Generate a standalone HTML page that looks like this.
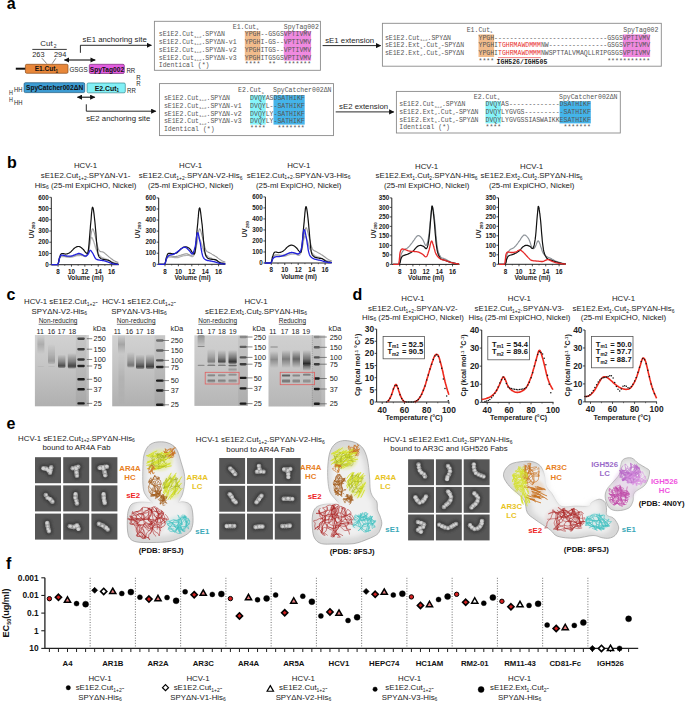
<!DOCTYPE html><html><head><meta charset="utf-8"><title>Figure</title><style>html,body{margin:0;padding:0;background:#fff;}svg{display:block;font-family:"Liberation Sans",sans-serif;}.m{font-family:"Liberation Mono",monospace;white-space:pre;}</style></head><body>
<svg width="685" height="704" viewBox="0 0 685 704">
<defs><marker id="ah" viewBox="0 0 10 10" refX="9" refY="5" markerWidth="5.6" markerHeight="5.2" markerUnits="userSpaceOnUse" orient="auto-start-reverse"><path d="M0,0 L10,5 L0,10 z" fill="#111"/></marker><filter id="bl1" x="-50%" y="-50%" width="200%" height="200%"><feGaussianBlur stdDeviation="0.7"/></filter><filter id="bl2" x="-50%" y="-50%" width="200%" height="200%"><feGaussianBlur stdDeviation="1.2"/></filter><filter id="bl4" x="-20%" y="-20%" width="140%" height="140%"><feGaussianBlur stdDeviation="2.6"/></filter><filter id="bl3" x="-20%" y="-20%" width="140%" height="140%"><feGaussianBlur stdDeviation="0.45"/></filter><linearGradient id="dens" x1="0" y1="0" x2="1" y2="1"><stop offset="0" stop-color="#f4f4f4"/><stop offset="1" stop-color="#dcdcdc"/></linearGradient></defs>
<rect width="685" height="704" fill="#fff"/>
<g fill="#222">
<text x="6.8" y="9.4" font-size="16" font-weight="bold" fill="#000">a</text>
<text x="6.9" y="168" font-size="16" font-weight="bold" fill="#000">b</text>
<text x="6.6" y="300.4" font-size="16" font-weight="bold" fill="#000">c</text>
<text x="352.6" y="299.7" font-size="16" font-weight="bold" fill="#000">d</text>
<text x="6.4" y="429" font-size="16" font-weight="bold" fill="#000">e</text>
<text x="6" y="568.9" font-size="16" font-weight="bold" fill="#000">f</text>
<text x="40.3" y="46.3" font-size="7.9" fill="#262626">Cut<tspan font-size="5" dx="1.2" dy="1.6">2</tspan></text>
<line x1="32.3" y1="49.4" x2="66.8" y2="49.4" stroke="#222" stroke-width="0.9"/>
<text x="32.2" y="57.2" font-size="7.4" fill="#262626">263</text>
<text x="54" y="57.2" font-size="7.4" fill="#262626">294</text>
<line x1="41.9" y1="58.2" x2="46.7" y2="63.6" stroke="#333" stroke-width="0.6"/>
<line x1="55.9" y1="58.2" x2="52.2" y2="63.6" stroke="#333" stroke-width="0.6"/>
<line x1="15.8" y1="68.7" x2="25.5" y2="68.7" stroke="#111" stroke-width="2"/>
<rect x="25.4" y="64.3" width="42.6" height="9" fill="#E8873A" stroke="#8a4a1a" stroke-width="0.7" rx="1.3"/>
<text x="46.4" y="71.3" font-size="6.6" font-weight="bold" text-anchor="middle" fill="#111">E1.Cut<tspan font-size="4.5" dy="1.3">1</tspan></text>
<text x="69.4" y="71.5" font-size="7.3" fill="#262626" textLength="18.2" lengthAdjust="spacingAndGlyphs">GSGS</text>
<rect x="89.3" y="64.3" width="35" height="9.2" fill="#E25CE0" stroke="#7a2a7a" stroke-width="0.7" rx="1.3"/>
<text x="106.9" y="71.5" font-size="6.6" text-anchor="middle" font-weight="bold" fill="#111">SpyTag002</text>
<text x="126.4" y="72.8" font-size="7" fill="#262626" textLength="8.8" lengthAdjust="spacingAndGlyphs">RR</text>
<text x="136.3" y="79.6" font-size="7" fill="#262626" textLength="4.4" lengthAdjust="spacingAndGlyphs">R</text>
<text x="136.3" y="86" font-size="7" fill="#262626" textLength="4.4" lengthAdjust="spacingAndGlyphs">R</text>
<rect x="24.1" y="82.7" width="60.6" height="9.9" fill="#3C9BD2" stroke="#1d5a80" stroke-width="0.7" rx="1.3"/>
<text x="54.6" y="90.1" font-size="6.6" text-anchor="middle" font-weight="bold" fill="#111">SpyCatcher002ΔN</text>
<rect x="87.1" y="83" width="38.2" height="9.8" fill="#82F0F6" stroke="#3a8a90" stroke-width="0.7" rx="1.3"/>
<text x="106.8" y="90.5" font-size="6.9" font-weight="bold" text-anchor="middle" fill="#111">E2.Cut<tspan font-size="4.5" dy="1.3">1</tspan></text>
<text x="127" y="92.6" font-size="7" fill="#262626" textLength="8.8" lengthAdjust="spacingAndGlyphs">RR</text>
<text x="13.9" y="91.8" font-size="7.6" fill="#262626" textLength="8.5" lengthAdjust="spacingAndGlyphs">HH</text>
<text x="8.9" y="95" font-size="6.6" fill="#262626" textLength="3.9" lengthAdjust="spacingAndGlyphs">H</text>
<text x="8.9" y="101.7" font-size="6.6" fill="#262626" textLength="3.9" lengthAdjust="spacingAndGlyphs">H</text>
<text x="13.9" y="104.7" font-size="7.6" fill="#262626" textLength="8.5" lengthAdjust="spacingAndGlyphs">HH</text>
<line x1="64.4" y1="60" x2="95.2" y2="60" stroke="#111" stroke-width="1.1" marker-start="url(#ah)" marker-end="url(#ah)"/>
<line x1="77.4" y1="97.2" x2="94.8" y2="97.2" stroke="#111" stroke-width="1.1" marker-start="url(#ah)" marker-end="url(#ah)"/>
<polyline points="80.4,52.8 80.4,45.3 151.4,45.3" fill="none" stroke="#111" stroke-width="0.9" marker-end="url(#ah)"/>
<text x="82.6" y="42" font-size="7.8" fill="#262626">sE1 anchoring site</text>
<polyline points="86.3,104.3 86.3,111.2 155.8,111.2" fill="none" stroke="#111" stroke-width="0.9" marker-end="url(#ah)"/>
<text x="86.2" y="120.6" font-size="7.8" fill="#262626">sE2 anchoring site</text>
<polyline points="322.6,45.6 380.6,45.6" fill="none" stroke="#111" stroke-width="0.9" marker-end="url(#ah)"/>
<text x="325.2" y="42.5" font-size="7.8" fill="#262626">sE1 extension</text>
<polyline points="335.7,111.9 393.8,111.9" fill="none" stroke="#111" stroke-width="0.9" marker-end="url(#ah)"/>
<text x="339.1" y="108.6" font-size="7.8" fill="#262626">sE2 extension</text>
<rect x="154.4" y="21.3" width="166" height="49" fill="none" stroke="#8a8a8a" stroke-width="0.9"/>
<rect x="244.8" y="31" width="15.6" height="29.6" fill="#F2BC8C"/>
<rect x="283.8" y="31" width="27.3" height="29.6" fill="#F08AE0"/>
<text x="232.8" y="28.5" font-size="6.5" fill="#555" class="m">E1.Cut<tspan font-size="4.2" dy="1.3">1</tspan></text>
<text x="283.8" y="28.5" font-size="6.5" fill="#555" class="m">SpyTag002</text>
<text x="158.8" y="36.3" font-size="6.5" fill="#555" class="m">sE1E2.Cut<tspan font-size="4.2" dy="1.3">1+2</tspan><tspan dy="-1.3">.SPYΔN</tspan></text>
<text x="244.8" y="36.3" font-size="6.5" fill="#555" class="m">YPGH--GSGSVPTIVMV</text>
<text x="158.8" y="44" font-size="6.5" fill="#555" class="m">sE1E2.Cut<tspan font-size="4.2" dy="1.3">1+2</tspan><tspan dy="-1.3">.SPYΔN-v1</tspan></text>
<text x="244.8" y="44" font-size="6.5" fill="#555" class="m">YPGHI-GS--VPTIVMV</text>
<text x="158.8" y="51.8" font-size="6.5" fill="#555" class="m">sE1E2.Cut<tspan font-size="4.2" dy="1.3">1+2</tspan><tspan dy="-1.3">.SPYΔN-v2</tspan></text>
<text x="244.8" y="51.8" font-size="6.5" fill="#555" class="m">YPGHITGS--VPTIVMV</text>
<text x="158.8" y="59.5" font-size="6.5" fill="#555" class="m">sE1E2.Cut<tspan font-size="4.2" dy="1.3">1+2</tspan><tspan dy="-1.3">.SPYΔN-v3</tspan></text>
<text x="244.8" y="59.5" font-size="6.5" fill="#555" class="m">YPGHITGSGSVPTIVMV</text>
<text x="158.8" y="67.3" font-size="6.5" fill="#555" class="m">Identical (*)</text>
<text x="244.8" y="66.3" font-size="6.5" fill="#555" class="m">****  **  *******</text>
<rect x="382.4" y="23.3" width="278.9" height="42.9" fill="none" stroke="#8a8a8a" stroke-width="0.9"/>
<rect x="478.5" y="34.4" width="15.6" height="22.6" fill="#F2BC8C"/>
<rect x="622.8" y="34.4" width="27.3" height="22.6" fill="#F08AE0"/>
<text x="466.7" y="31.7" font-size="6.5" fill="#555" class="m">E1.Cut<tspan font-size="4.2" dy="1.3">1</tspan></text>
<text x="623.3" y="31.7" font-size="6.5" fill="#555" class="m">SpyTag002</text>
<text x="384.9" y="39.5" font-size="6.5" fill="#555" class="m">sE1E2.Cut<tspan font-size="4.2" dy="1.3">1+2</tspan><tspan dy="-1.3">.SPYΔN</tspan></text>
<text x="478.5" y="39.5" font-size="6.5" fill="#555" class="m">YPGH-----------------------------GSGSVPTIVMV</text>
<text x="384.9" y="47.2" font-size="6.5" fill="#555" class="m">sE1E2.Ext<tspan font-size="4.2" dy="1.3">1</tspan><tspan dy="-1.3">.Cut</tspan><tspan font-size="4.2" dy="1.3">2</tspan><tspan dy="-1.3">-SPYΔN</tspan></text>
<text x="478.5" y="47.2" font-size="6.5" fill="#555" class="m">YPGHI</text>
<text x="498" y="47.2" font-size="6.5" fill="#E83030" class="m">TGHRMAWDMMM</text>
<text x="540.9" y="47.2" font-size="6.5" fill="#555" class="m">NW---------------GSGSVPTIVMV</text>
<text x="384.9" y="54.9" font-size="6.5" fill="#555" class="m">sE1E2.Ext<tspan font-size="4.2" dy="1.3">2</tspan><tspan dy="-1.3">.Cut</tspan><tspan font-size="4.2" dy="1.3">2</tspan><tspan dy="-1.3">-SPYΔN</tspan></text>
<text x="478.5" y="54.9" font-size="6.5" fill="#555" class="m">YPGHI</text>
<text x="498" y="54.9" font-size="6.5" fill="#E83030" class="m">TGHRMAWDMMM</text>
<text x="540.9" y="54.9" font-size="6.5" fill="#555" class="m">NWSPTTALVMAQLLRIPGSGSVPTIVMV</text>
<line x1="498" y1="57.6" x2="540.9" y2="57.6" stroke="#E83030" stroke-width="0.6"/>
<text x="478.5" y="62.8" font-size="6.5" fill="#555" class="m">****                             ***********</text>
<text x="496.6" y="63.6" font-size="6.5" font-weight="bold" fill="#222" class="m">IGH526/IGH505</text>
<rect x="159.5" y="83.6" width="174" height="52" fill="none" stroke="#8a8a8a" stroke-width="0.9"/>
<rect x="250.1" y="95.1" width="15.6" height="29.5" fill="#86F4FA"/>
<rect x="273.5" y="95.1" width="31.2" height="29.5" fill="#44B4EA"/>
<text x="238.0" y="92.4" font-size="6.5" fill="#555" class="m">E2.Cut<tspan font-size="4.2" dy="1.3">1</tspan></text>
<text x="273.0" y="92.4" font-size="6.5" fill="#555" class="m">SpyCatcher002ΔN</text>
<text x="163.9" y="100" font-size="6.5" fill="#555" class="m">sE1E2.Cut<tspan font-size="4.2" dy="1.3">1+2</tspan><tspan dy="-1.3">.SPYΔN</tspan></text>
<text x="250.1" y="100" font-size="6.5" fill="#555" class="m">DVQYASDSATHIKF</text>
<text x="163.9" y="107.7" font-size="6.5" fill="#555" class="m">sE1E2.Cut<tspan font-size="4.2" dy="1.3">1+2</tspan><tspan dy="-1.3">.SPYΔN-v1</tspan></text>
<text x="250.1" y="107.7" font-size="6.5" fill="#555" class="m">DVQYL--SATHIKF</text>
<text x="163.9" y="115.5" font-size="6.5" fill="#555" class="m">sE1E2.Cut<tspan font-size="4.2" dy="1.3">1+2</tspan><tspan dy="-1.3">.SPYΔN-v2</tspan></text>
<text x="250.1" y="115.5" font-size="6.5" fill="#555" class="m">DVQYLY-SATHIKF</text>
<text x="163.9" y="123.2" font-size="6.5" fill="#555" class="m">sE1E2.Cut<tspan font-size="4.2" dy="1.3">1+2</tspan><tspan dy="-1.3">.SPYΔN-v3</tspan></text>
<text x="250.1" y="123.2" font-size="6.5" fill="#555" class="m">DVQYLY-SATHIKF</text>
<text x="163.9" y="131" font-size="6.5" fill="#555" class="m">Identical (*)</text>
<text x="250.1" y="130" font-size="6.5" fill="#555" class="m">****   *******</text>
<rect x="396.4" y="91.4" width="223.9" height="41.6" fill="none" stroke="#8a8a8a" stroke-width="0.9"/>
<rect x="485.5" y="101.3" width="15.6" height="22.1" fill="#86F4FA"/>
<rect x="559.6" y="101.3" width="31.2" height="22.1" fill="#44B4EA"/>
<text x="473.8" y="98.7" font-size="6.5" fill="#555" class="m">E2.Cut<tspan font-size="4.2" dy="1.3">1</tspan></text>
<text x="559.0" y="98.5" font-size="6.5" fill="#555" class="m">SpyCatcher002ΔN</text>
<text x="399.3" y="106.3" font-size="6.5" fill="#555" class="m">sE1E2.Cut<tspan font-size="4.2" dy="1.3">1+2</tspan><tspan dy="-1.3">.SPYΔN</tspan></text>
<text x="485.5" y="106.3" font-size="6.5" fill="#555" class="m">DVQYAS-------------DSATHIKF</text>
<text x="399.3" y="114.1" font-size="6.5" fill="#555" class="m">sE1E2.Ext<tspan font-size="4.2" dy="1.3">2</tspan><tspan dy="-1.3">.Cut</tspan><tspan font-size="4.2" dy="1.3">2</tspan><tspan dy="-1.3">-SPYΔN</tspan></text>
<text x="485.5" y="114.1" font-size="6.5" fill="#555" class="m">DVQYLYGVGS----------SATHIKF</text>
<text x="399.3" y="121.8" font-size="6.5" fill="#555" class="m">sE1E2.Ext<tspan font-size="4.2" dy="1.3">1</tspan><tspan dy="-1.3">.Cut</tspan><tspan font-size="4.2" dy="1.3">2</tspan><tspan dy="-1.3">-SPYΔN</tspan></text>
<text x="485.5" y="121.8" font-size="6.5" fill="#555" class="m">DVQYLYGVGSSIASWAIKKESATHIKF</text>
<text x="399.3" y="129.3" font-size="6.5" fill="#555" class="m">Identical (*)</text>
<text x="485.5" y="128.5" font-size="6.5" fill="#555" class="m">****                *******</text>
<path d="M51.3,197.3 L51.3,264.7 L118.8,264.7" fill="none" stroke="#222" stroke-width="1"/>
<line x1="49.3" y1="264.7" x2="51.3" y2="264.7" stroke="#222" stroke-width="0.8"/>
<text x="48.7" y="266.9" font-size="6.3" text-anchor="end" font-weight="bold">0</text>
<line x1="49.3" y1="253.47" x2="51.3" y2="253.47" stroke="#222" stroke-width="0.8"/>
<text x="48.7" y="255.67" font-size="6.3" text-anchor="end" font-weight="bold">100</text>
<line x1="49.3" y1="242.23" x2="51.3" y2="242.23" stroke="#222" stroke-width="0.8"/>
<text x="48.7" y="244.43" font-size="6.3" text-anchor="end" font-weight="bold">200</text>
<line x1="49.3" y1="231" x2="51.3" y2="231" stroke="#222" stroke-width="0.8"/>
<text x="48.7" y="233.2" font-size="6.3" text-anchor="end" font-weight="bold">300</text>
<line x1="49.3" y1="219.77" x2="51.3" y2="219.77" stroke="#222" stroke-width="0.8"/>
<text x="48.7" y="221.97" font-size="6.3" text-anchor="end" font-weight="bold">400</text>
<line x1="49.3" y1="208.53" x2="51.3" y2="208.53" stroke="#222" stroke-width="0.8"/>
<text x="48.7" y="210.73" font-size="6.3" text-anchor="end" font-weight="bold">500</text>
<line x1="49.3" y1="197.3" x2="51.3" y2="197.3" stroke="#222" stroke-width="0.8"/>
<text x="48.7" y="199.5" font-size="6.3" text-anchor="end" font-weight="bold">600</text>
<line x1="58.1" y1="264.7" x2="58.1" y2="266.7" stroke="#222" stroke-width="0.8"/>
<text x="58.1" y="273.9" font-size="6.3" text-anchor="middle" font-weight="bold">8</text>
<line x1="71.47" y1="264.7" x2="71.47" y2="266.7" stroke="#222" stroke-width="0.8"/>
<text x="71.47" y="273.9" font-size="6.3" text-anchor="middle" font-weight="bold">10</text>
<line x1="84.85" y1="264.7" x2="84.85" y2="266.7" stroke="#222" stroke-width="0.8"/>
<text x="84.85" y="273.9" font-size="6.3" text-anchor="middle" font-weight="bold">12</text>
<line x1="98.22" y1="264.7" x2="98.22" y2="266.7" stroke="#222" stroke-width="0.8"/>
<text x="98.22" y="273.9" font-size="6.3" text-anchor="middle" font-weight="bold">14</text>
<line x1="111.6" y1="264.7" x2="111.6" y2="266.7" stroke="#222" stroke-width="0.8"/>
<text x="111.6" y="273.9" font-size="6.3" text-anchor="middle" font-weight="bold">16</text>
<line x1="64.79" y1="264.7" x2="64.79" y2="265.9" stroke="#222" stroke-width="0.6"/>
<line x1="78.16" y1="264.7" x2="78.16" y2="265.9" stroke="#222" stroke-width="0.6"/>
<line x1="91.54" y1="264.7" x2="91.54" y2="265.9" stroke="#222" stroke-width="0.6"/>
<line x1="104.91" y1="264.7" x2="104.91" y2="265.9" stroke="#222" stroke-width="0.6"/>
<text x="85.55" y="280.3" font-size="6.4" text-anchor="middle" font-weight="bold">Volume (ml)</text>
<text transform="translate(33.5,230.3) rotate(-90)" font-size="6.6" font-weight="bold" text-anchor="middle" fill="#222">UV<tspan font-size="4.3" dy="1.5">280</tspan></text>
<path d="M51.4,264.7 L51.9,264.7 L52.6,264.7 L53.4,264.7 L54.3,264.7 L55.2,264.7 L56.0,264.7 L56.8,264.7 L57.4,264.7 L57.9,264.1 L58.3,263.2 L58.6,262.2 L58.9,261.1 L59.2,260.0 L59.5,258.9 L59.8,258.0 L60.1,257.4 L60.5,257.0 L60.8,256.7 L61.2,256.6 L61.5,256.5 L61.9,256.5 L62.4,256.6 L62.9,256.6 L63.5,256.6 L64.1,256.6 L64.9,256.7 L65.7,256.9 L66.6,257.0 L67.5,257.1 L68.4,257.2 L69.3,257.3 L70.1,257.3 L71.0,257.2 L71.8,257.0 L72.7,256.8 L73.6,256.6 L74.4,256.3 L75.2,256.1 L76.1,255.9 L76.8,255.7 L77.6,255.6 L78.3,255.5 L79.0,255.5 L79.7,255.5 L80.3,255.4 L81.0,255.4 L81.6,255.5 L82.2,255.5 L82.7,255.6 L83.3,255.8 L83.8,256.1 L84.3,256.3 L84.8,256.5 L85.3,256.6 L85.8,256.6 L86.2,256.3 L86.6,255.8 L87.0,255.1 L87.3,254.3 L87.6,253.4 L87.9,252.4 L88.2,251.3 L88.6,250.1 L88.9,249.0 L89.2,247.7 L89.5,246.1 L89.8,244.4 L90.1,242.7 L90.3,241.1 L90.6,239.6 L90.9,238.5 L91.2,237.7 L91.5,237.4 L91.8,237.4 L92.0,237.6 L92.3,238.1 L92.6,238.7 L92.9,239.5 L93.2,240.3 L93.5,241.1 L93.9,242.1 L94.3,243.3 L94.7,244.6 L95.1,246.0 L95.5,247.5 L96.0,248.9 L96.4,250.1 L96.9,251.2 L97.3,252.2 L97.8,253.0 L98.3,253.8 L98.8,254.5 L99.3,255.2 L99.8,255.8 L100.3,256.3 L100.9,256.8 L101.5,257.3 L102.1,257.6 L102.8,257.9 L103.5,258.1 L104.2,258.3 L104.9,258.6 L105.6,258.8 L106.2,259.1 L106.9,259.4 L107.6,259.8 L108.2,260.1 L108.8,260.5 L109.5,260.9 L110.2,261.3 L110.9,261.6 L111.6,261.9 L112.4,262.2 L113.3,262.4 L114.3,262.7 L115.3,262.9 L116.2,263.1 L117.1,263.3 L117.8,263.5 L118.3,263.6" fill="none" stroke="#b4b4b4" stroke-width="1.3" stroke-linejoin="round"/>
<path d="M51.4,264.7 L51.9,264.7 L52.6,264.7 L53.4,264.7 L54.3,264.7 L55.2,264.7 L56.0,264.7 L56.8,264.7 L57.4,264.7 L57.9,264.0 L58.3,263.1 L58.7,262.0 L59.0,260.8 L59.3,259.6 L59.5,258.5 L59.8,257.6 L60.1,256.8 L60.4,256.4 L60.7,256.0 L61.0,255.8 L61.2,255.7 L61.5,255.7 L61.9,255.7 L62.3,255.7 L62.8,255.7 L63.4,255.7 L64.1,255.8 L64.8,256.0 L65.6,256.2 L66.4,256.3 L67.2,256.5 L68.0,256.6 L68.8,256.6 L69.6,256.6 L70.3,256.5 L71.1,256.3 L71.9,256.2 L72.7,256.0 L73.4,255.8 L74.1,255.6 L74.8,255.5 L75.5,255.3 L76.1,255.1 L76.6,255.0 L77.2,254.8 L77.8,254.6 L78.3,254.5 L78.9,254.4 L79.5,254.4 L80.2,254.4 L80.8,254.6 L81.5,254.9 L82.3,255.2 L83.0,255.4 L83.6,255.7 L84.3,255.8 L84.8,255.7 L85.4,255.6 L85.8,255.5 L86.3,255.4 L86.7,255.2 L87.1,254.8 L87.5,254.2 L87.8,253.4 L88.2,252.3 L88.6,250.8 L88.9,248.8 L89.3,246.6 L89.6,244.1 L89.9,241.7 L90.3,239.3 L90.6,237.2 L90.9,235.5 L91.1,234.1 L91.4,232.7 L91.6,231.5 L91.9,230.5 L92.1,229.7 L92.3,229.1 L92.6,228.8 L92.9,228.8 L93.2,229.1 L93.5,229.8 L93.8,230.8 L94.1,232.1 L94.5,233.4 L94.8,234.9 L95.2,236.3 L95.5,237.7 L95.9,239.2 L96.3,240.8 L96.7,242.6 L97.1,244.3 L97.5,246.1 L97.9,247.6 L98.4,249.0 L98.9,250.1 L99.4,250.8 L100.0,251.3 L100.5,251.6 L101.1,251.7 L101.7,251.8 L102.3,251.9 L102.9,252.0 L103.6,252.3 L104.2,252.8 L104.9,253.3 L105.5,253.9 L106.2,254.5 L106.9,255.1 L107.6,255.7 L108.3,256.3 L108.9,256.8 L109.6,257.4 L110.3,257.9 L111.0,258.5 L111.7,259.0 L112.4,259.5 L113.0,260.0 L113.7,260.4 L114.3,260.8 L114.9,261.1 L115.5,261.4 L116.1,261.6 L116.6,261.9 L117.1,262.0 L117.6,262.2 L118.0,262.3 L118.3,262.5" fill="none" stroke="#9c9c9c" stroke-width="1.1" stroke-linejoin="round"/>
<path d="M51.4,264.7 L51.9,264.7 L52.6,264.7 L53.4,264.7 L54.3,264.7 L55.2,264.7 L56.1,264.7 L56.8,264.7 L57.4,264.7 L57.9,264.2 L58.2,263.4 L58.5,262.6 L58.7,261.6 L58.9,260.6 L59.0,259.6 L59.2,258.7 L59.4,258.0 L59.7,257.3 L59.9,256.6 L60.1,256.0 L60.3,255.4 L60.5,254.8 L60.8,254.4 L61.1,254.0 L61.4,253.7 L61.9,253.5 L62.4,253.5 L63.0,253.6 L63.7,253.7 L64.3,253.8 L64.9,254.0 L65.6,254.1 L66.1,254.0 L66.7,253.9 L67.2,253.8 L67.6,253.7 L68.1,253.5 L68.6,253.3 L69.1,253.0 L69.6,252.7 L70.1,252.3 L70.7,251.9 L71.3,251.3 L71.9,250.7 L72.5,250.1 L73.1,249.4 L73.7,248.8 L74.3,248.3 L74.8,247.8 L75.4,247.5 L75.9,247.2 L76.4,246.9 L76.9,246.7 L77.4,246.6 L77.8,246.5 L78.3,246.5 L78.8,246.5 L79.3,246.6 L79.9,246.8 L80.4,247.1 L80.9,247.4 L81.4,247.8 L81.9,248.2 L82.4,248.6 L82.8,249.0 L83.3,249.4 L83.8,250.0 L84.2,250.6 L84.6,251.2 L85.1,251.8 L85.5,252.3 L85.8,252.7 L86.2,252.9 L86.5,253.1 L86.8,253.4 L87.0,253.7 L87.3,253.9 L87.5,253.9 L87.7,253.5 L87.9,252.6 L88.2,251.2 L88.5,249.1 L88.8,246.3 L89.1,243.0 L89.4,239.3 L89.7,235.6 L90.0,231.9 L90.3,228.4 L90.5,225.4 L90.8,222.5 L91.1,219.5 L91.3,216.5 L91.5,213.7 L91.8,211.3 L92.0,209.2 L92.3,207.8 L92.5,207.2 L92.8,207.4 L93.1,208.2 L93.4,209.7 L93.7,211.6 L94.0,213.9 L94.3,216.5 L94.6,219.2 L94.9,222.0 L95.2,225.1 L95.5,228.8 L95.9,232.9 L96.2,237.1 L96.5,241.3 L96.9,245.2 L97.2,248.5 L97.6,251.2 L97.9,253.2 L98.2,254.6 L98.5,255.6 L98.8,256.3 L99.1,256.8 L99.4,257.2 L99.8,257.5 L100.2,258.0 L100.7,258.4 L101.3,258.8 L101.9,259.0 L102.5,259.2 L103.1,259.3 L103.7,259.4 L104.3,259.5 L104.9,259.6 L105.4,259.8 L106.0,259.9 L106.5,259.9 L107.0,260.0 L107.4,260.0 L107.9,260.1 L108.4,260.3 L108.9,260.4 L109.4,260.7 L109.9,261.0 L110.4,261.3 L110.8,261.7 L111.3,262.1 L111.8,262.4 L112.4,262.7 L112.9,263.0 L113.6,263.2 L114.3,263.4 L115.1,263.6 L115.9,263.8 L116.6,263.9 L117.3,264.1 L117.9,264.2 L118.3,264.3" fill="none" stroke="#111" stroke-width="1.2" stroke-linejoin="round"/>
<path d="M51.4,264.7 L51.9,264.7 L52.6,264.7 L53.4,264.7 L54.3,264.7 L55.2,264.7 L56.0,264.7 L56.8,264.7 L57.4,264.7 L57.9,264.1 L58.3,263.3 L58.6,262.3 L58.9,261.2 L59.1,260.1 L59.3,259.0 L59.5,258.1 L59.8,257.4 L60.0,256.9 L60.2,256.4 L60.3,256.1 L60.5,255.8 L60.6,255.5 L60.8,255.4 L61.1,255.3 L61.4,255.2 L61.9,255.1 L62.4,255.1 L63.0,255.2 L63.6,255.4 L64.2,255.6 L64.9,255.7 L65.5,255.8 L66.1,255.9 L66.7,256.0 L67.3,256.1 L67.9,256.1 L68.5,256.2 L69.1,256.2 L69.7,256.2 L70.3,256.2 L70.8,256.2 L71.3,256.1 L71.9,255.9 L72.4,255.8 L72.9,255.6 L73.3,255.4 L73.8,255.2 L74.3,255.0 L74.8,254.8 L75.3,254.6 L75.8,254.4 L76.4,254.2 L76.9,254.0 L77.4,253.8 L77.9,253.6 L78.4,253.5 L78.8,253.5 L79.3,253.5 L79.7,253.6 L80.1,253.7 L80.5,253.8 L81.0,254.0 L81.4,254.2 L81.8,254.4 L82.2,254.6 L82.6,254.8 L83.0,255.0 L83.5,255.3 L83.9,255.6 L84.3,255.8 L84.7,256.0 L85.1,256.1 L85.5,256.2 L85.9,256.1 L86.3,255.9 L86.6,255.7 L86.9,255.4 L87.3,255.1 L87.6,254.8 L87.9,254.4 L88.2,254.0 L88.5,253.6 L88.7,253.1 L89.0,252.5 L89.2,251.8 L89.4,251.3 L89.7,250.8 L89.9,250.5 L90.2,250.3 L90.5,250.4 L90.8,250.6 L91.2,250.9 L91.5,251.3 L91.8,251.8 L92.2,252.4 L92.5,252.9 L92.9,253.5 L93.2,254.0 L93.5,254.7 L93.8,255.4 L94.2,256.1 L94.5,256.8 L94.8,257.5 L95.2,258.0 L95.5,258.5 L95.9,258.9 L96.3,259.2 L96.7,259.4 L97.1,259.5 L97.5,259.6 L97.9,259.8 L98.4,259.9 L98.9,260.0 L99.4,260.1 L100.0,260.2 L100.6,260.3 L101.2,260.3 L101.8,260.4 L102.4,260.5 L103.0,260.6 L103.6,260.7 L104.1,260.8 L104.6,260.9 L105.1,261.0 L105.5,261.2 L106.0,261.4 L106.5,261.5 L107.0,261.7 L107.6,261.9 L108.2,262.1 L108.8,262.4 L109.5,262.6 L110.2,262.9 L110.9,263.1 L111.6,263.4 L112.3,263.6 L112.9,263.8 L113.6,263.9 L114.4,264.1 L115.2,264.2 L115.9,264.3 L116.7,264.3 L117.3,264.4 L117.9,264.4 L118.3,264.5" fill="none" stroke="#2222dd" stroke-width="1.3" stroke-linejoin="round"/>
<text x="85.5" y="168.2" font-size="7.85" text-anchor="middle" fill="#222">HCV-1</text>
<text x="85.5" y="178" font-size="7.85" text-anchor="middle" fill="#222">sE1E2.Cut<tspan font-size="5" dy="1.6">1+2</tspan><tspan dy="-1.6">.SPYΔN-V1-</tspan></text>
<text x="85.5" y="187.8" font-size="7.85" text-anchor="middle" fill="#222">His<tspan font-size="5" dy="1.6">6</tspan><tspan dy="-1.6"> </tspan>(25-ml ExpiCHO, Nickel)</text>
<path d="M158.7,197.9 L158.7,264.3 L225.3,264.3" fill="none" stroke="#222" stroke-width="1"/>
<line x1="156.7" y1="264.3" x2="158.7" y2="264.3" stroke="#222" stroke-width="0.8"/>
<text x="156.1" y="266.5" font-size="6.3" text-anchor="end" font-weight="bold">0</text>
<line x1="156.7" y1="253.23" x2="158.7" y2="253.23" stroke="#222" stroke-width="0.8"/>
<text x="156.1" y="255.43" font-size="6.3" text-anchor="end" font-weight="bold">100</text>
<line x1="156.7" y1="242.17" x2="158.7" y2="242.17" stroke="#222" stroke-width="0.8"/>
<text x="156.1" y="244.37" font-size="6.3" text-anchor="end" font-weight="bold">200</text>
<line x1="156.7" y1="231.1" x2="158.7" y2="231.1" stroke="#222" stroke-width="0.8"/>
<text x="156.1" y="233.3" font-size="6.3" text-anchor="end" font-weight="bold">300</text>
<line x1="156.7" y1="220.03" x2="158.7" y2="220.03" stroke="#222" stroke-width="0.8"/>
<text x="156.1" y="222.23" font-size="6.3" text-anchor="end" font-weight="bold">400</text>
<line x1="156.7" y1="208.97" x2="158.7" y2="208.97" stroke="#222" stroke-width="0.8"/>
<text x="156.1" y="211.17" font-size="6.3" text-anchor="end" font-weight="bold">500</text>
<line x1="156.7" y1="197.9" x2="158.7" y2="197.9" stroke="#222" stroke-width="0.8"/>
<text x="156.1" y="200.1" font-size="6.3" text-anchor="end" font-weight="bold">600</text>
<line x1="165" y1="264.3" x2="165" y2="266.3" stroke="#222" stroke-width="0.8"/>
<text x="165" y="273.5" font-size="6.3" text-anchor="middle" font-weight="bold">8</text>
<line x1="178.4" y1="264.3" x2="178.4" y2="266.3" stroke="#222" stroke-width="0.8"/>
<text x="178.4" y="273.5" font-size="6.3" text-anchor="middle" font-weight="bold">10</text>
<line x1="191.8" y1="264.3" x2="191.8" y2="266.3" stroke="#222" stroke-width="0.8"/>
<text x="191.8" y="273.5" font-size="6.3" text-anchor="middle" font-weight="bold">12</text>
<line x1="205.2" y1="264.3" x2="205.2" y2="266.3" stroke="#222" stroke-width="0.8"/>
<text x="205.2" y="273.5" font-size="6.3" text-anchor="middle" font-weight="bold">14</text>
<line x1="218.6" y1="264.3" x2="218.6" y2="266.3" stroke="#222" stroke-width="0.8"/>
<text x="218.6" y="273.5" font-size="6.3" text-anchor="middle" font-weight="bold">16</text>
<line x1="171.7" y1="264.3" x2="171.7" y2="265.5" stroke="#222" stroke-width="0.6"/>
<line x1="185.1" y1="264.3" x2="185.1" y2="265.5" stroke="#222" stroke-width="0.6"/>
<line x1="198.5" y1="264.3" x2="198.5" y2="265.5" stroke="#222" stroke-width="0.6"/>
<line x1="211.9" y1="264.3" x2="211.9" y2="265.5" stroke="#222" stroke-width="0.6"/>
<text x="192.5" y="279.9" font-size="6.4" text-anchor="middle" font-weight="bold">Volume (ml)</text>
<text transform="translate(139.9,230.4) rotate(-90)" font-size="6.6" font-weight="bold" text-anchor="middle" fill="#222">UV<tspan font-size="4.3" dy="1.5">280</tspan></text>
<path d="M158.3,264.3 L158.8,264.3 L159.5,264.3 L160.3,264.3 L161.1,264.3 L162.0,264.3 L162.9,264.3 L163.7,264.3 L164.3,264.3 L164.8,263.8 L165.2,263.1 L165.6,262.2 L165.8,261.3 L166.1,260.4 L166.4,259.5 L166.7,258.8 L167.0,258.2 L167.4,257.8 L167.7,257.5 L168.1,257.4 L168.4,257.2 L168.8,257.2 L169.3,257.1 L169.8,257.1 L170.4,257.1 L171.0,257.1 L171.8,257.2 L172.6,257.3 L173.5,257.4 L174.4,257.6 L175.3,257.7 L176.2,257.7 L177.1,257.7 L177.9,257.5 L178.8,257.3 L179.6,257.0 L180.5,256.7 L181.3,256.4 L182.2,256.1 L183.0,255.8 L183.8,255.7 L184.5,255.5 L185.2,255.5 L185.9,255.4 L186.6,255.4 L187.3,255.4 L187.9,255.4 L188.5,255.4 L189.1,255.4 L189.7,255.6 L190.3,255.8 L190.8,256.1 L191.3,256.3 L191.8,256.6 L192.3,256.7 L192.7,256.6 L193.1,256.3 L193.5,255.8 L193.9,255.1 L194.3,254.3 L194.6,253.3 L194.9,252.3 L195.2,251.1 L195.5,250.0 L195.8,248.8 L196.1,247.5 L196.4,246.0 L196.7,244.3 L197.0,242.6 L197.3,241.0 L197.6,239.6 L197.9,238.5 L198.2,237.7 L198.5,237.4 L198.7,237.4 L199.0,237.6 L199.3,238.1 L199.6,238.7 L199.9,239.4 L200.2,240.2 L200.5,241.1 L200.9,242.0 L201.3,243.2 L201.7,244.5 L202.1,245.9 L202.5,247.3 L203.0,248.7 L203.4,249.9 L203.9,251.0 L204.3,251.9 L204.8,252.8 L205.3,253.6 L205.7,254.3 L206.2,254.9 L206.8,255.5 L207.3,256.1 L207.9,256.6 L208.5,257.0 L209.1,257.3 L209.8,257.6 L210.5,257.8 L211.2,258.0 L211.9,258.3 L212.6,258.5 L213.2,258.8 L213.9,259.1 L214.5,259.4 L215.2,259.8 L215.8,260.2 L216.5,260.6 L217.2,260.9 L217.9,261.2 L218.6,261.5 L219.4,261.8 L220.3,262.1 L221.3,262.3 L222.3,262.5 L223.2,262.7 L224.1,262.9 L224.8,263.1 L225.3,263.2" fill="none" stroke="#b4b4b4" stroke-width="1.3" stroke-linejoin="round"/>
<path d="M158.3,264.3 L158.8,264.3 L159.5,264.3 L160.3,264.3 L161.1,264.3 L162.0,264.3 L162.9,264.3 L163.7,264.3 L164.3,264.3 L164.8,263.8 L165.2,263.0 L165.6,262.1 L165.9,261.1 L166.2,260.1 L166.4,259.1 L166.7,258.3 L167.0,257.7 L167.3,257.2 L167.6,256.8 L167.9,256.6 L168.1,256.4 L168.4,256.2 L168.8,256.1 L169.2,256.1 L169.7,256.0 L170.3,256.0 L171.0,256.0 L171.7,256.1 L172.5,256.3 L173.3,256.4 L174.1,256.5 L174.9,256.6 L175.7,256.6 L176.5,256.4 L177.3,256.3 L178.0,256.1 L178.8,255.8 L179.6,255.6 L180.3,255.3 L181.1,255.1 L181.8,254.9 L182.4,254.7 L183.0,254.5 L183.6,254.3 L184.1,254.1 L184.7,254.0 L185.3,253.9 L185.8,253.8 L186.4,253.8 L187.1,253.9 L187.8,254.1 L188.5,254.4 L189.2,254.7 L189.9,255.0 L190.6,255.2 L191.2,255.3 L191.8,255.2 L192.3,255.0 L192.8,254.8 L193.2,254.6 L193.6,254.2 L194.0,253.7 L194.4,253.0 L194.8,252.1 L195.2,251.0 L195.5,249.6 L195.9,247.7 L196.2,245.6 L196.6,243.4 L196.9,241.2 L197.2,239.0 L197.5,237.1 L197.8,235.5 L198.1,234.2 L198.4,232.9 L198.6,231.7 L198.8,230.7 L199.1,229.9 L199.3,229.2 L199.6,228.9 L199.8,228.9 L200.1,229.2 L200.4,229.9 L200.8,230.9 L201.1,232.1 L201.4,233.5 L201.8,234.9 L202.1,236.4 L202.5,237.7 L202.9,239.2 L203.3,240.8 L203.7,242.5 L204.1,244.2 L204.5,245.9 L204.9,247.4 L205.4,248.8 L205.9,249.9 L206.4,250.8 L206.9,251.4 L207.5,251.8 L208.1,252.1 L208.7,252.4 L209.3,252.6 L209.9,252.9 L210.6,253.2 L211.2,253.6 L211.9,254.1 L212.5,254.5 L213.2,254.9 L213.9,255.3 L214.6,255.7 L215.2,256.1 L215.9,256.6 L216.6,257.0 L217.3,257.5 L218.0,258.1 L218.7,258.6 L219.4,259.1 L220.0,259.6 L220.7,260.0 L221.3,260.4 L221.9,260.8 L222.5,261.0 L223.1,261.3 L223.6,261.5 L224.1,261.7 L224.6,261.8 L225.0,262.0 L225.3,262.1" fill="none" stroke="#9c9c9c" stroke-width="1.1" stroke-linejoin="round"/>
<path d="M158.3,264.3 L158.8,264.3 L159.5,264.3 L160.3,264.3 L161.2,264.3 L162.1,264.3 L163.0,264.3 L163.7,264.3 L164.3,264.3 L164.8,263.8 L165.1,263.0 L165.4,262.2 L165.6,261.2 L165.8,260.3 L165.9,259.3 L166.1,258.4 L166.3,257.7 L166.6,257.0 L166.8,256.3 L167.0,255.7 L167.2,255.1 L167.4,254.6 L167.7,254.1 L168.0,253.7 L168.3,253.5 L168.8,253.3 L169.3,253.3 L169.9,253.3 L170.6,253.4 L171.2,253.6 L171.9,253.7 L172.5,253.8 L173.0,253.8 L173.6,253.7 L174.1,253.7 L174.6,253.6 L175.0,253.5 L175.5,253.4 L176.0,253.2 L176.5,253.0 L177.1,252.7 L177.6,252.3 L178.2,251.7 L178.8,251.1 L179.4,250.5 L180.0,249.8 L180.6,249.2 L181.2,248.7 L181.8,248.3 L182.3,247.9 L182.8,247.6 L183.3,247.3 L183.8,247.1 L184.3,247.0 L184.8,246.9 L185.3,246.8 L185.8,246.8 L186.3,246.9 L186.8,247.0 L187.3,247.2 L187.8,247.4 L188.3,247.7 L188.8,248.0 L189.3,248.4 L189.8,248.8 L190.2,249.3 L190.7,249.9 L191.2,250.7 L191.6,251.4 L192.0,252.1 L192.4,252.7 L192.8,253.2 L193.1,253.5 L193.5,253.6 L193.7,253.9 L194.0,254.1 L194.2,254.1 L194.4,253.9 L194.7,253.4 L194.9,252.5 L195.2,251.0 L195.4,248.9 L195.7,246.1 L196.0,242.8 L196.3,239.2 L196.6,235.6 L196.9,231.9 L197.2,228.5 L197.5,225.6 L197.8,222.8 L198.0,219.8 L198.3,216.9 L198.5,214.2 L198.7,211.8 L199.0,209.8 L199.2,208.5 L199.5,207.9 L199.8,208.0 L200.1,208.9 L200.3,210.3 L200.6,212.2 L200.9,214.5 L201.2,217.0 L201.5,219.6 L201.8,222.2 L202.2,225.2 L202.5,228.7 L202.8,232.5 L203.2,236.5 L203.5,240.4 L203.9,244.1 L204.2,247.3 L204.5,249.9 L204.9,251.9 L205.2,253.4 L205.4,254.5 L205.7,255.4 L206.1,256.1 L206.4,256.6 L206.8,257.1 L207.2,257.7 L207.7,258.2 L208.3,258.5 L208.9,258.8 L209.5,258.9 L210.1,259.0 L210.7,259.1 L211.3,259.2 L211.9,259.3 L212.4,259.4 L213.0,259.5 L213.5,259.5 L214.0,259.5 L214.4,259.6 L214.9,259.6 L215.4,259.7 L215.9,259.9 L216.4,260.1 L216.9,260.4 L217.4,260.8 L217.8,261.2 L218.3,261.6 L218.8,262.0 L219.4,262.4 L219.9,262.6 L220.6,262.9 L221.3,263.1 L222.1,263.3 L222.9,263.4 L223.6,263.6 L224.3,263.7 L224.9,263.8 L225.3,263.9" fill="none" stroke="#111" stroke-width="1.2" stroke-linejoin="round"/>
<path d="M158.3,264.3 L158.8,264.3 L159.5,264.3 L160.3,264.3 L161.2,264.3 L162.1,264.3 L162.9,264.3 L163.7,264.3 L164.3,264.3 L164.8,263.8 L165.2,263.1 L165.5,262.3 L165.7,261.4 L166.0,260.5 L166.2,259.6 L166.4,258.9 L166.7,258.2 L167.0,257.7 L167.2,257.3 L167.5,256.9 L167.7,256.5 L168.0,256.2 L168.3,256.0 L168.6,255.7 L169.0,255.4 L169.5,255.2 L170.0,255.1 L170.6,254.9 L171.2,254.8 L171.8,254.7 L172.5,254.5 L173.1,254.4 L173.7,254.1 L174.3,253.8 L174.9,253.5 L175.5,253.1 L176.1,252.7 L176.7,252.3 L177.3,251.8 L177.8,251.4 L178.4,251.0 L178.9,250.6 L179.5,250.2 L180.0,249.7 L180.5,249.3 L181.0,248.9 L181.5,248.5 L182.0,248.2 L182.4,247.9 L182.9,247.7 L183.3,247.5 L183.7,247.4 L184.1,247.3 L184.5,247.3 L184.9,247.3 L185.4,247.4 L185.8,247.5 L186.2,247.7 L186.6,248.0 L187.0,248.3 L187.4,248.7 L187.9,249.2 L188.3,249.6 L188.7,250.1 L189.1,250.5 L189.5,250.9 L190.0,251.5 L190.4,252.1 L190.8,252.8 L191.3,253.3 L191.7,253.7 L192.1,253.9 L192.5,253.8 L192.8,253.4 L193.2,252.9 L193.5,252.2 L193.9,251.3 L194.2,250.2 L194.5,249.1 L194.8,247.9 L195.2,246.6 L195.5,245.0 L195.8,243.1 L196.1,240.9 L196.3,238.7 L196.6,236.6 L196.9,234.8 L197.2,233.5 L197.5,232.8 L197.8,232.7 L198.1,233.1 L198.4,234.0 L198.6,235.1 L198.9,236.5 L199.2,238.0 L199.5,239.6 L199.8,241.1 L200.2,242.6 L200.5,244.5 L200.8,246.4 L201.1,248.5 L201.5,250.5 L201.8,252.4 L202.2,254.1 L202.5,255.4 L202.9,256.5 L203.3,257.3 L203.7,258.0 L204.1,258.5 L204.5,258.9 L204.9,259.2 L205.4,259.5 L205.9,259.9 L206.4,260.2 L207.0,260.4 L207.6,260.5 L208.2,260.6 L208.8,260.7 L209.4,260.8 L210.0,260.9 L210.6,261.0 L211.1,261.1 L211.6,261.2 L212.1,261.3 L212.5,261.4 L213.0,261.5 L213.5,261.6 L214.0,261.7 L214.6,261.9 L215.2,262.0 L215.8,262.2 L216.5,262.4 L217.2,262.7 L217.9,262.9 L218.6,263.1 L219.3,263.3 L219.9,263.4 L220.6,263.5 L221.4,263.7 L222.2,263.8 L223.0,263.8 L223.7,263.9 L224.3,264.0 L224.9,264.0 L225.3,264.1" fill="none" stroke="#2222dd" stroke-width="1.3" stroke-linejoin="round"/>
<text x="190.6" y="168.2" font-size="7.85" text-anchor="middle" fill="#222">HCV-1</text>
<text x="190.6" y="178" font-size="7.85" text-anchor="middle" fill="#222">sE1E2.Cut<tspan font-size="5" dy="1.6">1+2</tspan><tspan dy="-1.6">.SPYΔN-V2-</tspan>His<tspan font-size="5" dy="1.6">6</tspan><tspan dy="-1.6"></tspan></text>
<text x="190.6" y="187.8" font-size="7.85" text-anchor="middle" fill="#222">(25-ml ExpiCHO, Nickel)</text>
<path d="M265.4,196.9 L265.4,263 L331.5,263" fill="none" stroke="#222" stroke-width="1"/>
<line x1="263.4" y1="263" x2="265.4" y2="263" stroke="#222" stroke-width="0.8"/>
<text x="262.8" y="265.2" font-size="6.3" text-anchor="end" font-weight="bold">0</text>
<line x1="263.4" y1="251.98" x2="265.4" y2="251.98" stroke="#222" stroke-width="0.8"/>
<text x="262.8" y="254.18" font-size="6.3" text-anchor="end" font-weight="bold">100</text>
<line x1="263.4" y1="240.97" x2="265.4" y2="240.97" stroke="#222" stroke-width="0.8"/>
<text x="262.8" y="243.17" font-size="6.3" text-anchor="end" font-weight="bold">200</text>
<line x1="263.4" y1="229.95" x2="265.4" y2="229.95" stroke="#222" stroke-width="0.8"/>
<text x="262.8" y="232.15" font-size="6.3" text-anchor="end" font-weight="bold">300</text>
<line x1="263.4" y1="218.93" x2="265.4" y2="218.93" stroke="#222" stroke-width="0.8"/>
<text x="262.8" y="221.13" font-size="6.3" text-anchor="end" font-weight="bold">400</text>
<line x1="263.4" y1="207.92" x2="265.4" y2="207.92" stroke="#222" stroke-width="0.8"/>
<text x="262.8" y="210.12" font-size="6.3" text-anchor="end" font-weight="bold">500</text>
<line x1="263.4" y1="196.9" x2="265.4" y2="196.9" stroke="#222" stroke-width="0.8"/>
<text x="262.8" y="199.1" font-size="6.3" text-anchor="end" font-weight="bold">600</text>
<line x1="271.3" y1="263" x2="271.3" y2="265" stroke="#222" stroke-width="0.8"/>
<text x="271.3" y="272.2" font-size="6.3" text-anchor="middle" font-weight="bold">8</text>
<line x1="284.75" y1="263" x2="284.75" y2="265" stroke="#222" stroke-width="0.8"/>
<text x="284.75" y="272.2" font-size="6.3" text-anchor="middle" font-weight="bold">10</text>
<line x1="298.2" y1="263" x2="298.2" y2="265" stroke="#222" stroke-width="0.8"/>
<text x="298.2" y="272.2" font-size="6.3" text-anchor="middle" font-weight="bold">12</text>
<line x1="311.65" y1="263" x2="311.65" y2="265" stroke="#222" stroke-width="0.8"/>
<text x="311.65" y="272.2" font-size="6.3" text-anchor="middle" font-weight="bold">14</text>
<line x1="325.1" y1="263" x2="325.1" y2="265" stroke="#222" stroke-width="0.8"/>
<text x="325.1" y="272.2" font-size="6.3" text-anchor="middle" font-weight="bold">16</text>
<line x1="278.03" y1="263" x2="278.03" y2="264.2" stroke="#222" stroke-width="0.6"/>
<line x1="291.48" y1="263" x2="291.48" y2="264.2" stroke="#222" stroke-width="0.6"/>
<line x1="304.93" y1="263" x2="304.93" y2="264.2" stroke="#222" stroke-width="0.6"/>
<line x1="318.38" y1="263" x2="318.38" y2="264.2" stroke="#222" stroke-width="0.6"/>
<text x="298.95" y="278.6" font-size="6.4" text-anchor="middle" font-weight="bold">Volume (ml)</text>
<text transform="translate(247,229.25) rotate(-90)" font-size="6.6" font-weight="bold" text-anchor="middle" fill="#222">UV<tspan font-size="4.3" dy="1.5">280</tspan></text>
<path d="M264.6,263.0 L265.1,263.0 L265.7,263.0 L266.5,263.0 L267.4,263.0 L268.3,263.0 L269.2,263.0 L270.0,263.0 L270.6,263.0 L271.1,262.5 L271.5,261.8 L271.9,261.0 L272.1,260.0 L272.4,259.1 L272.7,258.2 L273.0,257.5 L273.3,256.9 L273.7,256.6 L274.0,256.3 L274.4,256.1 L274.7,256.0 L275.1,255.9 L275.6,255.9 L276.1,255.9 L276.7,255.8 L277.4,255.8 L278.1,255.9 L279.0,256.0 L279.8,256.2 L280.7,256.3 L281.6,256.4 L282.5,256.4 L283.4,256.4 L284.3,256.3 L285.1,256.0 L286.0,255.8 L286.9,255.4 L287.7,255.1 L288.5,254.8 L289.4,254.6 L290.1,254.4 L290.9,254.3 L291.6,254.2 L292.3,254.1 L293.0,254.1 L293.7,254.1 L294.3,254.1 L294.9,254.1 L295.5,254.2 L296.1,254.3 L296.6,254.5 L297.2,254.8 L297.7,255.1 L298.2,255.3 L298.7,255.4 L299.1,255.4 L299.5,255.1 L299.9,254.6 L300.3,253.9 L300.7,253.0 L301.0,252.1 L301.3,251.0 L301.6,249.9 L301.9,248.7 L302.2,247.6 L302.5,246.3 L302.8,244.7 L303.1,243.1 L303.4,241.4 L303.7,239.8 L304.0,238.4 L304.3,237.3 L304.6,236.6 L304.9,236.2 L305.2,236.2 L305.4,236.5 L305.7,236.9 L306.0,237.5 L306.3,238.2 L306.6,239.0 L306.9,239.9 L307.3,240.8 L307.7,242.0 L308.1,243.3 L308.5,244.7 L309.0,246.1 L309.4,247.5 L309.8,248.7 L310.3,249.8 L310.8,250.7 L311.2,251.5 L311.7,252.3 L312.2,253.0 L312.7,253.7 L313.2,254.2 L313.8,254.8 L314.3,255.3 L314.9,255.7 L315.6,256.1 L316.3,256.3 L316.9,256.6 L317.6,256.8 L318.3,257.0 L319.0,257.2 L319.7,257.5 L320.4,257.8 L321.0,258.2 L321.7,258.5 L322.3,258.9 L323.0,259.3 L323.7,259.6 L324.4,260.0 L325.1,260.2 L325.9,260.5 L326.8,260.8 L327.8,261.0 L328.8,261.2 L329.7,261.4 L330.6,261.6 L331.3,261.8 L331.8,261.9" fill="none" stroke="#b4b4b4" stroke-width="1.3" stroke-linejoin="round"/>
<path d="M264.6,263.0 L265.1,263.0 L265.7,263.0 L266.5,263.0 L267.4,263.0 L268.3,263.0 L269.2,263.0 L270.0,263.0 L270.6,263.0 L271.1,262.5 L271.5,261.7 L271.9,260.8 L272.2,259.8 L272.5,258.8 L272.7,257.8 L273.0,257.0 L273.3,256.4 L273.6,255.9 L273.9,255.6 L274.2,255.3 L274.5,255.1 L274.8,255.0 L275.1,254.9 L275.5,254.8 L276.0,254.7 L276.6,254.7 L277.3,254.8 L278.0,254.9 L278.8,255.0 L279.6,255.1 L280.5,255.3 L281.3,255.3 L282.1,255.3 L282.8,255.2 L283.6,255.0 L284.4,254.8 L285.2,254.6 L285.9,254.3 L286.7,254.1 L287.4,253.8 L288.1,253.6 L288.8,253.5 L289.4,253.3 L289.9,253.1 L290.5,252.9 L291.1,252.7 L291.6,252.6 L292.2,252.5 L292.8,252.5 L293.5,252.6 L294.2,252.8 L294.9,253.1 L295.6,253.4 L296.3,253.7 L297.0,253.9 L297.6,254.0 L298.2,254.0 L298.7,253.8 L299.2,253.6 L299.6,253.3 L300.0,252.9 L300.4,252.4 L300.8,251.7 L301.2,250.9 L301.6,249.8 L301.9,248.3 L302.3,246.5 L302.7,244.4 L303.0,242.2 L303.3,240.0 L303.6,237.9 L304.0,235.9 L304.3,234.4 L304.5,233.0 L304.8,231.7 L305.0,230.6 L305.3,229.5 L305.5,228.7 L305.7,228.1 L306.0,227.8 L306.3,227.7 L306.6,228.1 L306.9,228.8 L307.2,229.8 L307.5,231.0 L307.9,232.3 L308.2,233.8 L308.6,235.2 L309.0,236.6 L309.3,238.0 L309.7,239.6 L310.1,241.2 L310.5,243.0 L310.9,244.6 L311.4,246.2 L311.8,247.6 L312.3,248.7 L312.8,249.5 L313.4,250.1 L314.0,250.6 L314.6,250.9 L315.2,251.1 L315.8,251.4 L316.4,251.6 L317.0,252.0 L317.7,252.4 L318.3,252.8 L319.0,253.2 L319.7,253.6 L320.4,254.0 L321.0,254.4 L321.7,254.8 L322.4,255.3 L323.1,255.8 L323.8,256.3 L324.5,256.8 L325.2,257.3 L325.9,257.8 L326.5,258.3 L327.2,258.8 L327.8,259.1 L328.4,259.5 L329.0,259.8 L329.6,260.0 L330.1,260.2 L330.7,260.4 L331.1,260.6 L331.5,260.7 L331.8,260.8" fill="none" stroke="#9c9c9c" stroke-width="1.1" stroke-linejoin="round"/>
<path d="M264.6,263.0 L265.1,263.0 L265.8,263.0 L266.6,263.0 L267.5,263.0 L268.4,263.0 L269.3,263.0 L270.0,263.0 L270.6,263.0 L271.1,262.5 L271.4,261.8 L271.7,260.9 L271.9,260.0 L272.1,259.0 L272.2,258.0 L272.4,257.1 L272.6,256.4 L272.9,255.7 L273.1,255.1 L273.3,254.4 L273.5,253.9 L273.7,253.3 L274.0,252.9 L274.3,252.5 L274.7,252.2 L275.1,252.0 L275.7,252.0 L276.3,252.1 L276.9,252.2 L277.5,252.4 L278.2,252.5 L278.8,252.6 L279.4,252.5 L279.9,252.4 L280.4,252.3 L280.9,252.2 L281.4,252.0 L281.9,251.8 L282.4,251.5 L282.9,251.2 L283.4,250.9 L284.0,250.4 L284.6,249.9 L285.2,249.3 L285.8,248.7 L286.4,248.0 L287.0,247.4 L287.6,246.9 L288.1,246.5 L288.6,246.1 L289.2,245.8 L289.7,245.6 L290.2,245.4 L290.7,245.2 L291.2,245.1 L291.6,245.1 L292.1,245.2 L292.7,245.3 L293.2,245.5 L293.7,245.7 L294.2,246.0 L294.7,246.4 L295.2,246.8 L295.7,247.2 L296.2,247.6 L296.6,248.0 L297.1,248.6 L297.6,249.2 L298.0,249.8 L298.4,250.3 L298.8,250.8 L299.2,251.2 L299.5,251.4 L299.9,251.7 L300.1,252.0 L300.4,252.3 L300.6,252.4 L300.8,252.4 L301.1,252.0 L301.3,251.2 L301.6,249.8 L301.8,247.7 L302.1,244.9 L302.4,241.7 L302.7,238.1 L303.0,234.4 L303.3,230.8 L303.6,227.4 L303.9,224.4 L304.2,221.6 L304.4,218.7 L304.7,215.8 L304.9,213.0 L305.2,210.6 L305.4,208.6 L305.7,207.2 L305.9,206.6 L306.2,206.8 L306.5,207.6 L306.8,209.1 L307.1,211.0 L307.4,213.2 L307.7,215.8 L308.0,218.4 L308.3,221.1 L308.6,224.2 L308.9,227.8 L309.3,231.8 L309.6,236.0 L310.0,240.0 L310.3,243.8 L310.6,247.2 L311.0,249.8 L311.3,251.7 L311.6,253.1 L311.9,254.1 L312.2,254.8 L312.5,255.2 L312.9,255.6 L313.2,256.0 L313.7,256.4 L314.2,256.8 L314.7,257.2 L315.3,257.4 L315.9,257.6 L316.6,257.7 L317.2,257.8 L317.8,257.9 L318.4,258.0 L318.9,258.2 L319.4,258.3 L319.9,258.3 L320.4,258.4 L320.9,258.4 L321.4,258.5 L321.9,258.6 L322.4,258.8 L322.9,259.1 L323.4,259.4 L323.9,259.7 L324.3,260.1 L324.8,260.4 L325.3,260.8 L325.9,261.1 L326.4,261.3 L327.1,261.6 L327.8,261.8 L328.6,262.0 L329.4,262.1 L330.1,262.3 L330.8,262.4 L331.4,262.5 L331.8,262.6" fill="none" stroke="#111" stroke-width="1.2" stroke-linejoin="round"/>
<path d="M264.6,263.0 L265.1,263.0 L265.7,263.0 L266.6,263.0 L267.5,263.0 L268.4,263.0 L269.2,263.0 L270.0,263.0 L270.6,263.0 L271.1,262.6 L271.5,262.1 L271.8,261.5 L272.0,260.9 L272.3,260.2 L272.5,259.6 L272.7,259.0 L273.0,258.6 L273.3,258.2 L273.5,258.0 L273.8,257.7 L274.0,257.5 L274.3,257.4 L274.6,257.2 L274.9,257.1 L275.3,256.9 L275.8,256.8 L276.3,256.7 L276.9,256.7 L277.5,256.6 L278.2,256.6 L278.8,256.6 L279.4,256.5 L280.0,256.4 L280.6,256.3 L281.2,256.1 L281.8,256.0 L282.4,255.8 L283.0,255.6 L283.6,255.5 L284.2,255.3 L284.8,255.1 L285.3,254.8 L285.8,254.6 L286.3,254.3 L286.9,254.0 L287.4,253.8 L287.8,253.5 L288.3,253.3 L288.8,253.1 L289.2,252.9 L289.7,252.8 L290.1,252.7 L290.5,252.6 L290.9,252.6 L291.3,252.5 L291.7,252.5 L292.1,252.5 L292.6,252.6 L293.0,252.6 L293.4,252.7 L293.8,252.9 L294.2,253.0 L294.7,253.1 L295.1,253.2 L295.5,253.3 L295.9,253.4 L296.4,253.6 L296.8,253.7 L297.2,253.9 L297.7,254.0 L298.1,254.0 L298.5,253.9 L298.9,253.6 L299.2,253.3 L299.6,252.8 L299.9,252.3 L300.3,251.7 L300.6,251.0 L300.9,250.1 L301.2,248.9 L301.6,247.6 L301.9,245.8 L302.2,243.4 L302.5,240.7 L302.8,237.9 L303.0,235.2 L303.3,232.8 L303.6,231.0 L303.9,229.9 L304.2,229.6 L304.5,229.9 L304.8,230.6 L305.1,231.7 L305.4,233.1 L305.7,234.6 L306.0,236.2 L306.3,237.7 L306.6,239.3 L306.9,241.2 L307.2,243.3 L307.6,245.5 L307.9,247.7 L308.2,249.8 L308.6,251.6 L309.0,253.1 L309.3,254.2 L309.7,255.1 L310.1,255.9 L310.5,256.4 L310.9,256.9 L311.4,257.3 L311.8,257.7 L312.3,258.0 L312.9,258.4 L313.4,258.7 L314.0,258.9 L314.6,259.1 L315.3,259.3 L315.9,259.4 L316.5,259.5 L317.0,259.7 L317.6,259.8 L318.1,260.0 L318.5,260.1 L319.0,260.1 L319.5,260.2 L320.0,260.3 L320.5,260.4 L321.1,260.6 L321.7,260.7 L322.3,260.9 L323.0,261.1 L323.7,261.4 L324.4,261.6 L325.1,261.8 L325.8,262.0 L326.4,262.1 L327.2,262.2 L327.9,262.4 L328.7,262.5 L329.5,262.5 L330.2,262.6 L330.9,262.7 L331.4,262.7 L331.8,262.8" fill="none" stroke="#2222dd" stroke-width="1.3" stroke-linejoin="round"/>
<text x="298.7" y="168" font-size="7.85" text-anchor="middle" fill="#222">HCV-1</text>
<text x="298.7" y="177.8" font-size="7.85" text-anchor="middle" fill="#222">sE1E2.Cut<tspan font-size="5" dy="1.6">1+2</tspan><tspan dy="-1.6">.SPYΔN-V3-</tspan>His<tspan font-size="5" dy="1.6">6</tspan><tspan dy="-1.6"></tspan></text>
<text x="298.7" y="187.6" font-size="7.85" text-anchor="middle" fill="#222">(25-ml ExpiCHO, Nickel)</text>
<path d="M391.8,197.9 L391.8,264.4 L459.5,264.4" fill="none" stroke="#222" stroke-width="1"/>
<line x1="389.8" y1="264.4" x2="391.8" y2="264.4" stroke="#222" stroke-width="0.8"/>
<text x="389.2" y="266.6" font-size="6.3" text-anchor="end" font-weight="bold">0</text>
<line x1="389.8" y1="254.9" x2="391.8" y2="254.9" stroke="#222" stroke-width="0.8"/>
<text x="389.2" y="257.1" font-size="6.3" text-anchor="end" font-weight="bold">50</text>
<line x1="389.8" y1="245.4" x2="391.8" y2="245.4" stroke="#222" stroke-width="0.8"/>
<text x="389.2" y="247.6" font-size="6.3" text-anchor="end" font-weight="bold">100</text>
<line x1="389.8" y1="235.9" x2="391.8" y2="235.9" stroke="#222" stroke-width="0.8"/>
<text x="389.2" y="238.1" font-size="6.3" text-anchor="end" font-weight="bold">150</text>
<line x1="389.8" y1="226.4" x2="391.8" y2="226.4" stroke="#222" stroke-width="0.8"/>
<text x="389.2" y="228.6" font-size="6.3" text-anchor="end" font-weight="bold">200</text>
<line x1="389.8" y1="216.9" x2="391.8" y2="216.9" stroke="#222" stroke-width="0.8"/>
<text x="389.2" y="219.1" font-size="6.3" text-anchor="end" font-weight="bold">250</text>
<line x1="389.8" y1="207.4" x2="391.8" y2="207.4" stroke="#222" stroke-width="0.8"/>
<text x="389.2" y="209.6" font-size="6.3" text-anchor="end" font-weight="bold">300</text>
<line x1="389.8" y1="197.9" x2="391.8" y2="197.9" stroke="#222" stroke-width="0.8"/>
<text x="389.2" y="200.1" font-size="6.3" text-anchor="end" font-weight="bold">350</text>
<line x1="399.7" y1="264.4" x2="399.7" y2="266.4" stroke="#222" stroke-width="0.8"/>
<text x="399.7" y="273.6" font-size="6.3" text-anchor="middle" font-weight="bold">8</text>
<line x1="412.9" y1="264.4" x2="412.9" y2="266.4" stroke="#222" stroke-width="0.8"/>
<text x="412.9" y="273.6" font-size="6.3" text-anchor="middle" font-weight="bold">10</text>
<line x1="426.1" y1="264.4" x2="426.1" y2="266.4" stroke="#222" stroke-width="0.8"/>
<text x="426.1" y="273.6" font-size="6.3" text-anchor="middle" font-weight="bold">12</text>
<line x1="439.3" y1="264.4" x2="439.3" y2="266.4" stroke="#222" stroke-width="0.8"/>
<text x="439.3" y="273.6" font-size="6.3" text-anchor="middle" font-weight="bold">14</text>
<line x1="452.5" y1="264.4" x2="452.5" y2="266.4" stroke="#222" stroke-width="0.8"/>
<text x="452.5" y="273.6" font-size="6.3" text-anchor="middle" font-weight="bold">16</text>
<line x1="406.3" y1="264.4" x2="406.3" y2="265.6" stroke="#222" stroke-width="0.6"/>
<line x1="419.5" y1="264.4" x2="419.5" y2="265.6" stroke="#222" stroke-width="0.6"/>
<line x1="432.7" y1="264.4" x2="432.7" y2="265.6" stroke="#222" stroke-width="0.6"/>
<line x1="445.9" y1="264.4" x2="445.9" y2="265.6" stroke="#222" stroke-width="0.6"/>
<text x="426.15" y="280" font-size="6.4" text-anchor="middle" font-weight="bold">Volume (ml)</text>
<text transform="translate(375.5,230.45) rotate(-90)" font-size="6.6" font-weight="bold" text-anchor="middle" fill="#222">UV<tspan font-size="4.3" dy="1.5">280</tspan></text>
<path d="M393.1,264.4 L393.6,264.4 L394.3,264.4 L395.1,264.4 L395.9,264.4 L396.8,264.4 L397.7,264.4 L398.4,264.4 L399.0,264.4 L399.5,263.6 L399.8,262.6 L400.0,261.3 L400.2,259.9 L400.4,258.5 L400.6,257.2 L400.8,255.9 L401.0,254.9 L401.3,254.1 L401.6,253.3 L401.9,252.7 L402.2,252.1 L402.5,251.6 L402.8,251.1 L403.2,250.6 L403.7,250.1 L404.1,249.7 L404.7,249.4 L405.2,249.1 L405.8,248.8 L406.5,248.5 L407.1,248.2 L407.7,247.8 L408.3,247.3 L408.9,246.7 L409.5,246.1 L410.0,245.4 L410.6,244.6 L411.2,243.8 L411.8,243.1 L412.4,242.3 L412.9,241.6 L413.4,240.9 L414.0,240.1 L414.5,239.4 L415.0,238.6 L415.5,237.9 L416.0,237.3 L416.4,236.7 L416.9,236.3 L417.2,236.0 L417.6,235.7 L417.9,235.6 L418.2,235.5 L418.5,235.5 L418.8,235.6 L419.1,235.7 L419.5,235.9 L419.9,236.2 L420.3,236.5 L420.7,236.9 L421.1,237.4 L421.5,238.0 L422.0,238.5 L422.4,239.1 L422.8,239.7 L423.2,240.4 L423.6,241.3 L424.1,242.4 L424.5,243.4 L424.9,244.3 L425.3,245.0 L425.7,245.4 L426.1,245.4 L426.5,245.1 L426.8,244.5 L427.1,243.7 L427.5,242.6 L427.8,241.3 L428.1,239.8 L428.4,238.0 L428.7,235.9 L429.1,233.3 L429.4,230.1 L429.8,226.5 L430.1,222.7 L430.5,218.9 L430.8,215.4 L431.1,212.5 L431.4,210.2 L431.6,208.7 L431.8,207.6 L431.9,206.8 L432.1,206.4 L432.2,206.3 L432.4,206.4 L432.5,206.8 L432.7,207.4 L432.9,208.2 L433.1,209.3 L433.4,210.6 L433.6,212.2 L433.9,214.0 L434.1,216.1 L434.4,218.3 L434.7,220.7 L435.0,223.5 L435.3,226.8 L435.6,230.5 L435.9,234.2 L436.3,238.0 L436.6,241.5 L437.0,244.7 L437.3,247.3 L437.7,249.4 L438.1,251.1 L438.5,252.4 L438.9,253.6 L439.3,254.5 L439.7,255.4 L440.2,256.1 L440.6,256.8 L441.1,257.4 L441.5,257.8 L442.0,258.0 L442.5,258.2 L443.0,258.3 L443.5,258.3 L444.0,258.5 L444.6,258.7 L445.2,259.0 L445.8,259.4 L446.5,259.7 L447.1,260.1 L447.8,260.5 L448.5,260.9 L449.2,261.2 L449.9,261.5 L450.5,261.8 L451.2,262.1 L451.9,262.3 L452.6,262.5 L453.3,262.7 L453.9,262.9 L454.5,263.1 L455.1,263.3 L455.7,263.4 L456.3,263.5 L456.9,263.6 L457.4,263.7 L458.0,263.8 L458.4,263.9 L458.8,264.0 L459.1,264.0" fill="none" stroke="#8e949a" stroke-width="1.2" stroke-linejoin="round"/>
<path d="M393.1,264.4 L393.6,264.4 L394.3,264.4 L395.1,264.4 L395.9,264.4 L396.8,264.4 L397.7,264.4 L398.4,264.4 L399.0,264.4 L399.5,263.9 L399.8,263.3 L400.1,262.6 L400.3,261.7 L400.5,260.9 L400.6,260.1 L400.8,259.3 L401.0,258.7 L401.2,258.2 L401.4,257.8 L401.6,257.4 L401.8,257.0 L402.0,256.7 L402.3,256.4 L402.6,256.1 L403.0,255.8 L403.5,255.6 L404.1,255.3 L404.8,255.1 L405.5,254.9 L406.2,254.7 L406.9,254.5 L407.6,254.2 L408.3,253.9 L408.9,253.6 L409.5,253.3 L410.1,253.0 L410.7,252.7 L411.2,252.3 L411.8,251.9 L412.4,251.5 L412.9,251.1 L413.4,250.6 L414.0,250.1 L414.5,249.5 L415.0,248.9 L415.5,248.4 L415.9,247.8 L416.4,247.3 L416.9,246.9 L417.3,246.6 L417.7,246.3 L418.1,246.0 L418.6,245.8 L419.0,245.7 L419.4,245.5 L419.8,245.5 L420.2,245.4 L420.6,245.4 L421.0,245.4 L421.4,245.5 L421.8,245.7 L422.2,245.8 L422.6,246.0 L423.0,246.2 L423.5,246.3 L423.9,246.6 L424.3,247.0 L424.7,247.5 L425.2,248.0 L425.6,248.4 L426.0,248.6 L426.4,248.6 L426.8,248.2 L427.1,247.6 L427.4,246.9 L427.7,245.9 L428.0,244.8 L428.2,243.4 L428.5,241.8 L428.8,240.0 L429.1,237.8 L429.4,235.1 L429.7,231.8 L430.0,228.0 L430.3,224.1 L430.6,220.3 L430.9,216.7 L431.2,213.6 L431.4,211.2 L431.6,209.4 L431.7,208.1 L431.8,207.1 L431.9,206.4 L432.0,206.0 L432.1,205.9 L432.2,206.1 L432.4,206.4 L432.5,207.1 L432.7,208.0 L432.9,209.1 L433.1,210.5 L433.3,212.2 L433.5,214.2 L433.8,216.4 L434.0,218.8 L434.3,221.7 L434.6,225.2 L434.9,229.1 L435.2,233.2 L435.6,237.2 L435.9,241.1 L436.3,244.5 L436.7,247.3 L437.0,249.5 L437.4,251.4 L437.8,252.9 L438.2,254.2 L438.6,255.2 L439.0,256.1 L439.5,256.9 L440.0,257.8 L440.5,258.4 L441.0,258.9 L441.6,259.3 L442.1,259.5 L442.7,259.7 L443.3,259.8 L444.0,260.0 L444.6,260.2 L445.2,260.5 L445.9,260.7 L446.5,261.0 L447.2,261.2 L447.9,261.5 L448.5,261.7 L449.2,261.9 L449.9,262.1 L450.5,262.3 L451.2,262.5 L451.9,262.7 L452.6,262.9 L453.3,263.0 L453.9,263.2 L454.5,263.3 L455.1,263.4 L455.7,263.6 L456.3,263.7 L456.9,263.7 L457.4,263.8 L458.0,263.9 L458.4,263.9 L458.8,264.0 L459.1,264.0" fill="none" stroke="#111" stroke-width="1.2" stroke-linejoin="round"/>
<path d="M393.1,264.4 L393.5,264.4 L394.1,264.4 L394.9,264.4 L395.6,264.4 L396.4,264.4 L397.2,264.4 L397.9,264.4 L398.4,264.4 L398.8,263.5 L399.0,262.2 L399.3,260.6 L399.4,258.9 L399.6,257.2 L399.7,255.6 L399.8,254.1 L400.0,253.0 L400.2,252.1 L400.4,251.4 L400.6,250.8 L400.8,250.4 L400.9,250.0 L401.2,249.7 L401.4,249.4 L401.7,249.2 L402.0,249.0 L402.4,249.0 L402.7,249.0 L403.1,249.1 L403.6,249.2 L404.0,249.3 L404.5,249.4 L405.0,249.6 L405.5,249.7 L406.0,249.9 L406.6,250.1 L407.2,250.3 L407.8,250.6 L408.4,250.8 L409.0,251.0 L409.6,251.1 L410.2,251.2 L410.8,251.3 L411.4,251.3 L412.0,251.3 L412.5,251.4 L413.1,251.4 L413.7,251.4 L414.2,251.5 L414.7,251.5 L415.3,251.6 L415.8,251.6 L416.2,251.7 L416.7,251.7 L417.2,251.8 L417.7,251.9 L418.2,252.0 L418.7,252.2 L419.2,252.4 L419.7,252.6 L420.2,252.9 L420.7,253.1 L421.1,253.4 L421.6,253.7 L422.1,253.9 L422.6,254.3 L423.2,254.8 L423.7,255.3 L424.2,255.8 L424.7,256.3 L425.2,256.7 L425.7,256.8 L426.1,256.8 L426.5,256.5 L426.9,256.1 L427.2,255.5 L427.5,254.7 L427.8,253.9 L428.1,253.0 L428.4,252.1 L428.7,251.1 L429.1,250.0 L429.4,248.6 L429.8,247.1 L430.1,245.5 L430.4,244.1 L430.8,242.8 L431.1,241.8 L431.4,241.2 L431.7,241.0 L431.9,241.2 L432.1,241.6 L432.4,242.2 L432.6,242.9 L432.8,243.7 L433.1,244.6 L433.4,245.4 L433.6,246.3 L433.9,247.3 L434.2,248.5 L434.6,249.6 L434.9,250.8 L435.2,252.0 L435.6,253.0 L436.0,253.9 L436.4,254.7 L436.9,255.5 L437.4,256.2 L437.9,256.8 L438.4,257.3 L438.9,257.8 L439.4,258.3 L440.0,258.7 L440.5,259.0 L441.1,259.3 L441.6,259.5 L442.2,259.6 L442.8,259.8 L443.4,259.9 L444.0,260.0 L444.6,260.2 L445.2,260.4 L445.9,260.7 L446.5,260.9 L447.2,261.2 L447.9,261.4 L448.5,261.7 L449.2,261.9 L449.9,262.1 L450.5,262.3 L451.2,262.5 L451.9,262.7 L452.6,262.9 L453.3,263.0 L453.9,263.2 L454.5,263.3 L455.1,263.4 L455.7,263.6 L456.3,263.7 L456.9,263.7 L457.4,263.8 L458.0,263.9 L458.4,263.9 L458.8,264.0 L459.1,264.0" fill="none" stroke="#e62a2a" stroke-width="1.3" stroke-linejoin="round"/>
<text x="426.6" y="168.6" font-size="7.85" text-anchor="middle" fill="#222">HCV-1</text>
<text x="426.6" y="178.4" font-size="7.85" text-anchor="middle" fill="#222">sE1E2.Ext<tspan font-size="5" dy="1.6">1</tspan><tspan dy="-1.6">.Cut</tspan><tspan font-size="5" dy="1.6">2</tspan><tspan dy="-1.6">.SPYΔN-His</tspan><tspan font-size="5" dy="1.6">6</tspan></text>
<text x="426.6" y="188.2" font-size="7.85" text-anchor="middle" fill="#222">(25-ml ExpiCHO, Nickel)</text>
<path d="M498.5,197.8 L498.5,264.3 L565.4,264.3" fill="none" stroke="#222" stroke-width="1"/>
<line x1="496.5" y1="264.3" x2="498.5" y2="264.3" stroke="#222" stroke-width="0.8"/>
<text x="495.9" y="266.5" font-size="6.3" text-anchor="end" font-weight="bold">0</text>
<line x1="496.5" y1="254.8" x2="498.5" y2="254.8" stroke="#222" stroke-width="0.8"/>
<text x="495.9" y="257" font-size="6.3" text-anchor="end" font-weight="bold">50</text>
<line x1="496.5" y1="245.3" x2="498.5" y2="245.3" stroke="#222" stroke-width="0.8"/>
<text x="495.9" y="247.5" font-size="6.3" text-anchor="end" font-weight="bold">100</text>
<line x1="496.5" y1="235.8" x2="498.5" y2="235.8" stroke="#222" stroke-width="0.8"/>
<text x="495.9" y="238" font-size="6.3" text-anchor="end" font-weight="bold">150</text>
<line x1="496.5" y1="226.3" x2="498.5" y2="226.3" stroke="#222" stroke-width="0.8"/>
<text x="495.9" y="228.5" font-size="6.3" text-anchor="end" font-weight="bold">200</text>
<line x1="496.5" y1="216.8" x2="498.5" y2="216.8" stroke="#222" stroke-width="0.8"/>
<text x="495.9" y="219" font-size="6.3" text-anchor="end" font-weight="bold">250</text>
<line x1="496.5" y1="207.3" x2="498.5" y2="207.3" stroke="#222" stroke-width="0.8"/>
<text x="495.9" y="209.5" font-size="6.3" text-anchor="end" font-weight="bold">300</text>
<line x1="496.5" y1="197.8" x2="498.5" y2="197.8" stroke="#222" stroke-width="0.8"/>
<text x="495.9" y="200" font-size="6.3" text-anchor="end" font-weight="bold">350</text>
<line x1="505.6" y1="264.3" x2="505.6" y2="266.3" stroke="#222" stroke-width="0.8"/>
<text x="505.6" y="273.5" font-size="6.3" text-anchor="middle" font-weight="bold">8</text>
<line x1="518.98" y1="264.3" x2="518.98" y2="266.3" stroke="#222" stroke-width="0.8"/>
<text x="518.98" y="273.5" font-size="6.3" text-anchor="middle" font-weight="bold">10</text>
<line x1="532.35" y1="264.3" x2="532.35" y2="266.3" stroke="#222" stroke-width="0.8"/>
<text x="532.35" y="273.5" font-size="6.3" text-anchor="middle" font-weight="bold">12</text>
<line x1="545.73" y1="264.3" x2="545.73" y2="266.3" stroke="#222" stroke-width="0.8"/>
<text x="545.73" y="273.5" font-size="6.3" text-anchor="middle" font-weight="bold">14</text>
<line x1="559.1" y1="264.3" x2="559.1" y2="266.3" stroke="#222" stroke-width="0.8"/>
<text x="559.1" y="273.5" font-size="6.3" text-anchor="middle" font-weight="bold">16</text>
<line x1="512.29" y1="264.3" x2="512.29" y2="265.5" stroke="#222" stroke-width="0.6"/>
<line x1="525.66" y1="264.3" x2="525.66" y2="265.5" stroke="#222" stroke-width="0.6"/>
<line x1="539.04" y1="264.3" x2="539.04" y2="265.5" stroke="#222" stroke-width="0.6"/>
<line x1="552.41" y1="264.3" x2="552.41" y2="265.5" stroke="#222" stroke-width="0.6"/>
<text x="532.45" y="279.9" font-size="6.4" text-anchor="middle" font-weight="bold">Volume (ml)</text>
<text transform="translate(481,230.35) rotate(-90)" font-size="6.6" font-weight="bold" text-anchor="middle" fill="#222">UV<tspan font-size="4.3" dy="1.5">280</tspan></text>
<path d="M498.9,264.3 L499.4,264.3 L500.1,264.3 L500.9,264.3 L501.8,264.3 L502.7,264.3 L503.6,264.3 L504.3,264.3 L504.9,264.3 L505.4,263.5 L505.7,262.5 L505.9,261.2 L506.1,259.8 L506.3,258.4 L506.5,257.1 L506.7,255.8 L506.9,254.8 L507.2,254.0 L507.5,253.2 L507.8,252.6 L508.1,252.0 L508.4,251.5 L508.8,251.0 L509.2,250.5 L509.6,250.1 L510.1,249.6 L510.6,249.3 L511.2,249.0 L511.8,248.7 L512.5,248.4 L513.1,248.1 L513.7,247.7 L514.3,247.2 L514.9,246.6 L515.5,246.0 L516.1,245.3 L516.7,244.5 L517.3,243.8 L517.9,243.0 L518.4,242.2 L519.0,241.5 L519.5,240.8 L520.1,240.0 L520.6,239.1 L521.1,238.3 L521.6,237.5 L522.1,236.9 L522.6,236.3 L523.0,235.8 L523.4,235.5 L523.7,235.2 L524.1,235.1 L524.4,235.0 L524.7,235.0 L525.0,235.1 L525.3,235.2 L525.7,235.4 L526.0,235.7 L526.5,236.0 L526.9,236.5 L527.3,237.0 L527.7,237.5 L528.2,238.1 L528.6,238.8 L529.0,239.6 L529.4,240.5 L529.9,241.7 L530.3,242.9 L530.7,244.2 L531.1,245.4 L531.6,246.6 L532.0,247.5 L532.4,248.2 L532.7,248.5 L533.1,248.7 L533.4,248.7 L533.7,248.6 L534.1,248.3 L534.4,248.0 L534.7,247.6 L535.0,247.2 L535.4,246.6 L535.7,245.8 L536.1,244.9 L536.4,244.0 L536.7,243.0 L537.1,242.2 L537.4,241.5 L537.7,241.1 L538.0,241.0 L538.2,240.9 L538.4,241.0 L538.7,241.3 L538.9,241.6 L539.1,242.1 L539.4,242.7 L539.7,243.4 L540.1,244.3 L540.4,245.4 L540.8,246.7 L541.3,248.1 L541.7,249.4 L542.1,250.8 L542.6,251.9 L543.1,252.9 L543.5,253.7 L544.0,254.3 L544.5,254.8 L545.0,255.3 L545.5,255.7 L546.0,256.0 L546.6,256.4 L547.1,256.7 L547.6,257.0 L548.0,257.3 L548.5,257.5 L549.0,257.7 L549.5,257.9 L550.0,258.1 L550.5,258.3 L551.1,258.6 L551.7,258.9 L552.3,259.3 L553.0,259.6 L553.7,260.0 L554.4,260.4 L555.1,260.8 L555.7,261.1 L556.4,261.4 L557.1,261.7 L557.8,262.0 L558.5,262.2 L559.2,262.4 L559.9,262.6 L560.5,262.8 L561.2,263.0 L561.8,263.2 L562.4,263.3 L563.0,263.4 L563.6,263.5 L564.1,263.6 L564.6,263.7 L565.1,263.8 L565.5,263.9 L565.8,263.9" fill="none" stroke="#8e949a" stroke-width="1.2" stroke-linejoin="round"/>
<path d="M498.9,264.3 L499.4,264.3 L500.1,264.3 L500.9,264.3 L501.8,264.3 L502.7,264.3 L503.6,264.3 L504.3,264.3 L504.9,264.3 L505.4,263.8 L505.7,263.2 L506.0,262.5 L506.2,261.6 L506.4,260.8 L506.5,260.0 L506.7,259.2 L506.9,258.6 L507.2,258.1 L507.4,257.7 L507.5,257.3 L507.7,256.9 L507.9,256.6 L508.2,256.3 L508.5,256.0 L508.9,255.8 L509.5,255.5 L510.1,255.2 L510.7,255.0 L511.5,254.8 L512.2,254.6 L512.9,254.4 L513.6,254.1 L514.3,253.9 L514.9,253.5 L515.5,253.2 L516.1,252.9 L516.7,252.6 L517.3,252.2 L517.9,251.8 L518.4,251.4 L519.0,251.0 L519.5,250.5 L520.0,250.0 L520.6,249.4 L521.1,248.8 L521.6,248.3 L522.0,247.7 L522.5,247.2 L523.0,246.8 L523.4,246.5 L523.9,246.2 L524.3,245.9 L524.7,245.7 L525.1,245.6 L525.5,245.4 L525.9,245.4 L526.3,245.3 L526.7,245.3 L527.2,245.3 L527.6,245.4 L528.0,245.6 L528.4,245.7 L528.8,245.9 L529.3,246.1 L529.7,246.2 L530.1,246.5 L530.5,246.9 L531.0,247.4 L531.4,247.9 L531.8,248.3 L532.3,248.5 L532.6,248.5 L533.0,248.2 L533.4,247.5 L533.7,246.8 L534.0,245.8 L534.3,244.7 L534.5,243.3 L534.8,241.7 L535.1,239.9 L535.4,237.7 L535.7,235.0 L536.0,231.7 L536.3,227.9 L536.6,224.0 L536.9,220.1 L537.2,216.6 L537.5,213.5 L537.7,211.1 L537.9,209.4 L538.0,208.1 L538.1,207.2 L538.2,206.6 L538.3,206.3 L538.4,206.3 L538.6,206.5 L538.7,206.9 L538.9,207.5 L539.1,208.4 L539.2,209.4 L539.4,210.8 L539.6,212.4 L539.9,214.2 L540.1,216.3 L540.4,218.7 L540.7,221.6 L541.0,225.1 L541.3,229.0 L541.6,233.0 L542.0,237.1 L542.3,241.0 L542.7,244.4 L543.1,247.2 L543.4,249.4 L543.8,251.3 L544.2,252.8 L544.6,254.1 L545.0,255.1 L545.4,256.0 L545.9,256.8 L546.4,257.7 L546.9,258.3 L547.5,258.8 L548.0,259.2 L548.6,259.4 L549.2,259.6 L549.8,259.7 L550.4,259.9 L551.1,260.1 L551.7,260.4 L552.4,260.6 L553.0,260.9 L553.7,261.1 L554.4,261.4 L555.1,261.6 L555.8,261.8 L556.4,262.0 L557.1,262.2 L557.8,262.4 L558.5,262.6 L559.2,262.8 L559.9,262.9 L560.5,263.1 L561.2,263.2 L561.8,263.4 L562.4,263.5 L563.0,263.6 L563.6,263.6 L564.1,263.7 L564.6,263.8 L565.1,263.8 L565.5,263.9 L565.8,263.9" fill="none" stroke="#111" stroke-width="1.2" stroke-linejoin="round"/>
<path d="M498.9,264.3 L499.4,264.3 L500.0,264.3 L500.7,264.3 L501.5,264.3 L502.3,264.3 L503.1,264.3 L503.7,264.3 L504.3,264.3 L504.6,263.5 L504.9,262.4 L505.2,261.1 L505.3,259.7 L505.5,258.3 L505.6,256.9 L505.8,255.7 L505.9,254.8 L506.1,254.1 L506.3,253.6 L506.5,253.2 L506.6,252.9 L506.8,252.6 L507.0,252.4 L507.3,252.3 L507.6,252.1 L508.0,252.0 L508.4,252.0 L508.9,252.1 L509.5,252.2 L510.0,252.3 L510.6,252.4 L511.1,252.5 L511.6,252.5 L512.1,252.5 L512.6,252.5 L513.1,252.4 L513.6,252.4 L514.1,252.3 L514.6,252.2 L515.1,252.1 L515.6,252.0 L516.1,251.8 L516.7,251.5 L517.2,251.2 L517.7,250.8 L518.2,250.5 L518.7,250.3 L519.2,250.1 L519.6,250.1 L520.1,250.1 L520.5,250.2 L520.9,250.4 L521.3,250.6 L521.7,250.9 L522.1,251.2 L522.5,251.6 L523.0,252.0 L523.5,252.4 L523.9,252.9 L524.4,253.4 L525.0,254.0 L525.5,254.6 L526.0,255.2 L526.5,255.8 L527.0,256.3 L527.5,256.8 L528.0,257.4 L528.5,257.9 L529.0,258.4 L529.5,258.9 L530.0,259.4 L530.5,259.8 L531.0,260.1 L531.5,260.4 L532.0,260.5 L532.5,260.6 L533.0,260.7 L533.5,260.8 L534.0,260.8 L534.5,260.8 L535.0,260.9 L535.5,260.9 L536.0,261.0 L536.5,261.1 L537.0,261.1 L537.5,261.1 L538.0,261.2 L538.5,261.2 L539.0,261.3 L539.5,261.3 L540.0,261.4 L540.5,261.4 L541.0,261.5 L541.5,261.5 L542.0,261.6 L542.5,261.5 L543.1,261.4 L543.6,261.3 L544.2,261.0 L544.8,260.7 L545.4,260.4 L546.0,260.1 L546.6,259.8 L547.2,259.6 L547.7,259.6 L548.2,259.6 L548.6,259.6 L549.0,259.8 L549.4,260.0 L549.7,260.2 L550.1,260.4 L550.6,260.7 L551.1,260.9 L551.6,261.1 L552.3,261.3 L552.9,261.6 L553.6,261.9 L554.3,262.1 L555.0,262.4 L555.7,262.6 L556.4,262.8 L557.1,262.9 L557.8,263.1 L558.5,263.2 L559.2,263.4 L559.9,263.5 L560.5,263.6 L561.2,263.6 L561.8,263.7 L562.4,263.8 L563.0,263.9 L563.6,263.9 L564.1,264.0 L564.6,264.0 L565.1,264.1 L565.5,264.1 L565.8,264.1" fill="none" stroke="#e62a2a" stroke-width="1.3" stroke-linejoin="round"/>
<text x="531.6" y="168.6" font-size="7.85" text-anchor="middle" fill="#222">HCV-1</text>
<text x="531.6" y="178.4" font-size="7.85" text-anchor="middle" fill="#222">sE1E2.Ext<tspan font-size="5" dy="1.6">2</tspan><tspan dy="-1.6">.Cut</tspan><tspan font-size="5" dy="1.6">2</tspan><tspan dy="-1.6">.SPYΔN-His</tspan><tspan font-size="5" dy="1.6">6</tspan></text>
<text x="531.6" y="188.2" font-size="7.85" text-anchor="middle" fill="#222">(25-ml ExpiCHO, Nickel)</text>
<linearGradient id="bup" x1="0" y1="0" x2="0" y2="1"><stop offset="0" stop-color="#000" stop-opacity="0"/><stop offset="0.55" stop-color="#000" stop-opacity="0.55"/><stop offset="0.85" stop-color="#000" stop-opacity="1"/><stop offset="1" stop-color="#000" stop-opacity="0.35"/></linearGradient>
<linearGradient id="bsym" x1="0" y1="0" x2="0" y2="1"><stop offset="0" stop-color="#000" stop-opacity="0"/><stop offset="0.5" stop-color="#000" stop-opacity="1"/><stop offset="1" stop-color="#000" stop-opacity="0"/></linearGradient>
<linearGradient id="bdown" x1="0" y1="0" x2="0" y2="1"><stop offset="0" stop-color="#000" stop-opacity="1"/><stop offset="1" stop-color="#000" stop-opacity="0"/></linearGradient>
<linearGradient id="gelbg" x1="0" y1="0" x2="0" y2="1"><stop offset="0" stop-color="#d2d2d2"/><stop offset="0.4" stop-color="#c6c6c6"/><stop offset="1" stop-color="#b0b0b0"/></linearGradient><linearGradient id="gelbg2" x1="0" y1="0" x2="0" y2="1"><stop offset="0" stop-color="#d0d0d0"/><stop offset="0.4" stop-color="#c8c8c8"/><stop offset="1" stop-color="#b6b6b6"/></linearGradient>
<linearGradient id="lanebg" x1="0" y1="0" x2="1" y2="0"><stop offset="0" stop-color="#000" stop-opacity="0"/><stop offset="0.5" stop-color="#000" stop-opacity="1"/><stop offset="1" stop-color="#000" stop-opacity="0"/></linearGradient>
<text x="24.0" y="304.4" font-size="7.85" fill="#222">HCV-1 sE1E2.Cut<tspan font-size="5" dy="1.6">1+2</tspan><tspan dy="-1.6">-</tspan></text>
<text x="59.3" y="313.6" font-size="7.85" text-anchor="middle" fill="#222">SPYΔN-V2-His<tspan font-size="5" dy="1.6">6</tspan></text>
<text x="102.2" y="304.4" font-size="7.85" fill="#222">HCV-1 sE1E2.Cut<tspan font-size="5" dy="1.6">1+2</tspan><tspan dy="-1.6">-</tspan></text>
<text x="139.0" y="313.6" font-size="7.85" text-anchor="middle" fill="#222">SPYΔN-V3-His<tspan font-size="5" dy="1.6">6</tspan></text>
<text x="256" y="303.7" font-size="7.85" text-anchor="middle">HCV-1</text>
<text x="256.0" y="313.6" font-size="7.85" text-anchor="middle" fill="#222">sE1E2.Ext<tspan font-size="5" dy="1.6">1</tspan><tspan dy="-1.6">.Cut</tspan><tspan font-size="5" dy="1.6">2</tspan><tspan dy="-1.6">.SPYΔN-His</tspan><tspan font-size="5" dy="1.6">6</tspan></text>
<text x="58" y="322.8" font-size="6.45" text-anchor="middle">Non-reducing</text>
<line x1="38.6" y1="324.3" x2="77.4" y2="324.3" stroke="#222" stroke-width="0.6"/>
<text x="136.2" y="322.8" font-size="6.45" text-anchor="middle">Non-reducing</text>
<line x1="116.8" y1="324.3" x2="155.6" y2="324.3" stroke="#222" stroke-width="0.6"/>
<text x="217.7" y="322.8" font-size="6.45" text-anchor="middle">Non-reducing</text>
<line x1="198.3" y1="324.3" x2="237.1" y2="324.3" stroke="#222" stroke-width="0.6"/>
<text x="292.4" y="322.8" font-size="6.45" text-anchor="middle">Reducing</text>
<line x1="278.75" y1="324.3" x2="306.05" y2="324.3" stroke="#222" stroke-width="0.6"/>
<text x="93" y="331.4" font-size="7.1">kDa</text>
<text x="170.6" y="331.4" font-size="7.1">kDa</text>
<text x="252.6" y="331.4" font-size="7.1">kDa</text>
<text x="328.6" y="331.4" font-size="7.1">kDa</text>
<rect x="34.9" y="335" width="54" height="71.3" fill="url(#gelbg)"/>
<rect x="75.8" y="335" width="10.5" height="71.3" fill="#000" opacity="0.05"/>
<rect x="77.3" y="337.5" width="7.5" height="2.4" rx="1.1" fill="#1a1a1a" opacity="0.75" filter="url(#bl3)"/>
<rect x="77.3" y="348" width="7.5" height="2.4" rx="1.1" fill="#1a1a1a" opacity="0.8" filter="url(#bl3)"/>
<rect x="77.3" y="358.3" width="7.5" height="2.4" rx="1.1" fill="#1a1a1a" opacity="0.85" filter="url(#bl3)"/>
<rect x="77.3" y="364.8" width="7.5" height="2.4" rx="1.1" fill="#1a1a1a" opacity="0.95" filter="url(#bl3)"/>
<rect x="77.3" y="378.1" width="7.5" height="2.4" rx="1.1" fill="#1a1a1a" opacity="1" filter="url(#bl3)"/>
<rect x="77.3" y="388.1" width="7.5" height="2.4" rx="1.1" fill="#1a1a1a" opacity="1" filter="url(#bl3)"/>
<rect x="77.3" y="402.2" width="7.5" height="2.4" rx="1.1" fill="#1a1a1a" opacity="1" filter="url(#bl3)"/>
<rect x="37.4" y="334.5" width="7" height="19.5" rx="1.5" fill="url(#bsym)" opacity="0.16" filter="url(#bl1)"/>
<rect x="37.4" y="366.3" width="7" height="1.2" rx="1.5" fill="url(#bsym)" opacity="0.2" filter="url(#bl1)"/>
<rect x="48" y="344" width="7" height="20" rx="1.5" fill="url(#bup)" opacity="0.22" filter="url(#bl1)"/>
<rect x="48" y="366.3" width="7" height="1.2" rx="1.5" fill="url(#bsym)" opacity="0.2" filter="url(#bl1)"/>
<rect x="58" y="354.5" width="7.4" height="13.5" rx="1.5" fill="url(#bup)" opacity="0.62" filter="url(#bl1)"/>
<rect x="67.8" y="353" width="8.2" height="15.5" rx="1.5" fill="url(#bup)" opacity="0.66" filter="url(#bl1)"/>
<line x1="86.8" y1="338.7" x2="92.2" y2="338.7" stroke="#555" stroke-width="0.7"/>
<text x="93.6" y="341.3" font-size="7.3">250</text>
<line x1="86.8" y1="349.2" x2="92.2" y2="349.2" stroke="#555" stroke-width="0.7"/>
<text x="93.6" y="351.8" font-size="7.3">150</text>
<line x1="86.8" y1="359.5" x2="92.2" y2="359.5" stroke="#555" stroke-width="0.7"/>
<text x="93.6" y="362.1" font-size="7.3">100</text>
<line x1="86.8" y1="366" x2="92.2" y2="366" stroke="#555" stroke-width="0.7"/>
<text x="93.6" y="368.6" font-size="7.3">75</text>
<line x1="86.8" y1="379.3" x2="92.2" y2="379.3" stroke="#555" stroke-width="0.7"/>
<text x="93.6" y="381.9" font-size="7.3">50</text>
<line x1="86.8" y1="389.3" x2="92.2" y2="389.3" stroke="#555" stroke-width="0.7"/>
<text x="93.6" y="391.9" font-size="7.3">37</text>
<line x1="86.8" y1="403.4" x2="92.2" y2="403.4" stroke="#555" stroke-width="0.7"/>
<text x="93.6" y="406" font-size="7.3">25</text>
<text x="40.2" y="333.7" font-size="7" text-anchor="middle">11</text>
<text x="51.3" y="333.7" font-size="7" text-anchor="middle">16</text>
<text x="61.5" y="333.7" font-size="7" text-anchor="middle">17</text>
<text x="72.3" y="333.7" font-size="7" text-anchor="middle">18</text>
<rect x="112.2" y="335.2" width="53" height="71.1" fill="url(#gelbg)"/>
<rect x="154.5" y="335.2" width="10.6" height="71.1" fill="#000" opacity="0.05"/>
<rect x="156" y="339.3" width="7.6" height="2.4" rx="1.1" fill="#1a1a1a" opacity="0.5" filter="url(#bl3)"/>
<rect x="156" y="349.3" width="7.6" height="2.4" rx="1.1" fill="#1a1a1a" opacity="0.6" filter="url(#bl3)"/>
<rect x="156" y="359.2" width="7.6" height="2.4" rx="1.1" fill="#1a1a1a" opacity="0.7" filter="url(#bl3)"/>
<rect x="156" y="365.8" width="7.6" height="2.4" rx="1.1" fill="#1a1a1a" opacity="0.95" filter="url(#bl3)"/>
<rect x="156" y="379.4" width="7.6" height="2.4" rx="1.1" fill="#1a1a1a" opacity="1" filter="url(#bl3)"/>
<rect x="156" y="389.3" width="7.6" height="2.4" rx="1.1" fill="#1a1a1a" opacity="1" filter="url(#bl3)"/>
<rect x="156" y="403.6" width="7.6" height="2.4" rx="1.1" fill="#1a1a1a" opacity="1" filter="url(#bl3)"/>
<rect x="118" y="334.5" width="7" height="19.5" rx="1.5" fill="url(#bsym)" opacity="0.2" filter="url(#bl1)"/>
<rect x="118.5" y="350" width="6" height="56" rx="1.5" fill="url(#bsym)" opacity="0.06" filter="url(#bl1)"/>
<rect x="127.3" y="352" width="7" height="15.5" rx="1.5" fill="url(#bup)" opacity="0.4" filter="url(#bl1)"/>
<rect x="136" y="354.5" width="8.2" height="14.5" rx="1.5" fill="url(#bup)" opacity="0.62" filter="url(#bl1)"/>
<rect x="146" y="354" width="8" height="15" rx="1.5" fill="url(#bup)" opacity="0.68" filter="url(#bl1)"/>
<line x1="162.5" y1="340.5" x2="169" y2="340.5" stroke="#555" stroke-width="0.7"/>
<text x="170.8" y="343.1" font-size="7.3">250</text>
<line x1="162.5" y1="350.5" x2="169" y2="350.5" stroke="#555" stroke-width="0.7"/>
<text x="170.8" y="353.1" font-size="7.3">150</text>
<line x1="162.5" y1="360.4" x2="169" y2="360.4" stroke="#555" stroke-width="0.7"/>
<text x="170.8" y="363" font-size="7.3">100</text>
<line x1="162.5" y1="367" x2="169" y2="367" stroke="#555" stroke-width="0.7"/>
<text x="170.8" y="369.6" font-size="7.3">75</text>
<line x1="162.5" y1="380.6" x2="169" y2="380.6" stroke="#555" stroke-width="0.7"/>
<text x="170.8" y="383.2" font-size="7.3">50</text>
<line x1="162.5" y1="390.5" x2="169" y2="390.5" stroke="#555" stroke-width="0.7"/>
<text x="170.8" y="393.1" font-size="7.3">37</text>
<line x1="162.5" y1="404.8" x2="169" y2="404.8" stroke="#555" stroke-width="0.7"/>
<text x="170.8" y="407.4" font-size="7.3">25</text>
<text x="117.4" y="333.7" font-size="7" text-anchor="middle">11</text>
<text x="129.3" y="333.7" font-size="7" text-anchor="middle">16</text>
<text x="139.6" y="333.7" font-size="7" text-anchor="middle">17</text>
<text x="150.4" y="333.7" font-size="7" text-anchor="middle">18</text>
<rect x="194.4" y="335.3" width="53.4" height="70.6" fill="url(#gelbg2)"/>
<rect x="238.1" y="335.3" width="10" height="70.6" fill="#000" opacity="0.05"/>
<rect x="239.6" y="335.8" width="7" height="2.4" rx="1.1" fill="#1a1a1a" opacity="0.35" filter="url(#bl3)"/>
<rect x="239.6" y="345.7" width="7" height="2.4" rx="1.1" fill="#1a1a1a" opacity="0.6" filter="url(#bl3)"/>
<rect x="239.6" y="356.2" width="7" height="2.4" rx="1.1" fill="#1a1a1a" opacity="0.65" filter="url(#bl3)"/>
<rect x="239.6" y="363" width="7" height="2.4" rx="1.1" fill="#1a1a1a" opacity="0.8" filter="url(#bl3)"/>
<rect x="239.6" y="376.7" width="7" height="2.4" rx="1.1" fill="#1a1a1a" opacity="1" filter="url(#bl3)"/>
<rect x="239.6" y="387.2" width="7" height="2.4" rx="1.1" fill="#1a1a1a" opacity="1" filter="url(#bl3)"/>
<rect x="239.6" y="402.4" width="7" height="2.4" rx="1.1" fill="#1a1a1a" opacity="1" filter="url(#bl3)"/>
<rect x="197.6" y="335" width="7" height="13" rx="1.5" fill="url(#bdown)" opacity="0.3" filter="url(#bl1)"/>
<rect x="197.6" y="345.5" width="7" height="2" rx="1.5" fill="url(#bsym)" opacity="0.3" filter="url(#bl1)"/>
<rect x="197.6" y="364.2" width="7" height="2.2" rx="1.5" fill="url(#bsym)" opacity="0.35" filter="url(#bl1)"/>
<rect x="207.5" y="349" width="7.6" height="14.5" rx="1.5" fill="url(#bup)" opacity="0.36" filter="url(#bl1)"/>
<rect x="207.5" y="364" width="7.6" height="2.5" rx="1.5" fill="url(#bsym)" opacity="0.45" filter="url(#bl1)"/>
<rect x="207.5" y="373.5" width="7.6" height="3.5" rx="1.5" fill="url(#bsym)" opacity="0.35" filter="url(#bl1)"/>
<rect x="207.5" y="378.5" width="7.6" height="4.5" rx="1.5" fill="url(#bsym)" opacity="0.4" filter="url(#bl1)"/>
<rect x="218" y="350" width="7.6" height="13.5" rx="1.5" fill="url(#bup)" opacity="0.6" filter="url(#bl1)"/>
<rect x="218" y="364" width="7.6" height="2.5" rx="1.5" fill="url(#bsym)" opacity="0.45" filter="url(#bl1)"/>
<rect x="218" y="373.5" width="7.6" height="3.5" rx="1.5" fill="url(#bsym)" opacity="0.3" filter="url(#bl1)"/>
<rect x="218" y="378.5" width="7.6" height="4.5" rx="1.5" fill="url(#bsym)" opacity="0.35" filter="url(#bl1)"/>
<rect x="228.5" y="350" width="8.2" height="14" rx="1.5" fill="url(#bup)" opacity="0.75" filter="url(#bl1)"/>
<rect x="228.5" y="364" width="8.2" height="3" rx="1.5" fill="url(#bsym)" opacity="0.45" filter="url(#bl1)"/>
<rect x="228.5" y="367" width="8.2" height="5" rx="1.5" fill="url(#bsym)" opacity="0.2" filter="url(#bl1)"/>
<rect x="228.5" y="373" width="8.2" height="3.5" rx="1.5" fill="url(#bsym)" opacity="0.3" filter="url(#bl1)"/>
<rect x="228.5" y="378.5" width="8.2" height="4.5" rx="1.5" fill="url(#bsym)" opacity="0.3" filter="url(#bl1)"/>
<rect x="205.2" y="372.3" width="33.9" height="11.7" fill="none" stroke="#e06060" stroke-width="0.8"/>
<line x1="245.9" y1="337" x2="252.5" y2="337" stroke="#555" stroke-width="0.7"/>
<text x="253.8" y="339.6" font-size="7.3">250</text>
<line x1="245.9" y1="346.9" x2="252.5" y2="346.9" stroke="#555" stroke-width="0.7"/>
<text x="253.8" y="349.5" font-size="7.3">150</text>
<line x1="245.9" y1="357.4" x2="252.5" y2="357.4" stroke="#555" stroke-width="0.7"/>
<text x="253.8" y="360" font-size="7.3">100</text>
<line x1="245.9" y1="364.2" x2="252.5" y2="364.2" stroke="#555" stroke-width="0.7"/>
<text x="253.8" y="366.8" font-size="7.3">75</text>
<line x1="245.9" y1="377.9" x2="252.5" y2="377.9" stroke="#555" stroke-width="0.7"/>
<text x="253.8" y="380.5" font-size="7.3">50</text>
<line x1="245.9" y1="388.4" x2="252.5" y2="388.4" stroke="#555" stroke-width="0.7"/>
<text x="253.8" y="391" font-size="7.3">37</text>
<line x1="245.9" y1="403.6" x2="252.5" y2="403.6" stroke="#555" stroke-width="0.7"/>
<text x="253.8" y="406.2" font-size="7.3">25</text>
<text x="199.8" y="333.7" font-size="7" text-anchor="middle">11</text>
<text x="211.4" y="333.7" font-size="7" text-anchor="middle">17</text>
<text x="222" y="333.7" font-size="7" text-anchor="middle">18</text>
<text x="232.8" y="333.7" font-size="7" text-anchor="middle">19</text>
<rect x="268.5" y="335.3" width="56.7" height="71.2" fill="url(#gelbg2)"/>
<rect x="312.3" y="335.3" width="9.1" height="71.2" fill="#000" opacity="0.05"/>
<rect x="313.8" y="335.8" width="6.1" height="2.4" rx="1.1" fill="#1a1a1a" opacity="0.35" filter="url(#bl3)"/>
<rect x="313.8" y="346.1" width="6.1" height="2.4" rx="1.1" fill="#1a1a1a" opacity="0.6" filter="url(#bl3)"/>
<rect x="313.8" y="356.2" width="6.1" height="2.4" rx="1.1" fill="#1a1a1a" opacity="0.65" filter="url(#bl3)"/>
<rect x="313.8" y="363" width="6.1" height="2.4" rx="1.1" fill="#1a1a1a" opacity="0.8" filter="url(#bl3)"/>
<rect x="313.8" y="377.3" width="6.1" height="2.4" rx="1.1" fill="#1a1a1a" opacity="1" filter="url(#bl3)"/>
<rect x="313.8" y="387.8" width="6.1" height="2.4" rx="1.1" fill="#1a1a1a" opacity="1" filter="url(#bl3)"/>
<rect x="313.8" y="402.6" width="6.1" height="2.4" rx="1.1" fill="#1a1a1a" opacity="1" filter="url(#bl3)"/>
<rect x="270.3" y="345.5" width="7.6" height="3" rx="1.5" fill="url(#bsym)" opacity="0.25" filter="url(#bl1)"/>
<rect x="270.3" y="351" width="7.6" height="17" rx="1.5" fill="url(#bsym)" opacity="0.3" filter="url(#bl1)"/>
<rect x="282" y="350" width="8.1" height="18" rx="1.5" fill="url(#bsym)" opacity="0.38" filter="url(#bl1)"/>
<rect x="282" y="373.5" width="8.1" height="4" rx="1.5" fill="url(#bsym)" opacity="0.5" filter="url(#bl1)"/>
<rect x="282" y="378.5" width="8.1" height="5" rx="1.5" fill="url(#bsym)" opacity="0.45" filter="url(#bl1)"/>
<rect x="292.5" y="350" width="7.5" height="18" rx="1.5" fill="url(#bsym)" opacity="0.5" filter="url(#bl1)"/>
<rect x="292.5" y="373.5" width="7.5" height="4" rx="1.5" fill="url(#bsym)" opacity="0.3" filter="url(#bl1)"/>
<rect x="292.5" y="378.5" width="7.5" height="5" rx="1.5" fill="url(#bsym)" opacity="0.35" filter="url(#bl1)"/>
<rect x="303" y="350" width="7.6" height="16" rx="1.5" fill="url(#bup)" opacity="0.75" filter="url(#bl1)"/>
<rect x="303" y="362" width="7.6" height="9" rx="1.5" fill="url(#bsym)" opacity="0.4" filter="url(#bl1)"/>
<rect x="303" y="373" width="7.6" height="3.5" rx="1.5" fill="url(#bsym)" opacity="0.4" filter="url(#bl1)"/>
<rect x="303" y="378.5" width="7.6" height="5" rx="1.5" fill="url(#bsym)" opacity="0.3" filter="url(#bl1)"/>
<rect x="280.2" y="372.3" width="34.4" height="12.4" fill="none" stroke="#e06060" stroke-width="0.8"/>
<line x1="312.3" y1="335.3" x2="312.3" y2="406.5" stroke="#777" stroke-width="0.5" stroke-dasharray="1,1.2"/>
<line x1="319.8" y1="337" x2="326.8" y2="337" stroke="#555" stroke-width="0.7"/>
<text x="329.8" y="339.6" font-size="7.3">250</text>
<line x1="319.8" y1="347.3" x2="326.8" y2="347.3" stroke="#555" stroke-width="0.7"/>
<text x="329.8" y="349.9" font-size="7.3">150</text>
<line x1="319.8" y1="357.4" x2="326.8" y2="357.4" stroke="#555" stroke-width="0.7"/>
<text x="329.8" y="360" font-size="7.3">100</text>
<line x1="319.8" y1="364.2" x2="326.8" y2="364.2" stroke="#555" stroke-width="0.7"/>
<text x="329.8" y="366.8" font-size="7.3">75</text>
<line x1="319.8" y1="378.5" x2="326.8" y2="378.5" stroke="#555" stroke-width="0.7"/>
<text x="329.8" y="381.1" font-size="7.3">50</text>
<line x1="319.8" y1="389" x2="326.8" y2="389" stroke="#555" stroke-width="0.7"/>
<text x="329.8" y="391.6" font-size="7.3">37</text>
<line x1="319.8" y1="403.8" x2="326.8" y2="403.8" stroke="#555" stroke-width="0.7"/>
<text x="329.8" y="406.4" font-size="7.3">25</text>
<text x="272.8" y="333.7" font-size="7" text-anchor="middle">11</text>
<text x="284.6" y="333.7" font-size="7" text-anchor="middle">17</text>
<text x="295.4" y="333.7" font-size="7" text-anchor="middle">18</text>
<text x="306.2" y="333.7" font-size="7" text-anchor="middle">19</text>
<path d="M376.64,329.1 L376.64,402 L449.4,402" fill="none" stroke="#222" stroke-width="1"/>
<line x1="374.64" y1="402" x2="376.64" y2="402" stroke="#222" stroke-width="0.8"/>
<text x="374.14" y="405" font-size="8.4" text-anchor="end" font-weight="bold">0</text>
<line x1="374.64" y1="389.85" x2="376.64" y2="389.85" stroke="#222" stroke-width="0.8"/>
<text x="374.14" y="392.85" font-size="8.4" text-anchor="end" font-weight="bold">5</text>
<line x1="374.64" y1="377.7" x2="376.64" y2="377.7" stroke="#222" stroke-width="0.8"/>
<text x="374.14" y="380.7" font-size="8.4" text-anchor="end" font-weight="bold">10</text>
<line x1="374.64" y1="365.55" x2="376.64" y2="365.55" stroke="#222" stroke-width="0.8"/>
<text x="374.14" y="368.55" font-size="8.4" text-anchor="end" font-weight="bold">15</text>
<line x1="374.64" y1="353.4" x2="376.64" y2="353.4" stroke="#222" stroke-width="0.8"/>
<text x="374.14" y="356.4" font-size="8.4" text-anchor="end" font-weight="bold">20</text>
<line x1="374.64" y1="341.25" x2="376.64" y2="341.25" stroke="#222" stroke-width="0.8"/>
<text x="374.14" y="344.25" font-size="8.4" text-anchor="end" font-weight="bold">25</text>
<line x1="374.64" y1="329.1" x2="376.64" y2="329.1" stroke="#222" stroke-width="0.8"/>
<text x="374.14" y="332.1" font-size="8.4" text-anchor="end" font-weight="bold">30</text>
<line x1="382.2" y1="402" x2="382.2" y2="404" stroke="#222" stroke-width="0.8"/>
<text x="382.2" y="412.5" font-size="8.4" text-anchor="middle" font-weight="bold">40</text>
<line x1="404.43" y1="402" x2="404.43" y2="404" stroke="#222" stroke-width="0.8"/>
<text x="404.43" y="412.5" font-size="8.4" text-anchor="middle" font-weight="bold">60</text>
<line x1="426.67" y1="402" x2="426.67" y2="404" stroke="#222" stroke-width="0.8"/>
<text x="426.67" y="412.5" font-size="8.4" text-anchor="middle" font-weight="bold">80</text>
<line x1="448.9" y1="402" x2="448.9" y2="404" stroke="#222" stroke-width="0.8"/>
<text x="448.9" y="412.5" font-size="8.4" text-anchor="middle" font-weight="bold">100</text>
<line x1="393.32" y1="402" x2="393.32" y2="403.3" stroke="#222" stroke-width="0.6"/>
<line x1="415.55" y1="402" x2="415.55" y2="403.3" stroke="#222" stroke-width="0.6"/>
<line x1="437.78" y1="402" x2="437.78" y2="403.3" stroke="#222" stroke-width="0.6"/>
<text x="414.02" y="419.8" font-size="7.1" text-anchor="middle" font-weight="bold">Temperature (°C)</text>
<text transform="translate(360.4,364.85) rotate(-90)" font-size="7.1" font-weight="bold" text-anchor="middle" fill="#222">Cp (kcal mol<tspan font-size="4.4" dy="-2.2">-1</tspan><tspan dy="2.2"> °C</tspan><tspan font-size="4.4" dy="-2.2">-1</tspan><tspan dy="2.2">)</tspan></text>
<path d="M387.8,402.0 L388.1,401.4 L388.6,400.5 L389.3,399.5 L389.9,398.3 L390.5,397.1 L391.1,395.9 L391.6,394.6 L392.1,393.2 L392.6,391.7 L393.0,390.3 L393.5,389.0 L393.9,387.9 L394.3,387.0 L394.6,386.2 L394.9,385.5 L395.2,385.0 L395.6,384.6 L395.9,384.5 L396.2,384.6 L396.5,385.0 L396.8,385.5 L397.1,386.2 L397.4,387.0 L397.8,387.9 L398.2,389.0 L398.6,390.4 L399.1,391.8 L399.6,393.3 L400.1,394.7 L400.5,395.9 L401.0,397.0 L401.5,397.9 L402.0,398.8 L402.4,399.6 L402.9,400.2 L403.3,400.8 L403.8,401.2 L404.2,401.5 L404.6,401.7 L405.0,401.8 L405.3,401.9 L405.5,402.0" fill="none" stroke="#ee2a1e" stroke-width="1.6" stroke-linejoin="round"/>
<path d="M414.4,402.0 L414.8,401.8 L415.3,401.6 L415.9,401.3 L416.5,401.0 L417.2,400.6 L417.8,400.1 L418.3,399.4 L418.9,398.8 L419.4,398.0 L420.0,397.1 L420.6,396.2 L421.1,395.2 L421.7,394.1 L422.2,392.9 L422.8,391.7 L423.3,390.4 L423.9,388.9 L424.4,387.4 L425.0,385.8 L425.6,384.0 L426.1,382.1 L426.7,380.2 L427.2,378.3 L427.8,376.5 L428.3,374.6 L428.9,372.8 L429.4,370.9 L430.0,369.1 L430.6,367.3 L431.1,365.6 L431.7,363.8 L432.3,362.1 L432.9,360.4 L433.4,358.8 L434.0,357.4 L434.4,356.3 L434.9,355.5 L435.3,355.0 L435.6,354.6 L436.0,354.4 L436.3,354.3 L436.7,354.4 L437.0,354.4 L437.4,354.6 L437.7,354.8 L438.1,355.3 L438.5,356.0 L438.9,357.0 L439.4,358.5 L439.9,360.3 L440.5,362.4 L441.1,364.6 L441.7,366.9 L442.2,369.2 L442.8,371.5 L443.3,374.0 L443.9,376.6 L444.5,379.1 L445.0,381.5 L445.6,383.8 L446.2,385.9 L446.8,388.1 L447.4,390.2 L448.0,392.0 L448.5,393.6 L448.9,394.7" fill="none" stroke="#ee2a1e" stroke-width="1.6" stroke-linejoin="round"/>
<g fill="#111"><circle cx="386.6" cy="402.0" r="0.75"/><circle cx="388.3" cy="400.6" r="0.75"/><circle cx="390.0" cy="398.2" r="0.75"/><circle cx="391.6" cy="394.5" r="0.75"/><circle cx="393.3" cy="389.1" r="0.75"/><circle cx="395.0" cy="385.7" r="0.75"/><circle cx="396.7" cy="385.5" r="0.75"/><circle cx="398.3" cy="388.6" r="0.75"/><circle cx="400.0" cy="394.7" r="0.75"/><circle cx="401.7" cy="398.4" r="0.75"/><circle cx="403.3" cy="400.8" r="0.75"/><circle cx="405.0" cy="401.7" r="0.75"/><circle cx="406.7" cy="402.0" r="0.75"/><circle cx="408.3" cy="402.0" r="0.75"/><circle cx="410.0" cy="402.0" r="0.75"/><circle cx="411.7" cy="402.0" r="0.75"/><circle cx="413.3" cy="402.0" r="0.75"/><circle cx="415.0" cy="401.6" r="0.75"/><circle cx="416.7" cy="400.7" r="0.75"/><circle cx="418.3" cy="399.4" r="0.75"/><circle cx="420.0" cy="397.1" r="0.75"/><circle cx="421.7" cy="394.2" r="0.75"/><circle cx="423.3" cy="390.3" r="0.75"/><circle cx="425.0" cy="386.1" r="0.75"/><circle cx="426.7" cy="380.1" r="0.75"/><circle cx="428.3" cy="375.0" r="0.75"/><circle cx="430.0" cy="369.1" r="0.75"/><circle cx="431.7" cy="364.2" r="0.75"/><circle cx="433.3" cy="359.5" r="0.75"/><circle cx="435.0" cy="356.0" r="0.75"/><circle cx="436.7" cy="354.8" r="0.75"/><circle cx="438.3" cy="356.6" r="0.75"/><circle cx="440.0" cy="361.9" r="0.75"/><circle cx="441.7" cy="368.2" r="0.75"/><circle cx="443.3" cy="378.9" r="0.75"/><circle cx="445.0" cy="388.5" r="0.75"/><circle cx="446.7" cy="395.9" r="0.75"/><circle cx="448.3" cy="400.7" r="0.75"/></g>
<rect x="383.1" y="336.4" width="41.3" height="22.4" fill="#fff" stroke="#555" stroke-width="0.8"/>
<text x="387.4" y="346.6" font-size="7.6" font-weight="bold" fill="#111">T<tspan font-size="4.8" dy="1.6">m1</tspan><tspan dy="-1.6" x="401.9">= 52.5</tspan></text>
<text x="387.4" y="354.4" font-size="7.6" font-weight="bold" fill="#111">T<tspan font-size="4.8" dy="1.6">m2</tspan><tspan dy="-1.6" x="401.9">= 90.5</tspan></text>
<text x="412.9" y="301.3" font-size="7.85" text-anchor="middle" fill="#222">HCV-1</text>
<text x="412.9" y="310.9" font-size="7.85" text-anchor="middle" fill="#222">sE1E2.Cut<tspan font-size="5" dy="1.6">1+2</tspan><tspan dy="-1.6">.SPYΔN-V2-</tspan></text>
<text x="412.9" y="319.7" font-size="7.85" text-anchor="middle" fill="#222">His<tspan font-size="5" dy="1.6">6</tspan><tspan dy="-1.6"> </tspan>(25-ml ExpiCHO, Nickel)</text>
<path d="M481.72,330 L481.72,402.3 L553.5,402.3" fill="none" stroke="#222" stroke-width="1"/>
<line x1="479.72" y1="402.3" x2="481.72" y2="402.3" stroke="#222" stroke-width="0.8"/>
<text x="479.22" y="405.3" font-size="8.4" text-anchor="end" font-weight="bold">0</text>
<line x1="479.72" y1="384.23" x2="481.72" y2="384.23" stroke="#222" stroke-width="0.8"/>
<text x="479.22" y="387.23" font-size="8.4" text-anchor="end" font-weight="bold">10</text>
<line x1="479.72" y1="366.15" x2="481.72" y2="366.15" stroke="#222" stroke-width="0.8"/>
<text x="479.22" y="369.15" font-size="8.4" text-anchor="end" font-weight="bold">20</text>
<line x1="479.72" y1="348.07" x2="481.72" y2="348.07" stroke="#222" stroke-width="0.8"/>
<text x="479.22" y="351.07" font-size="8.4" text-anchor="end" font-weight="bold">30</text>
<line x1="479.72" y1="330" x2="481.72" y2="330" stroke="#222" stroke-width="0.8"/>
<text x="479.22" y="333" font-size="8.4" text-anchor="end" font-weight="bold">40</text>
<line x1="487.2" y1="402.3" x2="487.2" y2="404.3" stroke="#222" stroke-width="0.8"/>
<text x="487.2" y="412.8" font-size="8.4" text-anchor="middle" font-weight="bold">40</text>
<line x1="509.13" y1="402.3" x2="509.13" y2="404.3" stroke="#222" stroke-width="0.8"/>
<text x="509.13" y="412.8" font-size="8.4" text-anchor="middle" font-weight="bold">60</text>
<line x1="531.07" y1="402.3" x2="531.07" y2="404.3" stroke="#222" stroke-width="0.8"/>
<text x="531.07" y="412.8" font-size="8.4" text-anchor="middle" font-weight="bold">80</text>
<line x1="553" y1="402.3" x2="553" y2="404.3" stroke="#222" stroke-width="0.8"/>
<text x="553" y="412.8" font-size="8.4" text-anchor="middle" font-weight="bold">100</text>
<line x1="498.17" y1="402.3" x2="498.17" y2="403.6" stroke="#222" stroke-width="0.6"/>
<line x1="520.1" y1="402.3" x2="520.1" y2="403.6" stroke="#222" stroke-width="0.6"/>
<line x1="542.03" y1="402.3" x2="542.03" y2="403.6" stroke="#222" stroke-width="0.6"/>
<text x="518.61" y="420.1" font-size="7.1" text-anchor="middle" font-weight="bold">Temperature (°C)</text>
<text transform="translate(466.4,365.45) rotate(-90)" font-size="7.1" font-weight="bold" text-anchor="middle" fill="#222">Cp (kcal mol<tspan font-size="4.4" dy="-2.2">-1</tspan><tspan dy="2.2"> °C</tspan><tspan font-size="4.4" dy="-2.2">-1</tspan><tspan dy="2.2">)</tspan></text>
<path d="M481.7,399.6 L482.3,399.4 L483.2,399.2 L484.2,399.0 L485.3,398.7 L486.3,398.4 L487.2,398.1 L488.0,397.9 L488.7,397.6 L489.5,397.3 L490.2,396.9 L490.9,396.5 L491.6,396.0 L492.3,395.4 L493.1,394.7 L493.8,394.0 L494.6,393.2 L495.3,392.3 L496.0,391.5 L496.6,390.5 L497.2,389.5 L497.7,388.4 L498.2,387.3 L498.8,386.2 L499.3,385.1 L499.8,384.0 L500.3,382.9 L500.7,381.7 L501.2,380.6 L501.6,379.6 L502.0,378.8 L502.3,378.2 L502.6,377.7 L502.9,377.3 L503.1,377.1 L503.4,377.0 L503.6,377.0 L503.9,377.1 L504.2,377.4 L504.4,377.8 L504.7,378.4 L505.0,379.0 L505.3,379.7 L505.7,380.6 L506.1,381.6 L506.6,382.8 L507.0,384.0 L507.5,385.1 L508.0,386.0 L508.5,386.9 L509.1,387.6 L509.6,388.3 L510.1,388.9 L510.7,389.5 L511.3,390.0 L512.0,390.5 L512.7,390.9 L513.5,391.3 L514.3,391.7 L515.0,392.0 L515.7,392.2 L516.3,392.3 L516.9,392.4 L517.4,392.4 L517.9,392.4 L518.5,392.3 L519.0,392.2 L519.5,392.1 L520.1,392.0 L520.6,391.8 L521.1,391.6 L521.7,391.3 L522.3,390.9 L523.0,390.5 L523.7,390.0 L524.4,389.5 L525.2,388.8 L525.9,388.0 L526.7,386.9 L527.4,385.6 L528.2,384.1 L528.9,382.4 L529.7,380.6 L530.4,378.8 L531.1,377.0 L531.7,375.2 L532.3,373.4 L532.8,371.6 L533.3,369.7 L533.9,367.9 L534.4,366.1 L534.9,364.4 L535.3,362.6 L535.8,360.9 L536.3,359.2 L536.7,357.6 L537.1,356.2 L537.5,354.9 L537.8,353.7 L538.1,352.7 L538.4,351.8 L538.7,351.0 L539.0,350.6 L539.3,350.4 L539.6,350.3 L539.9,350.5 L540.2,350.9 L540.5,351.6 L540.9,352.6 L541.4,354.0 L541.9,355.7 L542.5,357.7 L543.1,359.9 L543.7,362.2 L544.2,364.3 L544.8,366.6 L545.3,368.9 L545.9,371.3 L546.4,373.7 L547.0,375.9 L547.5,377.9 L548.1,379.6 L548.7,381.2 L549.2,382.6 L549.8,383.9 L550.3,385.0 L550.8,386.0 L551.3,386.9 L551.7,387.7 L552.1,388.3 L552.5,388.9 L552.8,389.3 L553.0,389.6" fill="none" stroke="#ee2a1e" stroke-width="1.6" stroke-linejoin="round"/>
<g fill="#111"><circle cx="485.0" cy="401.4" r="0.75"/><circle cx="486.7" cy="401.0" r="0.75"/><circle cx="488.3" cy="400.5" r="0.75"/><circle cx="489.9" cy="399.4" r="0.75"/><circle cx="491.6" cy="397.8" r="0.75"/><circle cx="493.2" cy="395.7" r="0.75"/><circle cx="494.9" cy="393.3" r="0.75"/><circle cx="496.5" cy="390.3" r="0.75"/><circle cx="498.2" cy="386.9" r="0.75"/><circle cx="499.8" cy="383.1" r="0.75"/><circle cx="501.5" cy="379.7" r="0.75"/><circle cx="503.1" cy="377.1" r="0.75"/><circle cx="504.7" cy="379.3" r="0.75"/><circle cx="506.4" cy="383.4" r="0.75"/><circle cx="508.0" cy="386.9" r="0.75"/><circle cx="509.7" cy="388.0" r="0.75"/><circle cx="511.3" cy="388.5" r="0.75"/><circle cx="513.0" cy="388.9" r="0.75"/><circle cx="514.6" cy="389.3" r="0.75"/><circle cx="516.3" cy="389.6" r="0.75"/><circle cx="517.9" cy="389.7" r="0.75"/><circle cx="519.6" cy="389.6" r="0.75"/><circle cx="521.2" cy="389.3" r="0.75"/><circle cx="522.8" cy="388.9" r="0.75"/><circle cx="524.5" cy="388.4" r="0.75"/><circle cx="526.1" cy="387.4" r="0.75"/><circle cx="527.8" cy="385.1" r="0.75"/><circle cx="529.4" cy="382.2" r="0.75"/><circle cx="531.1" cy="377.7" r="0.75"/><circle cx="532.7" cy="372.8" r="0.75"/><circle cx="534.4" cy="366.1" r="0.75"/><circle cx="536.0" cy="360.3" r="0.75"/><circle cx="537.6" cy="354.5" r="0.75"/><circle cx="539.3" cy="351.7" r="0.75"/><circle cx="540.9" cy="352.6" r="0.75"/><circle cx="542.6" cy="354.1" r="0.75"/><circle cx="544.2" cy="358.3" r="0.75"/><circle cx="545.9" cy="364.7" r="0.75"/><circle cx="547.5" cy="375.2" r="0.75"/><circle cx="549.2" cy="384.2" r="0.75"/><circle cx="550.8" cy="392.8" r="0.75"/></g>
<rect x="487.8" y="336.4" width="41.6" height="23.4" fill="#fff" stroke="#555" stroke-width="0.8"/>
<text x="492.1" y="346.6" font-size="7.6" font-weight="bold" fill="#111">T<tspan font-size="4.8" dy="1.6">m1</tspan><tspan dy="-1.6" x="506.6">= 54.4</tspan></text>
<text x="492.1" y="354.4" font-size="7.6" font-weight="bold" fill="#111">T<tspan font-size="4.8" dy="1.6">m2</tspan><tspan dy="-1.6" x="506.6">= 89.6</tspan></text>
<text x="519.4" y="301.3" font-size="7.85" text-anchor="middle" fill="#222">HCV-1</text>
<text x="519.4" y="310.9" font-size="7.85" text-anchor="middle" fill="#222">sE1E2.Cut<tspan font-size="5" dy="1.6">1+2</tspan><tspan dy="-1.6">.SPYΔN-V3-</tspan></text>
<text x="519.4" y="319.7" font-size="7.85" text-anchor="middle" fill="#222">His<tspan font-size="5" dy="1.6">6</tspan><tspan dy="-1.6"> </tspan>(25-ml ExpiCHO, Nickel)</text>
<path d="M584.99,330 L584.99,401.9 L657,401.9" fill="none" stroke="#222" stroke-width="1"/>
<line x1="582.99" y1="401.9" x2="584.99" y2="401.9" stroke="#222" stroke-width="0.8"/>
<text x="582.49" y="404.9" font-size="8.4" text-anchor="end" font-weight="bold">0</text>
<line x1="582.99" y1="383.92" x2="584.99" y2="383.92" stroke="#222" stroke-width="0.8"/>
<text x="582.49" y="386.92" font-size="8.4" text-anchor="end" font-weight="bold">10</text>
<line x1="582.99" y1="365.95" x2="584.99" y2="365.95" stroke="#222" stroke-width="0.8"/>
<text x="582.49" y="368.95" font-size="8.4" text-anchor="end" font-weight="bold">20</text>
<line x1="582.99" y1="347.98" x2="584.99" y2="347.98" stroke="#222" stroke-width="0.8"/>
<text x="582.49" y="350.98" font-size="8.4" text-anchor="end" font-weight="bold">30</text>
<line x1="582.99" y1="330" x2="584.99" y2="330" stroke="#222" stroke-width="0.8"/>
<text x="582.49" y="333" font-size="8.4" text-anchor="end" font-weight="bold">40</text>
<line x1="590.5" y1="401.9" x2="590.5" y2="403.9" stroke="#222" stroke-width="0.8"/>
<text x="590.5" y="412.4" font-size="8.4" text-anchor="middle" font-weight="bold">40</text>
<line x1="612.53" y1="401.9" x2="612.53" y2="403.9" stroke="#222" stroke-width="0.8"/>
<text x="612.53" y="412.4" font-size="8.4" text-anchor="middle" font-weight="bold">60</text>
<line x1="634.57" y1="401.9" x2="634.57" y2="403.9" stroke="#222" stroke-width="0.8"/>
<text x="634.57" y="412.4" font-size="8.4" text-anchor="middle" font-weight="bold">80</text>
<line x1="656.6" y1="401.9" x2="656.6" y2="403.9" stroke="#222" stroke-width="0.8"/>
<text x="656.6" y="412.4" font-size="8.4" text-anchor="middle" font-weight="bold">100</text>
<line x1="601.52" y1="401.9" x2="601.52" y2="403.2" stroke="#222" stroke-width="0.6"/>
<line x1="623.55" y1="401.9" x2="623.55" y2="403.2" stroke="#222" stroke-width="0.6"/>
<line x1="645.58" y1="401.9" x2="645.58" y2="403.2" stroke="#222" stroke-width="0.6"/>
<text x="622" y="419.7" font-size="7.1" text-anchor="middle" font-weight="bold">Temperature (°C)</text>
<text transform="translate(570.4,365.25) rotate(-90)" font-size="7.1" font-weight="bold" text-anchor="middle" fill="#222">Cp (kcal mol<tspan font-size="4.4" dy="-2.2">-1</tspan><tspan dy="2.2"> °C</tspan><tspan font-size="4.4" dy="-2.2">-1</tspan><tspan dy="2.2">)</tspan></text>
<path d="M585.0,396.5 L585.4,396.5 L585.8,396.5 L586.4,396.5 L587.1,396.4 L587.7,396.3 L588.3,396.1 L588.8,395.9 L589.4,395.6 L589.9,395.2 L590.5,394.8 L591.1,394.3 L591.6,393.8 L592.2,393.2 L592.7,392.6 L593.3,392.0 L593.8,391.2 L594.4,390.5 L594.9,389.7 L595.5,388.8 L596.0,387.9 L596.6,386.9 L597.1,385.9 L597.7,384.9 L598.2,383.9 L598.8,383.0 L599.3,382.0 L599.9,381.0 L600.5,380.1 L601.0,379.2 L601.5,378.5 L602.0,378.0 L602.5,377.6 L602.9,377.3 L603.4,377.0 L603.8,376.8 L604.3,376.7 L604.7,376.7 L605.2,376.7 L605.6,376.8 L606.1,377.0 L606.5,377.2 L607.0,377.5 L607.5,377.8 L608.0,378.1 L608.6,378.5 L609.1,379.0 L609.7,379.4 L610.3,380.0 L611.0,380.6 L611.7,381.2 L612.5,381.9 L613.2,382.6 L614.0,383.3 L614.7,383.9 L615.5,384.5 L616.2,385.1 L616.9,385.7 L617.7,386.2 L618.4,386.7 L619.1,387.2 L619.9,387.6 L620.7,387.9 L621.4,388.2 L622.2,388.5 L622.9,388.8 L623.5,389.0 L624.2,389.1 L624.7,389.2 L625.3,389.3 L625.8,389.4 L626.3,389.4 L626.9,389.3 L627.4,389.3 L628.0,389.2 L628.5,389.1 L629.1,388.9 L629.6,388.6 L630.2,388.2 L630.7,387.7 L631.3,387.1 L631.8,386.5 L632.4,385.7 L632.9,384.8 L633.5,383.9 L634.0,382.9 L634.6,381.9 L635.1,380.7 L635.7,379.5 L636.2,378.2 L636.8,376.7 L637.3,375.1 L637.9,373.3 L638.5,371.4 L639.0,369.5 L639.6,367.6 L640.1,365.9 L640.6,364.4 L641.0,362.7 L641.5,361.2 L641.9,359.9 L642.4,358.8 L642.8,358.2 L643.3,358.0 L643.7,358.1 L644.2,358.5 L644.6,359.2 L645.1,360.2 L645.6,361.5 L646.1,363.1 L646.6,365.2 L647.2,367.6 L647.8,370.1 L648.3,372.6 L648.9,374.9 L649.4,377.1 L649.9,379.3 L650.5,381.4 L651.0,383.5 L651.6,385.5 L652.2,387.5 L652.9,389.5 L653.7,391.6 L654.6,393.7 L655.4,395.6 L656.1,397.2 L656.6,398.3" fill="none" stroke="#ee2a1e" stroke-width="1.6" stroke-linejoin="round"/>
<g fill="#111"><circle cx="585.0" cy="396.5" r="0.75"/><circle cx="586.6" cy="396.5" r="0.75"/><circle cx="588.3" cy="396.1" r="0.75"/><circle cx="589.9" cy="394.8" r="0.75"/><circle cx="591.6" cy="392.9" r="0.75"/><circle cx="593.3" cy="390.4" r="0.75"/><circle cx="594.9" cy="387.5" r="0.75"/><circle cx="596.6" cy="384.7" r="0.75"/><circle cx="598.2" cy="382.1" r="0.75"/><circle cx="599.9" cy="380.1" r="0.75"/><circle cx="601.5" cy="378.5" r="0.75"/><circle cx="603.2" cy="377.8" r="0.75"/><circle cx="604.8" cy="377.5" r="0.75"/><circle cx="606.5" cy="376.9" r="0.75"/><circle cx="608.1" cy="376.4" r="0.75"/><circle cx="609.8" cy="375.8" r="0.75"/><circle cx="611.4" cy="375.8" r="0.75"/><circle cx="613.1" cy="378.0" r="0.75"/><circle cx="614.7" cy="382.6" r="0.75"/><circle cx="616.4" cy="386.6" r="0.75"/><circle cx="618.0" cy="389.3" r="0.75"/><circle cx="619.7" cy="391.1" r="0.75"/><circle cx="621.3" cy="389.0" r="0.75"/><circle cx="623.0" cy="386.2" r="0.75"/><circle cx="624.7" cy="385.7" r="0.75"/><circle cx="626.3" cy="386.2" r="0.75"/><circle cx="628.0" cy="387.7" r="0.75"/><circle cx="629.6" cy="388.3" r="0.75"/><circle cx="631.3" cy="386.6" r="0.75"/><circle cx="632.9" cy="384.2" r="0.75"/><circle cx="634.6" cy="380.9" r="0.75"/><circle cx="636.2" cy="377.4" r="0.75"/><circle cx="637.9" cy="372.2" r="0.75"/><circle cx="639.5" cy="367.2" r="0.75"/><circle cx="641.2" cy="361.4" r="0.75"/><circle cx="642.8" cy="358.4" r="0.75"/><circle cx="644.5" cy="359.7" r="0.75"/><circle cx="646.1" cy="363.7" r="0.75"/><circle cx="647.8" cy="370.3" r="0.75"/><circle cx="649.4" cy="376.8" r="0.75"/><circle cx="651.1" cy="383.9" r="0.75"/><circle cx="652.7" cy="389.1" r="0.75"/><circle cx="654.4" cy="393.7" r="0.75"/></g>
<rect x="591.5" y="336.4" width="41.5" height="31.4" fill="#fff" stroke="#555" stroke-width="0.8"/>
<text x="595.8" y="346.6" font-size="7.6" font-weight="bold" fill="#111">T<tspan font-size="4.8" dy="1.6">m1</tspan><tspan dy="-1.6" x="610.3">= 50.0</tspan></text>
<text x="595.8" y="354.4" font-size="7.6" font-weight="bold" fill="#111">T<tspan font-size="4.8" dy="1.6">m2</tspan><tspan dy="-1.6" x="610.3">= 57.7</tspan></text>
<text x="595.8" y="362.2" font-size="7.6" font-weight="bold" fill="#111">T<tspan font-size="4.8" dy="1.6">m2</tspan><tspan dy="-1.6" x="610.3">= 88.7</tspan></text>
<text x="623.5" y="301.3" font-size="7.85" text-anchor="middle" fill="#222">HCV-1</text>
<text x="623.5" y="310.9" font-size="7.85" text-anchor="middle" fill="#222">sE1E2.Ext<tspan font-size="5" dy="1.6">1</tspan><tspan dy="-1.6">.Cut</tspan><tspan font-size="5" dy="1.6">2</tspan><tspan dy="-1.6">.SPYΔN-His</tspan><tspan font-size="5" dy="1.6">6</tspan></text>
<text x="623.5" y="319.7" font-size="7.85" text-anchor="middle" fill="#222">(25-ml ExpiCHO, Nickel)</text>
<text x="76.5" y="440.8" font-size="7.85" text-anchor="middle" fill="#222">HCV-1 sE1E2.Cut<tspan font-size="5" dy="1.6">1+2</tspan><tspan dy="-1.6">.SPYΔN-His</tspan><tspan font-size="5" dy="1.6">6</tspan></text>
<text x="76.5" y="449.7" font-size="7.85" text-anchor="middle">bound to AR4A Fab</text>
<text x="260.3" y="442.1" font-size="7.85" text-anchor="middle" fill="#222">HCV-1 sE1E2.Cut<tspan font-size="5" dy="1.6">1+2</tspan><tspan dy="-1.6">.SPYΔN-V2-His</tspan><tspan font-size="5" dy="1.6">6</tspan></text>
<text x="260.3" y="451.5" font-size="7.85" text-anchor="middle">bound to AR4A Fab</text>
<text x="448.0" y="442.4" font-size="7.85" text-anchor="middle" fill="#222">HCV-1 sE1E2.Ext1.Cut<tspan font-size="5" dy="1.6">2</tspan><tspan dy="-1.6">.SPYΔN-His</tspan><tspan font-size="5" dy="1.6">6</tspan></text>
<text x="449" y="451" font-size="7.85" text-anchor="middle">bound to AR3C and IGH526 Fabs</text>
<clipPath id="emc1"><rect x="35" y="457.2" width="26" height="26"/></clipPath>
<rect x="35" y="457.2" width="26" height="26" fill="#565656"/>
<g clip-path="url(#emc1)">
<g fill="#3a3a3a" opacity="0.8" filter="url(#bl2)"><circle cx="43.4" cy="468.3" r="4.2"/><circle cx="45.0" cy="468.6" r="4.2"/><circle cx="46.6" cy="468.9" r="4.2"/><circle cx="48.6" cy="470.6" r="4.2"/><circle cx="50.0" cy="472.8" r="4.2"/><circle cx="51.2" cy="467.4" r="4.2"/><circle cx="50.6" cy="470.2" r="4.2"/></g>
<g fill="#9a9a9a" filter="url(#bl1)"><circle cx="43.4" cy="468.3" r="2.3"/><circle cx="45.0" cy="468.6" r="2.3"/><circle cx="46.6" cy="468.9" r="2.3"/><circle cx="48.6" cy="470.6" r="2.3"/><circle cx="50.0" cy="472.8" r="2.3"/><circle cx="51.2" cy="467.4" r="2.3"/><circle cx="50.6" cy="470.2" r="2.3"/></g>
<g fill="#d2d2d2" filter="url(#bl3)"><circle cx="43.4" cy="468.4" r="1.7"/><circle cx="46.6" cy="468.9" r="1.5"/><circle cx="48.3" cy="470.6" r="1.5"/><circle cx="50.3" cy="472.4" r="1.3"/><circle cx="50.8" cy="467.7" r="1.5"/><circle cx="50.1" cy="470.7" r="1.7"/></g>
</g>
<clipPath id="emc2"><rect x="63.2" y="457.2" width="26" height="26"/></clipPath>
<rect x="63.2" y="457.2" width="26" height="26" fill="#565656"/>
<g clip-path="url(#emc2)">
<g fill="#3a3a3a" opacity="0.8" filter="url(#bl2)"><circle cx="72.7" cy="468.3" r="4.2"/><circle cx="75.8" cy="467.6" r="4.2"/><circle cx="78.2" cy="466.8" r="4.2"/><circle cx="76.2" cy="468.7" r="4.2"/><circle cx="76.3" cy="470.5" r="4.2"/><circle cx="76.5" cy="472.4" r="4.2"/><circle cx="76.7" cy="474.1" r="4.2"/><circle cx="76.9" cy="475.8" r="4.2"/></g>
<g fill="#9a9a9a" filter="url(#bl1)"><circle cx="72.7" cy="468.3" r="2.3"/><circle cx="75.8" cy="467.6" r="2.3"/><circle cx="78.2" cy="466.8" r="2.3"/><circle cx="76.2" cy="468.7" r="2.3"/><circle cx="76.3" cy="470.5" r="2.3"/><circle cx="76.5" cy="472.4" r="2.3"/><circle cx="76.7" cy="474.1" r="2.3"/><circle cx="76.9" cy="475.8" r="2.3"/></g>
<g fill="#d2d2d2" filter="url(#bl3)"><circle cx="72.9" cy="468.4" r="1.2"/><circle cx="75.3" cy="467.6" r="1.1"/><circle cx="77.9" cy="466.5" r="1.1"/><circle cx="76.2" cy="468.6" r="1.6"/><circle cx="76.5" cy="472.5" r="1.4"/><circle cx="77.1" cy="475.8" r="1.3"/></g>
</g>
<clipPath id="emc3"><rect x="91.4" y="457.2" width="26" height="26"/></clipPath>
<rect x="91.4" y="457.2" width="26" height="26" fill="#565656"/>
<g clip-path="url(#emc3)">
<g fill="#3a3a3a" opacity="0.8" filter="url(#bl2)"><circle cx="99.6" cy="467.7" r="4.2"/><circle cx="101.2" cy="467.4" r="4.2"/><circle cx="102.9" cy="467.2" r="4.2"/><circle cx="104.9" cy="466.9" r="4.2"/><circle cx="106.9" cy="466.7" r="4.2"/><circle cx="103.4" cy="468.7" r="4.2"/><circle cx="104.5" cy="471.7" r="4.2"/><circle cx="104.9" cy="473.4" r="4.2"/><circle cx="105.3" cy="475.2" r="4.2"/></g>
<g fill="#9a9a9a" filter="url(#bl1)"><circle cx="99.6" cy="467.7" r="2.3"/><circle cx="101.2" cy="467.4" r="2.3"/><circle cx="102.9" cy="467.2" r="2.3"/><circle cx="104.9" cy="466.9" r="2.3"/><circle cx="106.9" cy="466.7" r="2.3"/><circle cx="103.4" cy="468.7" r="2.3"/><circle cx="104.5" cy="471.7" r="2.3"/><circle cx="104.9" cy="473.4" r="2.3"/><circle cx="105.3" cy="475.2" r="2.3"/></g>
<g fill="#d2d2d2" filter="url(#bl3)"><circle cx="100.1" cy="468.2" r="1.6"/><circle cx="103.1" cy="467.0" r="1.2"/><circle cx="106.7" cy="466.3" r="1.6"/><circle cx="103.3" cy="469.0" r="1.3"/><circle cx="105.0" cy="472.0" r="1.1"/><circle cx="105.0" cy="475.6" r="1.4"/></g>
</g>
<clipPath id="emc4"><rect x="35" y="485.4" width="26" height="26"/></clipPath>
<rect x="35" y="485.4" width="26" height="26" fill="#565656"/>
<g clip-path="url(#emc4)">
<g fill="#3a3a3a" opacity="0.8" filter="url(#bl2)"><circle cx="45.8" cy="495.0" r="4.2"/><circle cx="47.5" cy="497.7" r="4.2"/><circle cx="50.2" cy="499.2" r="4.2"/><circle cx="51.3" cy="500.5" r="4.2"/><circle cx="52.4" cy="501.8" r="4.2"/></g>
<g fill="#9a9a9a" filter="url(#bl1)"><circle cx="45.8" cy="495.0" r="2.3"/><circle cx="47.5" cy="497.7" r="2.3"/><circle cx="50.2" cy="499.2" r="2.3"/><circle cx="51.3" cy="500.5" r="2.3"/><circle cx="52.4" cy="501.8" r="2.3"/></g>
<g fill="#d2d2d2" filter="url(#bl3)"><circle cx="46.3" cy="494.9" r="1.1"/><circle cx="47.6" cy="498.0" r="1.3"/><circle cx="49.8" cy="499.0" r="1.7"/><circle cx="52.7" cy="501.4" r="1.2"/></g>
</g>
<clipPath id="emc5"><rect x="63.2" y="485.4" width="26" height="26"/></clipPath>
<rect x="63.2" y="485.4" width="26" height="26" fill="#565656"/>
<g clip-path="url(#emc5)">
<g fill="#3a3a3a" opacity="0.8" filter="url(#bl2)"><circle cx="75.7" cy="494.2" r="4.2"/><circle cx="75.6" cy="495.9" r="4.2"/><circle cx="75.4" cy="497.7" r="4.2"/><circle cx="76.3" cy="500.6" r="4.2"/><circle cx="76.9" cy="503.4" r="4.2"/></g>
<g fill="#9a9a9a" filter="url(#bl1)"><circle cx="75.7" cy="494.2" r="2.3"/><circle cx="75.6" cy="495.9" r="2.3"/><circle cx="75.4" cy="497.7" r="2.3"/><circle cx="76.3" cy="500.6" r="2.3"/><circle cx="76.9" cy="503.4" r="2.3"/></g>
<g fill="#d2d2d2" filter="url(#bl3)"><circle cx="75.3" cy="493.8" r="1.6"/><circle cx="75.1" cy="497.8" r="1.4"/><circle cx="76.0" cy="500.8" r="1.2"/><circle cx="77.0" cy="503.0" r="1.4"/></g>
</g>
<clipPath id="emc6"><rect x="91.4" y="485.4" width="26" height="26"/></clipPath>
<rect x="91.4" y="485.4" width="26" height="26" fill="#565656"/>
<g clip-path="url(#emc6)">
<g fill="#3a3a3a" opacity="0.8" filter="url(#bl2)"><circle cx="103.7" cy="494.2" r="4.2"/><circle cx="103.7" cy="496.1" r="4.2"/><circle cx="103.7" cy="498.0" r="4.2"/><circle cx="104.3" cy="500.8" r="4.2"/><circle cx="104.7" cy="503.0" r="4.2"/></g>
<g fill="#9a9a9a" filter="url(#bl1)"><circle cx="103.7" cy="494.2" r="2.3"/><circle cx="103.7" cy="496.1" r="2.3"/><circle cx="103.7" cy="498.0" r="2.3"/><circle cx="104.3" cy="500.8" r="2.3"/><circle cx="104.7" cy="503.0" r="2.3"/></g>
<g fill="#d2d2d2" filter="url(#bl3)"><circle cx="103.4" cy="494.0" r="1.7"/><circle cx="104.0" cy="497.8" r="1.6"/><circle cx="104.0" cy="500.7" r="1.6"/><circle cx="104.8" cy="502.6" r="1.7"/></g>
</g>
<clipPath id="emc7"><rect x="35" y="513.6" width="26" height="26"/></clipPath>
<rect x="35" y="513.6" width="26" height="26" fill="#565656"/>
<g clip-path="url(#emc7)">
<g fill="#3a3a3a" opacity="0.8" filter="url(#bl2)"><circle cx="47.3" cy="523.1" r="4.2"/><circle cx="47.5" cy="524.9" r="4.2"/><circle cx="47.8" cy="526.6" r="4.2"/><circle cx="48.3" cy="528.8" r="4.2"/><circle cx="48.9" cy="531.1" r="4.2"/></g>
<g fill="#9a9a9a" filter="url(#bl1)"><circle cx="47.3" cy="523.1" r="2.3"/><circle cx="47.5" cy="524.9" r="2.3"/><circle cx="47.8" cy="526.6" r="2.3"/><circle cx="48.3" cy="528.8" r="2.3"/><circle cx="48.9" cy="531.1" r="2.3"/></g>
<g fill="#d2d2d2" filter="url(#bl3)"><circle cx="47.0" cy="522.9" r="1.6"/><circle cx="47.6" cy="526.4" r="1.1"/><circle cx="47.9" cy="528.9" r="1.2"/><circle cx="49.0" cy="531.0" r="1.4"/></g>
</g>
<clipPath id="emc8"><rect x="63.2" y="513.6" width="26" height="26"/></clipPath>
<rect x="63.2" y="513.6" width="26" height="26" fill="#565656"/>
<g clip-path="url(#emc8)">
<g fill="#3a3a3a" opacity="0.8" filter="url(#bl2)"><circle cx="69.8" cy="526.3" r="4.2"/><circle cx="71.8" cy="526.7" r="4.2"/><circle cx="73.8" cy="527.1" r="4.2"/><circle cx="75.4" cy="526.3" r="4.2"/><circle cx="77.0" cy="525.5" r="4.2"/><circle cx="77.0" cy="525.5" r="4.2"/><circle cx="77.8" cy="527.1" r="4.2"/><circle cx="78.6" cy="528.7" r="4.2"/></g>
<g fill="#9a9a9a" filter="url(#bl1)"><circle cx="69.8" cy="526.3" r="2.3"/><circle cx="71.8" cy="526.7" r="2.3"/><circle cx="73.8" cy="527.1" r="2.3"/><circle cx="75.4" cy="526.3" r="2.3"/><circle cx="77.0" cy="525.5" r="2.3"/><circle cx="77.0" cy="525.5" r="2.3"/><circle cx="77.8" cy="527.1" r="2.3"/><circle cx="78.6" cy="528.7" r="2.3"/></g>
<g fill="#d2d2d2" filter="url(#bl3)"><circle cx="70.3" cy="526.3" r="1.4"/><circle cx="74.2" cy="526.8" r="1.2"/><circle cx="77.4" cy="525.8" r="1.2"/><circle cx="76.7" cy="525.7" r="1.7"/><circle cx="78.3" cy="529.2" r="1.6"/></g>
</g>
<clipPath id="emc9"><rect x="91.4" y="513.6" width="26" height="26"/></clipPath>
<rect x="91.4" y="513.6" width="26" height="26" fill="#565656"/>
<g clip-path="url(#emc9)">
<g fill="#3a3a3a" opacity="0.8" filter="url(#bl2)"><circle cx="98.9" cy="523.9" r="4.2"/><circle cx="100.9" cy="524.7" r="4.2"/><circle cx="102.9" cy="525.5" r="4.2"/><circle cx="104.5" cy="526.7" r="4.2"/><circle cx="106.1" cy="527.9" r="4.2"/><circle cx="107.7" cy="529.5" r="4.2"/></g>
<g fill="#9a9a9a" filter="url(#bl1)"><circle cx="98.9" cy="523.9" r="2.3"/><circle cx="100.9" cy="524.7" r="2.3"/><circle cx="102.9" cy="525.5" r="2.3"/><circle cx="104.5" cy="526.7" r="2.3"/><circle cx="106.1" cy="527.9" r="2.3"/><circle cx="107.7" cy="529.5" r="2.3"/></g>
<g fill="#d2d2d2" filter="url(#bl3)"><circle cx="99.0" cy="523.8" r="1.2"/><circle cx="102.4" cy="526.0" r="1.2"/><circle cx="106.3" cy="527.7" r="1.6"/><circle cx="107.8" cy="529.3" r="1.2"/></g>
</g>
<clipPath id="emc10"><rect x="219.2" y="458" width="25.9" height="25.9"/></clipPath>
<rect x="219.2" y="458" width="25.9" height="25.9" fill="#565656"/>
<g clip-path="url(#emc10)">
<g fill="#3a3a3a" opacity="0.8" filter="url(#bl2)"><circle cx="230.2" cy="468.5" r="4.2"/><circle cx="231.4" cy="469.8" r="4.2"/><circle cx="232.7" cy="471.0" r="4.2"/><circle cx="233.9" cy="472.5" r="4.2"/><circle cx="235.2" cy="474.0" r="4.2"/></g>
<g fill="#9a9a9a" filter="url(#bl1)"><circle cx="230.2" cy="468.5" r="2.3"/><circle cx="231.4" cy="469.8" r="2.3"/><circle cx="232.7" cy="471.0" r="2.3"/><circle cx="233.9" cy="472.5" r="2.3"/><circle cx="235.2" cy="474.0" r="2.3"/></g>
<g fill="#d2d2d2" filter="url(#bl3)"><circle cx="230.4" cy="468.1" r="1.2"/><circle cx="232.8" cy="471.4" r="1.5"/><circle cx="235.0" cy="474.4" r="1.2"/></g>
</g>
<clipPath id="emc11"><rect x="247" y="458" width="25.9" height="25.9"/></clipPath>
<rect x="247" y="458" width="25.9" height="25.9" fill="#565656"/>
<g clip-path="url(#emc11)">
<g fill="#3a3a3a" opacity="0.8" filter="url(#bl2)"><circle cx="259.0" cy="466.0" r="4.2"/><circle cx="259.5" cy="469.0" r="4.2"/><circle cx="257.0" cy="471.8" r="4.2"/><circle cx="258.8" cy="471.5" r="4.2"/><circle cx="260.5" cy="471.2" r="4.2"/><circle cx="263.5" cy="471.8" r="4.2"/></g>
<g fill="#9a9a9a" filter="url(#bl1)"><circle cx="259.0" cy="466.0" r="2.3"/><circle cx="259.5" cy="469.0" r="2.3"/><circle cx="257.0" cy="471.8" r="2.3"/><circle cx="258.8" cy="471.5" r="2.3"/><circle cx="260.5" cy="471.2" r="2.3"/><circle cx="263.5" cy="471.8" r="2.3"/></g>
<g fill="#d2d2d2" filter="url(#bl3)"><circle cx="258.5" cy="465.8" r="1.4"/><circle cx="259.1" cy="468.7" r="1.3"/><circle cx="257.1" cy="471.4" r="1.3"/><circle cx="260.9" cy="471.7" r="1.5"/><circle cx="263.7" cy="471.9" r="1.2"/></g>
</g>
<clipPath id="emc12"><rect x="274.8" y="458" width="25.9" height="25.9"/></clipPath>
<rect x="274.8" y="458" width="25.9" height="25.9" fill="#565656"/>
<g clip-path="url(#emc12)">
<g fill="#3a3a3a" opacity="0.8" filter="url(#bl2)"><circle cx="284.3" cy="469.5" r="4.2"/><circle cx="286.0" cy="469.5" r="4.2"/><circle cx="287.8" cy="469.5" r="4.2"/><circle cx="290.3" cy="469.0" r="4.2"/><circle cx="287.8" cy="470.5" r="4.2"/><circle cx="288.0" cy="472.2" r="4.2"/><circle cx="288.3" cy="474.0" r="4.2"/><circle cx="288.3" cy="477.0" r="4.2"/></g>
<g fill="#9a9a9a" filter="url(#bl1)"><circle cx="284.3" cy="469.5" r="2.3"/><circle cx="286.0" cy="469.5" r="2.3"/><circle cx="287.8" cy="469.5" r="2.3"/><circle cx="290.3" cy="469.0" r="2.3"/><circle cx="287.8" cy="470.5" r="2.3"/><circle cx="288.0" cy="472.2" r="2.3"/><circle cx="288.3" cy="474.0" r="2.3"/><circle cx="288.3" cy="477.0" r="2.3"/></g>
<g fill="#d2d2d2" filter="url(#bl3)"><circle cx="283.8" cy="469.0" r="1.6"/><circle cx="288.0" cy="470.0" r="1.1"/><circle cx="290.4" cy="469.0" r="1.5"/><circle cx="287.6" cy="471.0" r="1.1"/><circle cx="288.3" cy="474.2" r="1.6"/><circle cx="288.5" cy="477.2" r="1.6"/></g>
</g>
<clipPath id="emc13"><rect x="219.2" y="485.8" width="25.9" height="25.9"/></clipPath>
<rect x="219.2" y="485.8" width="25.9" height="25.9" fill="#565656"/>
<g clip-path="url(#emc13)">
<g fill="#3a3a3a" opacity="0.8" filter="url(#bl2)"><circle cx="229.7" cy="494.3" r="4.2"/><circle cx="230.7" cy="495.6" r="4.2"/><circle cx="231.7" cy="496.8" r="4.2"/><circle cx="233.2" cy="499.8" r="4.2"/><circle cx="234.4" cy="501.1" r="4.2"/><circle cx="235.7" cy="502.3" r="4.2"/></g>
<g fill="#9a9a9a" filter="url(#bl1)"><circle cx="229.7" cy="494.3" r="2.3"/><circle cx="230.7" cy="495.6" r="2.3"/><circle cx="231.7" cy="496.8" r="2.3"/><circle cx="233.2" cy="499.8" r="2.3"/><circle cx="234.4" cy="501.1" r="2.3"/><circle cx="235.7" cy="502.3" r="2.3"/></g>
<g fill="#d2d2d2" filter="url(#bl3)"><circle cx="230.1" cy="494.2" r="1.5"/><circle cx="232.1" cy="497.2" r="1.4"/><circle cx="233.5" cy="500.2" r="1.4"/><circle cx="235.8" cy="502.2" r="1.4"/></g>
</g>
<clipPath id="emc14"><rect x="247" y="485.8" width="25.9" height="25.9"/></clipPath>
<rect x="247" y="485.8" width="25.9" height="25.9" fill="#565656"/>
<g clip-path="url(#emc14)">
<g fill="#3a3a3a" opacity="0.8" filter="url(#bl2)"><circle cx="256.5" cy="502.3" r="4.2"/><circle cx="257.8" cy="500.6" r="4.2"/><circle cx="259.0" cy="498.8" r="4.2"/><circle cx="260.2" cy="497.3" r="4.2"/><circle cx="261.5" cy="495.8" r="4.2"/></g>
<g fill="#9a9a9a" filter="url(#bl1)"><circle cx="256.5" cy="502.3" r="2.3"/><circle cx="257.8" cy="500.6" r="2.3"/><circle cx="259.0" cy="498.8" r="2.3"/><circle cx="260.2" cy="497.3" r="2.3"/><circle cx="261.5" cy="495.8" r="2.3"/></g>
<g fill="#d2d2d2" filter="url(#bl3)"><circle cx="256.6" cy="501.9" r="1.5"/><circle cx="259.5" cy="499.2" r="1.5"/><circle cx="261.4" cy="496.0" r="1.4"/></g>
</g>
<clipPath id="emc15"><rect x="274.8" y="485.8" width="25.9" height="25.9"/></clipPath>
<rect x="274.8" y="485.8" width="25.9" height="25.9" fill="#565656"/>
<g clip-path="url(#emc15)">
<g fill="#3a3a3a" opacity="0.8" filter="url(#bl2)"><circle cx="283.8" cy="498.8" r="4.2"/><circle cx="285.8" cy="498.8" r="4.2"/><circle cx="287.8" cy="498.8" r="4.2"/><circle cx="290.0" cy="498.9" r="4.2"/><circle cx="292.3" cy="499.0" r="4.2"/></g>
<g fill="#9a9a9a" filter="url(#bl1)"><circle cx="283.8" cy="498.8" r="2.3"/><circle cx="285.8" cy="498.8" r="2.3"/><circle cx="287.8" cy="498.8" r="2.3"/><circle cx="290.0" cy="498.9" r="2.3"/><circle cx="292.3" cy="499.0" r="2.3"/></g>
<g fill="#d2d2d2" filter="url(#bl3)"><circle cx="283.7" cy="499.1" r="1.2"/><circle cx="288.1" cy="498.3" r="1.5"/><circle cx="292.3" cy="498.7" r="1.5"/></g>
</g>
<clipPath id="emc16"><rect x="219.2" y="513.6" width="25.9" height="25.9"/></clipPath>
<rect x="219.2" y="513.6" width="25.9" height="25.9" fill="#565656"/>
<g clip-path="url(#emc16)">
<g fill="#3a3a3a" opacity="0.8" filter="url(#bl2)"><circle cx="226.7" cy="526.1" r="4.2"/><circle cx="228.4" cy="526.1" r="4.2"/><circle cx="230.2" cy="526.1" r="4.2"/><circle cx="232.2" cy="526.1" r="4.2"/><circle cx="234.2" cy="526.1" r="4.2"/></g>
<g fill="#9a9a9a" filter="url(#bl1)"><circle cx="226.7" cy="526.1" r="2.3"/><circle cx="228.4" cy="526.1" r="2.3"/><circle cx="230.2" cy="526.1" r="2.3"/><circle cx="232.2" cy="526.1" r="2.3"/><circle cx="234.2" cy="526.1" r="2.3"/></g>
<g fill="#d2d2d2" filter="url(#bl3)"><circle cx="226.7" cy="526.2" r="1.7"/><circle cx="230.0" cy="525.6" r="1.3"/><circle cx="234.4" cy="525.8" r="1.2"/></g>
</g>
<clipPath id="emc17"><rect x="247" y="513.6" width="25.9" height="25.9"/></clipPath>
<rect x="247" y="513.6" width="25.9" height="25.9" fill="#565656"/>
<g clip-path="url(#emc17)">
<g fill="#3a3a3a" opacity="0.8" filter="url(#bl2)"><circle cx="255.5" cy="527.1" r="4.2"/><circle cx="257.2" cy="526.9" r="4.2"/><circle cx="259.0" cy="526.6" r="4.2"/><circle cx="260.8" cy="526.6" r="4.2"/><circle cx="262.5" cy="526.6" r="4.2"/></g>
<g fill="#9a9a9a" filter="url(#bl1)"><circle cx="255.5" cy="527.1" r="2.3"/><circle cx="257.2" cy="526.9" r="2.3"/><circle cx="259.0" cy="526.6" r="2.3"/><circle cx="260.8" cy="526.6" r="2.3"/><circle cx="262.5" cy="526.6" r="2.3"/></g>
<g fill="#d2d2d2" filter="url(#bl3)"><circle cx="255.9" cy="527.3" r="1.4"/><circle cx="259.4" cy="526.4" r="1.5"/><circle cx="262.2" cy="526.5" r="1.6"/></g>
</g>
<clipPath id="emc18"><rect x="274.8" y="513.6" width="25.9" height="25.9"/></clipPath>
<rect x="274.8" y="513.6" width="25.9" height="25.9" fill="#565656"/>
<g clip-path="url(#emc18)">
<g fill="#3a3a3a" opacity="0.8" filter="url(#bl2)"><circle cx="282.3" cy="526.1" r="4.2"/><circle cx="284.3" cy="526.1" r="4.2"/><circle cx="286.3" cy="526.1" r="4.2"/><circle cx="288.0" cy="525.9" r="4.2"/><circle cx="289.8" cy="525.6" r="4.2"/></g>
<g fill="#9a9a9a" filter="url(#bl1)"><circle cx="282.3" cy="526.1" r="2.3"/><circle cx="284.3" cy="526.1" r="2.3"/><circle cx="286.3" cy="526.1" r="2.3"/><circle cx="288.0" cy="525.9" r="2.3"/><circle cx="289.8" cy="525.6" r="2.3"/></g>
<g fill="#d2d2d2" filter="url(#bl3)"><circle cx="282.7" cy="526.5" r="1.3"/><circle cx="286.4" cy="525.9" r="1.2"/><circle cx="289.8" cy="525.9" r="1.6"/></g>
</g>
<clipPath id="emc19"><rect x="408.1" y="459.3" width="25.9" height="25.9"/></clipPath>
<rect x="408.1" y="459.3" width="25.9" height="25.9" fill="#565656"/>
<g clip-path="url(#emc19)">
<g fill="#3a3a3a" opacity="0.8" filter="url(#bl2)"><circle cx="418.5" cy="464.5" r="4.2"/><circle cx="419.0" cy="467.5" r="4.2"/><circle cx="419.8" cy="470.5" r="4.2"/><circle cx="421.5" cy="472.8" r="4.2"/><circle cx="423.8" cy="474.2" r="4.2"/><circle cx="425.0" cy="476.5" r="4.2"/></g>
<g fill="#9a9a9a" filter="url(#bl1)"><circle cx="418.5" cy="464.5" r="2.3"/><circle cx="419.0" cy="467.5" r="2.3"/><circle cx="419.8" cy="470.5" r="2.3"/><circle cx="421.5" cy="472.8" r="2.3"/><circle cx="423.8" cy="474.2" r="2.3"/><circle cx="425.0" cy="476.5" r="2.3"/></g>
<g fill="#d2d2d2" filter="url(#bl3)"><circle cx="418.7" cy="465.0" r="1.3"/><circle cx="418.7" cy="467.5" r="1.3"/><circle cx="419.5" cy="470.4" r="1.5"/><circle cx="421.5" cy="472.6" r="1.6"/><circle cx="424.3" cy="474.2" r="1.1"/><circle cx="424.5" cy="476.9" r="1.1"/></g>
</g>
<clipPath id="emc20"><rect x="435.9" y="459.3" width="25.9" height="25.9"/></clipPath>
<rect x="435.9" y="459.3" width="25.9" height="25.9" fill="#565656"/>
<g clip-path="url(#emc20)">
<g fill="#3a3a3a" opacity="0.8" filter="url(#bl2)"><circle cx="448.0" cy="466.0" r="4.2"/><circle cx="449.5" cy="468.5" r="4.2"/><circle cx="450.0" cy="471.5" r="4.2"/><circle cx="449.0" cy="474.5" r="4.2"/><circle cx="447.5" cy="477.0" r="4.2"/><circle cx="447.0" cy="479.0" r="4.2"/></g>
<g fill="#9a9a9a" filter="url(#bl1)"><circle cx="448.0" cy="466.0" r="2.3"/><circle cx="449.5" cy="468.5" r="2.3"/><circle cx="450.0" cy="471.5" r="2.3"/><circle cx="449.0" cy="474.5" r="2.3"/><circle cx="447.5" cy="477.0" r="2.3"/><circle cx="447.0" cy="479.0" r="2.3"/></g>
<g fill="#d2d2d2" filter="url(#bl3)"><circle cx="448.2" cy="466.1" r="1.3"/><circle cx="449.8" cy="468.0" r="1.2"/><circle cx="450.0" cy="471.0" r="1.6"/><circle cx="448.7" cy="474.1" r="1.1"/><circle cx="447.6" cy="476.9" r="1.5"/><circle cx="447.2" cy="479.3" r="1.7"/></g>
</g>
<clipPath id="emc21"><rect x="463.7" y="459.3" width="25.9" height="25.9"/></clipPath>
<rect x="463.7" y="459.3" width="25.9" height="25.9" fill="#565656"/>
<g clip-path="url(#emc21)">
<g fill="#3a3a3a" opacity="0.8" filter="url(#bl2)"><circle cx="473.8" cy="464.5" r="4.2"/><circle cx="474.0" cy="467.5" r="4.2"/><circle cx="474.5" cy="470.5" r="4.2"/><circle cx="476.0" cy="473.0" r="4.2"/><circle cx="478.5" cy="474.5" r="4.2"/><circle cx="481.0" cy="475.5" r="4.2"/><circle cx="483.5" cy="476.5" r="4.2"/></g>
<g fill="#9a9a9a" filter="url(#bl1)"><circle cx="473.8" cy="464.5" r="2.3"/><circle cx="474.0" cy="467.5" r="2.3"/><circle cx="474.5" cy="470.5" r="2.3"/><circle cx="476.0" cy="473.0" r="2.3"/><circle cx="478.5" cy="474.5" r="2.3"/><circle cx="481.0" cy="475.5" r="2.3"/><circle cx="483.5" cy="476.5" r="2.3"/></g>
<g fill="#d2d2d2" filter="url(#bl3)"><circle cx="474.0" cy="464.2" r="1.4"/><circle cx="473.7" cy="467.0" r="1.4"/><circle cx="474.7" cy="470.2" r="1.3"/><circle cx="475.8" cy="473.2" r="1.4"/><circle cx="478.6" cy="474.8" r="1.3"/><circle cx="481.3" cy="475.9" r="1.2"/><circle cx="483.9" cy="476.7" r="1.2"/></g>
</g>
<clipPath id="emc22"><rect x="408.1" y="486.9" width="25.9" height="25.9"/></clipPath>
<rect x="408.1" y="486.9" width="25.9" height="25.9" fill="#565656"/>
<g clip-path="url(#emc22)">
<g fill="#3a3a3a" opacity="0.8" filter="url(#bl2)"><circle cx="415.4" cy="497.2" r="4.2"/><circle cx="416.2" cy="498.6" r="4.2"/><circle cx="417.0" cy="500.0" r="4.2"/><circle cx="418.2" cy="501.2" r="4.2"/><circle cx="419.5" cy="502.5" r="4.2"/><circle cx="422.5" cy="501.5" r="4.2"/><circle cx="423.5" cy="500.2" r="4.2"/><circle cx="424.5" cy="499.0" r="4.2"/><circle cx="426.0" cy="496.5" r="4.2"/></g>
<g fill="#9a9a9a" filter="url(#bl1)"><circle cx="415.4" cy="497.2" r="2.3"/><circle cx="416.2" cy="498.6" r="2.3"/><circle cx="417.0" cy="500.0" r="2.3"/><circle cx="418.2" cy="501.2" r="2.3"/><circle cx="419.5" cy="502.5" r="2.3"/><circle cx="422.5" cy="501.5" r="2.3"/><circle cx="423.5" cy="500.2" r="2.3"/><circle cx="424.5" cy="499.0" r="2.3"/><circle cx="426.0" cy="496.5" r="2.3"/></g>
<g fill="#d2d2d2" filter="url(#bl3)"><circle cx="415.4" cy="497.3" r="1.6"/><circle cx="416.9" cy="500.1" r="1.6"/><circle cx="419.8" cy="502.9" r="1.4"/><circle cx="422.7" cy="501.2" r="1.5"/><circle cx="424.8" cy="499.1" r="1.5"/><circle cx="425.7" cy="496.9" r="1.7"/></g>
</g>
<clipPath id="emc23"><rect x="435.9" y="486.9" width="25.9" height="25.9"/></clipPath>
<rect x="435.9" y="486.9" width="25.9" height="25.9" fill="#565656"/>
<g clip-path="url(#emc23)">
<g fill="#3a3a3a" opacity="0.8" filter="url(#bl2)"><circle cx="448.0" cy="491.5" r="4.2"/><circle cx="449.0" cy="492.8" r="4.2"/><circle cx="450.0" cy="494.0" r="4.2"/><circle cx="451.0" cy="497.0" r="4.2"/><circle cx="450.5" cy="500.0" r="4.2"/><circle cx="449.5" cy="501.5" r="4.2"/><circle cx="448.5" cy="503.0" r="4.2"/><circle cx="447.2" cy="504.0" r="4.2"/><circle cx="446.0" cy="505.0" r="4.2"/><circle cx="444.0" cy="507.0" r="4.2"/></g>
<g fill="#9a9a9a" filter="url(#bl1)"><circle cx="448.0" cy="491.5" r="2.3"/><circle cx="449.0" cy="492.8" r="2.3"/><circle cx="450.0" cy="494.0" r="2.3"/><circle cx="451.0" cy="497.0" r="2.3"/><circle cx="450.5" cy="500.0" r="2.3"/><circle cx="449.5" cy="501.5" r="2.3"/><circle cx="448.5" cy="503.0" r="2.3"/><circle cx="447.2" cy="504.0" r="2.3"/><circle cx="446.0" cy="505.0" r="2.3"/><circle cx="444.0" cy="507.0" r="2.3"/></g>
<g fill="#d2d2d2" filter="url(#bl3)"><circle cx="448.5" cy="491.5" r="1.6"/><circle cx="449.8" cy="494.4" r="1.6"/><circle cx="450.8" cy="496.6" r="1.4"/><circle cx="450.6" cy="500.3" r="1.4"/><circle cx="448.0" cy="503.3" r="1.1"/><circle cx="446.3" cy="504.7" r="1.3"/><circle cx="444.3" cy="506.6" r="1.2"/></g>
</g>
<clipPath id="emc24"><rect x="463.7" y="486.9" width="25.9" height="25.9"/></clipPath>
<rect x="463.7" y="486.9" width="25.9" height="25.9" fill="#565656"/>
<g clip-path="url(#emc24)">
<g fill="#3a3a3a" opacity="0.8" filter="url(#bl2)"><circle cx="474.4" cy="493.4" r="4.2"/><circle cx="476.5" cy="495.5" r="4.2"/><circle cx="478.0" cy="498.0" r="4.2"/><circle cx="477.5" cy="501.0" r="4.2"/><circle cx="476.5" cy="502.5" r="4.2"/><circle cx="475.5" cy="504.0" r="4.2"/><circle cx="474.2" cy="505.0" r="4.2"/><circle cx="473.0" cy="506.0" r="4.2"/><circle cx="471.5" cy="507.5" r="4.2"/></g>
<g fill="#9a9a9a" filter="url(#bl1)"><circle cx="474.4" cy="493.4" r="2.3"/><circle cx="476.5" cy="495.5" r="2.3"/><circle cx="478.0" cy="498.0" r="2.3"/><circle cx="477.5" cy="501.0" r="2.3"/><circle cx="476.5" cy="502.5" r="2.3"/><circle cx="475.5" cy="504.0" r="2.3"/><circle cx="474.2" cy="505.0" r="2.3"/><circle cx="473.0" cy="506.0" r="2.3"/><circle cx="471.5" cy="507.5" r="2.3"/></g>
<g fill="#d2d2d2" filter="url(#bl3)"><circle cx="474.4" cy="493.6" r="1.6"/><circle cx="476.7" cy="495.9" r="1.4"/><circle cx="478.4" cy="497.6" r="1.2"/><circle cx="477.5" cy="500.8" r="1.5"/><circle cx="475.6" cy="504.0" r="1.6"/><circle cx="473.1" cy="505.8" r="1.3"/><circle cx="471.8" cy="507.9" r="1.2"/></g>
</g>
<clipPath id="emc25"><rect x="408.1" y="514.5" width="25.9" height="25.9"/></clipPath>
<rect x="408.1" y="514.5" width="25.9" height="25.9" fill="#565656"/>
<g clip-path="url(#emc25)">
<g fill="#3a3a3a" opacity="0.8" filter="url(#bl2)"><circle cx="418.0" cy="522.0" r="4.2"/><circle cx="421.0" cy="523.0" r="4.2"/><circle cx="422.5" cy="523.8" r="4.2"/><circle cx="424.0" cy="524.5" r="4.2"/><circle cx="423.0" cy="527.0" r="4.2"/><circle cx="420.0" cy="528.0" r="4.2"/><circle cx="418.0" cy="530.0" r="4.2"/><circle cx="419.5" cy="530.8" r="4.2"/><circle cx="421.0" cy="531.5" r="4.2"/></g>
<g fill="#9a9a9a" filter="url(#bl1)"><circle cx="418.0" cy="522.0" r="2.3"/><circle cx="421.0" cy="523.0" r="2.3"/><circle cx="422.5" cy="523.8" r="2.3"/><circle cx="424.0" cy="524.5" r="2.3"/><circle cx="423.0" cy="527.0" r="2.3"/><circle cx="420.0" cy="528.0" r="2.3"/><circle cx="418.0" cy="530.0" r="2.3"/><circle cx="419.5" cy="530.8" r="2.3"/><circle cx="421.0" cy="531.5" r="2.3"/></g>
<g fill="#d2d2d2" filter="url(#bl3)"><circle cx="418.4" cy="522.5" r="1.4"/><circle cx="421.1" cy="522.7" r="1.4"/><circle cx="424.0" cy="524.6" r="1.1"/><circle cx="423.5" cy="527.0" r="1.3"/><circle cx="420.3" cy="528.1" r="1.4"/><circle cx="418.2" cy="529.6" r="1.4"/><circle cx="420.9" cy="532.0" r="1.7"/></g>
</g>
<clipPath id="emc26"><rect x="435.9" y="514.5" width="25.9" height="25.9"/></clipPath>
<rect x="435.9" y="514.5" width="25.9" height="25.9" fill="#565656"/>
<g clip-path="url(#emc26)">
<g fill="#3a3a3a" opacity="0.8" filter="url(#bl2)"><circle cx="439.3" cy="524.8" r="4.2"/><circle cx="442.0" cy="526.0" r="4.2"/><circle cx="443.5" cy="526.8" r="4.2"/><circle cx="445.0" cy="527.5" r="4.2"/><circle cx="448.0" cy="528.0" r="4.2"/><circle cx="451.0" cy="527.0" r="4.2"/><circle cx="452.5" cy="526.0" r="4.2"/><circle cx="454.0" cy="525.0" r="4.2"/><circle cx="456.0" cy="524.0" r="4.2"/></g>
<g fill="#9a9a9a" filter="url(#bl1)"><circle cx="439.3" cy="524.8" r="2.3"/><circle cx="442.0" cy="526.0" r="2.3"/><circle cx="443.5" cy="526.8" r="2.3"/><circle cx="445.0" cy="527.5" r="2.3"/><circle cx="448.0" cy="528.0" r="2.3"/><circle cx="451.0" cy="527.0" r="2.3"/><circle cx="452.5" cy="526.0" r="2.3"/><circle cx="454.0" cy="525.0" r="2.3"/><circle cx="456.0" cy="524.0" r="2.3"/></g>
<g fill="#d2d2d2" filter="url(#bl3)"><circle cx="439.1" cy="524.8" r="1.2"/><circle cx="441.9" cy="526.3" r="1.6"/><circle cx="445.0" cy="527.3" r="1.2"/><circle cx="448.1" cy="528.4" r="1.2"/><circle cx="451.3" cy="526.5" r="1.2"/><circle cx="453.7" cy="525.2" r="1.3"/><circle cx="455.9" cy="524.1" r="1.2"/></g>
</g>
<clipPath id="emc27"><rect x="463.7" y="514.5" width="25.9" height="25.9"/></clipPath>
<rect x="463.7" y="514.5" width="25.9" height="25.9" fill="#565656"/>
<g clip-path="url(#emc27)">
<g fill="#3a3a3a" opacity="0.8" filter="url(#bl2)"><circle cx="470.0" cy="525.4" r="4.2"/><circle cx="472.0" cy="527.5" r="4.2"/><circle cx="474.5" cy="529.0" r="4.2"/><circle cx="477.5" cy="528.5" r="4.2"/><circle cx="478.8" cy="527.5" r="4.2"/><circle cx="480.0" cy="526.5" r="4.2"/><circle cx="480.8" cy="525.0" r="4.2"/><circle cx="481.5" cy="523.5" r="4.2"/><circle cx="482.0" cy="521.0" r="4.2"/></g>
<g fill="#9a9a9a" filter="url(#bl1)"><circle cx="470.0" cy="525.4" r="2.3"/><circle cx="472.0" cy="527.5" r="2.3"/><circle cx="474.5" cy="529.0" r="2.3"/><circle cx="477.5" cy="528.5" r="2.3"/><circle cx="478.8" cy="527.5" r="2.3"/><circle cx="480.0" cy="526.5" r="2.3"/><circle cx="480.8" cy="525.0" r="2.3"/><circle cx="481.5" cy="523.5" r="2.3"/><circle cx="482.0" cy="521.0" r="2.3"/></g>
<g fill="#d2d2d2" filter="url(#bl3)"><circle cx="470.2" cy="525.0" r="1.4"/><circle cx="471.8" cy="527.2" r="1.4"/><circle cx="474.4" cy="528.9" r="1.3"/><circle cx="477.5" cy="528.2" r="1.2"/><circle cx="480.1" cy="526.6" r="1.4"/><circle cx="481.9" cy="523.6" r="1.6"/><circle cx="481.7" cy="521.2" r="1.6"/></g>
</g>
<path d="M157,442 C159.5,441.72 163.33,441.72 166,442.3 C168.67,442.88 171.08,444.05 173,445.5 C174.92,446.95 176.17,448.25 177.5,451 C178.83,453.75 179.87,458.17 181,462 C182.13,465.83 183.72,470.33 184.3,474 C184.88,477.67 184.8,480.67 184.5,484 C184.2,487.33 183.33,491.33 182.5,494 C181.67,496.67 180.17,498.58 179.5,500 C178.83,501.42 178.08,502.2 178.5,502.5 C178.92,502.8 180.5,501.75 182,501.8 C183.5,501.85 186,502.1 187.5,502.8 C189,503.5 190.13,504.3 191,506 C191.87,507.7 192.37,510.33 192.7,513 C193.03,515.67 193.2,519.33 193,522 C192.8,524.67 192.23,527.17 191.5,529 C190.77,530.83 190.35,531.58 188.6,533 C186.85,534.42 184.27,536.08 181,537.5 C177.73,538.92 173.83,540.67 169,541.5 C164.17,542.33 157.33,542.42 152,542.5 C146.67,542.58 140.67,542.67 137,542 C133.33,541.33 131.57,540.33 130,538.5 C128.43,536.67 128.03,534.42 127.6,531 C127.17,527.58 127.25,521.5 127.4,518 C127.55,514.5 127.73,512.33 128.5,510 C129.27,507.67 130.08,505.3 132,504 C133.92,502.7 137.17,502.45 140,502.2 C142.83,501.95 146.83,502.37 149,502.5 C151.17,502.63 153,503.5 153,503 C153,502.5 150.42,501.17 149,499.5 C147.58,497.83 145.52,495.58 144.5,493 C143.48,490.42 143.17,488.17 142.9,484 C142.63,479.83 142.75,472.67 142.9,468 C143.05,463.33 143.12,459.33 143.8,456 C144.48,452.67 145.8,450 147,448 C148.2,446 149.33,445 151,444 C152.67,443 154.5,442.28 157,442Z" fill="#d8d8d8" stroke="#9a9a9a" stroke-width="0.7"/>
<path d="M157.72,449.61 C159.87,449.37 163.17,449.37 165.46,449.87 C167.76,450.37 169.83,451.38 171.48,452.62 C173.13,453.87 174.21,454.99 175.35,457.35 C176.5,459.72 177.39,463.52 178.36,466.81 C179.34,470.11 180.7,473.98 181.2,477.13 C181.7,480.29 181.63,482.87 181.37,485.73 C181.11,488.6 180.37,492.04 179.65,494.33 C178.94,496.63 177.65,498.28 177.07,499.49 C176.5,500.71 175.85,501.39 176.21,501.64 C176.57,501.9 177.93,501 179.22,501.04 C180.51,501.09 182.66,501.3 183.95,501.9 C185.24,502.5 186.22,503.19 186.96,504.65 C187.71,506.12 188.14,508.38 188.42,510.67 C188.71,512.97 188.85,516.12 188.68,518.41 C188.51,520.71 188.02,522.86 187.39,524.43 C186.76,526.01 186.4,526.66 184.9,527.87 C183.39,529.09 181.17,530.53 178.36,531.74 C175.55,532.96 172.2,534.47 168.04,535.18 C163.89,535.9 158.01,535.97 153.42,536.04 C148.84,536.12 143.68,536.19 140.52,535.61 C137.37,535.04 135.85,534.18 134.5,532.6 C133.15,531.03 132.81,529.09 132.44,526.15 C132.07,523.22 132.14,517.98 132.27,514.97 C132.4,511.96 132.55,510.1 133.21,508.09 C133.87,506.09 134.57,504.05 136.22,502.93 C137.87,501.82 140.67,501.6 143.1,501.39 C145.54,501.17 148.98,501.53 150.84,501.64 C152.71,501.76 154.28,502.5 154.28,502.07 C154.28,501.64 152.06,500.5 150.84,499.06 C149.62,497.63 147.85,495.7 146.97,493.47 C146.1,491.25 145.83,489.32 145.6,485.73 C145.37,482.15 145.47,475.99 145.6,471.97 C145.73,467.96 145.78,464.52 146.37,461.65 C146.96,458.79 148.09,456.49 149.12,454.77 C150.15,453.05 151.13,452.19 152.56,451.33 C154,450.47 155.57,449.86 157.72,449.61Z" fill="#f0f0f0" filter="url(#bl4)"/>
<ellipse cx="160" cy="460" rx="13" ry="11" fill="#d4e030" opacity="0.3" filter="url(#bl2)"/>
<ellipse cx="172" cy="487" rx="9" ry="12" fill="#d4e030" opacity="0.3" filter="url(#bl2)"/>
<ellipse cx="148" cy="523" rx="18" ry="14" fill="#a82020" opacity="0.06" filter="url(#bl2)"/>
<ellipse cx="178" cy="524" rx="12" ry="8" fill="#3cc0c0" opacity="0.12" filter="url(#bl2)"/>
<path d="M173.1,450.1C172.8,450.3 172,450.6 171.6,451C171.1,451.4 171,452.2 170.5,452.5C170,452.8 169.3,452.9 168.7,452.9C168.2,452.8 167.6,452.3 167.1,452.2C166.5,452.1 165.8,452.3 165.3,452.5C164.7,452.7 163.8,453.5 163.8,453.5C163.7,453.4 164.7,452.6 165,452.1C165.3,451.6 165.6,451 165.6,450.4C165.6,449.9 165.1,448.7 165.2,448.7C165.2,448.7 165.7,450.1 165.8,450.4 M168.2,455C168.4,455.1 169.2,455.6 169.6,456C170.1,456.5 170.8,457.1 170.7,457.5C170.6,457.8 169.3,458.4 169.1,458.2C168.8,458 169.1,457 169.2,456.4C169.3,455.8 169.5,455.2 169.8,454.7C170.1,454.3 170.7,453.8 171.3,453.7C171.8,453.5 172.5,454 173.1,453.9C173.6,453.7 174.5,452.9 174.7,453C174.8,453.1 174.2,454.2 173.9,454.6C173.5,455.1 172.7,455.6 172.5,455.8 M169,453.9C169.3,454 170,454.7 170.6,454.8C171.1,455 171.8,455 172.4,454.7C172.9,454.5 173.6,453.4 173.7,453.5C173.8,453.6 173.4,455.3 173.2,455.3C173,455.3 172.8,454.1 172.6,453.6C172.5,453 172.5,452.3 172.2,451.8C171.9,451.3 171.5,450.8 171,450.5C170.5,450.2 169.9,449.9 169.3,449.9C168.7,449.8 168.1,450.1 167.5,450.1C166.9,450 166.1,449.5 165.9,449.3 M174,456.4C173.8,456.5 173.1,457.3 172.6,457.5C172.1,457.7 171.4,457.5 170.8,457.5C170.2,457.5 169.6,457.7 169,457.6C168.4,457.6 167.3,457.3 167.3,457C167.3,456.8 168.3,456.4 168.8,456.1C169.3,455.8 169.8,455.4 170.3,455.1C170.8,454.7 171.3,454.4 171.8,454.1C172.3,453.7 172.7,453.3 173.2,452.9C173.7,452.6 174.4,451.9 174.8,452C175.1,452.1 175.2,453.4 175.3,453.7 M171.1,455.5C171.2,455.8 172,457 171.9,457.1C171.9,457.1 171.1,456.2 170.7,455.8C170.2,455.4 169.8,454.9 169.2,454.7C168.7,454.5 168.1,454.3 167.5,454.3C166.9,454.4 165.9,455 165.8,454.9C165.7,454.7 166.7,454 166.9,453.4C167,452.9 166.6,452.2 166.7,451.7C166.9,451.1 167.2,450.5 167.6,450.1C168,449.7 168.6,449.3 169.1,449.1C169.7,448.8 170.6,448.7 170.9,448.6 M172.7,453.3C172.4,453.5 171.6,453.8 171.1,454.1C170.5,454.4 170,454.8 169.4,454.9C168.9,454.9 168.2,454.7 167.7,454.4C167.2,454.1 166.9,453.5 166.4,453.2C165.9,452.9 165.1,452.9 164.7,452.5C164.3,452.2 163.7,451.1 163.7,451C163.8,451 164.7,451.7 165.1,452.2C165.4,452.7 165.7,453.3 165.8,453.8C165.9,454.4 165.9,455.6 165.7,455.6C165.5,455.7 164.7,454.5 164.5,454.3 M173,455.9C173.1,455.6 173,454.6 173.1,454.1C173.3,453.5 173.7,453 173.9,452.5C174.2,451.9 174.4,450.7 174.5,450.7C174.6,450.8 174.7,452.3 174.4,452.5C174.2,452.8 173.3,452.1 172.7,452C172.2,451.9 171.5,451.9 170.9,451.8C170.3,451.8 169.7,451.6 169.1,451.8C168.6,452 168.2,452.5 167.8,453C167.4,453.4 167.1,454 166.7,454.4C166.3,454.8 165.5,455.4 165.3,455.6 M170.3,449.3C170.6,449.2 171.5,449.2 172.1,449.1C172.6,449 173.7,448.4 173.8,448.5C173.8,448.6 172.9,449.3 172.4,449.7C171.9,450.1 171.4,450.4 171,450.7C170.5,451.1 169.9,451.4 169.4,451.7C169,452.1 168.6,452.7 168.1,452.9C167.6,453.1 166.9,453 166.3,452.9C165.7,452.9 164.6,452.6 164.6,452.5C164.6,452.4 165.8,452.3 166.4,452.3C166.9,452.4 167.8,452.8 168.1,452.9 M173.9,447.1C174.2,447.3 175.5,447.6 175.5,447.9C175.5,448.2 174.5,448.5 174,448.8C173.5,449.2 172.9,449.5 172.6,450C172.3,450.5 172.2,451.2 172.2,451.7C172.2,452.3 172.4,452.9 172.6,453.5C172.8,454.1 173.6,454.8 173.4,455.1C173.2,455.4 172.2,455.1 171.6,455.3C171,455.5 170.6,456 170,456.1C169.4,456.2 168.8,456 168.2,455.8C167.6,455.7 166.7,455.5 166.5,455.5" fill="none" stroke="#c8701e" stroke-width="0.7" stroke-linecap="round"/>
<path d="M154.13,469.69 Q159.43,468.09 164.17,465.26" fill="none" stroke="#d4e030" stroke-width="0.95" stroke-linecap="round"/>
<path d="M147.91,462.54 Q151.72,460.88 153.82,460.58" fill="none" stroke="#d4e030" stroke-width="0.95" stroke-linecap="round"/>
<path d="M154.39,456.68 Q157.57,455.6 162.53,452.73" fill="none" stroke="#d4e030" stroke-width="0.95" stroke-linecap="round"/>
<path d="M153.87,461.96 Q157.05,460.74 161.08,458.9" fill="none" stroke="#d4e030" stroke-width="0.95" stroke-linecap="round"/>
<path d="M156.64,457.79 Q159.19,456.03 163.69,455.28" fill="none" stroke="#d4e030" stroke-width="0.95" stroke-linecap="round"/>
<path d="M146.45,455.77 Q151.02,455 153.99,453.24" fill="none" stroke="#d4e030" stroke-width="0.95" stroke-linecap="round"/>
<path d="M147.26,468.54 Q151.17,467.68 153.46,467.1" fill="none" stroke="#d4e030" stroke-width="0.95" stroke-linecap="round"/>
<path d="M154.96,469.93 Q159.44,468.02 162.18,465.22" fill="none" stroke="#d4e030" stroke-width="0.95" stroke-linecap="round"/>
<path d="M154.07,468.96 Q157.62,467.91 162.71,466.36" fill="none" stroke="#d4e030" stroke-width="0.95" stroke-linecap="round"/>
<path d="M154.77,457.95 Q157.4,455.14 161.52,452.56" fill="none" stroke="#d4e030" stroke-width="0.95" stroke-linecap="round"/>
<path d="M158.47,461.69 Q162.06,459.84 165.98,456.89" fill="none" stroke="#d4e030" stroke-width="0.95" stroke-linecap="round"/>
<path d="M154.88,469.03 Q159.07,467.19 164.31,466.89" fill="none" stroke="#d4e030" stroke-width="0.95" stroke-linecap="round"/>
<path d="M162.93,466.02 Q166.08,464.92 170.15,463.08" fill="none" stroke="#d4e030" stroke-width="0.95" stroke-linecap="round"/>
<path d="M155.72,463.29 Q159.63,460.96 164.77,459.64" fill="none" stroke="#d4e030" stroke-width="0.95" stroke-linecap="round"/>
<path d="M165.22,467.45 Q167.33,466.19 171.2,465.85" fill="none" stroke="#d4e030" stroke-width="0.95" stroke-linecap="round"/>
<path d="M154.09,464.6 Q156.71,461.15 161.03,459.34" fill="none" stroke="#d4e030" stroke-width="0.95" stroke-linecap="round"/>
<path d="M158.74,462.29 Q162.34,460.23 166.03,459.34" fill="none" stroke="#d4e030" stroke-width="0.95" stroke-linecap="round"/>
<path d="M152.94,464.8 Q155.24,464.54 159.06,463.03" fill="none" stroke="#d4e030" stroke-width="0.95" stroke-linecap="round"/>
<path d="M158.01,466.57 Q160.89,464.92 164.74,462.03" fill="none" stroke="#d4e030" stroke-width="0.95" stroke-linecap="round"/>
<path d="M152.75,463.24 Q156.58,462.95 160.22,461.68" fill="none" stroke="#d4e030" stroke-width="0.95" stroke-linecap="round"/>
<path d="M164.26,460.44 Q167.83,458 169.9,457.24" fill="none" stroke="#d4e030" stroke-width="0.95" stroke-linecap="round"/>
<path d="M146.77,463.11 Q150.59,461.58 155.22,458.95" fill="none" stroke="#d4e030" stroke-width="0.95" stroke-linecap="round"/>
<path d="M147.87,456.57 Q150.47,455.86 153.85,454.26" fill="none" stroke="#d4e030" stroke-width="0.95" stroke-linecap="round"/>
<path d="M159.57,458.82 Q163.18,456.26 165.87,454.24" fill="none" stroke="#d4e030" stroke-width="0.95" stroke-linecap="round"/>
<path d="M146.81,465.49 Q152.53,464.18 156.5,461.21" fill="none" stroke="#d4e030" stroke-width="0.95" stroke-linecap="round"/>
<path d="M154.57,466.82 Q157.61,465.72 161.05,462.87" fill="none" stroke="#d4e030" stroke-width="0.95" stroke-linecap="round"/>
<path d="M163.18,457.91 Q166.31,455.76 169.98,454.03" fill="none" stroke="#d4e030" stroke-width="0.95" stroke-linecap="round"/>
<path d="M152.28,457.15 Q156.92,455.79 161.4,453.09" fill="none" stroke="#d4e030" stroke-width="0.95" stroke-linecap="round"/>
<path d="M155.27,456.46 Q159.77,453.87 165.14,453.19" fill="none" stroke="#d4e030" stroke-width="0.95" stroke-linecap="round"/>
<path d="M154.35,462.9 Q159.6,461.32 164.25,458.52" fill="none" stroke="#d4e030" stroke-width="0.95" stroke-linecap="round"/>
<path d="M147.57,461.72 Q149.79,461.22 153.69,459.78" fill="none" stroke="#d4e030" stroke-width="0.95" stroke-linecap="round"/>
<path d="M163.55,454.61 Q167.15,453.65 169.78,452.1" fill="none" stroke="#d4e030" stroke-width="0.95" stroke-linecap="round"/>
<path d="M150.02,456.87 Q154.64,455.32 158.2,454.18" fill="none" stroke="#d4e030" stroke-width="0.95" stroke-linecap="round"/>
<path d="M151.93,469 Q155.96,467.93 159.84,465.99" fill="none" stroke="#d4e030" stroke-width="0.95" stroke-linecap="round"/>
<path d="M158.54,469.04 Q163.33,467.35 167.45,464.23" fill="none" stroke="#d4e030" stroke-width="0.95" stroke-linecap="round"/>
<path d="M159.65,466.71 Q165.15,465.39 170.09,463.98" fill="none" stroke="#d4e030" stroke-width="0.95" stroke-linecap="round"/>
<path d="M159.46,466.74 Q162.33,465.32 166.61,462.93" fill="none" stroke="#d4e030" stroke-width="0.95" stroke-linecap="round"/>
<path d="M165.56,460.04 Q168.28,457.59 171.29,455.98" fill="none" stroke="#d4e030" stroke-width="0.95" stroke-linecap="round"/>
<path d="M165.21,454.65 Q168.32,453.5 170.83,451.24" fill="none" stroke="#d4e030" stroke-width="0.95" stroke-linecap="round"/>
<path d="M148.87,455.02 Q153.66,452.07 156.82,450.98" fill="none" stroke="#d4e030" stroke-width="0.95" stroke-linecap="round"/>
<path d="M150.7,457.2C150.9,457.5 151.6,458.3 151.9,459C152.2,459.6 152.4,460.4 152.5,461.1C152.7,461.8 152.6,462.6 152.8,463.3C153.1,464 153.5,464.7 154,465.2C154.5,465.7 155.2,466 155.8,466.3C156.5,466.6 157.3,466.8 158,466.8C158.7,466.8 159.4,466.3 160.1,466.2C160.8,466.2 161.6,466.5 162.3,466.5C163,466.5 163.7,466.2 164.5,466.1C165.2,466 166.6,465.8 166.7,465.9C166.7,466 165.2,466.2 164.5,466.4C163.8,466.6 163.1,466.7 162.4,467C161.8,467.4 161.3,468.1 160.6,468.3C160,468.6 158.8,468.4 158.4,468.5 M165.7,459.6C165.5,459.3 164.9,458.4 164.5,457.8C164.1,457.1 163.8,456.4 163.3,456C162.7,455.5 162,455 161.4,454.8C160.7,454.7 159.9,455.3 159.2,455.1C158.5,455 157.3,454.1 157.3,454C157.3,453.9 158.7,454.6 159.4,454.8C160.1,455 160.8,455 161.5,455.2C162.2,455.3 163,455.5 163.7,455.7C164.4,455.9 165.7,455.9 165.8,456.2C165.9,456.6 164.8,457.4 164.1,457.7C163.5,457.9 162.7,457.7 161.9,457.6C161.2,457.5 160.5,457.1 159.8,457.1C159.1,457 158.2,457 157.6,457.4C157,457.7 156.4,458.8 156.2,459.1 M157.5,460C157.7,459.7 158.3,458.8 158.8,458.2C159.2,457.7 159.9,457.3 160.3,456.7C160.6,456 160.5,454.7 160.9,454.5C161.2,454.4 161.9,455.5 162.6,455.9C163.2,456.3 163.9,456.7 164.6,456.8C165.3,457 166.8,456.9 166.8,457C166.8,457 165.3,457 164.6,457C163.8,457 163.1,457.1 162.4,457C161.6,456.9 160.8,456.9 160.2,456.5C159.6,456.1 159.5,455.2 158.9,454.7C158.4,454.2 157.1,453.7 157.1,453.5C157.2,453.3 159.1,453.2 159.3,453.5C159.5,453.9 158.8,454.9 158.4,455.5C157.9,456.1 157,456.7 156.7,457 M148.7,466.9C149,466.7 150.1,466.4 150.6,465.9C151.1,465.4 151.4,464.6 151.6,463.9C151.8,463.2 151.7,462.4 151.9,461.7C152.1,461 152.7,460.4 152.8,459.8C152.9,459.1 152.6,458.3 152.4,457.6C152.3,456.9 151.8,455.5 152,455.4C152.2,455.3 153.3,456.2 153.7,456.8C154,457.4 154,458.3 154.1,459C154.2,459.7 154.4,460.5 154.2,461.2C154.1,461.9 153.4,462.5 153.2,463.2C153,463.8 153.1,464.7 152.8,465.3C152.5,466 151.8,467.2 151.5,467.1C151.3,467 151.1,465.6 151.2,464.9C151.4,464.2 152.1,463.3 152.3,463 M150.4,467C150.1,466.7 148.6,465.7 148.7,465.5C148.8,465.3 150.2,465.9 150.9,465.8C151.6,465.8 152.3,465.1 153,465.1C153.7,465 154.4,465.4 155.1,465.4C155.9,465.4 156.6,465.3 157.3,465.1C158,464.9 158.8,464.6 159.3,464.2C159.8,463.7 160.1,462.9 160.4,462.2C160.7,461.6 160.7,460.8 160.9,460.1C161,459.4 161,458.6 161.2,457.9C161.5,457.2 162,456 162.3,456C162.6,456 162.9,457.3 163,458C163.2,458.8 162.9,459.6 163.2,460.2C163.4,460.9 164,461.4 164.5,462C165,462.5 165.9,463.2 166.1,463.5 M157.3,469.1C157.5,468.9 158.5,468.1 158.8,467.5C159,466.9 158.8,466 158.8,465.3C158.7,464.6 158.4,463.9 158.4,463.1C158.3,462.4 158.7,461.7 158.6,461C158.6,460.2 158.2,459.6 158.1,458.8C157.9,458.1 157.9,457.4 157.7,456.7C157.6,456 157.6,455.1 157.2,454.5C156.8,454 155.4,453.2 155.4,453.3C155.4,453.3 156.6,454.1 157.1,454.7C157.5,455.3 157.5,456.2 157.9,456.7C158.3,457.3 159.1,457.7 159.6,458.2C160.1,458.7 160.4,459.4 160.9,459.9C161.5,460.4 162.1,460.8 162.8,461.1C163.4,461.5 164.5,461.8 164.8,462" fill="none" stroke="#9aa81a" stroke-width="0.45" stroke-linecap="round"/>
<path d="M152.3,468.3C152.2,468.5 152,469.3 151.7,469.8C151.5,470.2 151,470.6 150.8,471.1C150.6,471.5 150.4,472.1 150.4,472.6C150.3,473.1 150.7,474.1 150.6,474.2C150.6,474.2 150.2,473.2 149.9,472.7C149.6,472.3 149.1,472 148.9,471.5C148.7,471.1 148.8,470.5 148.8,469.9C148.8,469.4 148.9,468.6 148.9,468.3 M153.9,468.6C153.9,468.3 153.9,467.5 153.7,467C153.5,466.5 153.1,466 152.7,465.7C152.3,465.4 151.2,465.4 151.2,465.3C151.2,465.2 152.8,465.1 152.8,465.2C152.8,465.2 151.7,465.4 151.3,465.8C150.9,466.1 150.6,466.5 150.2,467C149.9,467.4 149.8,468 149.4,468.3C149,468.7 148.2,469 148,469.1 M152.8,466.5C153,466.7 153.4,467.5 153.8,467.8C154.2,468.1 155.3,468.1 155.3,468.3C155.3,468.5 154.2,468.6 153.8,469C153.4,469.3 153.4,470 153,470.4C152.7,470.7 152.1,470.8 151.6,471C151.1,471.3 150.7,471.6 150.2,471.9C149.8,472.1 148.9,472.8 148.8,472.7C148.8,472.6 149.6,471.6 149.8,471.4 M154.3,472.7C154.1,472.9 153.6,474.1 153.4,474C153.2,474 153.4,472.9 153.1,472.5C152.9,472 152.3,471.8 151.9,471.5C151.4,471.2 150.9,471 150.5,470.6C150.1,470.3 149.6,469.9 149.4,469.5C149.2,469 149.3,468.4 149.4,467.9C149.5,467.3 149.8,466.8 150.1,466.4C150.3,465.9 150.9,465.3 151,465.1 M152.9,465.9C152.9,466.2 152.7,467 152.5,467.4C152.3,467.9 151.8,468.4 151.7,468.9C151.6,469.4 151.8,469.9 151.9,470.4C152,471 152.2,471.5 152.3,472C152.5,472.5 152.8,473.5 152.7,473.5C152.7,473.6 152.1,472.6 152,472.1C151.9,471.6 152,471 152.1,470.5C152.1,470 152.3,469.2 152.4,468.9 M149.1,472.3C149.3,472.1 150,471.8 150.5,471.4C150.9,471.1 151.2,470.7 151.6,470.3C152,470 152.5,469.7 152.8,469.2C153.1,468.8 153,468.2 153.2,467.7C153.5,467.2 154.1,466.4 154.1,466.4C154.1,466.4 153.4,467.2 153.1,467.6C152.8,468 152.4,468.5 152,468.8C151.6,469.1 150.9,469.5 150.7,469.6" fill="none" stroke="#c8701e" stroke-width="0.6" stroke-linecap="round"/>
<path d="M159,480.8C158.8,481.1 157.9,481.7 157.6,482.2C157.2,482.8 156.9,483.5 156.9,484.1C156.9,484.8 157.2,485.5 157.5,486C157.8,486.6 158.4,487.1 158.7,487.6C159.1,488.1 159.5,488.7 159.8,489.3C160.1,489.9 160.5,491 160.3,491.2C160.1,491.4 159,490.8 158.5,490.4C158,490 157.9,489.2 157.5,488.7C157.2,488.1 156.7,487.6 156.2,487.1C155.8,486.7 155.4,486 154.8,485.7C154.3,485.4 153.4,485.6 152.9,485.2C152.4,484.9 151.9,483.9 151.7,483.6 M150.7,495.2C151,495.2 151.9,494.9 152.6,494.7C153.2,494.6 153.9,494.6 154.6,494.4C155.2,494.1 155.7,493.5 156.3,493.4C156.9,493.2 157.7,493.3 158.3,493.5C158.8,493.8 159.7,495 159.6,495C159.6,495 158.6,494.2 158.1,493.8C157.6,493.3 157.3,492.6 156.7,492.3C156.2,492 155.4,492.1 154.8,491.8C154.2,491.5 153.9,490.8 153.3,490.4C152.8,490.1 152,490 151.5,489.6C151,489.2 150.9,488.4 150.5,487.9C150,487.4 149.1,486.9 148.9,486.7 M155.9,493.7C156,494.1 156.1,495.1 156.5,495.6C156.9,496.1 158.2,496.4 158.2,496.8C158.2,497.2 157,498.2 156.7,498.1C156.3,498 156.1,496.8 156.2,496.2C156.2,495.6 156.6,494.8 157.1,494.4C157.5,493.9 158.2,493.7 158.9,493.5C159.5,493.3 160.6,492.9 160.8,493.1C161,493.3 160.3,494.4 160,494.9C159.6,495.5 159.2,496 158.7,496.4C158.2,496.9 157.5,497 156.9,497.4C156.4,497.8 155.5,498.8 155.4,498.7C155.2,498.6 156,497.2 156.1,496.8 M158.6,477.1C158.7,477.4 159.5,478.7 159.3,479C159.1,479.3 158,478.9 157.3,478.9C156.7,478.9 156,479.1 155.3,479.2C154.7,479.2 154,479.1 153.3,479.2C152.7,479.4 152.2,479.9 151.6,480.2C151,480.5 150.4,480.7 149.8,481.1C149.3,481.5 148.7,482.7 148.5,482.6C148.3,482.5 148.6,480.7 148.9,480.7C149.2,480.6 149.8,481.7 150.2,482.2C150.5,482.8 150.6,483.6 151,484C151.5,484.5 152.3,484.5 152.9,484.8C153.4,485.2 154.2,485.9 154.4,486.1 M150.8,496.4C151.1,496.4 152.1,496.4 152.8,496.3C153.4,496.2 154.1,496 154.7,495.9C155.4,495.9 156.1,495.8 156.7,495.9C157.4,496 158.7,496.4 158.7,496.5C158.6,496.6 157.3,496.6 156.7,496.4C156,496.3 155.4,495.9 154.8,495.6C154.2,495.3 153.4,495.2 153,494.8C152.6,494.4 152.3,493.6 152.2,493C152.1,492.3 152.1,491.6 152.4,491C152.6,490.4 153.2,489.9 153.5,489.3C153.9,488.8 154.2,488.2 154.4,487.6C154.7,487 155.1,486 155.2,485.7 M155.8,495.3C155.5,495.2 154.5,495 153.8,494.9C153.2,494.8 152.4,494.9 151.8,494.7C151.2,494.4 150.2,493.7 150.3,493.4C150.4,493.1 151.7,493.3 152.3,493C152.8,492.7 153.1,491.9 153.6,491.5C154.1,491.1 154.7,490.6 155.3,490.5C155.9,490.3 156.7,490.5 157.3,490.6C157.9,490.8 158.5,491.1 159.1,491.5C159.7,491.8 160.8,492.5 160.8,492.6C160.8,492.6 159.6,492 158.9,491.9C158.3,491.8 157.6,491.9 156.9,491.9C156.3,491.8 155.3,491.6 154.9,491.5 M149.9,479.3C150.1,479.1 150.8,477.6 151,477.7C151.3,477.8 151.1,479.1 151.4,479.7C151.7,480.2 152.4,480.5 152.9,481C153.3,481.5 153.6,482.1 153.9,482.7C154.2,483.3 154.5,484 154.9,484.5C155.3,485 155.9,485.4 156.5,485.7C157,486 157.7,486.2 158.3,486.4C158.9,486.6 160.2,486.6 160.3,486.9C160.4,487.2 159.1,487.7 158.9,488.3C158.6,488.9 158.9,489.7 158.6,490.3C158.4,490.9 157.8,491.5 157.3,491.8C156.7,492.1 155.6,492 155.3,492 M157,494.5C156.6,494.5 155.6,494.4 155,494.5C154.3,494.7 153.8,495.3 153.2,495.4C152.5,495.6 151.2,495.8 151.2,495.6C151.1,495.4 152.2,494.6 152.8,494.4C153.4,494.2 154.2,494.6 154.8,494.4C155.4,494.2 155.9,493.5 156.5,493.3C157.1,493 157.9,493.2 158.4,492.9C159,492.7 159.4,492 159.9,491.6C160.4,491.2 161.5,490.4 161.5,490.4C161.5,490.3 160.2,491 159.9,491.5C159.5,492.1 159.5,492.8 159.5,493.5C159.5,494.1 159.8,495.1 159.9,495.5 M152.6,483.4C152.8,483.7 153.5,484.5 153.7,485.1C153.9,485.7 153.8,486.4 153.9,487.1C154.1,487.7 154.2,488.4 154.5,489C154.7,489.6 155.1,490.2 155.4,490.8C155.7,491.4 155.7,492.2 156.1,492.7C156.5,493.1 157.2,493.6 157.8,493.7C158.4,493.8 159.8,493.3 159.8,493.4C159.8,493.4 158.4,493.5 157.8,493.7C157.2,494 156.6,494.4 156,494.7C155.4,495 154.9,495.5 154.3,495.6C153.6,495.7 152.8,495.6 152.3,495.3C151.8,495 151.2,494 151,493.7 M154.7,481C154.4,481.2 153.7,482 153.1,482.2C152.5,482.4 151.7,482.2 151.1,482.3C150.5,482.5 149.4,483.4 149.3,483.3C149.3,483.3 150.5,482.6 151,482.1C151.4,481.7 151.8,481.1 152.3,480.6C152.7,480.1 153.3,479.7 153.5,479.1C153.8,478.5 153.6,477.7 153.9,477.1C154.2,476.5 155.3,475.7 155.3,475.6C155.2,475.6 154.1,476.4 153.7,476.9C153.3,477.5 153.2,478.2 152.9,478.8C152.6,479.3 152,479.8 151.7,480.4C151.5,481 151.5,482 151.4,482.4 M159.5,477.8C159.2,477.7 158.3,477.2 157.7,477.1C157,476.9 156.3,477.1 155.7,476.9C155.1,476.6 154.1,475.6 154.1,475.6C154.2,475.6 155.3,476.3 155.8,476.8C156.2,477.2 156.4,478 156.9,478.4C157.4,478.8 158.2,478.8 158.8,479.2C159.4,479.5 160,479.9 160.3,480.4C160.7,481 160.6,481.7 160.8,482.4C161,483 161.6,484 161.4,484.3C161.1,484.6 160,484.2 159.4,484.3C158.7,484.4 158.1,484.7 157.5,485.1C157,485.4 156.3,486.2 156,486.4 M157.5,480.8C157.8,481 158.6,481.7 159,482.2C159.4,482.7 159.9,483.2 160.1,483.8C160.3,484.4 160.2,485.2 160.4,485.8C160.5,486.4 160.9,487 161,487.7C161.2,488.3 161.4,489.1 161.2,489.7C161.1,490.3 160.7,490.9 160.3,491.5C160,492 159.4,492.5 159.2,493.1C158.9,493.7 159,495 158.7,495C158.5,495.1 157.7,494.1 157.4,493.5C157.2,493 157.2,492.2 157.3,491.5C157.3,490.9 157.6,490.2 157.6,489.6C157.6,488.9 157.3,487.9 157.3,487.6 M156.7,478.6C157,478.6 158.5,478.1 158.6,478.2C158.7,478.4 157.7,479.2 157.2,479.7C156.7,480.1 156,480.4 155.7,481C155.4,481.6 155.6,482.3 155.4,483C155.3,483.6 154.9,484.2 154.8,484.9C154.7,485.5 154.7,486.2 154.9,486.9C155,487.5 155.5,488.1 155.6,488.7C155.7,489.4 155.4,490.1 155.5,490.7C155.7,491.3 156.1,491.9 156.6,492.4C157,492.9 157.7,493.2 158.1,493.7C158.5,494.2 159.2,495.2 159.1,495.5C158.9,495.7 157.4,495.3 157.1,495.3 M152.4,488C152.3,488.3 152.3,489.4 152,489.9C151.7,490.5 150.7,490.6 150.4,491.1C150,491.7 150.2,493.1 149.9,493.1C149.7,493.1 149.2,491.9 149,491.3C148.9,490.7 149,490 148.9,489.3C148.8,488.6 148.3,488 148.4,487.4C148.4,486.7 148.9,486.1 149.1,485.5C149.4,484.9 149.8,484.3 149.9,483.7C150,483 149.7,482.3 149.7,481.7C149.7,481 149.6,479.7 149.7,479.7C149.8,479.6 150.2,480.9 150.5,481.5C150.8,482.1 151.5,482.9 151.7,483.1" fill="none" stroke="#a05a18" stroke-width="0.65" stroke-linecap="round"/>
<path d="M172.2,495 Q175.22,491.8 176.87,487.86" fill="none" stroke="#d4e030" stroke-width="0.95" stroke-linecap="round"/>
<path d="M170.37,499.21 Q171.66,494.89 174.29,490.13" fill="none" stroke="#d4e030" stroke-width="0.95" stroke-linecap="round"/>
<path d="M164.54,488.63 Q168.35,484.33 170.99,481.08" fill="none" stroke="#d4e030" stroke-width="0.95" stroke-linecap="round"/>
<path d="M169.39,484.13 Q170.9,480.84 174.26,477.17" fill="none" stroke="#d4e030" stroke-width="0.95" stroke-linecap="round"/>
<path d="M173.07,489.9 Q174.74,486.43 177.81,484.89" fill="none" stroke="#d4e030" stroke-width="0.95" stroke-linecap="round"/>
<path d="M170.05,487.88 Q172.53,483.89 173.82,481.61" fill="none" stroke="#d4e030" stroke-width="0.95" stroke-linecap="round"/>
<path d="M175.74,491.45 Q177.99,486.62 181.3,483.19" fill="none" stroke="#d4e030" stroke-width="0.95" stroke-linecap="round"/>
<path d="M166.88,481.26 Q169.03,476.74 171.07,473.17" fill="none" stroke="#d4e030" stroke-width="0.95" stroke-linecap="round"/>
<path d="M171.13,480.65 Q172.93,477.42 175.71,475.55" fill="none" stroke="#d4e030" stroke-width="0.95" stroke-linecap="round"/>
<path d="M172.99,494.74 Q174.87,492.08 177.12,489.97" fill="none" stroke="#d4e030" stroke-width="0.95" stroke-linecap="round"/>
<path d="M166.05,499.01 Q167.98,496.01 168.88,491.05" fill="none" stroke="#d4e030" stroke-width="0.95" stroke-linecap="round"/>
<path d="M164.33,487.53 Q165.79,485.92 168.29,482.76" fill="none" stroke="#d4e030" stroke-width="0.95" stroke-linecap="round"/>
<path d="M164.43,487.57 Q165.42,483.01 168.1,480.32" fill="none" stroke="#d4e030" stroke-width="0.95" stroke-linecap="round"/>
<path d="M177.67,493.82 Q179.44,491.16 182.21,488.29" fill="none" stroke="#d4e030" stroke-width="0.95" stroke-linecap="round"/>
<path d="M165.1,488.02 Q167.54,486.22 170.64,482.5" fill="none" stroke="#d4e030" stroke-width="0.95" stroke-linecap="round"/>
<path d="M171.47,481.17 Q172.89,476.85 176.08,473.15" fill="none" stroke="#d4e030" stroke-width="0.95" stroke-linecap="round"/>
<path d="M172.1,497.25 Q175.04,492.78 178.13,488.74" fill="none" stroke="#d4e030" stroke-width="0.95" stroke-linecap="round"/>
<path d="M175.18,486.4 Q177.18,483.08 179.8,481.04" fill="none" stroke="#d4e030" stroke-width="0.95" stroke-linecap="round"/>
<path d="M171.34,482.77 Q172.73,479.16 174.24,476.32" fill="none" stroke="#d4e030" stroke-width="0.95" stroke-linecap="round"/>
<path d="M167.99,499.54 Q170.56,495.24 174.32,491.4" fill="none" stroke="#d4e030" stroke-width="0.95" stroke-linecap="round"/>
<path d="M163.39,492.91 Q164.2,489.04 166.94,486.44" fill="none" stroke="#d4e030" stroke-width="0.95" stroke-linecap="round"/>
<path d="M164.82,487.34 Q167.73,483.67 171.57,480.55" fill="none" stroke="#d4e030" stroke-width="0.95" stroke-linecap="round"/>
<path d="M164.1,498.69 Q166.9,495.2 168.82,490.07" fill="none" stroke="#d4e030" stroke-width="0.95" stroke-linecap="round"/>
<path d="M162.75,485.38 Q165.09,482.23 165.9,479.79" fill="none" stroke="#d4e030" stroke-width="0.95" stroke-linecap="round"/>
<path d="M174.97,490.12 Q175.81,485.45 177.69,482.62" fill="none" stroke="#d4e030" stroke-width="0.95" stroke-linecap="round"/>
<path d="M165.16,491.4 Q166.26,487.92 167.66,484.26" fill="none" stroke="#d4e030" stroke-width="0.95" stroke-linecap="round"/>
<path d="M164.08,494.3 Q166.51,489.26 168.27,485.63" fill="none" stroke="#d4e030" stroke-width="0.95" stroke-linecap="round"/>
<path d="M164.76,484.91 Q167.05,482.51 169.79,478.65" fill="none" stroke="#d4e030" stroke-width="0.95" stroke-linecap="round"/>
<path d="M165.94,485.13 Q166.7,481.06 169.29,478.89" fill="none" stroke="#d4e030" stroke-width="0.95" stroke-linecap="round"/>
<path d="M170.48,491.34 Q173.68,487.61 177.69,483.2" fill="none" stroke="#d4e030" stroke-width="0.95" stroke-linecap="round"/>
<path d="M175.82,484.22 Q179.62,481.29 181.59,476.88" fill="none" stroke="#d4e030" stroke-width="0.95" stroke-linecap="round"/>
<path d="M166.3,492.34 Q167.54,487.66 169.21,484.74" fill="none" stroke="#d4e030" stroke-width="0.95" stroke-linecap="round"/>
<path d="M168.14,485.82 Q169.45,482.51 172.13,479.59" fill="none" stroke="#d4e030" stroke-width="0.95" stroke-linecap="round"/>
<path d="M169.42,482.46 Q170.79,479.28 173.79,476.74" fill="none" stroke="#d4e030" stroke-width="0.95" stroke-linecap="round"/>
<path d="M170.8,479.5C170.6,479.2 169.2,478 169.3,477.9C169.4,477.7 170.8,478.2 171.4,478.5C172.1,478.7 172.6,479.5 173.3,479.6C174,479.8 174.7,479.5 175.5,479.3C176.2,479.2 177.4,478.4 177.6,478.7C177.8,478.9 176.7,480 176.6,480.7C176.6,481.4 176.9,482.1 177.1,482.8C177.3,483.5 177.5,484.3 177.9,484.9C178.3,485.4 179.8,485.8 179.8,486C179.7,486.2 178.3,486.2 177.6,486.2C176.9,486.2 176.1,486.1 175.4,486.1C174.7,486.1 173.9,486.1 173.2,486.2C172.5,486.3 171.7,486.5 171.1,486.8C170.4,487.1 169.6,487.9 169.3,488.1 M164.7,483.1C165,482.9 166,482.4 166.5,481.9C167.1,481.4 167.3,480.7 167.8,480.2C168.3,479.6 169.1,479.3 169.5,478.8C170,478.2 170.2,476.7 170.4,476.7C170.7,476.8 170.9,478.2 171,478.9C171.1,479.6 171.4,480.4 171.2,481.1C171,481.7 170.3,482.2 170,482.9C169.6,483.5 169.4,484.3 169.1,484.9C168.8,485.6 168.6,486.4 168.1,486.9C167.6,487.3 166.8,487.6 166.1,487.7C165.3,487.9 163.9,487.9 163.9,487.7C163.8,487.6 165.2,487 165.8,486.8C166.5,486.5 167.3,486.5 168,486.2C168.7,486 169.7,485.5 170,485.4 M170.7,481.8C171,481.6 172,481.2 172.6,480.8C173.2,480.4 173.7,479.6 174.4,479.4C175,479.1 176.2,478.9 176.5,479.2C176.8,479.6 176.1,480.7 176.1,481.4C176.2,482.1 176.7,482.8 176.9,483.5C177.2,484.1 177.3,484.9 177.7,485.5C178,486.2 178.5,486.8 179,487.3C179.5,487.8 180.6,488.8 180.6,488.8C180.6,488.7 179.7,487.5 179.1,487.2C178.5,486.8 177.7,486.6 177,486.5C176.3,486.5 175.5,486.7 174.8,486.9C174.2,487.2 173.7,487.8 173,488.1C172.3,488.4 171.5,488.4 170.9,488.8C170.3,489.2 169.5,490 169.2,490.2 M164.4,486.8C164.2,487.1 163.5,488.8 163.3,488.7C163.1,488.7 163,487.3 163,486.6C163,485.8 163.1,485.1 163.2,484.4C163.3,483.6 163.4,482.2 163.6,482.2C163.8,482.2 164,483.6 164.2,484.3C164.4,485 164.6,485.8 164.6,486.5C164.5,487.2 163.9,488.6 163.9,488.6C163.9,488.6 164.5,487.2 164.7,486.5C164.9,485.8 165,485.1 165.1,484.4C165.1,483.6 164.7,482.9 164.9,482.2C165,481.5 165.7,480.9 165.9,480.2C166.2,479.6 166.3,478.1 166.4,478.1C166.5,478.1 166.6,479.6 166.6,480.3C166.5,481 166.2,482.1 166.1,482.4 M174.9,494.7C174.8,494.3 174.7,493.2 174.8,492.5C174.8,491.7 175,491 175.1,490.3C175.2,489.6 175.2,488.8 175.3,488.1C175.5,487.4 175.7,486.7 175.8,486C175.9,485.2 176,484.5 175.9,483.8C175.8,483.1 175.3,482.4 175.2,481.7C175.2,480.9 175.3,480.2 175.4,479.5C175.5,478.7 175.3,477.4 175.7,477.3C176,477.2 177.5,478.3 177.4,478.7C177.3,479 176,479.1 175.3,479.4C174.7,479.7 174,480.1 173.5,480.6C173,481.1 172.8,481.9 172.4,482.5C172.1,483.2 171.5,483.8 171.4,484.4C171.2,485.1 171.4,486.3 171.4,486.6" fill="none" stroke="#9aa81a" stroke-width="0.45" stroke-linecap="round"/>
<path d="M159.3,495.6C159.5,495.9 160,497 160.6,497.4C161.1,497.8 161.9,497.9 162.6,498.2C163.3,498.4 164.1,498.5 164.7,498.8C165.4,499.2 166.5,500 166.4,500.2C166.3,500.5 164.9,500 164.2,500.1C163.5,500.3 162.9,501 162.2,501.1C161.5,501.2 160.7,501.2 160,500.9C159.4,500.7 158.3,500 158.3,499.6C158.3,499.2 159.5,498.8 160,498.3C160.5,497.7 160.8,497 161.2,496.4C161.6,495.8 162.3,494.5 162.3,494.5C162.4,494.6 161.7,495.9 161.5,496.6C161.3,497.3 161.3,498 161.1,498.7C160.8,499.4 160.1,500.3 159.9,500.6 M160.9,502.2C160.8,502.6 160.5,504.4 160.4,504.3C160.3,504.3 160.2,502.8 160.4,502.1C160.5,501.5 161,500.7 161.4,500.2C161.9,499.7 162.7,499.4 163.3,499C163.9,498.7 164.6,498.4 165.3,498C165.9,497.7 167,496.7 167.1,496.8C167.2,496.9 166.2,498 165.7,498.6C165.2,499.1 164.7,499.7 164.1,500C163.4,500.3 162.6,500.5 161.9,500.5C161.2,500.5 159.9,500.4 159.8,500C159.6,499.6 160.7,498.8 161,498.2C161.4,497.6 161.6,496.8 161.9,496.2C162.3,495.6 163,494.4 163.3,494.5C163.7,494.5 164,496.2 164.1,496.5 M160.3,495C160.6,495.2 161.8,495.7 162.2,496.2C162.6,496.8 162.4,497.7 162.8,498.3C163.2,498.9 164,499.2 164.5,499.8C164.9,500.3 165.2,501.1 165.6,501.7C166.1,502.3 167.1,503.2 167,503.4C166.9,503.5 165.7,502.7 165,502.4C164.4,502.1 163.5,502.1 162.9,501.7C162.4,501.3 161.8,500.6 161.7,499.9C161.5,499.3 162.1,498.4 161.9,497.8C161.8,497.1 160.7,496 160.7,495.9C160.8,495.8 161.8,497 162.4,497.3C163.1,497.6 163.9,497.7 164.6,497.6C165.3,497.4 166.2,496.3 166.5,496.4C166.8,496.6 166.4,498.3 166.3,498.6 M165,505C164.6,505.1 163.1,505.6 162.8,505.3C162.5,505 162.9,503.9 163,503.1C163.1,502.4 163.3,501.7 163.4,501C163.5,500.2 163.7,499.5 163.7,498.8C163.7,498.1 163.7,497.3 163.6,496.6C163.4,495.9 162.8,494.5 162.9,494.5C162.9,494.5 163.8,495.7 163.9,496.4C164.1,497.1 163.8,497.9 163.9,498.6C164.1,499.3 164.4,500 164.7,500.7C164.9,501.4 165.8,502.5 165.7,502.6C165.6,502.8 164.4,501.9 163.9,501.4C163.4,500.8 162.9,500.1 162.8,499.5C162.7,498.8 163.1,498 163.2,497.3C163.2,496.6 163.2,495.5 163.2,495.1 M164.6,500.5C164.6,500.1 164.5,499 164.2,498.3C163.9,497.7 163.4,497 162.8,496.6C162.2,496.3 160.6,496 160.6,496C160.6,496 162,496.6 162.7,496.7C163.5,496.8 164.9,496.3 164.9,496.5C165,496.7 163.7,497.4 163.3,498C162.9,498.6 162.8,499.4 162.7,500.1C162.6,500.8 162.4,501.6 162.6,502.3C162.9,502.9 164.2,503.8 164,504C163.9,504.1 162.7,503.3 162,503.2C161.3,503.2 159.9,503.8 159.8,503.7C159.7,503.5 161.1,502.9 161.6,502.4C162.1,501.8 162.5,501.2 162.8,500.5C163.1,499.9 163.2,498.7 163.2,498.4" fill="none" stroke="#a05a18" stroke-width="0.55" stroke-linecap="round"/>
<path d="M147.4,519.1C147.7,519.5 148.6,520.9 149.4,521.3C150.2,521.7 151.5,521.1 152.4,521.4C153.3,521.8 153.8,522.9 154.6,523.5C155.4,524 156.4,524.6 157.4,524.7C158.3,524.7 159.4,524.2 160.2,523.6C160.9,523 161.4,522 162,521.2C162.6,520.4 162.9,519.2 163.7,518.8C164.5,518.3 166.4,518.1 166.7,518.6C167,519 166.3,520.6 165.7,521.4C165.1,522.1 164,522.4 163.2,523C162.3,523.5 161.4,524.1 160.7,524.7C159.9,525.3 159.3,526.3 158.5,526.7C157.6,527.2 156.5,527 155.5,527.3C154.6,527.6 153.4,527.8 152.7,528.4C152.1,529.1 152,530.3 151.6,531.2C151.2,532.1 150.4,533.4 150.2,533.8 M153.6,526.6C153.2,526.8 152.1,528 151.1,528.3C150.2,528.5 148.9,528.6 148.1,528.1C147.3,527.7 147,526.5 146.4,525.7C145.7,525 144.8,524.4 144.3,523.5C143.9,522.6 143.9,521.5 143.9,520.5C144,519.6 144.8,518.6 144.7,517.6C144.7,516.7 144.4,515.5 143.8,514.8C143.2,514.1 142,513.7 141,513.6C140.1,513.5 138.9,513.7 138.1,514.2C137.3,514.7 136.5,515.6 136.2,516.5C135.9,517.4 136.2,518.5 136.4,519.5C136.6,520.5 137.3,521.4 137.4,522.3C137.5,523.3 136.9,524.3 137,525.3C137,526.3 137.4,527.3 137.6,528.2C137.8,529.2 137.6,530.4 138.2,531.2C138.7,531.9 140.4,532.4 140.8,532.6 M137.7,536.3C138.1,536.3 139.7,536.3 140.6,536.6C141.5,537 143,538.5 143,538.5C142.9,538.5 141.1,537.6 140.5,536.9C139.8,536.2 139.4,535.1 138.8,534.4C138.2,533.6 137.2,533 136.8,532.2C136.3,531.3 136.1,530.2 136.2,529.2C136.2,528.3 136.7,527.2 137.3,526.4C137.8,525.7 138.7,524.7 139.5,524.5C140.4,524.3 141.6,525.2 142.5,525C143.4,524.8 144.2,523.6 145.1,523.4C146,523.3 147,524 148,524.2C148.9,524.4 150,524.2 151,524.4C151.9,524.7 152.7,525.5 153.6,525.8C154.6,526 155.8,525.4 156.6,525.8C157.5,526.1 158,527.5 158.9,527.8C159.7,528.1 161.3,527.5 161.8,527.4 M150.7,515.1C150.4,515.5 149.7,516.8 149,517.5C148.3,518.2 147.5,519 146.6,519.4C145.7,519.7 144.6,519.4 143.6,519.6C142.6,519.9 141.7,520.4 140.8,520.6C139.8,520.8 138.7,520.7 137.8,520.9C136.8,521.1 135.8,521.4 135,521.9C134.1,522.5 133.6,523.6 132.8,524C131.9,524.3 130,524.4 129.8,524C129.6,523.6 131.2,522.5 131.5,521.6C131.7,520.7 131.3,519.5 131.1,518.6C130.8,517.6 129.8,515.9 129.8,515.9C129.9,515.8 130.8,517.7 131.6,518.3C132.3,518.9 133.5,519 134.3,519.6C135.1,520.2 135.6,521.1 136.2,521.9C136.9,522.6 137.5,523.4 138,524.3C138.4,525.2 138.7,526.7 138.9,527.2 M136.5,511.6C136.9,511.9 138.1,512.8 138.9,513.4C139.7,513.9 140.6,514.8 141.5,514.8C142.4,514.9 143.4,514.1 144.3,513.7C145.2,513.3 146.2,513.1 147.1,512.6C148,512.2 148.9,511.7 149.7,511.1C150.4,510.4 151.4,508.6 151.6,508.8C151.9,508.9 151.7,510.9 151.2,511.7C150.7,512.5 149.4,512.7 148.7,513.5C148.1,514.2 148.2,515.5 147.5,516.2C146.9,516.9 145.6,517 144.8,517.5C144,518.1 143.5,519.2 142.7,519.7C141.9,520.2 140.6,520 139.9,520.6C139.1,521.2 139.1,522.7 138.3,523.2C137.6,523.7 136.3,523.5 135.4,523.7C134.4,523.9 133.4,524.6 132.5,524.5C131.6,524.4 130.4,523.2 129.9,522.9 M138,520.3C137.6,520 136.6,518.9 135.7,518.4C134.9,517.9 133.7,517.9 132.9,517.5C132,517 130.5,515.7 130.4,515.7C130.4,515.8 131.7,517.3 132.5,517.9C133.3,518.5 134.2,519.1 135.2,519.3C136.1,519.5 137.2,519.2 138.2,519C139.1,518.8 140.1,517.9 141,518C141.9,518.1 142.6,519.3 143.6,519.5C144.5,519.7 145.6,519.2 146.5,519.2C147.5,519.3 148.5,519.7 149.5,519.7C150.5,519.7 151.5,519.4 152.5,519.5C153.5,519.5 154.5,520.1 155.5,520C156.4,520 157.3,519.3 158.3,519C159.3,518.8 160.4,518.5 161.3,518.7C162.2,518.9 163.2,519.6 163.8,520.3C164.4,521.1 164.7,522.7 164.8,523.1 M152.6,523.1C152.1,523.3 150.7,524 149.7,523.9C148.7,523.9 147.7,523.4 146.9,522.9C146,522.5 145.3,521.6 144.5,521.1C143.7,520.5 142.8,520 142.1,519.4C141.3,518.7 140.9,517.8 140.2,517C139.5,516.3 138.8,515.6 138,515C137.2,514.4 136.3,513.7 135.4,513.4C134.5,513.2 132.4,513.5 132.4,513.3C132.4,513.1 134.2,512.5 135.2,512.1C136.1,511.8 137.1,511.6 138.1,511.4C139.1,511.1 140.3,511.2 141,510.7C141.7,510.1 142.2,508 142.4,508C142.6,508.1 142.2,510 142.1,511C142.1,512 142.2,513 142.1,514C142.1,515 141.9,516 141.6,517C141.4,517.9 140.8,519.3 140.6,519.8 M163.4,512.9C163,512.6 161,511.1 161.1,511C161.2,510.9 163.7,512 163.7,512.4C163.7,512.9 162,513.6 161.1,513.8C160.1,514.1 158.9,514.3 158.1,514C157.2,513.6 156.8,512.4 156.1,511.7C155.3,511.1 154.2,510.7 153.7,509.9C153.2,509.1 152.6,507.5 152.9,507C153.3,506.5 155.1,506.7 155.9,507.1C156.7,507.5 157.2,508.6 157.8,509.4C158.4,510.2 158.9,511.1 159.7,511.7C160.5,512.3 161.7,512.3 162.5,512.9C163.2,513.5 163.6,514.6 164,515.5C164.4,516.4 165,517.4 164.9,518.3C164.8,519.3 164.1,520.3 163.4,521C162.7,521.6 161.7,522.1 160.8,522.3C159.8,522.5 158.3,522.2 157.8,522.2 M148.4,537.3C148.7,537.7 149.9,539.8 149.8,539.9C149.7,540 148.6,538.3 147.8,537.7C147,537.1 145.8,537.2 145,536.6C144.3,536 143.9,535 143.2,534.2C142.6,533.4 141.9,532.7 141.2,531.9C140.6,531.2 139.7,530.5 139.4,529.6C139.1,528.7 139.7,527.5 139.4,526.6C139.2,525.6 138.5,524.7 137.9,524C137.2,523.3 136.1,522.9 135.4,522.2C134.7,521.6 134.3,520.4 133.5,519.9C132.7,519.5 131.5,519.7 130.5,519.6C129.6,519.4 127.6,519 127.6,518.9C127.6,518.9 129.6,519.1 130.6,519.2C131.6,519.3 132.6,519.6 133.6,519.5C134.5,519.4 135.4,518.5 136.4,518.4C137.3,518.3 138.8,518.8 139.3,518.9 M160.7,530.8C160.4,530.4 159.4,529.2 159.2,528.2C158.9,527.3 159.5,526.1 159.2,525.2C158.9,524.3 158.1,523.5 157.4,522.8C156.7,522.1 156,521.2 155.1,520.9C154.3,520.5 153,520.5 152.1,520.9C151.3,521.3 150.7,522.3 150.1,523.1C149.6,524 149.5,525.2 148.9,525.9C148.2,526.5 147.1,527 146.2,527.2C145.2,527.4 144.1,526.6 143.2,526.8C142.3,527 141.3,527.7 140.7,528.4C140,529.1 139.7,530.2 139.4,531.1C139,532 139.2,533.2 138.7,534C138.2,534.8 136.5,536.1 136.4,536C136.2,535.8 137,533.9 137.7,533.3C138.4,532.6 139.8,532.8 140.4,532.1C141.1,531.4 141.4,529.8 141.6,529.3 M165.4,514.5C165.7,514.9 166.9,515.9 167.4,516.8C167.8,517.7 168.6,519.2 168.3,519.7C167.9,520.1 166.2,519.6 165.3,519.4C164.3,519.1 163.4,518.5 162.5,518.2C161.6,517.9 160.5,517.2 159.6,517.4C158.7,517.5 157.9,518.4 157.1,519.1C156.4,519.7 155.7,520.5 155.2,521.4C154.8,522.3 154.7,523.3 154.2,524.2C153.8,525.1 152.9,525.8 152.5,526.7C152.2,527.6 152.3,528.7 152,529.7C151.7,530.6 151.4,531.6 150.9,532.4C150.4,533.3 149.3,533.8 148.9,534.7C148.5,535.6 149,537.4 148.4,537.7C147.9,537.9 146.5,537 145.7,536.4C144.9,535.9 144.3,535 143.6,534.3C142.8,533.7 141.7,532.7 141.3,532.4 M134.8,511.9C135.3,511.8 136.8,511.7 137.7,511.4C138.7,511.1 139.7,510.8 140.4,510.1C141.2,509.5 141.3,508.1 142.1,507.7C142.9,507.2 144.1,507.3 145.1,507.4C146.1,507.5 147.1,507.7 148,508.2C148.9,508.6 149.5,509.5 150.3,510.1C151.2,510.6 152.1,511.1 153.1,511.3C154,511.6 155,511.6 156,511.6C157,511.6 158.7,510.9 159,511.4C159.4,511.8 158.7,513.4 158.3,514.3C158,515.2 157.4,516.1 157,517C156.6,517.9 156.6,519 156,519.8C155.4,520.6 154.4,521 153.6,521.7C152.9,522.3 152.3,523.1 151.6,523.9C151,524.6 150.4,525.4 149.7,526.2C149.1,527 148.2,528.2 147.9,528.6 M163.8,518.6C163.4,518.2 162.3,517.2 161.7,516.4C161,515.6 160.6,514.6 159.9,514C159.2,513.3 158,513.1 157.4,512.4C156.8,511.6 156.9,510.4 156.4,509.6C155.9,508.7 154.4,507.3 154.4,507.3C154.4,507.3 155.8,508.7 156.4,509.6C156.9,510.4 157.1,511.4 157.5,512.3C157.9,513.2 158.8,514.1 158.9,515C159,515.9 158.2,516.9 158,517.9C157.8,518.8 158,519.9 157.7,520.9C157.4,521.8 156.8,522.6 156.2,523.4C155.6,524.2 154.8,524.9 154.2,525.7C153.6,526.5 152.7,527.2 152.5,528.1C152.2,529 152.7,530.1 152.9,531.1C153.2,532.1 153.4,533.1 153.8,533.9C154.3,534.8 155.4,535.9 155.8,536.2 M145.9,536.1C145.6,536.5 144.3,538.6 144.1,538.6C144,538.5 145,536.7 145,535.7C145.1,534.7 144.8,533.7 144.6,532.7C144.3,531.8 144.2,530.7 143.6,529.9C143.1,529.1 141.7,529 141.1,528.2C140.6,527.5 140.8,526.2 140.4,525.3C139.9,524.5 139.1,523.8 138.4,523.1C137.7,522.4 137,521.6 136.1,521.1C135.3,520.6 134.1,520.5 133.4,519.9C132.7,519.2 132,518.2 131.8,517.3C131.6,516.4 131.8,515.3 132,514.3C132.1,513.3 132.4,511.4 132.7,511.4C132.9,511.4 133,513.5 133.6,514.3C134.2,515 135.6,515 136.2,515.8C136.8,516.5 136.5,517.9 137.1,518.6C137.7,519.3 139.3,519.8 139.8,520.1 M143.1,519.4C143.2,518.9 143.5,517.4 143.5,516.4C143.5,515.4 142.9,514.3 143.1,513.4C143.3,512.5 144,511.4 144.7,510.9C145.5,510.4 146.9,510.9 147.7,510.3C148.4,509.8 149,507.7 149.2,507.7C149.3,507.8 148.9,509.7 148.8,510.7C148.7,511.7 148.5,512.7 148.5,513.7C148.6,514.7 148.8,515.7 149,516.7C149.2,517.6 149.4,518.7 149.7,519.6C150.1,520.5 151,521.2 151.3,522.1C151.7,523 152,524 152.1,525C152.3,526 152.6,527.1 152.3,528C152,528.9 151.1,529.8 150.2,530.1C149.4,530.5 148,530.4 147.2,529.9C146.4,529.5 146.1,528.3 145.5,527.5C144.8,526.7 143.7,525.8 143.3,525.4 M159.7,527.3C160,526.9 161.2,525.7 161.4,524.8C161.6,523.9 161,522.9 160.8,521.9C160.6,520.9 160.4,519.9 160.1,519C159.7,518.1 159.1,517.2 158.8,516.3C158.5,515.3 158.7,514.2 158.3,513.3C157.9,512.4 156.7,511.8 156.5,511C156.3,510.1 156.6,508.2 157.1,508C157.6,507.8 158.7,509.3 159.5,509.8C160.4,510.3 162.1,510.4 162.3,511C162.4,511.6 160.9,512.5 160.3,513.3C159.8,514.1 159.5,515.2 158.9,515.9C158.2,516.6 156.9,516.9 156.4,517.6C155.9,518.4 155.7,519.6 155.8,520.6C155.9,521.5 156.8,522.4 157,523.3C157.3,524.3 157.4,525.3 157.4,526.3C157.4,527.3 157.2,528.8 157.2,529.3 M156.6,515.9C157,515.5 158,514.3 158.8,513.8C159.6,513.3 161.2,512.6 161.7,513C162.2,513.3 161.7,515 161.7,516C161.8,517 161.5,518.2 161.9,519C162.4,519.8 163.8,520 164.4,520.7C164.9,521.5 165.3,522.7 165.3,523.6C165.2,524.5 164.5,525.6 163.8,526.2C163.1,526.8 161.6,526.6 161,527.3C160.3,527.9 160.2,529.1 159.9,530.1C159.7,531 159.8,532.1 159.7,533.1C159.5,534 159.5,536 159.2,536C158.9,536.1 158.6,534 158,533.3C157.3,532.6 156,532.6 155.3,531.9C154.6,531.3 154.3,530.2 153.6,529.4C152.9,528.7 152,528.3 151.2,527.7C150.4,527.1 149.2,526.2 148.8,525.9 M134.6,525C135.1,525 136.6,525.1 137.6,525.2C138.6,525.3 139.6,525.6 140.6,525.5C141.6,525.4 142.5,524.7 143.5,524.7C144.4,524.6 145.4,525.3 146.4,525.3C147.4,525.3 148.4,524.9 149.3,524.6C150.3,524.3 151.4,524.2 152.1,523.5C152.7,522.9 153.1,521.7 153.2,520.7C153.3,519.8 153,518.7 152.8,517.7C152.7,516.8 152.4,515.8 152.2,514.8C152,513.8 152,512.8 151.9,511.8C151.7,510.8 151.3,508.9 151.3,508.9C151.3,508.9 151.4,511 151.9,511.8C152.3,512.6 153.7,512.9 154.2,513.7C154.7,514.5 154.5,515.8 155,516.6C155.5,517.4 156.9,517.7 157.3,518.5C157.7,519.3 157.4,521 157.4,521.5 M148.9,520.3C148.8,519.8 148.1,518.3 148.3,517.4C148.5,516.5 149.5,515.8 150,514.9C150.5,514.1 151.3,513.2 151.4,512.3C151.4,511.3 150.8,510.2 150.2,509.5C149.5,508.8 147.6,508 147.6,508C147.6,507.9 149.5,508.7 150.2,509.4C151,510 151.7,510.8 152.1,511.7C152.6,512.6 152.4,513.8 153,514.6C153.5,515.4 154.5,515.8 155.3,516.4C156.1,517.1 156.7,518.2 157.6,518.4C158.4,518.7 159.7,518.5 160.5,518C161.4,517.6 162,516.7 162.6,515.8C163.1,515 163.8,513.1 163.7,513.1C163.6,513 162.7,514.8 162,515.5C161.4,516.3 160.6,517.1 159.8,517.5C158.9,517.9 157.3,517.7 156.8,517.8 M131.8,520.6C132.3,520.6 133.9,521 134.8,520.8C135.7,520.5 136.3,519.2 137.2,519C138.1,518.7 139.2,519.4 140.2,519.3C141.2,519.3 142.1,519 143.1,518.8C144.1,518.6 145.1,518.2 146.1,518.1C147,518.1 148.2,517.9 149.1,518.3C149.9,518.7 150.9,519.6 151.2,520.4C151.6,521.2 151.3,522.4 151.2,523.4C151.2,524.4 151,525.4 150.9,526.4C150.8,527.4 151,528.5 150.5,529.4C150.1,530.2 149,530.6 148.3,531.3C147.6,532.1 146.9,532.8 146.5,533.7C146,534.6 146.1,535.7 145.6,536.6C145.1,537.4 144.1,538.9 143.6,538.8C143.1,538.7 143,536.9 142.6,536C142.2,535.1 141.2,533.9 141,533.5 M145.5,522.3C145.2,522.8 144.4,524 143.9,524.9C143.4,525.7 142.6,526.6 142.5,527.6C142.5,528.5 143.5,529.4 143.5,530.4C143.6,531.3 142.6,532.4 142.8,533.3C142.9,534.2 143.8,535 144.3,535.9C144.8,536.7 145.9,538.4 145.7,538.5C145.5,538.7 144,537.4 143.1,537C142.2,536.5 141.3,536 140.3,535.9C139.3,535.8 137.8,536.7 137.3,536.3C136.9,535.8 137.6,534.3 137.6,533.3C137.6,532.3 137.5,531.2 137.2,530.3C136.9,529.4 136.3,528.5 135.8,527.6C135.4,526.8 135,525.7 134.4,525C133.7,524.3 132.6,524.1 131.9,523.4C131.2,522.6 130.9,521.6 130.3,520.8C129.8,519.9 129,518.7 128.8,518.2 M130.5,520.3C130.7,519.9 131.3,518.5 131.8,517.6C132.4,516.8 132.8,515.7 133.6,515.2C134.4,514.8 135.6,515.1 136.6,514.9C137.6,514.7 138.5,514.2 139.4,513.9C140.4,513.7 141.4,513.7 142.4,513.4C143.3,513.1 144.3,512.8 145.2,512.2C146,511.7 146.5,510.8 147.3,510.2C148.1,509.6 149,509 149.9,508.6C150.7,508.1 152.3,507.1 152.6,507.4C153,507.7 152.2,509.3 152,510.3C151.8,511.3 151.6,512.3 151.4,513.3C151.2,514.2 151.1,515.3 150.7,516.2C150.3,517.1 149.1,517.6 148.8,518.5C148.5,519.4 148.7,520.6 149.2,521.5C149.6,522.3 150.6,523 151.4,523.5C152.3,523.9 153.8,524.1 154.3,524.3" fill="none" stroke="#a82020" stroke-width="0.55" stroke-linecap="round"/>
<path d="M173.9,529C173.5,529 172.2,528.8 171.3,528.8C170.5,528.8 168.9,529.4 168.7,529C168.5,528.7 169.5,527.5 170.1,526.8C170.6,526.1 171.6,525.8 172,525C172.4,524.3 172.1,523.2 172.5,522.5C172.9,521.8 173.8,521.2 174.6,520.9C175.3,520.6 176.3,520.7 177.1,520.5C177.9,520.3 178.8,519.9 179.5,519.5C180.2,519 180.8,518.2 181.5,517.8C182.3,517.5 183.2,517.3 184.1,517.3C184.9,517.3 185.8,517.6 186.6,517.9C187.4,518.2 188.8,518.5 189,519C189.1,519.5 187.9,520.4 187.2,521C186.6,521.5 185.3,521.9 184.9,522.1 M169,526.1C168.8,525.8 167.9,524.7 167.5,524C167.1,523.2 166.3,522.1 166.5,521.6C166.8,521.1 168.3,521 169.1,521.1C169.9,521.3 170.7,521.8 171.4,522.3C172.1,522.9 172.6,523.6 173.1,524.3C173.6,525 173.9,526 174.5,526.5C175.2,526.9 176.3,526.8 177.1,527.1C177.8,527.4 178.5,528.1 179.2,528.6C180,529 180.8,529.3 181.5,529.7C182.2,530.2 183.4,531.5 183.4,531.5C183.5,531.5 182,530.3 181.7,529.6C181.4,528.8 181.8,527.7 181.4,527C181.1,526.2 180.1,525.8 179.7,525.1C179.2,524.3 179,523 178.9,522.6 M177.7,528.3C177.4,528.6 176.5,529.5 176,530.2C175.4,530.9 174.9,532.3 174.4,532.3C173.9,532.3 173.6,530.8 173,530.1C172.5,529.5 171.6,529.1 171.1,528.4C170.6,527.7 170.5,526.7 169.9,526.1C169.3,525.5 167.6,525.5 167.5,525C167.4,524.5 168.7,523.6 169.4,523.2C170.1,522.8 171,522.6 171.9,522.5C172.7,522.4 173.6,522.5 174.5,522.5C175.4,522.5 176.3,522.8 177.1,522.6C177.9,522.4 178.8,521.9 179.3,521.3C179.9,520.7 180.2,519.8 180.5,519C180.8,518.2 180.6,517.2 181,516.5C181.4,515.8 182.7,515.1 183,514.8 M180.3,531.2C180.5,531.6 181.5,533.5 181.3,533.6C181.1,533.8 179.7,532.7 179.2,532.1C178.6,531.4 178.6,530.3 178.1,529.7C177.5,529.1 176.4,528.9 175.9,528.3C175.3,527.7 175.2,526.7 174.8,526C174.4,525.2 174.2,524.2 173.6,523.7C173,523.1 172,523 171.2,522.7C170.3,522.4 168.7,522.3 168.7,522C168.6,521.6 170.1,521 170.9,520.7C171.7,520.3 172.6,519.9 173.4,520C174.2,520 175,520.6 175.8,520.9C176.6,521.2 177.5,521.4 178.3,521.8C179,522.3 179.6,523 180.3,523.4C181.1,523.9 182.2,524.4 182.6,524.6 M185.2,517.3C184.9,516.9 183.7,515.2 183.8,515.1C184,514.9 186,515.9 186.1,516.4C186.1,516.8 184.5,517.2 183.8,517.7C183.2,518.3 182.4,518.8 182,519.6C181.6,520.3 181.4,521.2 181.3,522.1C181.1,522.9 181.2,523.8 181.1,524.7C181,525.5 180.8,526.4 180.6,527.2C180.4,528.1 180.2,528.9 180,529.7C179.9,530.6 180.1,532.3 179.9,532.3C179.7,532.4 178.9,530.8 178.7,530C178.6,529.2 178.9,528.3 178.9,527.4C178.8,526.6 178.5,525.7 178.5,524.8C178.4,524 178.4,523.1 178.4,522.2C178.3,521.4 178.2,520.1 178.2,519.6 M189.6,521.1C189.3,520.8 188.6,519.7 187.9,519.1C187.2,518.6 186.3,518.5 185.6,517.9C184.9,517.4 183.7,516.2 183.8,516C183.9,515.8 186.2,516.4 186.3,516.8C186.4,517.2 184.7,517.8 184.3,518.5C183.8,519.1 184.1,520.2 183.7,521C183.3,521.7 182.5,522.2 181.9,522.9C181.4,523.6 181.2,524.5 180.6,525.2C180.1,525.8 179.3,526.2 178.6,526.8C178,527.4 177.5,528.2 176.8,528.7C176.2,529.3 175.5,529.8 174.7,530.3C174,530.7 173.3,531.4 172.5,531.6C171.7,531.7 170.7,531.5 169.9,531.1C169.2,530.8 168.4,529.6 168.1,529.3 M178,523.8C177.9,524.2 177.3,525.5 177.3,526.3C177.4,527.1 177.8,528 178.2,528.7C178.6,529.5 179.4,530.1 179.7,530.9C180,531.6 180.4,533.1 180,533.4C179.6,533.8 178.2,533.3 177.4,533.1C176.6,532.8 175.8,532.4 175.1,532C174.3,531.6 173.6,531.1 172.8,530.6C172.1,530.1 171.5,529.5 170.7,529.1C170,528.7 168.4,528.6 168.3,528.2C168.2,527.7 169.4,526.7 170.1,526.3C170.9,526 171.9,526 172.7,526.1C173.6,526.1 174.5,526.4 175.2,526.8C175.9,527.2 176.4,528.2 177.1,528.6C177.9,528.9 179.3,528.9 179.7,529 M185.3,519.2C185.4,519.6 185.8,520.9 186,521.7C186.1,522.6 185.9,523.5 186.2,524.3C186.5,525.1 187.5,525.6 187.8,526.3C188.2,527.1 188.7,528.7 188.5,528.9C188.4,529 187.1,527.7 186.7,527C186.3,526.3 186.1,525.3 186.3,524.4C186.4,523.6 186.9,522.8 187.4,522.1C187.9,521.4 188.8,520.1 189.2,520.2C189.5,520.3 189.6,522 189.4,522.8C189.2,523.6 188.5,524.3 188,524.9C187.4,525.6 186.5,525.9 185.9,526.5C185.3,527.2 185.1,528.1 184.4,528.7C183.8,529.2 182.9,529.6 182.1,529.8C181.3,530 179.9,530 179.5,530 M173.8,519.7C174.2,519.8 175.5,520.2 176.4,520.2C177.2,520.2 178.1,520 178.9,519.7C179.7,519.4 180.5,519 181.2,518.5C181.9,518 182.4,516.5 182.9,516.5C183.4,516.6 183.7,518.1 184.1,518.8C184.5,519.6 184.8,520.4 185.3,521.1C185.9,521.8 186.5,522.4 187.3,522.8C188,523.3 189.6,523.5 189.6,523.9C189.7,524.3 188.2,524.8 187.4,525.2C186.7,525.7 186,526.4 185.2,526.6C184.4,526.8 183.4,526.3 182.6,526.5C181.8,526.7 181.1,527.6 180.3,527.7C179.5,527.9 178.5,527.9 177.7,527.6C176.9,527.4 175.9,526.4 175.5,526.2 M181.4,524.7C181.4,524.3 181.2,523 181.3,522.1C181.4,521.3 181.4,520.3 181.8,519.6C182.2,518.9 183,518.3 183.7,517.8C184.4,517.4 185.8,516.7 186.1,517C186.4,517.2 185.4,518.7 185.5,519.5C185.6,520.3 186.5,521 186.6,521.8C186.7,522.7 186.1,523.5 186,524.4C185.9,525.2 186.1,526.2 185.9,527C185.7,527.8 185,528.5 184.8,529.3C184.6,530.1 184.9,531.8 184.6,531.9C184.4,532 183.7,530.5 183.1,529.8C182.5,529.2 181.7,528.8 181.1,528.1C180.6,527.4 180,526.6 179.9,525.8C179.8,525 180.3,523.7 180.4,523.2 M179.1,525.1C179,525.5 179,527 178.6,527.7C178.1,528.4 177,528.6 176.5,529.3C176.1,530 175.7,531.8 175.7,531.8C175.8,531.8 176.2,530.1 176.6,529.3C177,528.5 177.8,527.9 178,527.1C178.2,526.3 177.7,525.3 177.9,524.5C178.1,523.7 179,523.1 179.2,522.3C179.4,521.5 179,520.6 179,519.7C179,518.8 179.3,517.9 179.1,517.1C178.9,516.3 177.9,514.9 177.8,514.9C177.8,514.9 178.4,516.5 178.9,517.2C179.4,518 180.2,518.5 180.6,519.2C180.9,520 180.6,521.1 181,521.8C181.4,522.5 182.6,523.3 182.9,523.6 M182.7,516.7C183.1,516.8 184.5,516.9 185.2,517.4C185.8,517.9 186.2,518.8 186.5,519.6C186.9,520.4 187.2,521.3 187.2,522.1C187.2,523 187,523.9 186.6,524.6C186.2,525.4 185.5,526 184.9,526.6C184.4,527.3 183.6,527.8 183.2,528.6C182.9,529.4 183.3,531.1 183,531.2C182.8,531.3 182.3,529.5 181.8,528.9C181.2,528.3 180.3,528 179.6,527.5C178.9,527 178.2,526.4 177.5,525.9C176.8,525.5 175.9,525.2 175.1,524.9C174.3,524.6 173.6,524 172.7,523.9C171.9,523.7 171,524.1 170.1,524C169.3,523.9 168,523.4 167.6,523.3" fill="none" stroke="#3cc0c0" stroke-width="0.6" stroke-linecap="round"/>
<path d="M342.6,440.7 C345.43,440.28 349.28,440.87 352,441.5 C354.72,442.13 356.9,443.08 358.9,444.5 C360.9,445.92 362.57,447.42 364,450 C365.43,452.58 366.58,455.67 367.5,460 C368.42,464.33 369.03,471 369.5,476 C369.97,481 369.72,486.5 370.3,490 C370.88,493.5 371.9,495 373,497 C374.1,499 376.15,499.83 376.9,502 C377.65,504.17 376.98,507.67 377.5,510 C378.02,512.33 379.28,513.8 380,516 C380.72,518.2 381.8,520.87 381.8,523.2 C381.8,525.53 380.82,528.1 380,530 C379.18,531.9 378.9,533.1 376.9,534.6 C374.9,536.1 371.82,537.5 368,539 C364.18,540.5 359.5,542.77 354,543.6 C348.5,544.43 340.45,544 335,544 C329.55,544 324.72,544.6 321.3,543.6 C317.88,542.6 315.98,540.6 314.5,538 C313.02,535.4 312.72,531.83 312.4,528 C312.08,524.17 312,518.42 312.6,515 C313.2,511.58 314.1,509.27 316,507.5 C317.9,505.73 321.17,504.98 324,504.4 C326.83,503.82 330.45,504 333,504 C335.55,504 338.8,505.07 339.3,504.4 C339.8,503.73 337.55,502.07 336,500 C334.45,497.93 331.35,495.33 330,492 C328.65,488.67 328.25,484.5 327.9,480 C327.55,475.5 327.55,469.67 327.9,465 C328.25,460.33 328.82,455.5 330,452 C331.18,448.5 332.9,445.88 335,444 C337.1,442.12 339.77,441.12 342.6,440.7Z" fill="#d8d8d8" stroke="#9a9a9a" stroke-width="0.7"/>
<path d="M343.36,448.64 C345.79,448.28 349.1,448.78 351.44,449.33 C353.78,449.87 355.65,450.69 357.37,451.91 C359.09,453.13 360.53,454.42 361.76,456.64 C362.99,458.86 363.98,461.51 364.77,465.24 C365.56,468.97 366.09,474.7 366.49,479 C366.89,483.3 366.68,488.03 367.18,491.04 C367.68,494.05 368.55,495.34 369.5,497.06 C370.45,498.78 372.21,499.5 372.85,501.36 C373.5,503.22 372.92,506.23 373.37,508.24 C373.81,510.25 374.9,511.51 375.52,513.4 C376.14,515.29 377.07,517.58 377.07,519.59 C377.07,521.6 376.22,523.8 375.52,525.44 C374.82,527.07 374.57,528.1 372.85,529.39 C371.13,530.68 368.48,531.89 365.2,533.18 C361.92,534.47 357.89,536.42 353.16,537.13 C348.43,537.85 341.51,537.48 336.82,537.48 C332.13,537.48 327.98,537.99 325.04,537.13 C322.1,536.27 320.46,534.55 319.19,532.32 C317.91,530.08 317.66,527.02 317.38,523.72 C317.11,520.42 317.04,515.48 317.56,512.54 C318.07,509.6 318.85,507.61 320.48,506.09 C322.11,504.57 324.92,503.92 327.36,503.42 C329.8,502.92 332.91,503.08 335.1,503.08 C337.29,503.08 340.09,504 340.52,503.42 C340.95,502.85 339.01,501.42 337.68,499.64 C336.35,497.86 333.68,495.63 332.52,492.76 C331.36,489.89 331.01,486.31 330.71,482.44 C330.41,478.57 330.41,473.55 330.71,469.54 C331.01,465.53 331.5,461.37 332.52,458.36 C333.54,455.35 335.01,453.1 336.82,451.48 C338.63,449.86 340.92,449 343.36,448.64Z" fill="#f0f0f0" filter="url(#bl4)"/>
<ellipse cx="345" cy="458.4" rx="13" ry="11" fill="#d4e030" opacity="0.3" filter="url(#bl2)"/>
<ellipse cx="357" cy="485.4" rx="9" ry="12" fill="#d4e030" opacity="0.3" filter="url(#bl2)"/>
<ellipse cx="333" cy="521.4" rx="18" ry="14" fill="#a82020" opacity="0.06" filter="url(#bl2)"/>
<ellipse cx="363" cy="522.4" rx="12" ry="8" fill="#3cc0c0" opacity="0.12" filter="url(#bl2)"/>
<path d="M353.2,450.3C353.4,450.4 354.2,450.8 354.8,451.1C355.3,451.4 355.9,451.6 356.3,452C356.6,452.5 356.9,453.7 356.8,453.8C356.7,453.8 356,452.8 355.5,452.6C355,452.3 354.3,452.2 353.7,452.2C353.1,452.2 352.5,452.3 351.9,452.4C351.3,452.6 350.3,453.1 350.2,453.1C350.2,453 351.1,452.1 351.6,451.9C352.2,451.7 352.9,451.7 353.4,451.9C354,452.1 354.6,452.8 354.8,453 M358.6,454.7C358.4,455 357.8,456.1 357.4,456.1C357,456.1 356.7,455.1 356.3,454.7C356,454.2 355.6,453.7 355.2,453.2C354.9,452.7 354.6,452.2 354.3,451.7C354.1,451.1 354,450.5 353.9,449.9C353.8,449.3 353.8,448.7 353.8,448.1C353.8,447.5 353.7,446.9 354,446.3C354.2,445.8 354.8,445 355.2,445C355.5,445.1 355.8,446.1 356,446.6C356.3,447.1 356.7,447.9 356.9,448.2 M358.7,445.6C358.4,445.4 357.2,444.6 357.2,444.6C357.2,444.6 358.6,445.3 358.6,445.7C358.6,446.1 357.5,446.3 357.2,446.8C356.9,447.3 357.1,448 356.8,448.6C356.6,449.1 356.1,449.5 355.7,449.9C355.2,450.3 354.7,450.6 354.2,450.9C353.6,451.2 353.1,451.6 352.6,451.9C352.1,452.2 351.6,452.5 351,452.6C350.4,452.8 349.2,452.8 349.2,452.7C349.2,452.7 350.7,452.4 350.9,452.3 M348.9,446C348.8,446.3 348.3,447.7 348.3,447.7C348.2,447.7 348.5,446 348.7,445.9C348.9,445.9 349.2,447 349.6,447.5C350,447.9 350.4,448.4 350.9,448.8C351.3,449.1 351.8,449.6 352.4,449.7C352.9,449.8 353.6,449.4 354.2,449.4C354.8,449.4 355.3,449.8 355.9,449.8C356.5,449.9 357.1,449.7 357.7,449.6C358.3,449.6 359.5,449.5 359.5,449.7C359.6,449.8 358.2,450.5 358,450.6 M352.3,452.2C352.1,452.4 351.5,453.1 350.9,453.3C350.4,453.5 349.3,453.8 349.1,453.5C348.9,453.3 349.7,452.4 349.7,451.8C349.8,451.2 349.6,450.6 349.4,450C349.2,449.5 348.4,448.7 348.5,448.5C348.6,448.4 349.7,448.8 350.2,449.2C350.7,449.5 351,450.1 351.4,450.4C351.9,450.8 352.4,451.2 353,451.4C353.5,451.5 354.2,451.5 354.8,451.6C355.3,451.8 356.2,452.2 356.4,452.3 M351.6,450.6C351.4,450.9 350.7,451.6 350.5,452.1C350.3,452.7 350.6,453.8 350.3,453.9C350,454 348.9,453.1 348.9,452.8C349,452.5 350.1,452.6 350.6,452.3C351.2,452.1 351.7,451.6 352.2,451.4C352.8,451.2 353.4,451.2 354,451.1C354.6,451.1 355.2,451.1 355.8,451.3C356.3,451.4 356.8,451.9 357.3,452.2C357.8,452.5 358.8,452.8 358.8,453.1C358.9,453.5 357.7,454.1 357.4,454.3 M356.7,447.8C356.8,448.1 357.3,448.9 357.3,449.5C357.3,450.1 356.7,450.6 356.6,451.2C356.4,451.7 356.2,452.3 356.2,452.9C356.1,453.5 356.4,454.2 356.2,454.7C356,455.3 355.1,456.2 355.2,456.2C355.2,456.2 356,455.3 356.3,454.8C356.7,454.3 357.1,453.9 357.3,453.3C357.4,452.7 357.2,452.1 357.3,451.5C357.4,450.9 357.7,450.3 358.1,449.9C358.4,449.4 359.2,448.9 359.4,448.7 M352.3,453.4C352.2,453.6 351.6,455 351.5,454.9C351.4,454.9 351.4,453.7 351.5,453.1C351.6,452.6 351.9,452 352.2,451.5C352.4,450.9 352.4,450.3 352.7,449.8C353.1,449.3 353.8,449 354,448.5C354.3,448 354.1,447.3 354.2,446.7C354.2,446.1 354.1,445 354.3,444.9C354.6,444.9 355,446 355.5,446.3C356,446.6 356.8,446.3 357.3,446.6C357.8,446.9 358.3,447.7 358.5,447.9 M350.4,447.4C350.7,447.4 351.6,447.1 352.2,447.3C352.7,447.4 353.1,448 353.7,448.2C354.2,448.5 354.9,448.5 355.4,448.8C355.8,449.2 355.9,449.9 356.4,450.3C356.8,450.7 357.5,450.8 358,451.1C358.5,451.4 359.3,452.4 359.3,452.3C359.3,452.3 358.5,451.4 358,451C357.6,450.7 356.9,450.5 356.4,450.4C355.8,450.4 355.2,450.8 354.6,450.8C354,450.8 353.1,450.7 352.8,450.7" fill="none" stroke="#c8701e" stroke-width="0.7" stroke-linecap="round"/>
<path d="M347.31,462.95 Q351.09,461.26 355.37,461.1" fill="none" stroke="#d4e030" stroke-width="0.95" stroke-linecap="round"/>
<path d="M336.92,467.56 Q339.34,464.52 342.37,463.29" fill="none" stroke="#d4e030" stroke-width="0.95" stroke-linecap="round"/>
<path d="M336.83,455.9 Q340.37,453.46 343.76,450.75" fill="none" stroke="#d4e030" stroke-width="0.95" stroke-linecap="round"/>
<path d="M345.91,459.55 Q348.48,457.98 352.16,458.11" fill="none" stroke="#d4e030" stroke-width="0.95" stroke-linecap="round"/>
<path d="M336.2,463.57 Q339.66,462.23 344.48,461.57" fill="none" stroke="#d4e030" stroke-width="0.95" stroke-linecap="round"/>
<path d="M340.13,456.73 Q345.23,455.32 350.5,453.49" fill="none" stroke="#d4e030" stroke-width="0.95" stroke-linecap="round"/>
<path d="M346.23,460.89 Q351.6,456.89 355.05,454.79" fill="none" stroke="#d4e030" stroke-width="0.95" stroke-linecap="round"/>
<path d="M346.38,458.94 Q348.39,457.28 351.71,454.68" fill="none" stroke="#d4e030" stroke-width="0.95" stroke-linecap="round"/>
<path d="M334.31,453.49 Q338.46,451.02 342.62,447.93" fill="none" stroke="#d4e030" stroke-width="0.95" stroke-linecap="round"/>
<path d="M340.44,455.72 Q342.41,452.84 346.22,450.92" fill="none" stroke="#d4e030" stroke-width="0.95" stroke-linecap="round"/>
<path d="M342.2,458.35 Q345.91,456.02 350.36,454.27" fill="none" stroke="#d4e030" stroke-width="0.95" stroke-linecap="round"/>
<path d="M347.54,461.75 Q351.29,459.36 355.21,457.64" fill="none" stroke="#d4e030" stroke-width="0.95" stroke-linecap="round"/>
<path d="M346.95,455.31 Q352.71,453.46 356.94,452.95" fill="none" stroke="#d4e030" stroke-width="0.95" stroke-linecap="round"/>
<path d="M341.26,467.96 Q344.62,465.62 347.08,464.34" fill="none" stroke="#d4e030" stroke-width="0.95" stroke-linecap="round"/>
<path d="M341.99,453.75 Q344.8,453.3 349.22,452.09" fill="none" stroke="#d4e030" stroke-width="0.95" stroke-linecap="round"/>
<path d="M336.29,461.66 Q341.09,459.11 345.84,457.03" fill="none" stroke="#d4e030" stroke-width="0.95" stroke-linecap="round"/>
<path d="M330.69,460.72 Q334.7,458.27 338.18,455.97" fill="none" stroke="#d4e030" stroke-width="0.95" stroke-linecap="round"/>
<path d="M332,460.4 Q337.07,457.92 340.25,456.32" fill="none" stroke="#d4e030" stroke-width="0.95" stroke-linecap="round"/>
<path d="M339.47,452.81 Q343.56,452.35 346.33,450.69" fill="none" stroke="#d4e030" stroke-width="0.95" stroke-linecap="round"/>
<path d="M335.62,466.61 Q339.4,465.74 342.95,463.08" fill="none" stroke="#d4e030" stroke-width="0.95" stroke-linecap="round"/>
<path d="M339.47,460.8 Q343.81,457.8 348.14,455.43" fill="none" stroke="#d4e030" stroke-width="0.95" stroke-linecap="round"/>
<path d="M333.36,455.24 Q339.13,454.68 342.98,452.44" fill="none" stroke="#d4e030" stroke-width="0.95" stroke-linecap="round"/>
<path d="M342.82,464.85 Q348.16,462.51 352.28,461.46" fill="none" stroke="#d4e030" stroke-width="0.95" stroke-linecap="round"/>
<path d="M345.6,458.15 Q349.09,455.28 354.48,452.36" fill="none" stroke="#d4e030" stroke-width="0.95" stroke-linecap="round"/>
<path d="M336.12,465.1 Q341.85,463.36 345.86,461.04" fill="none" stroke="#d4e030" stroke-width="0.95" stroke-linecap="round"/>
<path d="M331.28,464.36 Q336.38,460.7 340,457.79" fill="none" stroke="#d4e030" stroke-width="0.95" stroke-linecap="round"/>
<path d="M332.79,463.23 Q338.22,460.76 343.15,459.78" fill="none" stroke="#d4e030" stroke-width="0.95" stroke-linecap="round"/>
<path d="M343.6,452.63 Q348.92,452.08 353.1,450.04" fill="none" stroke="#d4e030" stroke-width="0.95" stroke-linecap="round"/>
<path d="M341.4,467.07 Q345.1,465.2 349.26,463.92" fill="none" stroke="#d4e030" stroke-width="0.95" stroke-linecap="round"/>
<path d="M331.43,454.04 Q335.15,453.53 338.25,451.91" fill="none" stroke="#d4e030" stroke-width="0.95" stroke-linecap="round"/>
<path d="M344.58,460.55 Q347.11,458.95 350.89,456.75" fill="none" stroke="#d4e030" stroke-width="0.95" stroke-linecap="round"/>
<path d="M343,468.19 Q348.4,465.06 352.15,462.77" fill="none" stroke="#d4e030" stroke-width="0.95" stroke-linecap="round"/>
<path d="M347.86,461.38 Q352.35,459.87 357.5,459.24" fill="none" stroke="#d4e030" stroke-width="0.95" stroke-linecap="round"/>
<path d="M340.43,461.46 Q344.5,458.15 348.43,454.95" fill="none" stroke="#d4e030" stroke-width="0.95" stroke-linecap="round"/>
<path d="M345.02,456.91 Q348.18,454.05 352.37,451.88" fill="none" stroke="#d4e030" stroke-width="0.95" stroke-linecap="round"/>
<path d="M332,453.39 Q336.64,451.51 339.48,449.08" fill="none" stroke="#d4e030" stroke-width="0.95" stroke-linecap="round"/>
<path d="M338.86,459.21 Q343.27,456.15 345.85,454.61" fill="none" stroke="#d4e030" stroke-width="0.95" stroke-linecap="round"/>
<path d="M338.55,462.75 Q343,462.25 346.88,459.99" fill="none" stroke="#d4e030" stroke-width="0.95" stroke-linecap="round"/>
<path d="M346.73,456.71 Q351.78,453.8 356.72,452.13" fill="none" stroke="#d4e030" stroke-width="0.95" stroke-linecap="round"/>
<path d="M345.56,453.87 Q348.65,451.75 352.66,448.75" fill="none" stroke="#d4e030" stroke-width="0.95" stroke-linecap="round"/>
<path d="M347.2,457.6C347.4,457.3 347.6,456.2 347.9,455.6C348.3,454.9 349,453.7 349.3,453.8C349.5,453.9 349.3,455.3 349.4,456C349.5,456.7 349.4,457.5 349.7,458.2C350,458.8 350.7,459.2 351.2,459.8C351.7,460.3 352.5,460.7 352.8,461.3C353.1,461.9 353.1,462.8 353,463.5C352.9,464.2 352.4,465.4 352,465.5C351.6,465.5 351,464.2 350.4,464C349.8,463.7 348.9,463.7 348.2,463.7C347.5,463.8 346.8,464.2 346.1,464.2C345.3,464.3 344.6,464.1 343.9,464.1C343.1,464.1 342.3,463.9 341.7,464.2C341,464.4 340.2,465.2 339.8,465.4 M341.6,461.5C341.5,461.2 341.3,460.1 341.2,459.4C341.2,458.6 341.2,457.9 341.3,457.2C341.4,456.4 341.7,455.7 342,455.1C342.3,454.4 342.6,453.2 343,453.1C343.5,453 344.2,454.1 344.6,454.6C345.1,455.2 345.2,456 345.7,456.5C346.2,457 346.9,457.5 347.6,457.6C348.3,457.7 349.1,457.4 349.8,457.3C350.5,457.1 351.6,456.5 351.9,456.8C352.3,457.1 351.7,458.4 351.9,459C352.1,459.7 353.3,460.6 353.2,460.8C353,461.1 351.7,460.6 351,460.5C350.3,460.4 349.5,460.1 348.8,460.2C348.1,460.4 347.2,461.1 346.9,461.3 M351.5,465.8C351.1,465.8 350,465.6 349.3,465.7C348.6,465.7 347.8,466.3 347.1,466.2C346.5,466.1 345.9,465.3 345.2,465.1C344.5,465 343.7,465.1 343,465.3C342.3,465.5 341.6,465.7 341,466.1C340.4,466.5 339.4,467.7 339.4,467.6C339.4,467.6 340.4,466.5 340.8,466C341.3,465.4 341.8,464.9 342.3,464.3C342.7,463.7 343.1,463.1 343.5,462.5C343.9,461.8 344,461 344.4,460.5C344.9,459.9 345.8,459.8 346.3,459.3C346.8,458.8 347.1,458 347.6,457.6C348.2,457.1 348.9,456.8 349.6,456.5C350.2,456.3 351.4,456.2 351.7,456.2 M342,458.3C341.7,458.5 340.7,458.9 340.1,459.3C339.5,459.8 339,460.4 338.5,460.8C337.9,461.3 337.2,461.6 336.6,462C336,462.4 335.2,463.5 334.9,463.4C334.6,463.3 334.7,461.9 334.8,461.2C334.9,460.5 335.3,459.8 335.6,459.1C335.8,458.5 336,457.7 336.2,457C336.4,456.3 336.4,455.5 336.8,454.9C337.2,454.3 337.9,453.9 338.4,453.4C338.9,452.9 339.7,451.7 339.9,451.8C340.2,451.9 340.2,453.3 340,454C339.9,454.7 339.4,455.5 338.9,455.9C338.4,456.3 337.5,456.5 336.8,456.6C336.1,456.7 335,456.4 334.6,456.3 M341.2,463C341,462.7 340.5,461.7 340.4,461C340.2,460.3 340.1,459.4 340.3,458.8C340.5,458.1 341.1,457.5 341.6,457C342.2,456.5 342.7,456 343.3,455.6C344,455.2 344.7,455 345.3,454.7C346,454.3 347.1,453.5 347.2,453.6C347.3,453.7 346.2,454.7 345.9,455.3C345.6,456 345.7,456.8 345.4,457.5C345.1,458.1 344.6,458.7 344.1,459.2C343.7,459.8 343.3,460.6 342.7,460.9C342.1,461.3 341.2,461.1 340.5,461.3C339.8,461.5 339.2,462 338.5,462.1C337.8,462.3 336.9,462 336.3,462.3C335.7,462.6 335,463.6 334.8,463.9 M341.4,464.5C341.3,464.8 340.9,465.9 340.9,466.6C340.9,467.3 341.6,468.6 341.3,468.8C341.1,468.9 339.9,468.1 339.5,467.5C339.1,467 339.3,466 339,465.4C338.7,464.8 337.9,464.3 337.6,463.7C337.4,463 337.8,462.1 337.5,461.5C337.2,460.9 336.5,460.4 336,459.8C335.6,459.3 335,458.7 334.8,458C334.5,457.4 334.5,455.9 334.5,455.8C334.6,455.8 334.8,457.3 335.1,458C335.3,458.7 335.7,459.3 335.9,460C336.2,460.7 336.4,461.4 336.5,462.1C336.6,462.8 336.6,463.6 336.4,464.3C336.2,465 335.6,466 335.5,466.3" fill="none" stroke="#9aa81a" stroke-width="0.45" stroke-linecap="round"/>
<path d="M339.1,469.1C339,469.3 338.8,470.1 338.6,470.6C338.4,471.1 338.1,472.1 338,472.1C337.8,472 337.6,471 337.7,470.5C337.8,470 338.4,469.6 338.6,469.1C338.7,468.6 338.5,468 338.6,467.5C338.8,467 339.2,466.6 339.3,466.1C339.5,465.6 339.6,464.5 339.7,464.5C339.7,464.5 339.8,465.9 339.8,466.1 M340.8,466.5C340.6,466.4 339.9,466 339.4,465.8C338.9,465.5 338.5,465.2 338,465.1C337.5,465 336.9,465.2 336.4,465.1C335.8,465.1 334.8,464.9 334.8,464.9C334.8,464.9 335.9,464.9 336.4,465.1C336.9,465.2 337.4,465.5 337.9,465.6C338.4,465.7 339,465.5 339.5,465.7C340,465.8 340.6,466.3 340.9,466.4 M336.3,465.4C336.1,465.2 335,464.6 335,464.5C335.1,464.3 336.1,464.3 336.6,464.5C337.1,464.7 337.4,465.2 337.8,465.6C338.1,466 338.6,466.4 338.8,466.8C339,467.3 338.8,467.9 338.9,468.4C338.9,468.9 339.2,469.5 339.2,470C339.3,470.5 339.3,471.4 339,471.6C338.7,471.7 337.8,471 337.6,470.9 M335.3,470C335.3,469.8 335.5,469 335.5,468.4C335.5,467.9 335.5,467.4 335.4,466.8C335.3,466.3 334.6,465.5 334.8,465.4C334.9,465.2 335.8,465.7 336.3,465.9C336.8,466.1 337.3,466.5 337.8,466.5C338.3,466.5 338.8,466.2 339.3,466C339.8,465.8 340.6,465.1 340.7,465.2C340.7,465.3 339.8,466.2 339.7,466.4 M334,466.8C334.3,466.8 335.1,466.7 335.6,466.6C336.1,466.4 336.6,466.1 337,465.8C337.4,465.4 337.5,464.4 337.8,464.4C338.1,464.4 338.4,465.4 338.8,465.7C339.2,466 339.9,465.9 340.3,466.2C340.8,466.4 341.5,467.2 341.5,467.3C341.4,467.3 340.6,466.7 340.1,466.5C339.6,466.4 338.7,466.4 338.5,466.3 M336.9,470.1C337.1,470.2 337.9,470.6 338.2,471C338.5,471.4 338.9,472.3 338.8,472.5C338.6,472.7 337.7,472.5 337.2,472.3C336.7,472.2 336.2,471.9 335.7,471.6C335.3,471.3 335,470.9 334.5,470.6C334.1,470.3 333.5,470.2 333.1,469.8C332.8,469.4 332.2,468.6 332.4,468.4C332.5,468.2 333.7,468.4 334,468.4" fill="none" stroke="#c8701e" stroke-width="0.6" stroke-linecap="round"/>
<path d="M339.7,481.6C339.4,481.6 338.4,481.5 337.7,481.4C337,481.3 336.4,481.2 335.7,481C335.1,480.8 333.9,480.2 333.9,480.3C333.9,480.3 335,481 335.7,481.2C336.3,481.3 337,481.4 337.7,481.3C338.3,481.2 338.9,480.8 339.5,480.6C340.2,480.4 340.9,480.5 341.5,480.2C342.1,480 342.4,479.2 343,478.9C343.6,478.7 344.9,478.7 345,478.9C345.1,479.2 344.1,479.9 343.7,480.5C343.3,481 342.9,481.5 342.6,482.1C342.2,482.7 341.8,483.6 341.6,483.9 M343.9,493.9C343.6,493.7 342.8,493 342.3,492.7C341.7,492.4 341,492.3 340.4,491.9C339.9,491.6 339.5,490.9 338.9,490.6C338.3,490.3 337.5,490.4 337,490.1C336.5,489.7 336,489.1 335.7,488.5C335.4,488 335.6,487.2 335.4,486.6C335.2,486 334.2,485.1 334.3,484.9C334.5,484.7 335.6,485.2 336.3,485.2C336.9,485.2 337.6,484.8 338.2,484.8C338.9,484.7 339.6,485.1 340.2,485C340.8,484.8 341.3,484.1 341.9,483.9C342.5,483.6 343.5,483.4 343.8,483.3 M334.8,492.4C335.1,492.3 336.2,492.2 336.7,491.9C337.3,491.6 337.8,491 338.1,490.4C338.3,489.8 338.2,489.1 338.2,488.4C338.1,487.8 337.7,487.1 337.8,486.4C338,485.8 338.5,485.3 338.9,484.7C339.3,484.2 339.6,483.6 340.2,483.2C340.7,482.9 341.6,483 342.1,482.6C342.6,482.2 343,481.5 343.2,480.9C343.4,480.3 343.4,479.5 343.2,478.9C343,478.3 342.2,478 341.9,477.4C341.5,476.9 341.4,476.1 341,475.6C340.6,475.1 339.7,474.6 339.4,474.4 M337.3,488.8C337.1,488.5 336.5,487.7 336.2,487.2C335.8,486.6 335.4,486 334.9,485.6C334.4,485.1 333.2,484.6 333.3,484.5C333.3,484.3 334.6,484.6 335.3,484.6C335.9,484.5 336.6,484.4 337.2,484.3C337.9,484.1 338.6,483.9 339.1,483.6C339.7,483.2 340.2,482.7 340.6,482.2C341,481.7 341.4,481.1 341.6,480.5C341.8,479.8 342,479.1 341.9,478.5C341.8,477.9 341.2,477.3 340.8,476.8C340.4,476.3 339.8,476 339.3,475.5C338.8,475 338.2,474.2 338,474 M337.2,477.5C337.4,477.2 337.9,476.4 338.3,475.8C338.7,475.2 339.1,474.1 339.4,474.1C339.7,474.2 340,475.4 340.1,476C340.1,476.7 339.8,477.4 339.6,478C339.3,478.6 338.8,479.1 338.4,479.6C338,480.1 337.5,480.6 336.9,481C336.4,481.4 335.8,481.7 335.2,482C334.6,482.2 333.4,482.6 333.3,482.4C333.2,482.2 334.2,481.4 334.6,480.9C335,480.4 335.3,479.8 335.7,479.2C336,478.6 336.2,478 336.5,477.4C336.7,476.8 337.2,475.9 337.3,475.6 M339.6,486C339.4,485.8 338.4,485.3 338,484.8C337.6,484.3 337.7,483.5 337.4,482.9C337,482.4 336.5,481.7 336,481.5C335.4,481.2 334.1,481.5 334,481.3C333.9,481 335.1,480.4 335.3,479.8C335.6,479.2 335.3,478.4 335.4,477.8C335.6,477.2 336,476.6 336.4,476C336.7,475.5 337.3,474.4 337.6,474.4C337.9,474.5 337.8,475.8 338.2,476.4C338.5,476.9 339.2,477.3 339.5,477.8C339.8,478.4 339.9,479.1 339.9,479.8C339.9,480.4 339.4,481.4 339.3,481.7 M342.2,489.3C342.2,489 342.1,488 342,487.3C341.9,486.7 341.6,486 341.5,485.4C341.3,484.7 341.1,484.1 341.1,483.4C341.2,482.8 341.5,482 341.9,481.6C342.3,481.1 343.1,480.8 343.7,480.7C344.3,480.6 345.7,481 345.7,481.1C345.7,481.1 344.3,480.8 343.7,481C343.1,481.1 342.5,481.6 342,482.1C341.5,482.5 341.4,483.3 340.8,483.7C340.3,484.1 339.6,484 338.9,484.2C338.3,484.3 337.6,484.4 336.9,484.6C336.3,484.7 335.3,484.8 335,484.9 M337.7,492.8C337.5,492.5 337,491.6 336.4,491.3C335.9,491 334.5,490.9 334.4,490.9C334.4,490.9 335.7,491.5 336.3,491.5C337,491.5 337.7,491.1 338.2,490.7C338.7,490.3 339,489.7 339.4,489.1C339.7,488.5 339.9,487.9 340.2,487.3C340.6,486.7 341.3,486.3 341.5,485.7C341.7,485.1 341.6,484.4 341.7,483.7C341.8,483.1 341.7,482.3 342,481.8C342.3,481.2 343.1,480.9 343.5,480.4C344,480 344.8,478.9 344.9,479C344.9,479 344.1,480.4 343.9,480.7 M341.1,487.1C341.3,487.4 342,488.2 342.1,488.8C342.3,489.4 342.1,490.1 342,490.8C341.9,491.4 341.4,492 341.3,492.7C341.3,493.3 341.5,494 341.5,494.7C341.6,495.3 342.1,496.6 341.9,496.6C341.7,496.7 341.1,495.6 340.6,495.2C340,494.7 339.4,494.5 338.9,494.1C338.4,493.7 337.8,493.3 337.4,492.8C336.9,492.3 336.6,491.5 336.1,491.2C335.6,490.9 334.3,491.2 334.1,490.9C334,490.6 334.9,489.8 335.4,489.3C335.9,488.9 336.8,488.3 337,488.1 M336.6,476.7C336.8,476.9 337.8,477.5 338,478.1C338.3,478.6 338.2,479.4 338.3,480.1C338.3,480.7 338.1,481.5 338.3,482.1C338.5,482.7 339.2,483.1 339.5,483.7C339.8,484.3 339.9,485 340.3,485.5C340.7,486 341.4,486.4 341.7,486.9C342.1,487.5 342.2,488.2 342.3,488.8C342.4,489.5 342.4,490.2 342.3,490.8C342.1,491.5 341.5,492 341.4,492.7C341.4,493.3 342.2,494.3 341.9,494.6C341.7,494.9 340.6,494.8 339.9,494.6C339.3,494.5 338.4,493.9 338.1,493.8 M335.7,479.3C336,479.2 337,478.9 337.6,478.7C338.3,478.5 338.9,478 339.5,478C340.1,478 340.7,478.5 341.4,478.6C342,478.8 342.7,478.8 343.4,478.8C344,478.7 345.3,478.1 345.3,478.2C345.3,478.2 344,478.6 343.5,479C343,479.4 342.7,480.1 342.3,480.6C341.8,481.1 341.3,481.5 340.7,481.9C340.2,482.3 339.6,482.8 339,482.9C338.4,483 337.6,482.5 337,482.7C336.4,482.8 335.9,483.4 335.3,483.7C334.8,484.1 333.8,484.5 333.5,484.6 M338.6,492C338.5,492.3 338,493.2 337.9,493.9C337.9,494.5 338.4,495.8 338.2,495.9C338,496 337.1,495 336.8,494.4C336.6,493.9 336.9,493.1 336.7,492.4C336.5,491.8 336.2,491.2 335.8,490.6C335.4,490.1 334.7,489.8 334.4,489.2C334.1,488.7 334.1,487.9 334.1,487.3C334,486.6 334.4,485.9 334.2,485.3C334.1,484.7 333,483.9 333.2,483.6C333.4,483.3 334.6,483.6 335.2,483.4C335.8,483.2 336.4,482.9 337,482.5C337.5,482.1 338.1,481.3 338.4,481.1 M344.1,489.5C344.4,489.5 346.1,489.6 346.1,489.7C346.1,489.9 344.8,490.1 344.2,490.4C343.6,490.6 343,491.1 342.4,491.3C341.8,491.5 341.1,491.5 340.4,491.6C339.8,491.7 339,491.6 338.5,491.9C337.9,492.2 337.6,492.9 337.1,493.4C336.7,493.9 336,495 335.8,494.9C335.5,494.8 335.7,493.6 335.6,492.9C335.6,492.2 335.8,491.5 335.6,490.9C335.4,490.3 334.2,489.8 334.3,489.4C334.4,489 335.5,488.5 336.1,488.5C336.7,488.4 337.7,488.9 338,489 M338.5,481.9C338.6,482.2 339.3,483.1 339.4,483.7C339.5,484.3 339.1,485 339.2,485.7C339.3,486.3 339.7,486.9 339.9,487.5C340.1,488.2 340.3,488.8 340.6,489.4C340.8,490 341.2,490.6 341.3,491.3C341.4,491.9 341.3,492.6 341.2,493.3C341.1,494 341.2,495.2 340.9,495.3C340.6,495.4 340,494.3 339.4,494C338.8,493.7 338,493.8 337.4,493.6C336.8,493.3 335.8,492.9 335.7,492.5C335.7,492.1 336.7,491.5 337.3,491.2C337.9,490.9 338.9,490.9 339.2,490.9" fill="none" stroke="#a05a18" stroke-width="0.65" stroke-linecap="round"/>
<path d="M346.84,482.78 Q349.77,478.93 352.23,474.09" fill="none" stroke="#d4e030" stroke-width="0.95" stroke-linecap="round"/>
<path d="M359.46,493.43 Q360.47,487.99 362.9,483.91" fill="none" stroke="#d4e030" stroke-width="0.95" stroke-linecap="round"/>
<path d="M346.88,478.21 Q348.77,474.44 352.32,472.48" fill="none" stroke="#d4e030" stroke-width="0.95" stroke-linecap="round"/>
<path d="M360.37,488.55 Q361.77,485.92 364.72,484.15" fill="none" stroke="#d4e030" stroke-width="0.95" stroke-linecap="round"/>
<path d="M350.18,481.15 Q351.39,476.29 353.94,472.75" fill="none" stroke="#d4e030" stroke-width="0.95" stroke-linecap="round"/>
<path d="M355.87,486.09 Q357.58,481.79 359.27,477.93" fill="none" stroke="#d4e030" stroke-width="0.95" stroke-linecap="round"/>
<path d="M354.54,478.38 Q356.26,474.58 358.64,472.75" fill="none" stroke="#d4e030" stroke-width="0.95" stroke-linecap="round"/>
<path d="M361.05,489.87 Q364.08,485.35 365.36,482.3" fill="none" stroke="#d4e030" stroke-width="0.95" stroke-linecap="round"/>
<path d="M352.82,492.56 Q355.95,487.48 357.45,484.23" fill="none" stroke="#d4e030" stroke-width="0.95" stroke-linecap="round"/>
<path d="M350.37,484.23 Q353.95,481.27 356.73,476.61" fill="none" stroke="#d4e030" stroke-width="0.95" stroke-linecap="round"/>
<path d="M348.63,485.96 Q351.2,483.31 355.31,478.75" fill="none" stroke="#d4e030" stroke-width="0.95" stroke-linecap="round"/>
<path d="M358.68,495.38 Q361.77,492.22 363.02,487.47" fill="none" stroke="#d4e030" stroke-width="0.95" stroke-linecap="round"/>
<path d="M354.51,495.36 Q358.55,492.81 361.96,488.41" fill="none" stroke="#d4e030" stroke-width="0.95" stroke-linecap="round"/>
<path d="M349.41,485.29 Q351.86,481.68 353.19,479.81" fill="none" stroke="#d4e030" stroke-width="0.95" stroke-linecap="round"/>
<path d="M356.97,484.17 Q358.44,480.07 361.15,476.17" fill="none" stroke="#d4e030" stroke-width="0.95" stroke-linecap="round"/>
<path d="M361.01,497.27 Q363.1,493.13 364.43,490.23" fill="none" stroke="#d4e030" stroke-width="0.95" stroke-linecap="round"/>
<path d="M360.42,481.79 Q361.59,477.62 364.76,475.44" fill="none" stroke="#d4e030" stroke-width="0.95" stroke-linecap="round"/>
<path d="M346.61,486.01 Q349.31,480.23 351.46,476.19" fill="none" stroke="#d4e030" stroke-width="0.95" stroke-linecap="round"/>
<path d="M357.9,483.33 Q361.17,480.13 363.02,475.19" fill="none" stroke="#d4e030" stroke-width="0.95" stroke-linecap="round"/>
<path d="M353.86,484.18 Q356.22,480.83 357.61,477.62" fill="none" stroke="#d4e030" stroke-width="0.95" stroke-linecap="round"/>
<path d="M356.43,481.82 Q359.37,477.95 363.51,473.62" fill="none" stroke="#d4e030" stroke-width="0.95" stroke-linecap="round"/>
<path d="M349.85,478.47 Q352.05,475.62 353.33,472.49" fill="none" stroke="#d4e030" stroke-width="0.95" stroke-linecap="round"/>
<path d="M358.68,496.43 Q358.86,493.3 360.91,490.34" fill="none" stroke="#d4e030" stroke-width="0.95" stroke-linecap="round"/>
<path d="M359.31,492.19 Q361.94,487.15 365.07,483.67" fill="none" stroke="#d4e030" stroke-width="0.95" stroke-linecap="round"/>
<path d="M357.97,478.08 Q358.59,474.42 360.56,472.5" fill="none" stroke="#d4e030" stroke-width="0.95" stroke-linecap="round"/>
<path d="M354.55,481.37 Q357.19,476.5 360.46,473.15" fill="none" stroke="#d4e030" stroke-width="0.95" stroke-linecap="round"/>
<path d="M356.71,491.96 Q359.9,489.51 362.77,485.62" fill="none" stroke="#d4e030" stroke-width="0.95" stroke-linecap="round"/>
<path d="M357.62,497.93 Q360.1,493.45 362.05,489.1" fill="none" stroke="#d4e030" stroke-width="0.95" stroke-linecap="round"/>
<path d="M347.2,488 Q349.19,483.97 351.14,479.9" fill="none" stroke="#d4e030" stroke-width="0.95" stroke-linecap="round"/>
<path d="M347.19,481.14 Q350.92,477.91 352.69,473.51" fill="none" stroke="#d4e030" stroke-width="0.95" stroke-linecap="round"/>
<path d="M350.92,487.76 Q353.43,484.39 356.36,479.34" fill="none" stroke="#d4e030" stroke-width="0.95" stroke-linecap="round"/>
<path d="M354.67,485.74 Q357.74,481.53 358.81,479.14" fill="none" stroke="#d4e030" stroke-width="0.95" stroke-linecap="round"/>
<path d="M353.32,478.99 Q354.69,476.17 357.46,473.66" fill="none" stroke="#d4e030" stroke-width="0.95" stroke-linecap="round"/>
<path d="M356.7,492.66 Q358.37,490.24 360.56,486.26" fill="none" stroke="#d4e030" stroke-width="0.95" stroke-linecap="round"/>
<path d="M352.6,475.3C352.5,475.6 352.1,476.7 352.2,477.4C352.2,478.1 352.5,478.9 352.9,479.5C353.3,480.1 354.3,480.3 354.7,480.9C355.1,481.4 355.2,482.2 355.3,482.9C355.4,483.7 355,484.5 355.2,485.1C355.4,485.8 356.1,486.3 356.4,487C356.8,487.6 356.8,488.4 357.1,489.1C357.5,489.7 358.1,490.1 358.7,490.6C359.2,491.2 360.4,492 360.3,492.1C360.2,492.3 358.9,491.5 358.2,491.6C357.5,491.6 356.8,492.4 356.2,492.4C355.5,492.5 354.7,492 354,491.9C353.3,491.8 352,492.3 351.8,491.9C351.6,491.6 352.5,490.2 352.7,489.9 M361.3,477.1C361.6,477.3 363.3,477.8 363.3,478.1C363.2,478.3 361.8,478.6 361.1,478.5C360.4,478.5 359.7,478.1 359.1,477.7C358.5,477.3 358.2,476.5 357.6,476.1C357,475.7 356.2,475.3 355.5,475.3C354.8,475.2 354.1,475.7 353.4,475.9C352.7,476.1 351.4,476.4 351.3,476.2C351.1,476 352.5,474.5 352.8,474.6C353.1,474.7 353.2,476.1 353.1,476.8C353,477.5 352.3,478.1 352.2,478.8C352,479.5 352.2,480.2 352.1,481C352,481.7 351.6,482.4 351.6,483.1C351.7,483.8 352.4,484.4 352.5,485.1C352.6,485.8 352.1,486.9 352,487.3 M363.9,486.6C363.6,486.9 362.9,487.8 362.3,488.2C361.7,488.5 360.9,488.6 360.2,488.6C359.4,488.6 358.7,488 358,488C357.3,488.1 356.7,488.6 356,489C355.4,489.3 354.6,489.4 354,489.9C353.5,490.3 353,491.7 352.8,491.7C352.6,491.6 352.6,490.1 352.9,489.5C353.1,488.8 353.7,488.2 354.3,487.8C354.9,487.4 355.8,487.5 356.4,487.2C357.1,486.8 357.6,486.2 358.1,485.8C358.7,485.3 359.4,485 360,484.5C360.5,484 361.1,483.5 361.4,482.8C361.7,482.2 361.5,481.4 361.8,480.7C362.1,480 362.8,479.1 363,478.8 M361,481.3C360.6,481.4 359.5,481.8 358.8,481.8C358.1,481.8 357.4,481.6 356.6,481.5C355.9,481.4 355.1,481.2 354.4,481.3C353.8,481.5 353,481.9 352.5,482.4C352,482.9 351.7,483.6 351.5,484.3C351.3,485 351.7,485.8 351.6,486.5C351.4,487.2 350.9,487.8 350.6,488.5C350.2,489.1 349.7,490.5 349.6,490.5C349.4,490.4 349.7,489 349.7,488.3C349.7,487.5 349.5,486.8 349.4,486.1C349.2,485.4 348.4,484.3 348.6,484C348.8,483.7 350.2,484 350.8,484.3C351.4,484.6 351.8,485.3 352.3,485.9C352.8,486.4 353.3,487.4 353.5,487.7 M351.3,488.2C351.1,487.9 350.2,487.2 349.8,486.6C349.4,486 349.2,485.3 348.9,484.6C348.7,483.9 348.4,483.1 348.5,482.4C348.5,481.7 348.8,480.9 349.2,480.4C349.7,479.8 350.5,479.7 351.1,479.3C351.7,478.9 352.2,478.3 352.9,477.9C353.5,477.6 354.2,477.4 354.9,477C355.5,476.6 356.1,476.2 356.6,475.7C357.2,475.2 358,474.1 358.2,474.2C358.5,474.3 358.3,475.7 358.3,476.4C358.2,477.1 357.9,477.8 357.8,478.6C357.8,479.3 357.8,480 357.9,480.8C358,481.5 358.4,482.2 358.4,482.9C358.4,483.6 357.9,484.7 357.8,485" fill="none" stroke="#9aa81a" stroke-width="0.45" stroke-linecap="round"/>
<path d="M350.5,500.2C350.7,499.9 351.3,498.2 351.4,498.2C351.6,498.2 351.7,500.2 351.4,500.4C351.1,500.6 350.2,499.5 349.6,499.2C348.9,498.9 348.2,498.6 347.5,498.6C346.8,498.6 346.1,499.2 345.4,499.2C344.7,499.3 343.2,498.9 343.2,498.9C343.2,498.9 344.7,499.2 345.4,499.2C346.1,499.2 346.8,499.1 347.6,498.9C348.3,498.7 349.1,498.6 349.6,498.2C350.2,497.8 350.7,497.1 351,496.5C351.3,495.8 351.1,494.3 351.3,494.3C351.4,494.3 351.9,495.7 351.9,496.4C351.9,497.1 351.3,497.8 351.3,498.5C351.3,499.2 351.9,500.2 352,500.6 M345.9,501C345.8,501.4 345.3,503.1 345,503.1C344.7,503.1 344.4,501.7 344.1,501.1C343.8,500.4 342.9,499.4 343.1,499.1C343.3,498.8 344.6,499.2 345.3,499.1C346,499.1 346.7,498.8 347.4,498.5C348.1,498.3 348.8,498 349.4,497.6C350,497.3 351,496.1 351.1,496.2C351.1,496.2 350,497.4 349.9,498C349.8,498.7 350.2,499.5 350.3,500.2C350.3,500.9 350.2,502.4 350.1,502.4C350.1,502.4 350.1,500.9 349.9,500.2C349.7,499.5 349.5,498.8 349,498.2C348.6,497.6 348,497 347.4,496.7C346.8,496.4 345.6,496.5 345.2,496.4 M344.4,501.4C344.7,501.1 345.5,500.4 346.1,499.9C346.6,499.5 347.1,498.9 347.6,498.4C348.2,497.9 348.9,497.6 349.4,497.1C349.9,496.6 350.3,495.4 350.8,495.4C351.2,495.4 352.3,496.9 352.1,497.1C352,497.4 350.7,496.8 350,496.8C349.2,496.7 348.4,497.1 347.8,496.9C347.1,496.7 346,495.8 346,495.5C346.1,495.2 347.5,495 348.2,495.1C348.9,495.2 349.6,495.6 350.2,496.1C350.7,496.6 351,497.3 351.3,497.9C351.7,498.6 352.5,499.6 352.3,499.9C352.1,500.3 350.8,500.2 350.1,500.1C349.4,500 348.4,499.4 348.1,499.3 M344.5,499C344.9,499 346,499 346.7,499C347.4,498.9 348.2,499 348.9,498.7C349.6,498.4 350,497.5 350.6,497.4C351.3,497.2 352.8,497.4 352.8,497.6C352.9,497.7 351.5,498.4 350.8,498.5C350.1,498.5 349.3,498.4 348.7,498.1C348.1,497.7 347.6,497 347.2,496.4C346.9,495.8 346.4,494.4 346.5,494.3C346.6,494.3 347.5,495.4 348,496C348.5,496.5 349.2,496.9 349.5,497.5C349.9,498.1 350.1,498.9 350.3,499.6C350.5,500.3 350.9,501.5 350.5,501.8C350.2,502 349.2,501.3 348.5,501.1C347.8,500.8 346.8,500.4 346.4,500.3 M347.3,498.6C347.3,498.2 347.3,497.1 347.4,496.4C347.5,495.6 347.7,494.2 347.7,494.2C347.8,494.2 348,495.7 347.8,496.4C347.7,497.1 347,497.7 346.9,498.4C346.8,499.1 346.9,499.9 347.2,500.5C347.5,501.2 348,501.9 348.6,502.2C349.2,502.6 350.6,502.3 350.8,502.7C350.9,503 349.5,504.4 349.5,504.4C349.5,504.5 350.5,503.4 350.9,502.7C351.3,502.1 351.5,501.4 351.7,500.7C352,500 352.2,498.6 352.4,498.6C352.7,498.6 353.4,500.6 353.2,500.7C353.1,500.8 352.1,499.7 351.5,499.3C350.9,499 349.8,498.7 349.4,498.6" fill="none" stroke="#a05a18" stroke-width="0.55" stroke-linecap="round"/>
<path d="M342.9,516.5C343.4,516.3 345.1,516 345.7,515.3C346.3,514.6 346.1,513.4 346.4,512.4C346.7,511.4 346.8,509.8 347.4,509.6C348,509.3 349.4,510.4 350,511.1C350.6,511.8 351.3,513.4 351,513.9C350.6,514.5 348.9,514.1 348,514.4C347.1,514.8 346.4,515.8 345.5,516.1C344.6,516.4 343.5,516.4 342.5,516.4C341.5,516.4 340.5,516.4 339.5,516.2C338.6,516 337.7,515.5 336.7,515.2C335.8,514.9 334.8,514.8 333.8,514.6C332.8,514.3 331.8,513.8 330.9,513.8C329.9,513.9 328.9,514.4 328,514.7C327,515 326,515.2 325.2,515.8C324.4,516.3 323.9,517.3 323.1,517.9C322.3,518.5 320.9,519.1 320.4,519.3 M319,510.9C319.1,511.4 319.6,512.8 319.8,513.8C320,514.8 319.6,516 320.1,516.8C320.6,517.6 322.2,517.6 322.7,518.4C323.2,519.1 323.3,520.4 323.1,521.3C323,522.3 322.1,523.1 321.8,524C321.4,525 321,526 321,526.9C321.1,527.9 322,528.8 322.1,529.7C322.2,530.7 321.4,532.6 321.5,532.7C321.6,532.7 322.6,530.9 322.8,530C322.9,529 322.3,528 322.4,527C322.5,526 322.8,524.9 323.3,524.1C323.9,523.4 324.8,522.5 325.7,522.3C326.6,522 327.7,522.8 328.7,522.6C329.6,522.5 330.7,522.1 331.4,521.5C332.1,520.8 332.7,519.7 332.8,518.8C333,517.9 332.5,516.3 332.5,515.8 M323.4,533C323.8,532.7 325.3,532 325.9,531.2C326.4,530.5 326.6,529.3 326.7,528.4C326.9,527.4 327,526.3 326.8,525.4C326.6,524.4 325.8,523.6 325.5,522.7C325.2,521.7 324.9,520.7 325,519.7C325,518.7 325.2,517.6 325.6,516.8C326,515.9 327,515.3 327.6,514.5C328.2,513.7 328.7,512.9 329.3,512C329.8,511.2 330.3,510.3 330.8,509.4C331.3,508.6 331.7,506.7 332.1,506.8C332.5,506.8 332.9,508.6 333.3,509.5C333.7,510.4 334.4,511.3 334.7,512.2C335,513.1 335.1,514.2 335.1,515.2C335,516.1 334.5,517.1 334.4,518.1C334.3,519.1 334.6,520.1 334.6,521.1C334.6,522.1 334.5,523.6 334.5,524.1 M320.3,508.3C320,508.7 318.8,509.8 318.6,510.7C318.4,511.6 318.8,512.9 319.3,513.6C319.8,514.4 321,514.8 321.8,515.3C322.7,515.8 323.9,515.9 324.5,516.6C325.1,517.3 325.5,518.5 325.5,519.4C325.5,520.4 324.5,521.4 324.7,522.3C324.8,523.2 325.6,524.1 326.3,524.8C326.9,525.6 327.8,526.2 328.6,526.7C329.5,527.2 330.4,527.7 331.3,528C332.3,528.2 333.4,528.5 334.3,528.3C335.2,528.1 336,527.1 336.9,526.7C337.8,526.2 338.7,525.6 339.6,525.5C340.6,525.5 341.6,526.1 342.6,526.2C343.6,526.3 344.7,526.5 345.6,526.2C346.5,525.9 347.5,525.3 348.1,524.6C348.6,523.8 348.8,522.2 348.9,521.7 M315.7,529.1C315.5,528.6 314.8,527.2 314.7,526.2C314.6,525.3 315.4,524.2 315.2,523.3C315,522.4 313.4,521.3 313.6,520.8C313.8,520.3 315.6,520.5 316.5,520.2C317.5,519.9 318.2,519 319.1,518.7C320.1,518.4 321.2,518.4 322.1,518.6C323.1,518.8 323.9,519.5 324.9,519.7C325.9,519.9 326.9,519.8 327.9,519.8C328.9,519.8 329.9,519.9 330.9,519.7C331.9,519.5 332.8,519.1 333.7,518.7C334.7,518.4 335.6,517.8 336.6,517.7C337.5,517.6 338.5,518.2 339.5,518.2C340.5,518.1 341.4,517.4 342.4,517.4C343.4,517.4 344.5,517.7 345.3,518.2C346,518.8 346.4,519.9 346.8,520.8C347.2,521.8 347.6,523.2 347.8,523.7 M349.4,534.1C349.3,533.6 349.2,532 348.7,531.1C348.2,530.3 347,529.9 346.6,529C346.1,528.2 346.4,526.9 345.9,526.1C345.4,525.3 344.4,524.7 343.5,524.2C342.6,523.8 341.6,523.6 340.7,523.4C339.7,523.1 338.6,523.2 337.7,522.8C336.9,522.3 336.2,521.4 335.7,520.6C335.1,519.8 335,518.6 334.4,517.9C333.8,517.1 332.5,516.9 331.9,516.2C331.4,515.4 331.1,514.2 331.2,513.3C331.2,512.3 331.9,511.4 332.4,510.5C332.8,509.6 333.6,508.7 333.6,507.8C333.6,506.8 332.2,505.4 332.5,505C332.8,504.6 335.3,505 335.4,505.5C335.6,505.9 334,506.9 333.4,507.7C332.8,508.5 332,509.8 331.7,510.2 M348.8,524.1C348.6,523.7 348.3,522.1 347.8,521.3C347.3,520.5 346.2,520 345.7,519.2C345.1,518.4 345.1,517.3 344.6,516.4C344.1,515.6 343.5,514.7 342.7,514.1C342,513.5 340.9,512.9 340,512.8C339.1,512.8 337.8,513.3 337.2,513.9C336.5,514.6 336.4,515.7 336,516.7C335.7,517.6 335.6,518.7 335.3,519.6C335.1,520.6 334.6,521.5 334.4,522.5C334.2,523.4 334.2,524.5 334,525.4C333.8,526.4 333.3,527.4 333.2,528.3C333.2,529.3 333.1,530.5 333.6,531.3C334.1,532.1 335.4,532.3 336.1,533C336.8,533.6 337.3,534.6 338,535.3C338.7,536 340.6,536.7 340.5,537C340.4,537.3 338,537.1 337.5,537.1 M328.6,514.8C329.1,514.7 330.7,514.8 331.6,514.6C332.6,514.4 333.7,514.1 334.4,513.4C335.1,512.8 335.7,511.7 335.8,510.8C335.8,509.9 335,508.9 334.7,508C334.3,507.1 333.2,505.9 333.5,505.2C333.7,504.6 335.4,504.2 336.3,504.3C337.2,504.3 339.1,504.9 339.1,505.3C339.2,505.7 337.4,506.3 336.5,506.8C335.7,507.3 334.9,508 334.1,508.6C333.3,509.1 332.1,509.5 331.6,510.2C331.1,511 331,512.3 331.2,513.2C331.4,514.1 332.6,514.8 332.9,515.7C333.2,516.6 333.1,517.7 333.1,518.7C333.1,519.7 333,520.7 333,521.7C333,522.7 332.8,523.7 333,524.7C333.1,525.7 333.6,527.1 333.7,527.6 M342,521.5C342.4,521.2 343.4,519.9 344.3,519.6C345.1,519.2 346.3,519.4 347.3,519.6C348.2,519.8 349.2,520.3 350,520.8C350.8,521.3 352.4,522.5 352.2,522.8C352.1,523.1 350.2,522.8 349.2,522.7C348.3,522.6 347.2,522.6 346.3,522.4C345.3,522.3 344.3,522 343.3,521.7C342.4,521.5 341.3,521.4 340.5,520.9C339.6,520.4 338.8,519.5 338.5,518.6C338.1,517.8 338.7,516.5 338.3,515.7C337.8,514.8 336.5,514.5 336,513.7C335.4,513 335,512 334.7,511C334.4,510.1 334.2,509.1 334.1,508.1C333.9,507.1 334,505.1 333.9,505.1C333.9,505.1 333.4,507.2 333.7,508.1C334.1,508.9 335.4,509.9 335.8,510.3 M332.1,517.8C332.4,517.4 333.3,516.2 333.9,515.4C334.6,514.6 335.6,514.1 336,513.2C336.4,512.4 336,511.2 336.3,510.2C336.6,509.3 337.6,507.6 337.9,507.7C338.2,507.8 338.3,509.7 338.2,510.7C338,511.7 337.3,512.6 337.1,513.5C337,514.5 337.5,515.6 337.1,516.5C336.8,517.4 335.4,518 335.2,518.8C335,519.7 335.4,520.9 335.8,521.8C336.2,522.7 337.3,523.2 337.7,524.1C338.2,525 338.6,526 338.5,527C338.5,527.9 337.9,529 337.3,529.7C336.7,530.5 335.6,530.8 335,531.6C334.3,532.3 333.6,533.3 333.5,534.2C333.4,535.1 334.4,537.1 334.2,537.1C334.1,537.2 333,534.9 332.8,534.5 M341.3,508.7C341.7,508.5 343.5,507.3 344.1,507.6C344.7,508 344.6,509.6 344.8,510.5C345.1,511.5 345.3,512.5 345.7,513.4C346.1,514.3 346.6,515.4 347.4,515.9C348.1,516.5 349.5,516.2 350.2,516.7C351,517.3 351.8,518.3 351.9,519.2C352.1,520.1 351.3,521.2 351.4,522.2C351.6,523.1 353.1,524.5 352.8,524.8C352.6,525.1 351,523.9 350,523.8C349.1,523.6 348,524 347,524C346,523.9 345.1,523.1 344.1,523.2C343.2,523.3 342.2,524 341.4,524.5C340.6,525.1 339.9,525.8 339.2,526.6C338.6,527.3 338,528.1 337.4,529C336.8,529.8 336.2,530.6 335.7,531.4C335.2,532.3 334.5,533.6 334.3,534.1 M336.4,534.1C336.9,534.3 339.3,535 339.3,535C339.3,535 337.4,534.2 336.4,534.2C335.4,534.2 334.3,534.5 333.5,534.9C332.6,535.3 331.4,537 331.1,536.8C330.8,536.6 331.4,534.8 331.7,533.8C332,532.9 332.5,532 333,531.1C333.5,530.3 334.3,529.6 334.8,528.7C335.3,527.8 335.2,526.5 335.9,525.9C336.5,525.3 337.8,525.4 338.7,525C339.6,524.5 340.7,523.9 341.1,523.1C341.5,522.3 341.5,521 341.2,520.1C340.9,519.3 340.1,518.4 339.3,517.8C338.5,517.3 337.3,517.3 336.5,516.8C335.7,516.2 334.8,515.5 334.4,514.7C333.9,513.8 334.3,512.5 333.8,511.7C333.3,511 331.7,510.4 331.3,510.1 M323.6,514C324,513.7 325.4,512.9 326,512.2C326.7,511.5 327.4,510.5 327.5,509.6C327.7,508.7 327.1,506.6 326.9,506.7C326.8,506.7 327.3,508.8 326.9,509.7C326.5,510.5 325.5,511.1 324.6,511.6C323.8,512.1 322.7,512.2 321.8,512.5C320.8,512.9 319.9,513.5 319,513.6C318,513.7 316,513.4 316,513.4C316,513.3 318,513.2 319,513.2C320,513.1 321,513.3 322,513C322.9,512.8 323.7,512.1 324.6,511.7C325.6,511.2 326.4,510.7 327.4,510.4C328.3,510.2 329.4,510.3 330.4,510.1C331.3,509.8 332.1,509.1 333.1,508.8C334,508.5 335.2,508.7 336,508.2C336.8,507.8 337.7,506.4 338.1,506 M349.8,513.1C349.5,513.4 348.7,515 347.9,515.4C347.1,515.8 345.8,515.9 344.9,515.6C344,515.4 343.1,514.5 342.6,513.7C342.1,512.9 341.8,511.8 341.8,510.8C341.8,509.9 342.8,508 342.8,508C342.9,508 342.3,510 341.9,510.9C341.6,511.8 340.7,512.7 340.7,513.6C340.7,514.6 341.6,515.5 341.7,516.5C341.8,517.4 341.8,518.6 341.5,519.4C341.1,520.3 340.4,521.3 339.6,521.8C338.8,522.3 337.4,522 336.7,522.6C336,523.2 335.4,524.4 335.4,525.3C335.3,526.2 336.2,527.2 336.3,528.1C336.4,529.1 336.1,530.1 336,531.1C336,532.1 336.2,533.3 335.8,534.1C335.4,535 334.1,535.9 333.7,536.3 M350.5,519.9C350.4,519.4 350,517.9 350,516.9C350,515.9 350.1,514.1 350.5,514C350.9,513.9 351.9,515.4 352.4,516.3C353,517.1 354,518.4 353.7,519C353.4,519.6 351.8,519.9 350.8,519.8C349.9,519.7 348.9,519.1 348.1,518.5C347.3,517.9 346.6,517.1 346.1,516.3C345.7,515.4 345.8,514.3 345.6,513.3C345.4,512.3 345.4,511.2 344.9,510.4C344.4,509.5 343.5,508.9 342.8,508.2C342.1,507.6 340.4,506.4 340.5,506.3C340.6,506.2 342.4,507 343.3,507.5C344.2,507.9 345.8,508.3 345.9,508.9C346,509.5 344.2,510.3 343.9,511.1C343.7,512 344.2,513.1 344.4,514.1C344.7,515.1 345.3,516.4 345.4,516.9 M323.9,513.5C324.1,514 324.7,515.4 324.9,516.3C325,517.3 325.2,518.5 324.8,519.3C324.4,520.2 323.5,520.9 322.7,521.5C321.9,522.1 320.6,522.2 320.1,522.9C319.5,523.6 319.9,525 319.4,525.8C318.9,526.6 317.9,527.2 317.1,527.8C316.3,528.3 314.5,529.3 314.5,529.2C314.4,529.1 315.9,527.8 316.8,527.2C317.6,526.7 318.6,526.4 319.4,525.8C320.2,525.2 320.9,524.5 321.6,523.7C322.2,522.9 322.9,522 323,521.1C323.2,520.2 322.4,519.2 322.3,518.2C322.2,517.2 322.7,516.1 322.4,515.2C322.1,514.3 320.9,513.9 320.4,513C319.8,512.2 319.1,510.3 319.1,510.3C319,510.3 319.9,512.7 320,513.2 M339,524.5C339.5,524.3 340.8,523.5 341.8,523.4C342.7,523.3 344,523.4 344.7,523.9C345.5,524.4 345.7,525.7 346.2,526.5C346.7,527.4 347,528.6 347.8,529.1C348.6,529.5 350.8,529.2 350.8,529.4C350.8,529.6 348.9,530.1 347.9,530.3C347,530.5 345.8,530.7 344.9,530.5C344,530.2 343.2,529.4 342.5,528.8C341.7,528.1 341.1,527.2 340.4,526.6C339.6,526 338.7,525.1 337.8,525C336.9,524.9 336,526 335,526C334,526.1 333,525.6 332.1,525.2C331.2,524.9 330,524.6 329.4,523.9C328.9,523.1 328.9,521.9 328.8,520.9C328.7,519.9 328.4,518.8 328.7,517.9C328.9,517 330.1,515.8 330.3,515.4 M342.7,535.6C342.3,535.4 341,534.6 340.1,534.2C339.1,533.8 338.1,533.2 337.2,533.3C336.3,533.5 335.4,534.3 334.7,535C334,535.7 333.2,537.5 332.8,537.4C332.4,537.3 332,535.3 332.2,534.4C332.3,533.6 333.5,532.9 334,532.1C334.5,531.2 335.1,530.3 335.4,529.4C335.6,528.4 335.3,527.4 335.5,526.4C335.8,525.4 336.7,524.6 336.7,523.6C336.8,522.7 336.3,521.7 335.8,520.8C335.3,519.9 334.6,519.2 334,518.4C333.3,517.7 332.6,516.8 331.7,516.5C330.8,516.1 329.7,516.5 328.7,516.3C327.7,516.2 326.7,515.9 325.8,515.7C324.8,515.6 323.7,515.8 322.8,515.5C321.9,515.1 320.7,514 320.3,513.7 M327.3,535.2C326.9,534.9 325.8,533.8 324.9,533.4C324,533 322.3,533.4 321.9,532.9C321.6,532.3 322.6,530.9 322.6,530C322.7,529 322,527.9 322.2,527C322.5,526.1 323.5,525.4 323.9,524.5C324.3,523.6 324.3,522.5 324.5,521.5C324.7,520.6 324.9,519.6 325.1,518.6C325.3,517.6 325.8,516.7 325.8,515.7C325.8,514.7 325.4,513.7 325.2,512.7C325.1,511.7 325.3,510.6 324.9,509.8C324.4,509 322.4,508.3 322.5,507.9C322.6,507.5 324.5,507.6 325.4,507.2C326.3,506.8 327,505.8 327.9,505.5C328.8,505.1 329.9,505.1 330.9,505.3C331.8,505.5 332.8,506 333.6,506.5C334.4,507.1 335.3,508.3 335.7,508.7 M336.4,532C336,531.7 335,530.4 334.1,530C333.2,529.7 332.1,530.1 331.1,529.9C330.2,529.6 329.1,529.1 328.5,528.5C327.8,527.8 327.2,526.7 327.1,525.8C327.1,524.9 327.8,523.8 328.4,523C329,522.3 330.2,522 330.7,521.2C331.3,520.4 331.3,519.3 331.6,518.3C332,517.4 332.3,516.4 332.8,515.6C333.3,514.7 333.9,513.9 334.6,513.2C335.3,512.4 336.4,512 336.8,511.2C337.3,510.3 336.8,509 337.3,508.2C337.8,507.4 339.7,506.4 339.9,506.6C340.1,506.8 338.9,508.4 338.7,509.4C338.5,510.3 339.1,511.5 338.7,512.4C338.4,513.2 337.2,513.6 336.5,514.3C335.8,515.1 335,516.3 334.7,516.7 M317.6,526.3C317.9,526.7 318.4,528.2 318.9,529C319.5,529.8 320.5,530.3 321.1,531.1C321.7,531.8 322.1,532.8 322.8,533.5C323.5,534.2 325.3,535.2 325.2,535.3C325.2,535.5 323.1,535 322.4,534.4C321.6,533.8 320.9,532.7 320.8,531.8C320.7,530.9 321.3,529.7 321.9,529C322.5,528.3 323.5,527.7 324.5,527.5C325.4,527.4 326.4,528.2 327.4,528.2C328.3,528.2 329.4,527.5 330.3,527.6C331.3,527.7 332.2,528.7 333.1,528.7C334,528.7 334.9,527.9 335.9,527.6C336.9,527.4 338.1,527.5 338.8,527C339.6,526.5 340.3,525.4 340.5,524.5C340.7,523.6 339.9,522.4 340.1,521.5C340.4,520.6 341.7,519.6 342,519.2 M319.7,527.7C319.3,528 317.5,529.7 317.4,529.7C317.4,529.6 319.2,528.3 319.5,527.5C319.8,526.6 319,525.4 319.3,524.5C319.6,523.6 320.4,522.6 321.1,522.1C321.9,521.5 323,521.4 324,521C324.9,520.7 325.8,520.4 326.8,520C327.7,519.6 328.9,519.4 329.5,518.7C330,518 329.8,516.7 330.3,515.8C330.7,514.9 331.8,514.3 332,513.4C332.2,512.5 331.6,511.4 331.4,510.4C331.2,509.4 330.8,508.4 331,507.5C331.2,506.6 332.5,504.9 332.7,505C332.8,505.1 331.7,506.9 331.8,507.9C331.8,508.8 332.7,509.7 332.9,510.7C333.1,511.6 333.1,512.7 332.9,513.7C332.7,514.6 332,516 331.8,516.4" fill="none" stroke="#a82020" stroke-width="0.55" stroke-linecap="round"/>
<path d="M360.2,527C359.8,526.9 358.6,526.4 357.8,526.1C357,525.8 356.2,525.3 355.4,525.1C354.6,524.9 353,525.3 352.8,524.9C352.7,524.5 353.8,523.3 354.5,522.9C355.2,522.4 356.2,522.5 357,522.1C357.7,521.8 358.4,521.1 359.2,520.8C360,520.6 360.9,520.7 361.8,520.5C362.6,520.3 363.5,520.2 364.3,519.7C365,519.3 365.8,518.6 366.1,517.9C366.4,517.2 365.9,516 366.2,515.3C366.5,514.5 367.9,513.3 368,513.4C368.1,513.4 367.4,515.1 366.8,515.7C366.1,516.2 365.2,516.3 364.3,516.6C363.5,516.8 362.2,517.1 361.8,517.2 M354.3,516.7C354.7,516.9 355.9,517.4 356.6,517.9C357.4,518.3 358.3,518.8 358.7,519.5C359.1,520.2 359,521.2 359.3,522C359.6,522.8 360,523.6 360.6,524.2C361.2,524.9 361.9,525.4 362.7,525.8C363.5,526.1 364.4,526.4 365.2,526.4C366.1,526.3 367.1,526.1 367.7,525.6C368.3,525.1 368.6,524.1 369.1,523.4C369.5,522.6 370,521.9 370.4,521.1C370.8,520.4 371.2,519.6 371.5,518.8C371.8,517.9 372.1,516.2 372.1,516.2C372,516.2 371.5,517.9 371.4,518.7C371.2,519.6 371.6,520.5 371.4,521.3C371.2,522.1 370.4,523.2 370.2,523.6 M364.7,515.6C365.1,515.8 366.5,516 367.2,516.5C367.8,517 368.1,518.2 368.8,518.6C369.4,519 370.5,518.9 371.3,519.2C372.1,519.5 372.7,520.3 373.5,520.5C374.3,520.8 376.1,520.8 376.1,520.9C376.1,521.1 374.4,521.5 373.5,521.4C372.7,521.4 371.8,521.1 371.1,520.7C370.3,520.3 369.7,519.5 369,519.2C368.2,518.8 367.3,518.5 366.4,518.5C365.6,518.5 364.7,519.3 363.9,519.2C363.1,519.1 362.2,518.7 361.6,518.1C361,517.6 360.4,516.7 360.3,515.9C360.1,515 360.4,513.3 360.6,513.3C360.8,513.2 361.5,515.2 361.7,515.6 M354.1,520.2C354.2,519.8 354.8,518.6 355,517.7C355.2,516.9 354.7,515.4 355.1,515.1C355.6,514.8 356.9,515.5 357.6,515.9C358.3,516.4 358.6,517.3 359.3,517.9C359.9,518.5 360.5,519.2 361.3,519.5C362.1,519.8 363.1,519.6 363.9,519.6C364.8,519.5 365.7,519.4 366.5,519.1C367.3,518.8 367.9,518.1 368.6,517.6C369.2,517 370.4,515.7 370.5,515.8C370.7,515.9 370,517.5 369.5,518.2C369.1,519 368.3,519.6 368,520.3C367.8,521.1 368,522.1 368,522.9C367.9,523.8 367.6,524.7 367.8,525.5C368,526.3 369,527.3 369.3,527.7 M362.7,527.6C362.5,528 361.7,529.9 361.3,529.8C360.9,529.8 360.6,528.2 360.2,527.5C359.8,526.7 359,526.1 358.7,525.4C358.4,524.6 358.7,523.5 358.3,522.8C357.8,522.1 356.9,521.8 356.2,521.2C355.5,520.7 354.2,519.7 354.3,519.5C354.4,519.3 356,519.6 356.8,519.9C357.6,520.2 358.6,520.5 359.1,521.1C359.7,521.7 360,522.7 360.2,523.5C360.4,524.3 360.2,525.3 360.5,526.1C360.8,526.9 361.2,527.7 361.8,528.3C362.4,528.9 363.3,529.3 364,529.7C364.7,530.2 365.4,530.8 366.2,531.1C367,531.4 368.3,531.6 368.7,531.7 M365.2,515.4C365,515 363.8,513.6 364,513.1C364.2,512.6 366.2,512.2 366.5,512.6C366.9,512.9 366.5,514.4 366.1,515.1C365.7,515.9 364.9,516.5 364.2,516.9C363.5,517.3 362.5,517.6 361.7,517.5C360.8,517.5 360.1,516.9 359.2,516.6C358.4,516.4 356.7,516.1 356.7,516.2C356.7,516.2 358.3,516.9 359.2,516.9C360,516.9 360.9,516.4 361.7,516.3C362.6,516.3 363.6,516.3 364.3,516.6C365,517 365.4,518 366.1,518.5C366.9,518.9 367.8,519.4 368.6,519.3C369.4,519.3 370.3,518.8 371,518.3C371.6,517.8 372.2,516.5 372.5,516.2 M354.8,527.6C354.4,527.3 352.7,526.5 352.7,526C352.7,525.5 354.1,525 354.9,524.6C355.6,524.2 356.6,524.2 357.3,523.7C358,523.2 358.6,522.4 358.9,521.6C359.2,520.9 359.1,519.9 359.2,519.1C359.4,518.2 359.6,517.4 359.9,516.5C360.2,515.7 360.5,514.9 361.1,514.2C361.6,513.6 363.1,512.6 363.1,512.7C363.2,512.7 361.7,513.8 361.3,514.5C360.9,515.2 360.8,516.2 360.7,517C360.6,517.9 360.5,518.8 360.8,519.6C361.1,520.4 361.8,521.1 362.3,521.8C362.7,522.5 363.1,523.5 363.7,523.9C364.4,524.4 365.8,524.5 366.2,524.6 M372.1,525.5C372.3,525.1 372.5,523.7 373,523C373.5,522.4 375.1,521.5 375.2,521.6C375.2,521.6 374,522.9 373.2,523.3C372.5,523.7 371.5,523.9 370.7,523.9C369.8,523.9 369,523.3 368.2,523.3C367.3,523.3 366.4,523.6 365.6,523.9C364.8,524.1 363.8,524.4 363.2,524.9C362.7,525.5 362.6,526.6 362.1,527.3C361.5,527.9 360.7,528.4 360.1,528.9C359.4,529.5 358.1,530.7 358.2,530.7C358.2,530.7 359.7,529.8 360.3,529.1C360.8,528.5 361.3,527.8 361.7,527C362.2,526.3 362.4,525.3 363,524.8C363.6,524.2 364.9,523.7 365.3,523.5 M374.4,526.8C374,527.1 372.8,528.6 372.4,528.5C372,528.4 372.1,526.8 372.1,525.9C372,525.1 372.4,524.1 372.2,523.3C372,522.5 371.1,522 370.7,521.2C370.3,520.4 369.8,519.6 369.8,518.8C369.8,517.9 370.4,516.3 370.7,516.3C370.9,516.3 371,518.1 371.4,518.8C371.9,519.5 372.7,519.9 373.3,520.6C373.9,521.2 375.1,522 375,522.5C374.9,523 373.4,523.2 372.6,523.6C371.9,524 370.9,524.2 370.3,524.8C369.8,525.4 369.5,526.3 369.2,527.1C368.8,527.9 368.8,528.9 368.3,529.6C367.9,530.3 366.8,531.1 366.4,531.4 M369.3,528.4C368.9,528.6 367.5,528.8 366.9,529.3C366.2,529.8 365.6,531.6 365.5,531.5C365.4,531.5 366.1,529.9 366.4,529.1C366.7,528.3 367.2,527.6 367.5,526.8C367.9,526 368.3,525.1 368.4,524.3C368.4,523.5 368,522.6 367.8,521.8C367.6,520.9 367.6,519.9 367.1,519.3C366.6,518.6 365.8,518 365,517.7C364.2,517.4 363.2,517.3 362.4,517.5C361.6,517.7 360.9,518.4 360.2,518.9C359.5,519.4 358.7,519.8 358.2,520.5C357.7,521.2 357.8,522.3 357.3,523C356.8,523.7 356,524.2 355.4,524.7C354.7,525.2 353.5,525.8 353.2,526.1 M372.1,523.3C372.4,523.6 373.6,524.3 374.2,524.9C374.7,525.6 375.3,527.2 375.1,527.3C375,527.4 373.7,526.3 373.1,525.7C372.5,525.1 372,524.4 371.5,523.7C371,522.9 370.9,521.9 370.3,521.4C369.7,520.8 368.8,520.5 367.9,520.3C367.1,520.1 366.2,520.3 365.3,520.4C364.5,520.5 363.6,520.8 362.7,520.7C361.9,520.6 361,520.3 360.3,519.8C359.7,519.2 359.4,518.3 359,517.5C358.6,516.8 357.8,515.4 358,515.1C358.3,514.8 359.8,515.7 360.6,515.6C361.4,515.5 362.1,514.8 362.9,514.4C363.7,514 364.9,513.6 365.3,513.4 M362,529.7C362.3,530 363,531.3 363.7,531.7C364.4,532.1 365.5,532.2 366.3,532C367.1,531.8 367.7,530.9 368.5,530.6C369.2,530.3 371,530.3 371,530.3C371,530.3 368.8,531.1 368.5,530.8C368.2,530.4 369.2,529.1 369.1,528.3C369,527.5 368.2,526.7 367.9,526C367.5,525.2 367.4,524.3 366.9,523.5C366.4,522.8 365.6,522.3 365.1,521.7C364.6,521 363.9,520.3 363.7,519.5C363.4,518.7 363.6,517.7 363.8,516.9C363.9,516.1 364.4,514.5 364.8,514.5C365.2,514.5 365.7,515.9 366.1,516.7C366.5,517.5 367,518.7 367.1,519.1" fill="none" stroke="#3cc0c0" stroke-width="0.6" stroke-linecap="round"/>
<text x="129.9" y="471" font-size="7.8" text-anchor="middle" font-weight="bold" fill="#e8801e">AR4A</text>
<text x="129.9" y="480.2" font-size="7.8" text-anchor="middle" font-weight="bold" fill="#e8801e">HC</text>
<text x="197.2" y="479.8" font-size="7.8" text-anchor="middle" font-weight="bold" fill="#e8c31e">AR4A</text>
<text x="197.2" y="488.8" font-size="7.8" text-anchor="middle" font-weight="bold" fill="#e8c31e">LC</text>
<text x="133.1" y="497.9" font-size="7.8" text-anchor="middle" font-weight="bold" fill="#ee2424">sE2</text>
<text x="202.3" y="534.3" font-size="7.8" text-anchor="middle" font-weight="bold" fill="#3aa8b8">sE1</text>
<text x="161.2" y="553.4" font-size="7.8" text-anchor="middle" font-weight="bold" fill="#111">(PDB: 8FSJ)</text>
<text x="310.7" y="470.2" font-size="7.8" text-anchor="middle" font-weight="bold" fill="#e8801e">AR4A</text>
<text x="310.7" y="479.4" font-size="7.8" text-anchor="middle" font-weight="bold" fill="#e8801e">HC</text>
<text x="385.4" y="479.8" font-size="7.8" text-anchor="middle" font-weight="bold" fill="#e8c31e">AR4A</text>
<text x="385.4" y="488.8" font-size="7.8" text-anchor="middle" font-weight="bold" fill="#e8c31e">LC</text>
<text x="314.6" y="498.9" font-size="7.8" text-anchor="middle" font-weight="bold" fill="#ee2424">sE2</text>
<text x="392.3" y="532" font-size="7.8" text-anchor="middle" font-weight="bold" fill="#3aa8b8">sE1</text>
<text x="352.2" y="553.7" font-size="7.8" text-anchor="middle" font-weight="bold" fill="#111">(PDB: 8FSJ)</text>
<path d="M523.5,461.4 C527.33,460.95 530.17,461.02 533,461.8 C535.83,462.58 538.62,463.95 540.5,466.1 C542.38,468.25 543.35,471.38 544.3,474.7 C545.25,478.02 544.93,482.85 546.2,486 C547.47,489.15 550,490.77 551.9,493.6 C553.8,496.43 555.75,500.8 557.6,503 C559.45,505.2 560.1,506.27 563,506.8 C565.9,507.33 570.7,506.3 575,506.2 C579.3,506.1 586.05,506.82 588.8,506.2 C591.55,505.58 589.75,503.67 591.5,502.5 C593.25,501.33 597.02,499.2 599.3,499.2 C601.58,499.2 604,500.87 605.2,502.5 C606.4,504.13 606.23,506.88 606.5,509 C606.77,511.12 605.67,513.7 606.8,515.2 C607.93,516.7 611.48,516.5 613.3,518 C615.12,519.5 616.83,522.3 617.7,524.2 C618.57,526.1 618.95,527.52 618.5,529.4 C618.05,531.28 616.6,534.03 615,535.5 C613.4,536.97 611.08,537.83 608.9,538.2 C606.72,538.57 604.55,538.15 601.9,537.7 C599.25,537.25 597.48,535.42 593,535.5 C588.52,535.58 580.9,538.07 575,538.2 C569.1,538.33 561.77,537.72 557.6,536.3 C553.43,534.88 553.8,532.53 550,529.7 C546.2,526.87 538.58,522.15 534.8,519.3 C531.02,516.45 529.18,515.93 527.3,512.6 C525.42,509.27 526.52,503.73 523.5,499.3 C520.48,494.87 512.53,490.1 509.2,486 C505.87,481.9 503.37,478.28 503.5,474.7 C503.63,471.12 506.67,466.72 510,464.5 C513.33,462.28 519.67,461.85 523.5,461.4Z" fill="#d8d8d8" stroke="#9a9a9a" stroke-width="0.7"/>
<path d="M529.66,467.59 C532.96,467.2 535.39,467.26 537.83,467.93 C540.27,468.6 542.66,469.78 544.28,471.63 C545.9,473.48 546.73,476.17 547.55,479.02 C548.36,481.88 548.09,486.03 549.18,488.74 C550.27,491.45 552.45,492.84 554.08,495.28 C555.72,497.72 557.39,501.47 558.99,503.36 C560.58,505.25 561.14,506.17 563.63,506.63 C566.12,507.09 570.25,506.2 573.95,506.11 C577.65,506.03 583.45,506.64 585.82,506.11 C588.18,505.58 586.63,503.94 588.14,502.93 C589.64,501.93 592.88,500.09 594.85,500.09 C596.81,500.09 598.89,501.53 599.92,502.93 C600.95,504.34 600.81,506.7 601.04,508.52 C601.27,510.34 600.32,512.56 601.3,513.85 C602.27,515.14 605.32,514.97 606.89,516.26 C608.45,517.55 609.93,519.96 610.67,521.59 C611.42,523.23 611.75,524.45 611.36,526.07 C610.97,527.69 609.73,530.05 608.35,531.31 C606.97,532.57 604.98,533.32 603.1,533.63 C601.23,533.95 599.36,533.59 597.08,533.2 C594.8,532.82 593.28,531.24 589.43,531.31 C585.57,531.38 579.02,533.52 573.95,533.63 C568.88,533.75 562.57,533.22 558.99,532 C555.4,530.78 555.72,528.76 552.45,526.32 C549.18,523.89 542.63,519.83 539.38,517.38 C536.12,514.93 534.55,514.49 532.93,511.62 C531.31,508.75 532.25,503.99 529.66,500.18 C527.06,496.37 520.23,492.27 517.36,488.74 C514.49,485.22 512.34,482.11 512.46,479.02 C512.57,475.94 515.18,472.16 518.05,470.25 C520.92,468.35 526.36,467.97 529.66,467.59Z" fill="#f0f0f0" filter="url(#bl4)"/>
<ellipse cx="520" cy="482" rx="8" ry="13" fill="#d4e030" opacity="0.2" filter="url(#bl2)"/>
<ellipse cx="536" cy="490" rx="9" ry="10" fill="#c8701e" opacity="0.15" filter="url(#bl2)"/>
<ellipse cx="562" cy="518" rx="17" ry="11" fill="#a82020" opacity="0.06" filter="url(#bl2)"/>
<ellipse cx="598" cy="521" rx="12" ry="8" fill="#3cc0c0" opacity="0.12" filter="url(#bl2)"/>
<path d="M527.4,478.9C527.2,479.2 526.1,481 526,480.9C525.9,480.8 526.2,479.2 526.6,478.5C527,477.8 527.9,477.4 528.5,476.8C529,476.2 529.2,475.2 529.9,474.7C530.5,474.3 531.5,474.2 532.3,474C533.1,473.8 534,473.9 534.7,473.6C535.5,473.3 536.1,472.7 536.9,472.4C537.6,472 539,471.3 539.3,471.6C539.5,471.9 538.5,473.1 538.4,473.9C538.4,474.7 539.3,476 539,476.4C538.7,476.8 537.3,476.4 536.5,476.3C535.7,476.2 534.8,475.9 534,475.9C533.2,475.9 532.3,476 531.6,476.4C530.9,476.7 530.5,477.7 529.8,478.1C529.2,478.6 528.2,478.6 527.5,479.1C526.9,479.6 526.3,480.8 526,481.1 M535.3,469.8C534.9,469.8 533.7,470.3 532.9,470.3C532.1,470.2 531.2,470 530.5,469.6C529.8,469.2 529,468.5 528.7,467.8C528.4,467.1 528.4,465.4 528.6,465.3C528.7,465.3 529.7,466.7 529.8,467.5C530,468.2 529.7,469.1 529.6,469.9C529.4,470.8 529.1,471.6 528.8,472.3C528.5,473.1 528,473.8 527.8,474.6C527.6,475.4 527.5,476.3 527.4,477.1C527.3,477.9 527.5,478.8 527.5,479.6C527.4,480.4 527.2,481.3 527.3,482.1C527.3,482.9 528.1,484.4 528,484.5C527.8,484.5 526.7,483.3 526.4,482.6C526,481.8 525.9,480.9 525.9,480.1C525.9,479.3 526.4,478.5 526.3,477.6C526.3,476.8 525.8,475.6 525.7,475.2 M523,471.5C523.3,471.3 524.4,470.7 525.1,470.3C525.9,469.9 526.6,469.5 527.4,469.2C528.1,468.8 528.9,468.4 529.7,468.1C530.4,467.9 531.3,467.7 532.1,467.5C532.9,467.3 533.7,467.1 534.5,467C535.4,467 537,467 537,467.2C537.1,467.4 535.5,468 534.8,468.3C534,468.7 533.1,468.8 532.5,469.3C531.8,469.7 531.1,470.3 530.7,471C530.3,471.7 530.3,472.6 530.1,473.5C530,474.3 530.1,475.2 529.8,475.9C529.5,476.7 528.8,477.4 528.1,477.8C527.5,478.2 526.5,478 525.7,478.3C524.9,478.5 523.6,479.6 523.5,479.5C523.3,479.3 524.4,478 524.8,477.3C525.3,476.6 526,475.6 526.2,475.3 M530.2,468C530.1,467.6 529.7,466.3 529.3,465.7C528.9,465 527.4,464.3 527.5,463.9C527.7,463.5 529.7,463.1 530,463.5C530.3,463.8 529.3,465 529.2,465.8C529.1,466.6 529.2,467.6 529.5,468.3C529.9,469 530.7,469.5 531.3,470.1C531.8,470.7 532.3,471.5 532.9,472C533.6,472.4 534.6,472.5 535.3,472.8C536,473.2 536.7,473.7 537.4,474.1C538.1,474.6 539.4,475.6 539.3,475.8C539.2,475.9 537.7,475.3 536.9,475.1C536.1,474.9 535.3,474.8 534.5,474.5C533.7,474.2 533,473.7 532.2,473.5C531.4,473.3 530.5,473.3 529.7,473.3C528.9,473.2 528,473.3 527.2,473.1C526.4,473 525.2,472.5 524.8,472.3 M526.2,478.4C526,478 525.6,476.8 525.4,476C525.2,475.2 525.1,474.3 525,473.5C524.9,472.7 524.7,471.8 524.8,471C524.9,470.2 525.5,469.5 525.6,468.7C525.8,467.8 525.3,466.3 525.7,466.2C526,466 526.8,467.3 527.5,467.9C528.1,468.4 528.9,468.8 529.4,469.4C530,470 530.4,470.8 530.8,471.5C531.1,472.3 531,473.3 531.3,474C531.7,474.7 532.7,475.1 532.9,475.9C533.2,476.6 533.3,477.6 533,478.4C532.7,479.1 531.9,479.7 531.4,480.3C530.8,480.9 530.5,481.8 529.8,482.2C529.1,482.6 528.1,482.5 527.3,482.5C526.5,482.6 524.9,482.7 524.8,482.4C524.7,482.1 526.3,481 526.6,480.7 M524,465C524.4,465.1 525.6,465.4 526.4,465.6C527.2,465.9 528,466.2 528.6,466.7C529.3,467.2 529.7,468 530.3,468.6C530.8,469.3 531.6,469.7 532,470.4C532.5,471.1 532.8,471.9 533.1,472.7C533.4,473.4 533.6,474.2 533.8,475.1C533.9,475.9 533.9,476.7 534,477.6C534,478.4 534.1,479.2 534,480.1C533.9,480.9 533.6,481.7 533.4,482.5C533.1,483.3 533,484.7 532.5,484.8C532.1,485 531.1,483.9 530.6,483.3C530,482.7 529.4,482 529.1,481.3C528.7,480.6 528.5,479.7 528.2,478.9C527.9,478.2 527.2,477.5 527.2,476.7C527.1,475.9 527.6,475.1 527.8,474.3C528,473.5 528.3,472.2 528.4,471.8 M525.3,474.2C525.3,474.6 525.2,476 524.9,476.7C524.5,477.4 523.6,478.6 523.2,478.5C522.7,478.4 522.5,476.9 522.3,476.1C522.1,475.3 521.8,473.9 522.2,473.6C522.6,473.4 523.7,474.3 524.5,474.6C525.3,475 526.2,475.1 526.8,475.7C527.3,476.3 527.2,477.4 527.7,478C528.2,478.6 529.3,478.8 529.8,479.4C530.4,480 530.4,481.1 530.9,481.6C531.5,482.1 533.3,482.5 533.3,482.5C533.3,482.5 531.6,481.9 531,481.4C530.5,480.9 530.2,479.9 529.8,479.2C529.4,478.5 528.8,477.9 528.4,477.1C528.1,476.4 527.9,475.6 527.5,474.8C527.2,474 527,473.2 526.5,472.5C526,471.9 524.8,471.3 524.4,471.1 M528.5,472.9C528.6,472.5 528.8,471.3 529,470.4C529.1,469.6 529.4,468.8 529.6,468C529.7,467.2 529.8,466.4 530,465.5C530.2,464.7 530.6,463.1 530.7,463.1C530.8,463.2 530.6,464.8 530.5,465.6C530.4,466.5 530,467.2 529.9,468.1C529.8,468.9 530.3,469.8 530,470.6C529.8,471.3 529.1,471.9 528.5,472.6C528,473.2 527.2,473.6 526.7,474.3C526.3,475 526,475.8 525.6,476.6C525.3,477.3 524.4,478.7 524.4,478.7C524.4,478.7 525.4,477.3 525.5,476.5C525.6,475.7 525,474.9 524.9,474C524.8,473.2 524.9,472.4 524.9,471.5C524.8,470.7 524.9,469.9 524.8,469C524.6,468.2 524.1,467.1 523.9,466.7 M525.2,469C524.8,469.2 523.2,470.3 523,470.2C522.9,470.1 524.1,468.9 524.4,468.1C524.7,467.4 524.8,465.7 525,465.7C525.2,465.7 525.3,467.3 525.5,468.1C525.7,468.9 526.1,469.7 526.1,470.6C526.2,471.4 526,472.3 525.6,473C525.3,473.8 524.5,474.3 524.1,475C523.8,475.7 523.5,477.4 523.5,477.4C523.5,477.4 524,475.8 524.3,475.1C524.6,474.3 525.1,473.6 525.3,472.8C525.6,472 525.8,471.1 525.8,470.3C525.7,469.5 525.3,468.7 525.3,467.9C525.2,467 525.3,465.5 525.6,465.4C525.8,465.3 526.6,466.7 527,467.4C527.3,468.2 527.4,469.1 527.8,469.8C528.2,470.5 529.1,471.4 529.4,471.7 M537.1,469.6C537.4,469.3 538.4,467.5 538.7,467.6C539,467.7 538.9,469.3 538.9,470.1C539,470.9 539,471.8 538.9,472.6C538.9,473.4 538.9,474.3 538.9,475.1C538.8,475.9 538.7,476.8 538.6,477.6C538.5,478.4 538.5,479.4 538.1,480C537.7,480.7 536.9,481.2 536.2,481.6C535.5,482 534.4,482 533.8,482.5C533.2,482.9 532.3,484.5 532.3,484.5C532.4,484.5 533.7,483.4 534,482.6C534.3,481.9 534.3,480.9 534,480.1C533.8,479.4 532.8,478.9 532.5,478.2C532.1,477.4 532.3,476.5 532,475.7C531.7,474.9 531.3,474 530.7,473.5C530.1,473 529.2,472.8 528.4,472.7C527.6,472.6 526.3,473 525.9,473.1" fill="none" stroke="#c8701e" stroke-width="0.6" stroke-linecap="round"/>
<path d="M519.9,486.6C520.3,486.4 521.7,486.2 522.3,485.7C522.8,485.1 523.3,484.2 523.4,483.4C523.5,482.7 523.1,481.8 522.9,481C522.6,480.2 522.1,479.5 521.7,478.8C521.3,478 520.6,477.4 520.5,476.6C520.4,475.8 520.8,474.9 521,474.1C521.3,473.3 521.5,472.5 522,471.9C522.6,471.2 523.9,470.3 524.1,470.4C524.2,470.6 523.5,472.1 523,472.7C522.4,473.2 521.5,473.5 520.8,473.8C520,474.1 519.1,474.1 518.3,474.4C517.6,474.7 516.9,475.3 516.3,475.8C515.7,476.4 515.1,477 514.6,477.7C514,478.3 513.2,478.8 512.9,479.5C512.6,480.2 512.5,482 512.5,482C512.5,482 512.9,479.9 512.9,479.5 M519.8,472.4C519.4,472.2 518.3,471.6 517.5,471.4C516.7,471.2 515,471.4 515,471.2C514.9,471 516.7,470.7 517.2,470.2C517.8,469.6 518.1,468 518.5,468C518.9,468 519.1,469.6 519.7,470.2C520.2,470.8 521,471.2 521.7,471.7C522.4,472.1 523.2,472.5 523.8,473.1C524.4,473.7 524.7,474.6 525.3,475.1C525.9,475.6 527.6,476.1 527.5,476.3C527.5,476.4 525.9,476.1 525,475.9C524.2,475.7 523.4,475.6 522.6,475.2C521.9,474.8 521.1,474.4 520.6,473.7C520.2,473 520.5,472 520.2,471.2C520,470.4 519.2,469.7 519.2,468.9C519.1,468.2 519.7,466.6 520,466.6C520.3,466.6 520.7,468.5 520.9,468.9 M520.1,471.9C520.4,472.2 521.2,473.2 522,473.6C522.7,473.9 523.7,474.1 524.4,474C525.2,473.8 526.1,472.5 526.6,472.7C527,472.9 527,474.3 527.1,475.1C527.3,475.9 527.8,477.3 527.5,477.6C527.2,477.9 526,476.9 525.2,476.8C524.3,476.7 523.5,477 522.7,476.9C521.8,476.7 521.1,476.2 520.3,475.9C519.5,475.7 518.7,475.2 517.9,475.2C517.1,475.2 516.3,475.7 515.5,475.8C514.7,475.9 513,475.7 513,475.7C513,475.8 514.7,475.9 515.5,476.1C516.3,476.3 517,476.7 517.8,476.9C518.6,477.1 519.5,477.3 520.3,477.5C521.1,477.7 521.9,477.9 522.6,478.3C523.4,478.6 524.4,479.5 524.7,479.7 M524.6,485.3C524.4,485.7 523.7,486.8 523.6,487.6C523.5,488.4 524.4,489.7 524.1,490.1C523.7,490.4 522.4,489.7 521.6,489.6C520.8,489.4 520,489 519.2,489C518.4,489.1 516.9,489.9 516.8,489.7C516.6,489.5 518,488.6 518.5,487.9C519,487.2 519,486.2 519.6,485.6C520.1,485.1 521.1,484.9 521.8,484.5C522.6,484.1 523.2,483.5 523.9,483.2C524.7,483 526.4,483 526.4,483C526.4,483 524.8,483.1 523.9,483.1C523.1,483.2 522.3,483.5 521.5,483.4C520.6,483.3 519.9,482.9 519.1,482.7C518.3,482.5 517.5,482.2 516.7,482C515.8,481.9 514.4,482.1 514.2,481.7C514,481.3 515.2,479.9 515.4,479.5 M522.2,488.3C521.9,488 521.1,487 520.6,486.4C520.1,485.7 519.7,484.9 519.1,484.3C518.6,483.7 517.9,483.2 517.3,482.7C516.6,482.2 515.8,481.9 515.2,481.3C514.6,480.8 513.6,479.8 513.8,479.3C513.9,478.8 515.3,478.6 516.1,478.3C516.8,478 517.6,477.6 518.4,477.3C519.1,476.9 520,476.8 520.6,476.3C521.3,475.8 521.5,474.8 522.1,474.3C522.7,473.7 523.6,473.5 524.2,472.9C524.8,472.3 525.4,470.8 525.7,470.9C526,470.9 525.8,472.6 526.1,473.3C526.3,474.1 527.5,475.3 527.3,475.5C527.2,475.6 525.9,474.6 525.2,474.2C524.5,473.8 523.6,473.5 523,473.1C522.3,472.6 521.4,471.7 521.1,471.4 M519,485.3C518.6,485.4 517.4,485.7 516.6,485.9C515.8,486.2 514.5,486.9 514.2,486.6C513.9,486.4 514.8,485.1 514.9,484.2C515,483.4 514.6,482.5 514.8,481.7C515.1,481 515.9,480.4 516.4,479.8C516.9,479.1 517.3,478.3 517.8,477.7C518.4,477.2 519.4,477 519.9,476.4C520.5,475.8 520.6,474.8 521.1,474.1C521.5,473.4 522.3,472.9 522.6,472.2C522.9,471.4 522.9,470.5 522.8,469.7C522.7,468.9 521.7,467.7 522,467.3C522.3,466.9 524.2,467 524.5,467.4C524.8,467.9 524.3,469.2 523.8,469.8C523.4,470.5 522.6,471.2 521.9,471.4C521.1,471.7 520.2,471.3 519.4,471.3C518.5,471.4 517.3,471.7 516.9,471.8 M513.4,484.2C513.8,484.1 515,483.5 515.8,483.5C516.6,483.4 517.5,483.9 518.3,483.7C519,483.6 519.8,483 520.4,482.5C521,481.9 521.3,481 521.9,480.5C522.5,479.9 523.3,479.5 524.1,479.2C524.8,479 526.3,478.6 526.5,478.9C526.8,479.3 525.9,480.4 525.5,481.2C525.2,482 524.9,482.8 524.4,483.5C523.9,484.1 523.2,484.6 522.5,485C521.8,485.5 521.1,485.9 520.3,486.3C519.6,486.7 518.7,486.9 518.1,487.5C517.5,488 517.2,489.5 516.7,489.5C516.2,489.5 515,488 515.2,487.6C515.3,487.1 516.8,487.2 517.6,487.1C518.4,486.9 519.3,486.8 520.1,486.7C520.9,486.6 522.2,486.7 522.6,486.7 M519.5,482C519.1,481.8 518.1,481 517.4,480.6C516.7,480.1 515.8,479.9 515.2,479.4C514.6,478.8 514.3,478 513.9,477.3C513.4,476.6 512.6,475.1 512.6,475.1C512.6,475.1 513.8,476.4 514,477.2C514.2,478 513.7,479.7 513.6,479.7C513.6,479.7 513.5,478 513.6,477.2C513.8,476.4 514.2,475.6 514.7,474.9C515.1,474.2 515.7,473.6 516.3,473C516.8,472.4 517.6,471.9 518,471.2C518.5,470.5 518.9,469.7 519,468.9C519.1,468.1 518.4,466.5 518.6,466.5C518.7,466.4 519.4,468 519.9,468.6C520.5,469.1 521.3,469.5 522,470C522.6,470.5 523.2,471.1 523.7,471.8C524.3,472.4 525.1,473.3 525.4,473.6 M521.5,477.4C521.6,477.8 522.2,479 522.3,479.8C522.5,480.6 522.7,481.5 522.5,482.3C522.3,483 521.6,483.7 521.3,484.4C521,485.2 520.8,486.1 520.7,486.9C520.6,487.7 520.7,488.5 520.8,489.4C520.8,490.2 521.3,491.7 521.1,491.9C520.8,492 519.8,490.8 519.2,490.2C518.6,489.6 518,489 517.7,488.2C517.3,487.5 517.1,486.6 517,485.8C516.9,485 517,484.1 517.3,483.3C517.6,482.6 518.2,481.9 518.7,481.3C519.3,480.7 520,480 520.8,479.8C521.5,479.6 522.4,479.9 523.2,480C524.1,480 525.6,479.7 525.7,479.9C525.8,480.2 524.5,481.1 523.9,481.6C523.2,482.1 522,482.6 521.6,482.8 M517.5,486.3C517.1,486.5 515.4,487.5 515.2,487.3C515,487.1 516.1,485.9 516.5,485.2C516.8,484.4 517.3,483.6 517.3,482.8C517.3,482 516.8,481.2 516.3,480.5C515.9,479.8 515.2,479.3 514.7,478.7C514.1,478 513.3,477.6 512.9,476.8C512.6,476.1 512.4,474.6 512.7,474.4C513.1,474.1 514.5,474.7 515.1,475.1C515.8,475.6 516.4,476.4 516.6,477.1C516.9,477.8 516.7,478.8 516.5,479.6C516.3,480.4 515.6,481 515.3,481.8C515.1,482.6 514.8,483.5 514.9,484.3C515.1,485 516.1,485.6 516.3,486.4C516.5,487.2 516,488.1 516.3,488.9C516.5,489.6 517.9,490.6 517.7,490.9C517.6,491.2 515.7,490.9 515.2,490.9 M526,482.8C525.8,483.2 525.2,484.4 525.1,485.2C525.1,486 525.7,487.6 525.5,487.7C525.3,487.8 524.5,486.3 523.8,485.9C523.1,485.5 522.1,485.5 521.3,485.4C520.5,485.3 519.7,485.4 518.8,485.4C518,485.4 517.1,485.5 516.3,485.3C515.5,485.2 514.1,484.6 514.1,484.2C514.1,483.8 515.6,483.3 516.3,483.1C517.1,482.8 518.1,482.9 518.8,482.5C519.5,482.2 520.1,481.5 520.6,480.8C521.1,480.2 521.6,479.4 521.7,478.6C521.8,477.8 521.3,477 521.2,476.1C521.1,475.3 521,474.5 521,473.7C521,472.8 520.9,472 521.1,471.2C521.2,470.4 521.7,468.8 522,468.8C522.3,468.8 522.7,470.7 522.9,471.1 M525.9,483.9C525.7,483.6 525.2,482.4 524.6,481.8C524,481.3 523.2,480.9 522.4,480.6C521.6,480.3 520.7,480.3 519.9,480.1C519.1,479.9 518.3,479.7 517.5,479.4C516.7,479.2 515.8,479 515.2,478.4C514.7,477.9 514.4,477 514.1,476.2C513.9,475.4 513.3,474.1 513.6,473.7C514,473.3 515.4,473.6 516.1,473.9C516.9,474.2 517.4,475 518,475.6C518.6,476.1 519.2,476.8 519.9,477.1C520.7,477.5 521.6,477.4 522.4,477.7C523.1,478.1 523.8,478.7 524.4,479.2C525,479.8 525.7,480.4 526.1,481.1C526.4,481.8 526.8,483.4 526.6,483.5C526.4,483.6 525.5,482.2 524.9,481.7C524.2,481.2 523,480.8 522.6,480.6" fill="none" stroke="#d4e030" stroke-width="0.7" stroke-linecap="round"/>
<path d="M532.67,492.42 Q535.83,493.02 540.38,494.61" fill="none" stroke="#c8701e" stroke-width="0.85" stroke-linecap="round"/>
<path d="M526.82,485.64 Q530.7,487.99 534.97,488.74" fill="none" stroke="#c8701e" stroke-width="0.85" stroke-linecap="round"/>
<path d="M534.15,495.14 Q538.43,496.97 543.32,497.42" fill="none" stroke="#c8701e" stroke-width="0.85" stroke-linecap="round"/>
<path d="M530.1,499.18 Q533.37,499.82 535.71,501.83" fill="none" stroke="#c8701e" stroke-width="0.85" stroke-linecap="round"/>
<path d="M531.78,491.32 Q534.49,492.05 538.56,493.18" fill="none" stroke="#c8701e" stroke-width="0.85" stroke-linecap="round"/>
<path d="M526.36,497.08 Q530.35,499.21 534.63,499.43" fill="none" stroke="#c8701e" stroke-width="0.85" stroke-linecap="round"/>
<path d="M538.95,494.59 Q543.93,496.79 547.2,499.32" fill="none" stroke="#c8701e" stroke-width="0.85" stroke-linecap="round"/>
<path d="M535.18,486.84 Q538.73,486.81 541.79,488.75" fill="none" stroke="#c8701e" stroke-width="0.85" stroke-linecap="round"/>
<path d="M537.46,486.71 Q541.75,488.14 544.68,489.03" fill="none" stroke="#c8701e" stroke-width="0.85" stroke-linecap="round"/>
<path d="M527.37,495.51 Q531.19,497.31 535.35,497.28" fill="none" stroke="#c8701e" stroke-width="0.85" stroke-linecap="round"/>
<path d="M531.49,489.49 Q535.88,490.2 540.88,491.94" fill="none" stroke="#c8701e" stroke-width="0.85" stroke-linecap="round"/>
<path d="M535.14,494.89 Q537.22,496.89 539.98,498" fill="none" stroke="#c8701e" stroke-width="0.85" stroke-linecap="round"/>
<path d="M534.29,495.52 Q536.03,496.11 539.56,497.98" fill="none" stroke="#c8701e" stroke-width="0.85" stroke-linecap="round"/>
<path d="M530.99,488.71 Q532.92,489.47 536.73,490.14" fill="none" stroke="#c8701e" stroke-width="0.85" stroke-linecap="round"/>
<path d="M536.83,488.46 Q540.28,488.38 545.42,489.73" fill="none" stroke="#c8701e" stroke-width="0.85" stroke-linecap="round"/>
<path d="M533.47,489.26 Q536.9,490.83 540.23,492.89" fill="none" stroke="#c8701e" stroke-width="0.85" stroke-linecap="round"/>
<path d="M525.08,497.29 Q528.66,498.48 533.81,499.94" fill="none" stroke="#c8701e" stroke-width="0.85" stroke-linecap="round"/>
<path d="M532.87,488.37 Q538.51,490.03 542.39,489.68" fill="none" stroke="#c8701e" stroke-width="0.85" stroke-linecap="round"/>
<path d="M534.23,495.88 Q537.05,497.64 541.19,498.82" fill="none" stroke="#c8701e" stroke-width="0.85" stroke-linecap="round"/>
<path d="M532.75,496.17 Q535.32,497.1 539.43,496.98" fill="none" stroke="#c8701e" stroke-width="0.85" stroke-linecap="round"/>
<path d="M533.25,489.1 Q536.25,490.71 540.08,492.75" fill="none" stroke="#c8701e" stroke-width="0.85" stroke-linecap="round"/>
<path d="M524.2,487.1 Q529.79,487.76 533.86,488.24" fill="none" stroke="#c8701e" stroke-width="0.85" stroke-linecap="round"/>
<path d="M541.4,493.32 Q543.93,494.79 546.71,495.82" fill="none" stroke="#c8701e" stroke-width="0.85" stroke-linecap="round"/>
<path d="M531.52,495.08 Q534.96,496.18 539.56,497.32" fill="none" stroke="#c8701e" stroke-width="0.85" stroke-linecap="round"/>
<path d="M532.63,493.96 Q536.28,493.71 539.07,494.79" fill="none" stroke="#c8701e" stroke-width="0.85" stroke-linecap="round"/>
<path d="M532.62,499.41 Q537.17,502.06 540.62,502.83" fill="none" stroke="#c8701e" stroke-width="0.85" stroke-linecap="round"/>
<path d="M523.71,491.77 Q524.04,494.04 524.49,497.23" fill="none" stroke="#d4e030" stroke-width="0.85" stroke-linecap="round"/>
<path d="M525.11,495.52 Q525.84,498.51 525.8,503.17" fill="none" stroke="#d4e030" stroke-width="0.85" stroke-linecap="round"/>
<path d="M525.47,498.47 Q526.3,502.01 527.08,505.9" fill="none" stroke="#d4e030" stroke-width="0.85" stroke-linecap="round"/>
<path d="M521.96,487.81 Q521.51,491.87 522.91,495.47" fill="none" stroke="#d4e030" stroke-width="0.85" stroke-linecap="round"/>
<path d="M525.62,493.78 Q527.01,498.19 529.67,502.58" fill="none" stroke="#d4e030" stroke-width="0.85" stroke-linecap="round"/>
<path d="M523.5,488.3 Q524.02,490.27 525.86,494.08" fill="none" stroke="#d4e030" stroke-width="0.85" stroke-linecap="round"/>
<path d="M524.3,493.93 Q526.01,498.31 528.03,502.86" fill="none" stroke="#d4e030" stroke-width="0.85" stroke-linecap="round"/>
<path d="M527.17,493.95 Q528.9,497.76 529.66,502.35" fill="none" stroke="#d4e030" stroke-width="0.85" stroke-linecap="round"/>
<path d="M520.97,495.34 Q520.79,499.83 522.15,503.35" fill="none" stroke="#d4e030" stroke-width="0.85" stroke-linecap="round"/>
<path d="M521.54,496.25 Q521.55,500.02 523.26,504.33" fill="none" stroke="#d4e030" stroke-width="0.85" stroke-linecap="round"/>
<path d="M525.12,487.22 Q527.57,490.66 528.61,493.58" fill="none" stroke="#d4e030" stroke-width="0.85" stroke-linecap="round"/>
<path d="M522.37,485.41 Q523.24,489.39 523.31,494.55" fill="none" stroke="#d4e030" stroke-width="0.85" stroke-linecap="round"/>
<path d="M525.57,485.84 Q527.92,488.01 528.45,492.04" fill="none" stroke="#d4e030" stroke-width="0.85" stroke-linecap="round"/>
<path d="M521.83,496.1 Q521.44,500.08 522.75,502.64" fill="none" stroke="#d4e030" stroke-width="0.85" stroke-linecap="round"/>
<path d="M581.8,528C581.3,528.1 579.8,528.6 578.9,528.6C577.9,528.7 576.9,528.5 575.9,528.2C574.9,527.9 573.9,527.7 573.1,527.1C572.3,526.5 571.6,525.6 571.2,524.8C570.7,523.9 570.6,522.9 570.3,521.9C570,521 569.3,520 569.4,519.1C569.4,518.1 570.2,517.2 570.6,516.3C570.9,515.4 571.3,514.5 571.6,513.5C571.9,512.6 572.1,511.5 572.4,510.6C572.8,509.7 573.7,507.9 573.8,508C573.9,508 573.3,509.9 573,510.8C572.6,511.8 572.4,512.9 571.8,513.6C571.1,514.3 569.9,514.4 569.1,515C568.3,515.6 567.9,516.7 567.1,517.2C566.3,517.7 565.2,518 564.2,518C563.2,517.9 562.3,517.2 561.4,517C560.4,516.8 559.3,516.5 558.4,516.7C557.5,517 556.3,518.2 555.9,518.4 M568.6,521.6C569.1,521.6 570.6,521.1 571.6,521.2C572.6,521.2 573.6,521.3 574.5,521.7C575.4,522 576.2,523 577.1,523.3C578,523.6 579.1,523.3 580.1,523.4C581,523.6 582.9,524 582.9,524.4C582.9,524.7 581,525 580.2,525.6C579.4,526.1 578.6,527.9 578.2,527.8C577.7,527.7 577.8,525.8 577.5,524.9C577.1,523.9 576.5,523.1 576.2,522.1C576,521.2 576,520.1 576,519.1C575.9,518.1 576.1,517.1 575.9,516.1C575.8,515.2 575.7,514 575.1,513.3C574.6,512.5 573.4,512.2 572.7,511.5C572.1,510.8 571.1,508.9 571.2,508.9C571.3,508.8 572.8,510.2 573.3,511.1C573.8,511.9 574,513 574.1,514C574.1,514.9 573.4,516 573.5,516.9C573.7,517.8 574.7,519.1 574.9,519.6 M557.2,518.2C556.8,518.5 555.6,519.5 555.1,520.3C554.6,521.1 554.1,522.2 554.1,523.1C554.1,524.1 554.8,525 555.2,525.9C555.6,526.8 555.9,527.9 556.6,528.6C557.2,529.3 558.4,529.8 559.3,529.9C560.2,529.9 561.2,529.2 562.2,529C563.2,528.8 564.2,528.7 565.2,528.7C566.2,528.7 567.2,528.7 568.2,528.8C569.1,528.9 570.2,529.3 571.1,529.1C572.1,528.9 572.8,528.1 573.7,527.6C574.6,527.1 575.5,526.7 576.4,526.3C577.3,525.9 578.3,525.6 579.2,525.1C580,524.6 580.8,523.9 581.4,523.1C582,522.4 582.6,521.4 582.7,520.4C582.9,519.5 582.6,518.4 582.5,517.4C582.5,516.4 582.4,515.4 582.3,514.5C582.1,513.5 581.2,511.7 581.4,511.6C581.6,511.5 583.2,513.3 583.5,513.7 M571.2,514.1C570.7,513.9 569.2,513.6 568.4,513.1C567.5,512.7 566.9,511.7 566,511.2C565.1,510.8 564.1,510.8 563.1,510.5C562.2,510.2 561.2,510 560.3,509.4C559.5,508.9 558,507.5 558.1,507.4C558.1,507.4 559.8,508.5 560.6,509C561.5,509.6 562.5,510 563.1,510.7C563.7,511.5 564.2,512.6 564.2,513.5C564.1,514.5 563.6,515.5 563.1,516.3C562.5,517.1 561.5,517.6 560.9,518.4C560.2,519.1 559.6,519.9 559.2,520.8C558.8,521.7 558.8,522.8 558.4,523.7C558.1,524.7 557.3,525.5 557.2,526.5C557,527.4 557.9,529.1 557.5,529.4C557.1,529.8 554.8,529 554.7,528.4C554.5,527.9 555.8,526.8 556.5,526.1C557.3,525.4 558.2,524.9 558.9,524.2C559.6,523.6 560.6,522.4 560.9,522 M580,525.8C579.5,525.8 578,525.7 577,525.9C576.1,526.1 574.9,526.2 574.2,526.8C573.4,527.4 573.1,529.3 572.5,529.3C572,529.3 571.1,527.8 570.8,526.9C570.5,526 570.8,524.8 570.6,523.9C570.4,522.9 570.1,521.8 569.5,521.1C568.9,520.4 567.5,520.4 566.8,519.7C566.2,519 566.2,517.8 565.7,516.9C565.2,516.1 564.4,515.3 564.1,514.4C563.7,513.5 563.8,512.4 563.6,511.4C563.4,510.5 563,508.5 563,508.5C562.9,508.5 563,510.6 563.4,511.5C563.8,512.3 564.8,512.9 565.5,513.6C566.2,514.3 567.1,514.9 567.7,515.7C568.4,516.4 568.6,517.6 569.4,518.2C570.2,518.7 571.5,518.4 572.3,518.9C573.1,519.4 573.5,520.6 574.2,521.3C574.9,521.9 576.2,522.8 576.6,523.1 M571.3,509.7C571.8,509.6 573.4,509.2 574.3,509.3C575.3,509.4 576.4,509.7 577.2,510.2C577.9,510.8 578.6,511.8 578.9,512.7C579.2,513.6 578.9,514.7 578.8,515.7C578.8,516.7 578.4,517.8 578.6,518.7C578.8,519.6 579.8,520.3 580.2,521.2C580.5,522.2 580.4,523.2 580.6,524.2C580.7,525.2 581,527.2 580.9,527.2C580.8,527.2 580.2,525.3 580,524.4C579.7,523.4 579.7,522.4 579.6,521.4C579.5,520.4 579.8,519.3 579.5,518.4C579.3,517.4 578.7,516.5 578,515.8C577.4,515.1 576.4,514.5 575.4,514.3C574.5,514.1 573.4,514.4 572.5,514.6C571.5,514.8 570.4,514.9 569.5,515.2C568.6,515.6 567.9,516.6 566.9,516.7C566,516.9 564.9,516.1 564,516.3C563,516.5 561.8,517.5 561.4,517.8 M574.3,510.6C574.4,511.1 574.6,512.6 575.1,513.5C575.6,514.3 576.5,515 577.1,515.8C577.7,516.6 578.2,517.4 578.7,518.3C579.1,519.2 579.5,520.1 579.9,521C580.4,521.9 581.8,523.1 581.6,523.5C581.4,523.8 579.6,523 578.6,523.1C577.7,523.2 576.8,524.1 575.9,524.3C574.9,524.6 573.9,524.5 572.9,524.7C571.9,524.9 571,525.4 570,525.6C569.1,525.8 568.1,526.1 567.1,526.1C566.1,526 565.2,525.1 564.2,525.1C563.3,525.1 562.3,525.7 561.4,526.1C560.5,526.4 559.5,526.8 558.7,527.3C557.8,527.8 557.2,528.8 556.3,529.1C555.4,529.4 553.3,529.4 553.3,529.1C553.2,528.9 555.2,528.4 556,527.8C556.7,527.2 557.2,526.3 557.8,525.5C558.4,524.7 559.2,523.4 559.5,523 M547.7,519.3C548.2,519.3 549.7,519.1 550.7,519C551.6,518.9 552.6,518.8 553.6,518.7C554.6,518.7 555.7,518.9 556.6,518.6C557.6,518.4 558.4,517.7 559.3,517.3C560.2,516.9 561.3,516.7 562.1,516.3C563,515.8 563.7,515 564.6,514.5C565.5,514.1 566.7,514.2 567.4,513.6C568.2,513 568.4,511.7 569.1,511.1C569.8,510.4 570.9,510.2 571.7,509.7C572.6,509.2 573.8,507.9 574.3,508.1C574.8,508.3 574.3,510.1 574.6,511.1C574.9,512 575.5,512.9 575.8,513.8C576.1,514.8 576,515.9 576.5,516.8C577,517.6 578.2,517.9 578.7,518.8C579.2,519.6 578.9,520.8 579.3,521.7C579.7,522.6 581.3,523.8 581.1,524.1C580.9,524.4 579.1,523.5 578.2,523.6C577.2,523.7 575.9,524.7 575.5,524.9 M563.4,529.2C563.8,529.5 565.9,530.9 565.7,531.1C565.6,531.4 563.7,530.9 562.8,530.7C561.8,530.5 560.9,529.8 560,529.7C559,529.6 557.3,530.7 557,530.3C556.7,529.9 557.6,528.4 558,527.4C558.4,526.5 559.1,525.7 559.4,524.8C559.7,523.8 559.9,522.7 559.7,521.8C559.4,520.9 558.4,520.2 557.9,519.3C557.5,518.5 557,517.5 557,516.5C556.9,515.5 557.2,514.5 557.7,513.6C558.1,512.7 558.8,511.8 559.6,511.3C560.4,510.7 561.6,510.8 562.4,510.2C563.2,509.7 564.1,508 564.5,508.1C564.9,508.3 564.8,510.1 564.9,511.1C564.9,512.1 564.9,513.1 564.8,514.1C564.7,515.1 564.5,516.1 564.2,517C563.9,518 563.5,518.9 563.1,519.8C562.6,520.7 561.9,522.1 561.7,522.5 M555.5,513.2C556,513.2 557.5,512.9 558.5,512.8C559.5,512.8 560.6,513.1 561.5,512.8C562.4,512.5 563,511.4 563.9,511C564.8,510.7 566,510.6 566.9,510.8C567.8,511.1 568.4,512.2 569.3,512.6C570.2,512.9 571.5,512.4 572.3,512.8C573.2,513.3 573.8,514.2 574.4,515C575.1,515.8 575.3,516.9 576.1,517.5C576.9,518 578,518 579,518.2C580,518.3 581,518.4 582,518.3C583,518.3 584.7,517.5 585,517.9C585.2,518.3 583.7,519.6 583.5,520.5C583.3,521.5 584.3,523.2 583.9,523.5C583.6,523.8 582.1,522.3 581.2,522.3C580.3,522.2 579.3,522.9 578.3,523.2C577.4,523.5 576.5,523.9 575.6,524.3C574.6,524.7 573.6,525 572.8,525.5C572,526.1 571.1,527.3 570.8,527.7 M580.1,527.5C579.7,527.3 578.4,526.6 577.4,526.2C576.5,525.9 575.4,525.9 574.5,525.5C573.6,525.1 572.7,524.5 572.1,523.8C571.4,523.1 571.1,522 570.5,521.3C569.9,520.5 569,519.9 568.4,519.1C567.9,518.3 567.7,517.2 567.2,516.3C566.7,515.5 566.2,514.5 565.5,513.9C564.7,513.3 563.7,513 562.8,512.6C561.9,512.2 560.9,511.7 559.9,511.6C559,511.6 558,512.3 557,512.4C556,512.5 555,512 554,512.1C553.1,512.3 552.1,512.7 551.2,513C550.2,513.3 548.3,514 548.3,513.9C548.3,513.8 550.1,512.9 551,512.6C551.9,512.2 552.9,511.6 553.8,511.6C554.8,511.6 555.8,512.1 556.7,512.5C557.6,512.9 558.4,513.6 559.1,514.3C559.8,515 560.6,516.3 560.9,516.7 M573.6,523.2C574.1,523 575.4,522.4 576.4,522.1C577.4,521.9 578.4,521.8 579.4,521.7C580.4,521.7 581.4,521.6 582.4,521.6C583.4,521.6 585.4,521.6 585.4,521.6C585.4,521.6 583.4,521.4 582.4,521.5C581.4,521.6 580.3,521.8 579.5,522.3C578.6,522.8 578,523.6 577.2,524.3C576.5,525 575.6,525.5 575,526.3C574.4,527.1 574.1,528.1 573.4,528.8C572.8,529.6 571.3,530.9 571.1,530.8C571,530.6 572.4,529 572.4,528.1C572.5,527.1 572,526 571.6,525.2C571.1,524.3 570.2,523.8 569.6,523C569,522.2 568.6,521.2 568,520.4C567.4,519.6 566.6,518.9 566.1,518.1C565.5,517.3 565.2,516.3 564.8,515.4C564.3,514.5 564.1,513.4 563.4,512.7C562.7,512.1 561.2,511.5 560.8,511.3 M571.8,529.5C571.3,529.4 569.8,529.3 568.8,529.1C567.8,528.9 566.8,528.6 565.9,528.2C565,527.9 564.1,527.3 563.2,526.9C562.3,526.4 561.4,526 560.6,525.5C559.7,525.1 558.5,524.8 557.9,524.1C557.3,523.4 556.9,522.3 556.9,521.3C556.8,520.4 557.3,519.4 557.5,518.4C557.6,517.4 557.4,516.3 557.8,515.4C558.1,514.5 558.7,513.7 559.4,512.9C560,512.1 560.7,511.3 561.6,510.9C562.4,510.4 563.5,509.9 564.5,510C565.4,510.1 566.2,511.2 567.2,511.3C568.1,511.5 569.2,511.2 570.1,510.8C571,510.4 572.1,508.8 572.6,509C573,509.3 572.9,511.1 572.8,512C572.6,513 572.2,514.1 571.6,514.8C571,515.5 569.7,515.7 569,516.3C568.3,517 567.6,518.3 567.3,518.7 M564.5,527.6C564.5,527.1 564.1,525.5 564.4,524.6C564.6,523.7 565.2,522.7 565.9,522C566.6,521.4 568,521.5 568.7,520.9C569.4,520.3 569.6,519 570.3,518.4C571.1,517.8 572.3,517.9 573.2,517.5C574.1,517.1 574.8,516.3 575.6,515.8C576.5,515.3 577.4,514.7 578.3,514.5C579.3,514.2 581.1,513.9 581.3,514.3C581.6,514.7 580.1,515.9 579.7,516.8C579.3,517.7 579.4,518.9 578.9,519.7C578.4,520.5 577.4,521.1 576.6,521.6C575.7,522 574.6,522.4 573.7,522.3C572.7,522.2 571.9,521.1 571,521C570,520.8 569,521.3 568,521.4C567,521.4 566,521.5 565,521.3C564,521 562.9,520.7 562.3,520.1C561.6,519.4 561.2,518.3 560.9,517.4C560.6,516.5 560.5,514.9 560.4,514.4 M557.2,510.2C557.5,510.5 558.7,511.5 559.4,512.2C560.1,512.9 560.7,513.8 561.4,514.4C562.2,515 563,515.7 563.9,516C564.9,516.3 566,516.4 566.9,516.1C567.9,515.9 568.6,514.9 569.5,514.5C570.3,514 571.3,513.6 572.3,513.6C573.3,513.5 574.3,514.2 575.3,514.1C576.2,514 577.1,513.3 578,512.9C579,512.6 580.8,511.9 580.8,511.8C580.8,511.8 578.9,512.3 578,512.7C577,513 576.2,513.6 575.3,514.1C574.4,514.5 573.5,515.2 572.6,515.4C571.6,515.6 570.5,515 569.6,515.3C568.7,515.6 568.2,516.8 567.3,517.2C566.4,517.6 565.3,517.6 564.3,517.6C563.3,517.5 562.3,517.2 561.4,516.7C560.5,516.3 559.9,515.4 559,514.9C558.1,514.4 556.7,514 556.2,513.8 M564.7,528.7C565.2,528.6 566.6,528.2 567.6,528C568.6,527.9 569.7,527.6 570.6,527.9C571.5,528.2 573,529.2 573,529.7C573,530.3 570.8,531.5 570.4,531.2C569.9,530.9 570.4,529.2 570.3,528.2C570.2,527.2 569.9,526.2 570,525.2C570.1,524.2 570.6,523.3 571,522.4C571.4,521.5 571.8,520.5 572.3,519.7C572.8,518.8 573.9,518.2 574.2,517.3C574.5,516.4 574.4,515.3 574.2,514.3C574,513.4 573.3,512.5 572.9,511.6C572.5,510.7 571.8,508.8 572,508.8C572.1,508.7 572.9,510.6 573.7,511.2C574.4,511.8 575.5,512.2 576.5,512.3C577.4,512.3 579.1,511.1 579.4,511.5C579.7,511.8 578.6,513.3 578.2,514.2C577.9,515.2 577.6,516.1 577.4,517.1C577.3,518.1 577.4,519.6 577.4,520.1 M553.2,509.6C553.5,510 554.5,511.2 554.9,512.1C555.4,512.9 556,513.9 556.1,514.8C556.2,515.8 555.4,516.8 555.4,517.7C555.5,518.7 556.2,519.6 556.4,520.6C556.7,521.5 556.7,522.6 556.9,523.5C557.2,524.5 557.9,525.4 558,526.3C558.1,527.3 557.8,529.3 557.5,529.3C557.3,529.3 556.8,527.4 556.6,526.5C556.3,525.5 556,524.4 556.1,523.5C556.3,522.5 556.8,521.5 557.5,520.8C558.1,520.2 559.5,520.2 560.2,519.6C560.9,519 561.4,518 561.9,517.1C562.4,516.3 563.2,515.5 563.4,514.5C563.6,513.6 563.1,512.5 563.1,511.5C563,510.5 562.6,508.8 563,508.5C563.4,508.3 564.9,509.4 565.6,510C566.4,510.6 566.9,511.5 567.7,512.2C568.5,512.8 569.8,513.6 570.2,513.9 M547.4,527.6C546.9,527.7 544.6,528.4 544.5,528.1C544.3,527.9 546.2,526.9 546.6,526C547,525.2 546.7,524 547,523C547.3,522.1 547.9,521.2 548.5,520.5C549.2,519.7 550.3,519.3 550.8,518.5C551.3,517.7 551.3,516.5 551.6,515.6C552,514.7 552.8,513.9 553,512.9C553.2,512 552.4,510.1 552.7,510C553,509.8 553.8,511.8 554.6,512.3C555.4,512.8 556.5,513 557.5,513.1C558.4,513.3 559.5,513.1 560.5,513C561.5,513 562.4,512.8 563.4,512.7C564.4,512.6 565.4,512.5 566.4,512.5C567.4,512.6 568.6,512.6 569.4,513.1C570.2,513.6 570.7,514.7 571.4,515.3C572.2,515.9 573.1,516.5 573.9,516.9C574.8,517.4 575.8,517.8 576.8,518C577.7,518.1 579.2,517.8 579.7,517.7" fill="none" stroke="#a82020" stroke-width="0.5" stroke-linecap="round"/>
<path d="M603.7,520C603.9,520.3 604.7,521.3 605.3,522C605.9,522.6 606.8,523 607.2,523.7C607.7,524.4 608.3,526 608,526.2C607.8,526.4 606.4,525.5 605.8,524.9C605.2,524.3 604.9,523.4 604.4,522.7C603.9,522 603.4,521.3 602.9,520.6C602.5,519.8 602.2,518.9 601.7,518.3C601.2,517.6 600.4,517.1 599.7,516.5C599.1,516 597.5,515.2 597.6,515.1C597.6,515 599.2,515.9 600.1,515.9C600.9,515.8 602.3,514.8 602.5,515C602.7,515.2 601.5,516.4 601.2,517.2C600.9,518 600.8,518.9 600.7,519.8C600.7,520.7 600.9,521.5 601.1,522.4C601.4,523.2 601.6,524.1 602.1,524.8C602.6,525.5 603.7,526.2 604,526.5 M599.8,515C600,515.4 600.4,516.7 600.9,517.3C601.4,518 602.4,518.3 602.9,518.9C603.5,519.6 603.7,520.5 604,521.3C604.2,522.2 604.4,523.1 604.3,523.9C604.2,524.7 603.3,525.4 603.2,526.2C603,527.1 603.8,528.6 603.4,528.8C603,529.1 601.8,528.1 601,527.9C600.2,527.7 599.3,527.7 598.4,527.6C597.5,527.5 596.6,527.6 595.8,527.3C595,527 594.2,526.5 593.7,525.8C593.1,525.2 592.7,524.3 592.5,523.5C592.4,522.7 593,521.7 592.8,520.9C592.5,520.1 591.9,519.3 591.2,518.8C590.5,518.4 589.5,518.3 588.7,518.2C587.8,518.2 586.2,518.6 586.1,518.3C586,518 587.6,516.8 588,516.5 M586.2,519.7C586.3,520.1 586.4,521.5 586.8,522.3C587.1,523 587.7,523.7 588.3,524.3C588.9,525 589.6,525.6 590.4,525.9C591.2,526.3 592.2,526 593,526.4C593.7,526.7 594.2,527.7 595,528C595.7,528.4 596.7,528.3 597.5,528.3C598.4,528.4 599.3,528.5 600.1,528.4C601,528.2 601.8,527.8 602.5,527.4C603.2,526.9 603.6,525.8 604.4,525.5C605.1,525.2 606.1,525.3 607,525.4C607.8,525.5 609.5,526 609.5,526.2C609.5,526.3 607.7,526 606.9,526.1C606,526.2 605.1,526.8 604.3,526.7C603.5,526.5 602.6,526 602.1,525.4C601.5,524.8 601.4,523.8 601.1,523C600.9,522.1 600.8,520.8 600.7,520.4 M591.5,515.1C591.9,514.9 593.1,514.2 593.9,514.2C594.8,514.1 595.8,514.2 596.5,514.6C597.2,515 597.7,515.9 598.1,516.7C598.4,517.5 598.2,518.5 598.5,519.2C598.8,520 599.7,520.7 599.9,521.5C600,522.2 599.7,523.2 599.4,524C599.2,524.9 598.6,525.7 598.6,526.5C598.6,527.3 599,528.2 599.5,528.9C600,529.6 601.3,530.7 601.3,530.7C601.4,530.7 600,529.5 599.6,528.8C599.2,528.1 599,527.2 598.9,526.3C598.8,525.5 598.9,524.6 599,523.7C599.2,522.9 599.9,522.1 599.8,521.2C599.8,520.4 598.9,519.7 598.8,518.8C598.8,518 599.4,517.2 599.5,516.3C599.6,515.5 599.4,514.2 599.3,513.7 M604.5,522.6C604,522.6 602.7,522.9 601.9,522.7C601.1,522.5 600.3,521.9 599.7,521.2C599.2,520.6 599,519.7 598.5,518.9C598.1,518.2 597.3,517.6 597,516.8C596.7,516.1 596.3,514.5 596.7,514.2C597.1,514 598.3,514.9 599.2,515.1C600,515.3 600.9,515.5 601.7,515.5C602.6,515.5 603.9,514.7 604.3,515.1C604.7,515.5 604,516.8 604,517.7C604,518.5 603.8,519.5 604.1,520.3C604.4,521 605.6,521.4 605.9,522.1C606.2,522.9 606.2,523.9 606.1,524.7C606,525.5 605.4,526.3 605.1,527.1C604.7,527.9 604.6,529.4 604.1,529.5C603.6,529.7 602.8,528.3 602.1,527.9C601.3,527.6 600,527.3 599.6,527.2 M604.5,518.8C604.9,519 606,519.6 606.8,520.1C607.5,520.5 608.1,521.3 608.9,521.5C609.7,521.8 611.4,521.3 611.5,521.6C611.7,522 610.3,522.9 609.7,523.4C609,524 608.4,524.7 607.7,525.1C606.9,525.5 606,525.6 605.2,525.9C604.4,526.2 603.7,527 602.9,527.1C602,527.1 601.2,526.4 600.4,526.3C599.5,526.3 598.6,526.7 597.8,526.6C596.9,526.5 596.1,525.8 595.3,525.8C594.4,525.9 593.6,526.7 592.8,526.7C592,526.7 591.1,526.3 590.3,526C589.5,525.7 588.7,525.2 587.9,525.1C587,525 585.3,525.6 585.3,525.5C585.3,525.4 587,524.7 587.8,524.7C588.6,524.7 589.9,525.3 590.3,525.4 M589.2,527.9C589.6,527.7 590.7,526.9 591.5,526.7C592.3,526.4 593.3,526.5 594.1,526.6C595,526.7 595.8,527 596.6,527.3C597.4,527.6 598.2,528 599,528.3C599.8,528.6 600.7,528.8 601.5,528.9C602.4,528.9 604.1,528.7 604.1,528.7C604.1,528.8 602.4,529.3 601.6,529.3C600.7,529.3 599.7,529.2 599,528.7C598.3,528.3 598.1,527.2 597.4,526.7C596.7,526.3 595.7,526.4 594.9,526.1C594,525.9 593.2,525.7 592.4,525.3C591.6,524.9 591.1,524.1 590.3,523.7C589.6,523.3 588.6,523 587.8,523.1C587,523.2 585.5,524.4 585.5,524.4C585.5,524.4 586.9,523.3 587.7,523C588.5,522.8 589.9,522.8 590.3,522.7 M603.1,519.4C602.6,519.4 601.3,519 600.5,519.2C599.7,519.4 599,520.2 598.2,520.5C597.4,520.8 596.5,521 595.7,521C594.8,521.1 594,520.8 593.1,520.7C592.2,520.7 591.3,520.9 590.5,520.6C589.8,520.3 589.2,519.5 588.6,518.8C588,518.2 587,516.8 587,516.7C587.1,516.7 588,518.2 588.7,518.8C589.4,519.3 590.2,519.5 591.1,519.8C591.9,520.1 592.7,520.5 593.6,520.6C594.4,520.7 595.3,520.5 596.2,520.5C597,520.5 597.9,520.3 598.8,520.4C599.6,520.6 600.6,520.8 601.2,521.3C601.8,521.9 602.2,522.8 602.4,523.6C602.5,524.5 602.4,525.5 602,526.2C601.7,527 600.7,527.9 600.4,528.3 M609.3,525.6C609,525.2 608.3,524.2 607.7,523.6C607.1,523 606.4,522.4 605.7,521.8C605.1,521.2 604.5,520.5 603.8,520.1C603,519.8 602,520.1 601.2,519.8C600.4,519.4 600,518.6 599.3,518C598.6,517.5 597.8,517 597,516.7C596.2,516.4 595.3,516.2 594.5,516.3C593.7,516.4 592.9,517.1 592.2,517.5C591.4,517.8 590.5,518.1 589.8,518.5C589,519 588.5,519.9 587.7,520.1C586.9,520.4 585.2,520.3 585.1,520.1C585.1,519.9 586.7,519.4 587.5,519C588.3,518.7 589.2,518.3 589.8,517.8C590.4,517.2 590.6,515.6 591.1,515.5C591.6,515.5 592.4,516.7 592.9,517.4C593.4,518.1 593.9,519.3 594.1,519.7 M600.7,521.9C600.2,522 598.9,522.3 598.1,522.2C597.3,522 596.6,521 595.8,520.9C595,520.7 594,521 593.2,521.3C592.4,521.6 591.8,522.4 591,522.7C590.2,522.9 589.3,522.7 588.5,523C587.6,523.2 586.3,524.2 586,523.9C585.8,523.7 586.6,522.3 586.8,521.5C587,520.6 586.9,519 587.3,518.9C587.7,518.8 588.6,520.1 589.1,520.8C589.5,521.6 589.5,522.6 590,523.3C590.5,523.9 591.4,524.3 592.1,524.8C592.8,525.3 593.5,525.8 594.1,526.5C594.6,527.1 594.9,528 595.4,528.7C596,529.3 597.3,530.4 597.3,530.5C597.2,530.6 595.8,529.6 595,529.3C594.2,528.9 592.9,528.7 592.5,528.5 M600.9,515.9C600.7,516.3 600.1,517.5 599.6,518.2C599.2,518.9 598.5,519.5 598,520.2C597.5,520.9 596.7,521.5 596.5,522.3C596.2,523.1 596.6,524 596.6,524.9C596.7,525.8 596.9,526.7 596.7,527.5C596.4,528.3 595.7,529.7 595.3,529.7C594.9,529.7 594.8,528 594.2,527.4C593.7,526.7 592.9,526.3 592.3,525.7C591.7,525.1 591.3,524.2 590.6,523.7C590,523.1 589.1,522.6 588.3,522.5C587.5,522.3 586.1,523.1 585.7,522.8C585.4,522.4 586,521 586.2,520.2C586.5,519.4 586.7,518.4 587.2,517.8C587.7,517.1 588.5,516.6 589.3,516.3C590.1,515.9 591,515.8 591.8,515.7C592.7,515.6 594,515.6 594.4,515.5 M606.9,527.3C606.6,527 605.5,526.1 605.3,525.3C605,524.6 605,523.5 605.3,522.7C605.6,522 606.3,521.3 607,520.7C607.6,520.1 608.8,519 609,519.1C609.1,519.2 608.1,520.6 607.8,521.4C607.5,522.2 607.2,523.1 607.2,523.9C607.3,524.8 608.5,526.1 608.2,526.4C608,526.6 606.6,525.7 605.7,525.6C604.9,525.5 604,525.9 603.2,525.9C602.3,525.9 601.4,525.8 600.6,525.6C599.7,525.4 598.9,525.1 598.1,524.8C597.3,524.4 596.4,524.1 595.9,523.5C595.3,522.9 595.3,521.7 594.8,521.1C594.2,520.6 593.2,520.3 592.4,520.2C591.5,520 590.5,520 589.8,520.3C589,520.6 588,521.6 587.7,521.9" fill="none" stroke="#3cc0c0" stroke-width="0.6" stroke-linecap="round"/>
<path d="M623.3,459.4 C625.15,458 629.07,457.3 631.6,458 C634.13,458.7 636.18,461.98 638.5,463.6 C640.82,465.22 643.65,466.32 645.5,467.7 C647.35,469.08 649.6,469.12 649.6,471.9 C649.6,474.68 648.03,480.93 645.5,484.4 C642.97,487.87 636.48,489.93 634.4,492.7 C632.32,495.47 633.93,498.45 633,501 C632.07,503.55 631.35,506.38 628.8,508 C626.25,509.62 620.93,510.7 617.7,510.7 C614.47,510.7 611.47,510.07 609.4,508 C607.33,505.93 605.77,501.3 605.3,498.3 C604.83,495.3 605.45,492.55 606.6,490 C607.75,487.45 610.12,485.55 612.2,483 C614.28,480.45 617.72,477.47 619.1,474.7 C620.48,471.93 619.8,468.95 620.5,466.4 C621.2,463.85 621.45,460.8 623.3,459.4Z" fill="#d8d8d8" stroke="#9a9a9a" stroke-width="0.7"/>
<path d="M623.72,462.79 C625.31,461.59 628.68,460.98 630.86,461.59 C633.04,462.19 634.8,465.01 636.79,466.4 C638.79,467.79 641.22,468.74 642.81,469.93 C644.4,471.12 646.34,471.15 646.34,473.54 C646.34,475.93 644.99,481.31 642.81,484.29 C640.64,487.27 635.06,489.05 633.27,491.43 C631.48,493.81 632.87,496.37 632.06,498.57 C631.26,500.76 630.64,503.2 628.45,504.59 C626.26,505.98 621.69,506.91 618.91,506.91 C616.13,506.91 613.55,506.36 611.77,504.59 C609.99,502.81 608.64,498.82 608.24,496.24 C607.84,493.66 608.37,491.3 609.36,489.11 C610.35,486.91 612.38,485.28 614.18,483.09 C615.97,480.89 618.92,478.33 620.11,475.95 C621.3,473.57 620.71,471 621.31,468.81 C621.92,466.62 622.13,463.99 623.72,462.79Z" fill="#f0f0f0" filter="url(#bl4)"/>
<ellipse cx="625" cy="485" rx="12" ry="16" fill="#c070d0" opacity="0.15" filter="url(#bl2)"/>
<path d="M627.6,480.7C627.1,480.6 625.9,480.1 625,480.1C624.2,480.1 622.7,481 622.5,480.7C622.3,480.4 623.2,479 623.7,478.4C624.3,477.8 625.2,477.5 625.9,476.9C626.5,476.3 626.8,475.4 627.4,474.8C628,474.2 628.8,473.8 629.5,473.3C630.3,472.9 631.1,472.5 631.9,472.2C632.7,471.9 633.7,472.1 634.4,471.7C635.1,471.2 635.6,470.3 636,469.6C636.5,468.9 637.2,467.3 637.1,467.3C637.1,467.2 636.2,468.7 635.8,469.5C635.4,470.3 635,471.1 634.9,471.9C634.7,472.8 635.1,473.8 634.8,474.5C634.5,475.3 633.7,475.8 633,476.4C632.4,477 631.7,477.6 631,478C630.2,478.4 628.9,478.8 628.5,478.9 M629.7,475.3C629.5,475.7 628.7,476.7 628.4,477.5C628,478.3 627.8,479.2 627.8,480.1C627.8,480.9 628.4,482.6 628.2,482.6C628.1,482.7 627.6,480.9 627,480.4C626.3,479.8 625.4,479.4 624.6,479.3C623.8,479.2 622.1,479.9 622,479.6C621.9,479.4 623.2,478.2 623.9,477.8C624.7,477.5 625.7,477.6 626.5,477.8C627.3,477.9 628.2,478.4 628.9,478.8C629.6,479.2 630.4,479.7 631,480.4C631.5,481 632.5,482.2 632.3,482.6C632.1,483 630.6,482.7 629.7,482.7C628.9,482.8 627.5,483.2 627.1,482.8C626.8,482.4 627.4,481.1 627.6,480.3C627.8,479.4 628.3,478.5 628.2,477.7C628,476.9 627.1,475.8 626.9,475.4 M622.8,465.9C622.6,466.3 621.7,467.3 621.4,468.1C621.1,468.9 620.9,469.9 621.1,470.7C621.2,471.5 621.7,472.4 622.3,473C622.9,473.6 624,473.6 624.6,474.2C625.1,474.9 625.5,475.8 625.5,476.6C625.6,477.5 625.2,478.4 624.7,479.1C624.2,479.8 623,480.8 622.5,480.6C622.1,480.4 622.3,478.8 622,478C621.6,477.3 620.7,476.8 620.4,476C620.1,475.2 619.8,473.8 620.2,473.4C620.6,473 621.9,473.8 622.7,473.7C623.6,473.6 624.3,473 625.1,472.7C626,472.5 626.9,472.1 627.7,472.2C628.5,472.4 629.4,472.9 630,473.5C630.5,474.1 630.9,475.1 631,475.9C631.1,476.7 630.8,478.1 630.7,478.5 M626.6,477.4C627,477.5 628.4,477.5 629.1,477.9C629.8,478.3 630.4,479.2 630.7,479.9C631.1,480.7 631.5,482.4 631.4,482.4C631.4,482.5 630.5,480.9 630.3,480.1C630,479.3 630,478.4 629.8,477.6C629.6,476.7 629.3,475.9 629.1,475.1C628.9,474.2 628.5,473.3 628.7,472.5C628.8,471.7 629.4,470.9 629.9,470.2C630.3,469.4 631.1,468.8 631.3,468C631.5,467.2 631.1,466.3 630.9,465.4C630.8,464.6 630.4,462.9 630.4,462.9C630.4,462.9 631,464.5 631.1,465.4C631.2,466.2 631.1,467.1 631,468C631,468.9 631.3,469.8 631,470.6C630.8,471.4 630.1,472.1 629.4,472.6C628.8,473.2 627.6,473.7 627.2,474 M624.8,476.8C624.8,476.3 624.6,474.9 624.9,474.2C625.2,473.4 626,472.8 626.5,472.1C627,471.4 627.3,470.5 627.9,469.9C628.5,469.4 629.7,469.3 630.2,468.7C630.7,468.1 630.9,467.1 631.1,466.3C631.3,465.5 631,463.8 631.3,463.7C631.7,463.6 632.5,465 633.3,465.4C634,465.9 634.9,465.9 635.7,466.2C636.5,466.6 637.3,467 637.9,467.6C638.6,468.2 639,469 639.4,469.8C639.8,470.5 640.2,471.4 640.3,472.2C640.3,473 640.1,474.6 639.6,474.7C639.1,474.9 638.3,473.6 637.5,473.2C636.7,472.8 635.9,472.6 635,472.4C634.2,472.2 633.2,472.3 632.4,472C631.7,471.7 630.6,470.8 630.3,470.6 M634.5,482.2C634.8,481.9 635.6,480.9 636.3,480.4C637.1,479.9 638.7,479.3 638.7,479.4C638.8,479.5 637.3,480.3 636.5,480.7C635.8,481.2 635.1,481.7 634.3,482C633.5,482.3 632.6,482.7 631.7,482.7C630.9,482.7 630,482.4 629.2,481.9C628.5,481.5 628.1,480.5 627.4,480.1C626.7,479.7 625.7,479.4 624.9,479.4C624.1,479.5 622.6,480.6 622.5,480.5C622.5,480.4 623.7,479.2 624.4,478.7C625.2,478.3 626.2,478.4 626.9,478C627.7,477.6 628.1,476.6 628.8,476.3C629.6,475.9 630.5,475.7 631.4,475.7C632.2,475.7 633.1,476.2 633.9,476.1C634.8,476 635.7,475.7 636.4,475.2C637.1,474.8 637.8,473.6 638.1,473.3 M633,475.3C632.9,475.7 632.7,477.1 632.8,477.9C633,478.7 633.7,479.5 633.8,480.3C633.9,481.1 633.5,482.9 633.5,482.9C633.5,482.9 634,481.2 633.9,480.3C633.8,479.5 633.1,478.8 632.9,477.9C632.6,477.1 632.6,476.2 632.6,475.4C632.5,474.5 632.3,473.6 632.5,472.8C632.7,472 633.5,471.3 633.9,470.6C634.4,469.9 634.8,469.1 635.2,468.3C635.6,467.5 635.7,466 636.1,465.9C636.6,465.8 637.4,467.2 637.7,468C638.1,468.7 637.9,469.7 638.1,470.5C638.3,471.4 639,472.1 639.1,472.9C639.2,473.7 638.5,474.7 638.6,475.5C638.7,476.3 639.8,477.8 639.8,477.8C639.8,477.8 638.7,475.9 638.5,475.5 M621,477.2C621.4,476.9 622.4,476.2 623.2,475.7C623.9,475.3 624.8,475 625.5,474.6C626.3,474.2 627.2,473.9 627.7,473.2C628.2,472.6 628.1,471.5 628.6,470.8C629,470.1 629.9,469.6 630.5,469C631.2,468.5 631.7,467.7 632.5,467.3C633.2,466.9 634.3,467.1 635,466.6C635.6,466.1 636,464.4 636.4,464.5C636.9,464.5 637.2,466.1 637.8,466.7C638.3,467.3 639.9,468.2 639.9,468.2C639.8,468.3 638.4,467.1 637.6,467C636.8,466.9 635.7,467.2 635,467.7C634.4,468.1 634,469 633.5,469.8C633.1,470.5 632.7,471.3 632.4,472.1C632.1,472.9 632.2,473.9 631.8,474.6C631.3,475.4 630.2,476.2 629.9,476.5 M636.7,468.1C636.6,467.7 635.9,465.7 636,465.6C636.1,465.6 636.9,467.1 637.3,467.9C637.6,468.7 637.5,469.7 637.9,470.4C638.4,471.1 640,471.8 639.9,472.1C639.9,472.3 638.2,472 637.3,472.1C636.5,472.1 635.6,472.2 634.8,472.4C633.9,472.5 633.1,472.7 632.2,472.8C631.3,472.9 630.5,473.1 629.6,473.1C628.8,473 627.9,472.7 627.1,472.6C626.2,472.5 625.3,472.5 624.5,472.4C623.6,472.4 622.7,472.5 621.9,472.2C621.1,472 619.6,471 619.7,470.8C619.7,470.7 621.4,471.4 622.2,471.4C623.1,471.4 624,471.2 624.7,470.7C625.5,470.3 626.1,469.6 626.6,468.9C627,468.2 627.5,466.9 627.7,466.5 M638.4,470.9C638.1,471.2 637.2,472.1 636.4,472.5C635.7,473 634.8,473.1 634,473.5C633.3,473.9 632.6,474.6 631.9,475C631.1,475.3 630.2,475.4 629.3,475.5C628.5,475.7 627.6,476.2 626.8,476.1C626,476 625.2,475.3 624.5,474.9C623.7,474.6 622.9,474.2 622.1,473.8C621.4,473.3 620,472.3 620.1,472.2C620.2,472 621.8,472.6 622.6,473C623.4,473.3 624,474 624.8,474.3C625.6,474.5 626.6,474.3 627.4,474.3C628.3,474.4 629.1,474.6 630,474.7C630.9,474.7 631.8,474.6 632.6,474.7C633.5,474.9 634.4,475.1 635.1,475.5C635.8,475.9 636.3,476.8 637.1,477.2C637.8,477.6 639.2,477.7 639.6,477.9 M627.6,468.4C628,468.3 629.3,468 630.1,467.8C630.9,467.5 631.7,466.9 632.5,466.9C633.4,467 634.3,467.4 635,467.9C635.7,468.3 636.4,469 636.8,469.7C637.2,470.4 637.2,471.4 637.4,472.2C637.6,473.1 637.6,474 638,474.8C638.4,475.5 640,476.3 639.9,476.6C639.8,476.9 638.1,476.4 637.3,476.7C636.5,477 635.9,477.7 635.3,478.3C634.6,478.9 634.1,479.6 633.5,480.2C632.9,480.9 632.1,482.3 631.9,482.3C631.6,482.2 631.6,480.4 631.9,479.7C632.2,478.9 633.1,478.3 633.7,477.7C634.2,477.1 635.1,476.6 635.5,475.9C635.9,475.2 636.2,474.2 636.2,473.4C636.2,472.5 635.8,471.3 635.7,470.8 M633.4,473.3C633,473.5 631.9,474.2 631.2,474.7C630.5,475.2 629.9,475.9 629.2,476.4C628.5,476.9 627.7,477.2 626.9,477.5C626.1,477.9 625,477.8 624.4,478.3C623.7,478.8 623.2,480.6 623,480.5C622.7,480.4 623,478.7 622.8,477.9C622.6,477.1 622.1,476.3 621.8,475.5C621.5,474.7 621.3,473.9 621,473C620.7,472.2 620,470.6 620.1,470.6C620.2,470.6 621.3,472 621.5,472.8C621.7,473.5 621.5,474.5 621.3,475.3C621,476.2 620.3,477.7 620.1,477.7C619.9,477.6 620.1,475.9 620.1,475.1C620.2,474.2 619.8,472.7 620.2,472.5C620.6,472.2 621.9,473 622.6,473.5C623.3,473.9 624.2,474.9 624.5,475.2 M624.3,470.7C623.9,470.7 621.8,470.3 621.8,470.3C621.8,470.3 623.5,470.4 624.4,470.5C625.2,470.6 626.2,470.6 626.9,471C627.6,471.4 627.9,472.5 628.6,472.9C629.3,473.3 630.3,473.2 631.2,473.3C632,473.4 632.9,473.6 633.8,473.6C634.6,473.6 635.5,473.3 636.3,473.2C637.2,473.1 638.9,472.9 638.9,473C639,473.2 637.4,473.9 636.6,474.2C635.8,474.5 634.9,475 634.1,475C633.3,475 632.5,474.4 631.7,474.1C630.8,473.9 630,473.6 629.1,473.5C628.3,473.4 627.4,473.6 626.6,473.4C625.7,473.2 625,472.7 624.2,472.3C623.4,471.9 622.7,471.3 621.9,471C621.1,470.7 619.8,470.7 619.4,470.6 M637.9,467.9C638.3,468.1 640.1,469.2 640.1,469.2C640.1,469.2 638.5,468.5 637.9,467.9C637.3,467.3 636.5,465.7 636.6,465.6C636.6,465.6 637.7,467 638.2,467.7C638.7,468.4 639.1,469.2 639.5,469.9C639.9,470.7 640.9,471.9 640.7,472.2C640.5,472.6 639,471.8 638.1,471.9C637.3,472 636.5,472.5 635.7,472.8C634.9,473.2 634.2,473.8 633.4,474C632.5,474.1 631.6,473.9 630.8,473.8C629.9,473.8 628.9,473.9 628.2,473.5C627.5,473.1 626.9,472.3 626.5,471.6C626.1,470.8 626,469.9 625.8,469.1C625.6,468.2 625.4,467.4 625.2,466.5C625.1,465.7 624.8,464.1 625.1,463.9C625.3,463.8 626.6,465.4 627,465.7 M637.6,479.2C637.4,478.8 636.7,477.7 636.4,476.9C636.1,476.1 636.1,475.2 635.9,474.4C635.6,473.5 635,472.8 634.8,472C634.6,471.2 634.8,470.3 634.7,469.4C634.6,468.5 634.3,467.7 634.2,466.8C634.2,466 634.3,464.3 634.6,464.3C634.8,464.2 635.5,465.7 635.8,466.5C636.1,467.3 636.6,468.2 636.6,469C636.6,469.8 636.2,470.8 635.8,471.5C635.3,472.2 634.4,472.5 633.7,473.1C633,473.6 632.3,474.1 631.7,474.7C631.1,475.3 630.6,476.1 630,476.7C629.3,477.2 628.5,477.7 627.7,478C627,478.3 625.9,478.3 625.2,478.7C624.6,479.2 623.9,480.9 623.6,480.8C623.4,480.7 623.8,478.6 623.8,478.2 M625.9,475.8C626.2,476.1 627.1,477.1 627.8,477.5C628.5,478 629.4,478.3 630.2,478.5C631,478.7 631.9,478.5 632.8,478.6C633.7,478.7 634.6,478.6 635.4,479C636.1,479.3 637.5,480.5 637.4,480.6C637.3,480.8 635.7,480.3 634.9,479.9C634.1,479.6 633.2,479.2 632.6,478.7C631.9,478.2 631.5,477.3 630.9,476.7C630.3,476.1 629.7,475.5 629,475C628.3,474.4 627.5,474.1 626.9,473.5C626.2,472.9 625.8,472 625.1,471.5C624.4,471.1 623.4,471 622.7,470.5C622,470.1 620.9,468.7 620.9,468.7C620.9,468.7 622.3,469.8 622.7,470.5C623.1,471.3 622.9,472.4 623.3,473.1C623.7,473.8 624.9,474.5 625.3,474.8" fill="none" stroke="#b868c8" stroke-width="0.6" stroke-linecap="round"/>
<path d="M626.8,490.8C627,491.2 628.4,492.7 628.2,493C628,493.3 626.5,492.6 625.6,492.7C624.8,492.8 624,493.3 623.2,493.5C622.3,493.8 621.5,493.9 620.6,494C619.8,494.2 618.9,494.3 618,494.4C617.2,494.4 616.3,494.5 615.4,494.6C614.6,494.6 613.7,494.7 612.8,494.7C612,494.7 610.3,494.5 610.3,494.4C610.3,494.3 612,494.1 612.9,494.1C613.7,494.2 614.6,494.4 615.4,494.8C616.2,495.1 617,495.5 617.6,496.1C618.2,496.7 618.5,497.6 618.9,498.3C619.4,499.1 620,499.8 620.3,500.5C620.7,501.3 620.8,502.3 621.3,503C621.8,503.6 622.6,504.2 623.4,504.5C624.2,504.7 625.6,504.4 626,504.4 M618.1,499.4C617.9,499.7 617,500.8 616.7,501.5C616.3,502.3 616.2,504 615.9,504C615.7,504.1 615.4,502.4 615,501.6C614.7,500.8 614,500 614,499.2C613.9,498.4 614.7,497.6 614.7,496.7C614.8,495.9 614.5,495 614.2,494.2C613.8,493.4 613.1,492.8 612.7,492.1C612.3,491.3 611.5,489.9 611.7,489.7C611.9,489.4 613.3,490.3 614.1,490.5C615,490.7 615.9,490.9 616.7,490.8C617.6,490.7 618.3,489.8 619.1,489.7C619.9,489.6 620.8,490 621.6,490.1C622.5,490.2 623.4,490.2 624.2,490.4C625.1,490.5 626.6,490.5 626.8,490.9C626.9,491.3 625.7,492.4 625,492.8C624.2,493.1 622.8,493.1 622.4,493.2 M611.6,499.7C612,499.9 613.1,500.6 614,500.8C614.8,501.1 615.8,500.9 616.5,501.4C617.2,501.8 617.6,502.7 618.2,503.4C618.8,504 620.1,505.1 620,505.2C620,505.2 618.7,503.8 618,503.6C617.2,503.3 616.2,503.5 615.4,503.7C614.5,503.9 613,504.8 613,504.8C613,504.8 614.7,504.3 615.5,503.9C616.3,503.6 617.2,503.2 617.7,502.6C618.2,502 618.5,501 618.6,500.2C618.7,499.3 618.7,498.4 618.5,497.6C618.4,496.7 618.1,495.9 618,495C617.8,494.2 617.7,493.3 617.5,492.5C617.3,491.6 617,490.8 616.6,490C616.2,489.3 614.9,488.2 615,488C615.2,487.7 617.1,488.5 617.5,488.6 M618.4,490.1C618,490 616.7,489.7 615.9,489.5C615.1,489.2 613.4,488.7 613.4,488.6C613.5,488.5 615.2,488.8 616,488.8C616.9,488.8 617.8,489 618.6,488.8C619.5,488.6 620.2,487.8 621,487.7C621.8,487.6 623.3,487.9 623.5,488.3C623.7,488.8 622.4,489.7 622,490.5C621.7,491.2 621.5,492.1 621.3,492.9C621,493.8 620.9,494.6 620.8,495.5C620.7,496.4 620.5,497.3 620.6,498.1C620.8,498.9 621.5,499.7 621.6,500.5C621.7,501.3 621.2,502.2 621.2,503.1C621.2,503.9 621.8,505.6 621.5,505.6C621.3,505.7 620.4,504.4 619.9,503.6C619.4,502.9 619.2,502 618.6,501.4C618,500.8 616.6,500.4 616.3,500.2 M617.7,489.1C617.4,488.9 615.6,487.7 615.6,487.6C615.6,487.6 617.3,488.3 617.8,488.9C618.4,489.5 618.3,490.7 618.9,491.3C619.4,492 620.3,492.3 621,492.8C621.7,493.2 622.6,493.6 623.2,494.1C623.9,494.6 624.4,495.4 625.1,495.9C625.8,496.5 626.8,496.7 627.3,497.4C627.7,498 628.3,499.7 628.1,499.8C627.8,500 626.5,499 625.9,498.3C625.4,497.7 625.5,496.5 624.9,495.9C624.4,495.3 623.5,495 622.7,494.6C621.9,494.3 621,494.1 620.3,493.7C619.5,493.3 618.7,492.8 618.2,492.1C617.7,491.5 617.5,490.5 617.2,489.7C616.8,488.9 616.1,487.4 616.1,487.4C616.1,487.3 617.2,489.3 617.4,489.6 M623.9,494.4C623.8,494 623.7,492.6 623.3,491.8C622.8,491.1 621.8,490.8 621.4,490.1C620.9,489.4 620.7,487.5 620.8,487.5C620.8,487.5 621.6,489.2 621.6,490C621.7,490.8 621,491.7 621,492.5C620.9,493.4 621.4,494.2 621.3,495.1C621.3,495.9 620.6,496.8 620.6,497.6C620.7,498.4 621.3,499.2 621.7,500C622,500.8 622.3,501.6 622.7,502.3C623.2,503.1 624.6,504.1 624.4,504.3C624.3,504.5 622.7,503.8 621.9,503.7C621,503.6 620.2,503.6 619.3,503.5C618.4,503.4 617.6,503.2 616.7,503.2C615.9,503.1 615,503.3 614.1,503.1C613.3,502.9 612.5,502.4 611.8,502C611,501.5 610.1,500.7 609.7,500.4 M614.8,490.4C615,490.8 615.4,492 615.7,492.8C616,493.6 616.5,494.4 616.8,495.2C617.2,495.9 617.7,496.7 618,497.5C618.2,498.3 618.3,499.3 618.1,500.1C617.8,500.9 616.9,501.4 616.4,502.1C616,502.9 616,504.5 615.6,504.6C615.2,504.7 614.6,503.2 614.1,502.5C613.6,501.8 613.3,500.8 612.7,500.3C612,499.8 610.2,499.9 610.2,499.7C610.2,499.5 612,499.6 612.7,499.2C613.4,498.8 613.8,497.8 614.4,497.2C615,496.6 615.6,496 616.3,495.5C617,494.9 617.8,494.5 618.4,494C619.1,493.4 619.5,492.5 620.3,492.2C621,491.8 622,492.2 622.9,492C623.7,491.9 624.9,491.3 625.3,491.2 M610,488.6C609.8,489.1 609.3,491.2 609.2,491.1C609.1,491.1 609,488.7 609.3,488.5C609.6,488.4 610.8,489.6 611.2,490.3C611.6,491 611.4,492.1 611.8,492.8C612.2,493.6 612.9,494.2 613.6,494.7C614.3,495.2 615.2,495.4 616,495.8C616.7,496.2 617.5,496.6 618.2,497.1C619,497.5 619.8,497.9 620.4,498.5C621,499.1 621.3,500 621.8,500.7C622.4,501.3 623.3,501.7 623.8,502.4C624.2,503.1 624.6,504.8 624.4,504.9C624.3,505 623.2,503.6 622.8,502.9C622.3,502.1 622.1,501.3 621.8,500.5C621.5,499.7 621.5,498.7 621,498C620.6,497.2 619.9,496.7 619.3,496C618.8,495.3 618.1,494.3 617.8,493.9 M627.3,486.9C627.2,487.4 626.8,488.6 626.7,489.5C626.7,490.3 627.2,491.2 627.1,492C627.1,492.9 626.8,493.8 626.5,494.6C626.1,495.4 625.4,496 625.3,496.9C625.1,497.7 625.5,498.6 625.4,499.5C625.4,500.3 625.2,501.3 624.8,502C624.4,502.7 623.3,503.1 623,503.8C622.6,504.5 623,506.1 622.6,506.4C622.1,506.6 620.9,505.8 620.1,505.4C619.4,505 618.5,504.7 617.9,504.1C617.3,503.5 617.1,502.6 616.7,501.8C616.3,501 616,500.2 615.7,499.4C615.4,498.6 615.1,497.8 614.7,497C614.3,496.2 613.8,495.5 613.4,494.7C613,494 612.4,493.2 612.3,492.4C612.2,491.6 612.7,490.2 612.8,489.8 M620.8,500.6C620.4,500.4 619.1,500.1 618.4,499.7C617.7,499.2 617.1,498.5 616.5,497.9C615.9,497.3 615.4,496.6 614.7,496.1C614,495.6 613.2,495.1 612.4,494.9C611.5,494.6 609.8,494.4 609.8,494.4C609.8,494.4 611.5,494.8 612.3,495.1C613.1,495.4 613.8,496.2 614.6,496.3C615.4,496.4 616.3,496 617.2,495.9C618,495.7 618.9,495.7 619.7,495.5C620.6,495.4 621.4,495 622.3,494.9C623.1,494.8 624,494.9 624.9,494.7C625.7,494.4 626.4,493.7 627.2,493.6C628.1,493.5 629.8,493.8 629.8,494.1C629.8,494.4 628.3,495.1 627.5,495.3C626.6,495.4 625.7,495.1 624.9,495.2C624,495.3 622.8,495.9 622.4,496 M626.2,496.9C625.8,496.8 624.4,496.8 623.7,496.4C623,496 622.5,495.1 622,494.4C621.4,493.8 620.9,493 620.5,492.3C620,491.6 619.6,490.8 619,490.1C618.5,489.5 617.8,488.9 617.2,488.3C616.6,487.7 615.2,487 615.3,486.6C615.4,486.2 617,486.2 617.8,485.9C618.6,485.7 619.9,484.8 620.2,485.1C620.5,485.4 619.5,486.8 619.6,487.6C619.6,488.4 620.1,489.3 620.5,490C620.9,490.8 621.3,491.7 622,492.2C622.6,492.7 623.7,492.6 624.5,492.9C625.2,493.3 625.9,494.1 626.7,494.2C627.5,494.4 629.3,494 629.3,494C629.3,494.1 627.5,494.1 626.7,494.3C625.9,494.5 624.7,495.1 624.3,495.2 M614.7,496.9C614.5,497.3 613.6,498.3 613.3,499.1C612.9,499.8 612.5,501.6 612.5,501.6C612.5,501.6 613.3,499.9 613.3,499.1C613.2,498.3 612.8,497.3 612.3,496.7C611.8,496 610.6,496 610.1,495.4C609.5,494.8 608.8,493.1 608.9,493C609,493 610.1,494.4 610.8,494.8C611.5,495.3 612.4,495.4 613.2,495.8C613.9,496.3 614.5,496.9 615.3,497.3C616,497.7 616.9,498 617.7,498.3C618.5,498.7 619.2,499.2 620.1,499.4C620.9,499.6 621.8,499.5 622.7,499.6C623.5,499.7 624.4,499.7 625.2,500C626.1,500.2 627.7,500.8 627.7,500.9C627.7,500.9 626,500.3 625.1,500.2C624.3,500.2 623,500.5 622.6,500.5 M620.3,497.3C620.6,496.9 621.4,495.8 622.1,495.4C622.8,494.9 623.8,494.6 624.6,494.6C625.4,494.7 626.2,495.3 627,495.6C627.8,495.8 629.5,495.8 629.5,496.2C629.6,496.5 628.1,497.3 627.3,497.5C626.5,497.7 625.6,497.3 624.8,497.1C623.9,496.9 623.1,496.6 622.3,496.4C621.4,496.1 620.5,496 619.8,495.5C619.1,495.1 618.5,494.4 617.9,493.8C617.3,493.2 616.8,492.4 616.3,491.8C615.7,491.1 615.1,490.4 614.7,489.7C614.3,488.9 613.4,487.6 613.7,487.3C613.9,487 615.4,487.7 616.2,487.7C617.1,487.8 618.1,488 618.8,487.7C619.6,487.4 620.6,485.9 620.7,486C620.8,486 619.6,487.8 619.4,488.2 M625.1,500.4C625.5,500.5 627.4,500.5 627.6,500.9C627.8,501.4 626.6,503.2 626.2,503.1C625.9,503.1 625.4,501.5 625.4,500.7C625.3,499.9 626.1,499 626.1,498.2C626.1,497.4 625.4,496.6 625.4,495.7C625.4,494.9 625.7,494 626.1,493.2C626.5,492.5 627.3,491.2 627.8,491.3C628.2,491.3 629.1,493.2 628.9,493.6C628.6,494 627.1,493.6 626.3,493.4C625.5,493.2 624.7,492.8 623.9,492.4C623.2,492 622.6,491.1 621.8,490.8C621.1,490.6 620.1,490.9 619.2,491C618.4,491 617.5,490.8 616.6,491C615.8,491.2 615.1,492.1 614.3,492.2C613.5,492.4 612.6,492.2 611.7,492.1C610.9,492 609.6,491.9 609.2,491.8 M609.9,494C610.2,494.3 611.5,495 611.9,495.7C612.4,496.4 612.6,497.3 612.7,498.1C612.9,499 612.4,500 612.7,500.7C613,501.5 614.1,501.9 614.5,502.7C614.8,503.4 615,505 614.7,505.3C614.3,505.5 613.1,504.5 612.4,504C611.7,503.5 611,502.9 610.5,502.2C610,501.6 609.7,500.7 609.4,499.9C609,499.1 608.2,497.8 608.5,497.4C608.7,497 610.2,497.6 611.1,497.5C611.9,497.3 612.6,496.7 613.5,496.6C614.3,496.4 615.3,496.8 616.1,496.5C616.9,496.3 617.6,495.6 618.3,495.1C618.9,494.5 619.4,493.6 620.1,493.3C620.9,492.9 621.9,493.1 622.7,492.9C623.6,492.8 624.8,492.4 625.2,492.3 M612.5,498.8C612.1,499 610.5,500.3 610.2,500.1C610,499.9 610.4,498.3 610.8,497.5C611.2,496.8 611.8,496.1 612.5,495.6C613.2,495.1 614.3,495.2 615,494.7C615.7,494.2 616.1,493.4 616.7,492.7C617.3,492.1 618,491.6 618.6,490.9C619.2,490.3 619.9,489.7 620.3,489C620.6,488.2 620.7,486.4 620.7,486.4C620.7,486.4 620.3,488.1 620.3,489C620.3,489.8 620.5,490.7 620.5,491.6C620.6,492.4 620.1,493.4 620.4,494.1C620.6,494.9 621.6,495.5 621.8,496.3C622,497.1 621.9,498.2 621.6,498.9C621.2,499.6 620.4,500.2 619.7,500.7C619,501.2 618,501.3 617.4,501.9C616.8,502.5 616.3,503.8 616.1,504.2" fill="none" stroke="#c04aa8" stroke-width="0.6" stroke-linecap="round"/>
<path d="M640,477.6C639.7,477.8 638.4,478.4 637.9,479C637.3,479.7 637.3,480.7 636.7,481.4C636.2,482 635.3,482.4 634.6,482.8C633.8,483.2 632.3,484 632.2,483.9C632.2,483.8 633.5,482.7 634.2,482.2C635,481.8 635.9,481.7 636.7,481.4C637.5,481 638.2,480.5 639,480.2C639.8,479.8 640.6,479.6 641.4,479.1C642.1,478.7 642.6,477.9 643.3,477.4C644,477 645.4,476 645.6,476.3C645.9,476.5 645.2,478 644.7,478.7C644.3,479.4 643.4,479.8 642.9,480.5C642.4,481.2 642,482 641.7,482.8C641.4,483.6 641.4,485.1 640.9,485.3C640.4,485.5 639.6,484 638.8,483.8C638,483.6 636.6,484 636.2,484 M631.7,471.4C631.3,471.7 629.6,473 629.6,473C629.6,473 631.1,471.2 631.6,471.3C632.1,471.4 632.6,472.8 632.7,473.7C632.8,474.5 632,475.3 632,476.2C632,477 632.8,477.8 632.9,478.6C632.9,479.4 632.5,480.3 632.5,481.2C632.4,482 633,483.6 632.6,483.8C632.2,484 631,483 630.3,482.5C629.6,482 628.2,481.2 628.3,480.9C628.4,480.5 630.2,480.9 630.9,480.4C631.6,480 632.2,479.2 632.5,478.4C632.8,477.6 632.6,476.7 632.8,475.8C633,475 633.3,474.2 633.8,473.4C634.2,472.7 634.8,471.8 635.5,471.5C636.2,471.1 637.8,470.8 638.1,471.2C638.3,471.5 637.1,473.1 636.9,473.5 M642,475.9C641.6,476 640.3,476.2 639.5,476.5C638.7,476.7 637.9,477.3 637.1,477.4C636.3,477.4 635.4,476.8 634.6,476.7C633.7,476.7 632.8,476.9 632,477C631.1,477.2 630.3,477.7 629.4,477.6C628.6,477.6 627,477 627,476.7C627,476.4 628.7,475.9 629.5,475.8C630.3,475.8 631.2,476.1 632.1,476.2C632.9,476.4 633.8,476.7 634.6,476.8C635.5,476.8 636.4,476.6 637.2,476.7C638.1,476.8 638.9,477.1 639.7,477.5C640.5,477.8 641.2,478.4 641.9,478.8C642.7,479.2 643.8,479.2 644.4,479.7C645,480.3 645.8,481.6 645.5,482.1C645.3,482.5 643.8,482.5 643,482.4C642.1,482.3 641,481.6 640.6,481.4 M641.1,480.9C640.7,480.8 639.4,480.2 638.6,480.3C637.8,480.4 637.1,481.2 636.3,481.5C635.5,481.8 634.6,482.1 633.7,482.1C632.9,482 632.1,481.5 631.3,481.2C630.4,481 629.5,481.1 628.7,480.7C627.9,480.4 626.5,479.5 626.5,479.4C626.6,479.3 628.2,479.8 629,479.9C629.9,480.1 630.8,480.2 631.6,480.5C632.4,480.9 633,481.5 633.7,482C634.4,482.5 635.1,483.2 635.8,483.5C636.6,483.8 637.6,483.5 638.4,483.6C639.3,483.6 641,483.6 641,483.7C641,483.9 639.2,483.9 638.5,484.2C637.7,484.6 636.7,486 636.5,485.9C636.2,485.7 636.6,484.1 637,483.3C637.3,482.6 638.4,481.7 638.7,481.3 M627.9,482.9C627.8,482.5 627.4,481.2 627.4,480.4C627.3,479.5 627.5,478.7 627.6,477.8C627.8,476.9 627.8,475.4 628.2,475.3C628.6,475.2 629.2,476.7 629.9,477.2C630.6,477.6 631.6,477.8 632.4,478C633.2,478.2 634.2,478.1 635,478.5C635.7,478.9 636.5,479.6 636.8,480.3C637.1,481.1 637,482.1 636.9,482.9C636.8,483.8 636.3,485.5 636.2,485.4C636,485.4 636,483.7 636.1,482.8C636.1,482 636.2,481 636.6,480.3C637.1,479.6 638.1,479.3 638.6,478.6C639.1,477.9 639.4,477 639.5,476.1C639.5,475.3 638.9,474.4 639,473.6C639,472.8 639.3,471.3 639.8,471.1C640.3,470.9 641.6,472.2 642,472.5 M637.4,476.7C637.8,476.5 639.2,476.3 639.9,475.8C640.6,475.4 641.4,474.8 641.8,474.1C642.2,473.4 642,471.6 642.3,471.5C642.6,471.5 643.1,473.1 643.5,473.8C643.9,474.6 644.2,475.4 644.5,476.2C644.9,477 645.4,477.7 645.7,478.5C646,479.3 646.9,480.6 646.6,481C646.3,481.4 644.8,481 644,481.1C643.1,481.3 642.3,481.8 641.5,481.8C640.6,481.8 639.8,481.3 638.9,481.2C638.1,481.2 637.1,481.2 636.3,481.5C635.5,481.7 634.7,482.2 634.1,482.8C633.5,483.4 632.8,485.1 632.8,485.1C632.8,485.1 633.6,483.4 634.2,482.9C634.8,482.3 635.8,482.2 636.5,481.7C637.3,481.3 638.3,480.5 638.7,480.3 M633.8,476.2C634.2,476.2 635.6,475.7 636.4,475.9C637.2,476.1 638,476.6 638.6,477.2C639.2,477.9 639.5,478.7 639.8,479.5C640.1,480.4 640,481.4 640.4,482.1C640.8,482.8 642.2,483.9 642.2,483.9C642.2,483.9 641.1,482.5 640.4,482C639.7,481.6 638.7,481.6 638,481.2C637.2,480.8 636.7,480 635.9,479.6C635.2,479.1 634.4,478.5 633.6,478.4C632.8,478.3 631.9,478.9 631.1,479C630.2,479.1 628.7,479.4 628.5,479C628.3,478.6 629.3,477.4 629.9,476.8C630.5,476.3 631.6,476.3 632.3,475.8C633,475.3 633.3,474.4 633.9,473.8C634.6,473.2 635.3,472.8 636,472.2C636.7,471.7 637.6,470.8 638,470.5 M628.5,475C628.2,475.3 626.8,476.9 626.7,476.9C626.6,476.8 627.5,475.2 628.1,474.7C628.7,474.2 629.8,474.3 630.5,473.8C631.2,473.3 631.8,471.7 632.2,471.8C632.7,471.9 632.7,473.5 633.1,474.3C633.5,475 633.9,475.8 634.4,476.5C635,477.2 635.6,477.9 636.3,478.3C637,478.7 638,478.7 638.8,479.1C639.5,479.5 640,480.5 640.8,480.8C641.5,481.1 642.5,480.7 643.4,480.7C644.2,480.7 645.7,480.4 646,480.8C646.2,481.2 645.3,483.1 644.9,483.1C644.5,483.2 644.2,481.5 643.7,480.9C643.2,480.2 642.4,479.6 641.8,479.1C641.2,478.5 640.2,478.1 639.8,477.4C639.4,476.7 639.4,475.3 639.3,474.8" fill="none" stroke="#d890e0" stroke-width="0.55" stroke-linecap="round"/>
<text x="556.2" y="470.4" font-size="7.8" text-anchor="middle" font-weight="bold" fill="#e8801e">AR3C</text>
<text x="556.2" y="479.8" font-size="7.8" text-anchor="middle" font-weight="bold" fill="#e8801e">HC</text>
<text x="511.4" y="509.1" font-size="7.8" text-anchor="middle" font-weight="bold" fill="#e8c31e">AR3C</text>
<text x="511.4" y="518.2" font-size="7.8" text-anchor="middle" font-weight="bold" fill="#e8c31e">LC</text>
<text x="535.1" y="532.5" font-size="7.8" text-anchor="middle" font-weight="bold" fill="#ee2424">sE2</text>
<text x="628.8" y="531.9" font-size="7.8" text-anchor="middle" font-weight="bold" fill="#3aa8b8">sE1</text>
<text x="604.6" y="467" font-size="7.8" text-anchor="middle" font-weight="bold" fill="#9a6ac8">IGH526</text>
<text x="604.6" y="476.1" font-size="7.8" text-anchor="middle" font-weight="bold" fill="#9a6ac8">LC</text>
<text x="664.4" y="484.1" font-size="7.8" text-anchor="middle" font-weight="bold" fill="#f055e0">IGH526</text>
<text x="664.4" y="493.2" font-size="7.8" text-anchor="middle" font-weight="bold" fill="#f055e0">HC</text>
<text x="661.6" y="506.3" font-size="7.8" text-anchor="middle" font-weight="bold" fill="#111">(PDB: 4N0Y)</text>
<text x="586.4" y="551.8" font-size="7.8" text-anchor="middle" font-weight="bold" fill="#111">(PDB: 8FSJ)</text>
<path d="M44.9,577.8 L44.9,648.4 L638.2,648.4" fill="none" stroke="#222" stroke-width="1.3"/>
<line x1="41.3" y1="577.8" x2="44.9" y2="577.8" stroke="#222" stroke-width="1.1"/>
<text x="38.7" y="580.8" font-size="8.4" text-anchor="end" font-weight="bold" fill="#111">0.001</text>
<line x1="41.3" y1="595.45" x2="44.9" y2="595.45" stroke="#222" stroke-width="1.1"/>
<text x="38.7" y="598.45" font-size="8.4" text-anchor="end" font-weight="bold" fill="#111">0.01</text>
<line x1="41.3" y1="613.1" x2="44.9" y2="613.1" stroke="#222" stroke-width="1.1"/>
<text x="38.7" y="616.1" font-size="8.4" text-anchor="end" font-weight="bold" fill="#111">0.1</text>
<line x1="41.3" y1="630.75" x2="44.9" y2="630.75" stroke="#222" stroke-width="1.1"/>
<text x="38.7" y="633.75" font-size="8.4" text-anchor="end" font-weight="bold" fill="#111">1</text>
<line x1="41.3" y1="648.4" x2="44.9" y2="648.4" stroke="#222" stroke-width="1.1"/>
<text x="38.7" y="651.4" font-size="8.4" text-anchor="end" font-weight="bold" fill="#111">10</text>
<text transform="translate(9.0,613.0) rotate(-90)" font-size="9.1" font-weight="bold" text-anchor="middle" fill="#111">EC<tspan font-size="5.4" dy="1.8">50</tspan><tspan dy="-1.8">(ug/ml)</tspan></text>
<line x1="49.4" y1="648.4" x2="49.4" y2="652" stroke="#222" stroke-width="1"/>
<line x1="58.45" y1="648.4" x2="58.45" y2="652" stroke="#222" stroke-width="1"/>
<line x1="67.5" y1="648.4" x2="67.5" y2="652" stroke="#222" stroke-width="1"/>
<line x1="76.55" y1="648.4" x2="76.55" y2="652" stroke="#222" stroke-width="1"/>
<line x1="85.6" y1="648.4" x2="85.6" y2="652" stroke="#222" stroke-width="1"/>
<text x="67.53" y="665.6" font-size="7.8" text-anchor="middle" font-weight="bold" fill="#111">A4</text>
<line x1="90.15" y1="577.8" x2="90.15" y2="648.4" stroke="#333" stroke-width="0.7" stroke-dasharray="1,1.6"/>
<line x1="94.65" y1="648.4" x2="94.65" y2="652" stroke="#222" stroke-width="1"/>
<line x1="103.7" y1="648.4" x2="103.7" y2="652" stroke="#222" stroke-width="1"/>
<line x1="112.75" y1="648.4" x2="112.75" y2="652" stroke="#222" stroke-width="1"/>
<line x1="121.8" y1="648.4" x2="121.8" y2="652" stroke="#222" stroke-width="1"/>
<line x1="130.85" y1="648.4" x2="130.85" y2="652" stroke="#222" stroke-width="1"/>
<text x="112.78" y="665.6" font-size="7.8" text-anchor="middle" font-weight="bold" fill="#111">AR1B</text>
<line x1="135.4" y1="577.8" x2="135.4" y2="648.4" stroke="#333" stroke-width="0.7" stroke-dasharray="1,1.6"/>
<line x1="139.9" y1="648.4" x2="139.9" y2="652" stroke="#222" stroke-width="1"/>
<line x1="148.95" y1="648.4" x2="148.95" y2="652" stroke="#222" stroke-width="1"/>
<line x1="158" y1="648.4" x2="158" y2="652" stroke="#222" stroke-width="1"/>
<line x1="167.05" y1="648.4" x2="167.05" y2="652" stroke="#222" stroke-width="1"/>
<line x1="176.1" y1="648.4" x2="176.1" y2="652" stroke="#222" stroke-width="1"/>
<text x="158.03" y="665.6" font-size="7.8" text-anchor="middle" font-weight="bold" fill="#111">AR2A</text>
<line x1="180.65" y1="577.8" x2="180.65" y2="648.4" stroke="#333" stroke-width="0.7" stroke-dasharray="1,1.6"/>
<line x1="185.15" y1="648.4" x2="185.15" y2="652" stroke="#222" stroke-width="1"/>
<line x1="194.2" y1="648.4" x2="194.2" y2="652" stroke="#222" stroke-width="1"/>
<line x1="203.25" y1="648.4" x2="203.25" y2="652" stroke="#222" stroke-width="1"/>
<line x1="212.3" y1="648.4" x2="212.3" y2="652" stroke="#222" stroke-width="1"/>
<line x1="221.35" y1="648.4" x2="221.35" y2="652" stroke="#222" stroke-width="1"/>
<text x="203.28" y="665.6" font-size="7.8" text-anchor="middle" font-weight="bold" fill="#111">AR3C</text>
<line x1="225.9" y1="577.8" x2="225.9" y2="648.4" stroke="#333" stroke-width="0.7" stroke-dasharray="1,1.6"/>
<line x1="230.4" y1="648.4" x2="230.4" y2="652" stroke="#222" stroke-width="1"/>
<line x1="239.45" y1="648.4" x2="239.45" y2="652" stroke="#222" stroke-width="1"/>
<line x1="248.5" y1="648.4" x2="248.5" y2="652" stroke="#222" stroke-width="1"/>
<line x1="257.55" y1="648.4" x2="257.55" y2="652" stroke="#222" stroke-width="1"/>
<line x1="266.6" y1="648.4" x2="266.6" y2="652" stroke="#222" stroke-width="1"/>
<text x="248.53" y="665.6" font-size="7.8" text-anchor="middle" font-weight="bold" fill="#111">AR4A</text>
<line x1="271.15" y1="577.8" x2="271.15" y2="648.4" stroke="#333" stroke-width="0.7" stroke-dasharray="1,1.6"/>
<line x1="275.65" y1="648.4" x2="275.65" y2="652" stroke="#222" stroke-width="1"/>
<line x1="284.7" y1="648.4" x2="284.7" y2="652" stroke="#222" stroke-width="1"/>
<line x1="293.75" y1="648.4" x2="293.75" y2="652" stroke="#222" stroke-width="1"/>
<line x1="302.8" y1="648.4" x2="302.8" y2="652" stroke="#222" stroke-width="1"/>
<line x1="311.85" y1="648.4" x2="311.85" y2="652" stroke="#222" stroke-width="1"/>
<text x="293.77" y="665.6" font-size="7.8" text-anchor="middle" font-weight="bold" fill="#111">AR5A</text>
<line x1="316.4" y1="577.8" x2="316.4" y2="648.4" stroke="#333" stroke-width="0.7" stroke-dasharray="1,1.6"/>
<line x1="320.9" y1="648.4" x2="320.9" y2="652" stroke="#222" stroke-width="1"/>
<line x1="329.95" y1="648.4" x2="329.95" y2="652" stroke="#222" stroke-width="1"/>
<line x1="339" y1="648.4" x2="339" y2="652" stroke="#222" stroke-width="1"/>
<line x1="348.05" y1="648.4" x2="348.05" y2="652" stroke="#222" stroke-width="1"/>
<line x1="357.1" y1="648.4" x2="357.1" y2="652" stroke="#222" stroke-width="1"/>
<text x="339.02" y="665.6" font-size="7.8" text-anchor="middle" font-weight="bold" fill="#111">HCV1</text>
<line x1="361.65" y1="577.8" x2="361.65" y2="648.4" stroke="#333" stroke-width="0.7" stroke-dasharray="1,1.6"/>
<line x1="366.15" y1="648.4" x2="366.15" y2="652" stroke="#222" stroke-width="1"/>
<line x1="375.2" y1="648.4" x2="375.2" y2="652" stroke="#222" stroke-width="1"/>
<line x1="384.25" y1="648.4" x2="384.25" y2="652" stroke="#222" stroke-width="1"/>
<line x1="393.3" y1="648.4" x2="393.3" y2="652" stroke="#222" stroke-width="1"/>
<line x1="402.35" y1="648.4" x2="402.35" y2="652" stroke="#222" stroke-width="1"/>
<text x="384.27" y="665.6" font-size="7.8" text-anchor="middle" font-weight="bold" fill="#111">HEPC74</text>
<line x1="406.9" y1="577.8" x2="406.9" y2="648.4" stroke="#333" stroke-width="0.7" stroke-dasharray="1,1.6"/>
<line x1="411.4" y1="648.4" x2="411.4" y2="652" stroke="#222" stroke-width="1"/>
<line x1="420.45" y1="648.4" x2="420.45" y2="652" stroke="#222" stroke-width="1"/>
<line x1="429.5" y1="648.4" x2="429.5" y2="652" stroke="#222" stroke-width="1"/>
<line x1="438.55" y1="648.4" x2="438.55" y2="652" stroke="#222" stroke-width="1"/>
<line x1="447.6" y1="648.4" x2="447.6" y2="652" stroke="#222" stroke-width="1"/>
<text x="429.52" y="665.6" font-size="7.8" text-anchor="middle" font-weight="bold" fill="#111">HC1AM</text>
<line x1="452.15" y1="577.8" x2="452.15" y2="648.4" stroke="#333" stroke-width="0.7" stroke-dasharray="1,1.6"/>
<line x1="456.65" y1="648.4" x2="456.65" y2="652" stroke="#222" stroke-width="1"/>
<line x1="465.7" y1="648.4" x2="465.7" y2="652" stroke="#222" stroke-width="1"/>
<line x1="474.75" y1="648.4" x2="474.75" y2="652" stroke="#222" stroke-width="1"/>
<line x1="483.8" y1="648.4" x2="483.8" y2="652" stroke="#222" stroke-width="1"/>
<line x1="492.85" y1="648.4" x2="492.85" y2="652" stroke="#222" stroke-width="1"/>
<text x="474.77" y="665.6" font-size="7.8" text-anchor="middle" font-weight="bold" fill="#111">RM2-01</text>
<line x1="497.4" y1="577.8" x2="497.4" y2="648.4" stroke="#333" stroke-width="0.7" stroke-dasharray="1,1.6"/>
<line x1="501.9" y1="648.4" x2="501.9" y2="652" stroke="#222" stroke-width="1"/>
<line x1="510.95" y1="648.4" x2="510.95" y2="652" stroke="#222" stroke-width="1"/>
<line x1="520" y1="648.4" x2="520" y2="652" stroke="#222" stroke-width="1"/>
<line x1="529.05" y1="648.4" x2="529.05" y2="652" stroke="#222" stroke-width="1"/>
<line x1="538.1" y1="648.4" x2="538.1" y2="652" stroke="#222" stroke-width="1"/>
<text x="520.02" y="665.6" font-size="7.8" text-anchor="middle" font-weight="bold" fill="#111">RM11-43</text>
<line x1="542.65" y1="577.8" x2="542.65" y2="648.4" stroke="#333" stroke-width="0.7" stroke-dasharray="1,1.6"/>
<line x1="547.15" y1="648.4" x2="547.15" y2="652" stroke="#222" stroke-width="1"/>
<line x1="556.2" y1="648.4" x2="556.2" y2="652" stroke="#222" stroke-width="1"/>
<line x1="565.25" y1="648.4" x2="565.25" y2="652" stroke="#222" stroke-width="1"/>
<line x1="574.3" y1="648.4" x2="574.3" y2="652" stroke="#222" stroke-width="1"/>
<line x1="583.35" y1="648.4" x2="583.35" y2="652" stroke="#222" stroke-width="1"/>
<text x="565.27" y="665.6" font-size="7.8" text-anchor="middle" font-weight="bold" fill="#111">CD81-Fc</text>
<line x1="587.9" y1="577.8" x2="587.9" y2="648.4" stroke="#333" stroke-width="0.7" stroke-dasharray="1,1.6"/>
<line x1="592.4" y1="648.4" x2="592.4" y2="652" stroke="#222" stroke-width="1"/>
<line x1="601.45" y1="648.4" x2="601.45" y2="652" stroke="#222" stroke-width="1"/>
<line x1="610.5" y1="648.4" x2="610.5" y2="652" stroke="#222" stroke-width="1"/>
<line x1="619.55" y1="648.4" x2="619.55" y2="652" stroke="#222" stroke-width="1"/>
<line x1="628.6" y1="648.4" x2="628.6" y2="652" stroke="#222" stroke-width="1"/>
<text x="610.52" y="665.6" font-size="7.8" text-anchor="middle" font-weight="bold" fill="#111">IGH526</text>
<circle cx="49.4" cy="598.7" r="2.2" fill="#d42020" stroke="#000" stroke-width="1"/>
<path d="M58.45,594.2 L61.55,597.3 L58.45,600.4 L55.35,597.3 Z" fill="#d02020" stroke="#000" stroke-width="1.6"/>
<path d="M67.5,596.85 L70.6,602.27 L64.4,602.27 Z" fill="#e88080" stroke="#000" stroke-width="1.5" stroke-linejoin="miter"/>
<circle cx="76.55" cy="603.6" r="2.5" fill="#000" stroke="#000" stroke-width="0.4"/>
<circle cx="85.6" cy="604.2" r="3" fill="#000" stroke="#000" stroke-width="0.4"/>
<path d="M94.65,587.3 L97.65,590.3 L94.65,593.3 L91.65,590.3 Z" fill="#000" stroke="#000" stroke-width="0.6"/>
<path d="M103.7,588.3 L106.8,591.4 L103.7,594.5 L100.6,591.4 Z" fill="#fff" stroke="#000" stroke-width="1.6"/>
<path d="M112.75,588.14 L115.85,593.57 L109.65,593.57 Z" fill="#e88080" stroke="#000" stroke-width="1.5" stroke-linejoin="miter"/>
<circle cx="121.8" cy="593.5" r="2.5" fill="#000" stroke="#000" stroke-width="0.4"/>
<circle cx="130.85" cy="592.1" r="3" fill="#000" stroke="#000" stroke-width="0.4"/>
<circle cx="139.9" cy="597.2" r="2.5" fill="#000" stroke="#000" stroke-width="0.4"/>
<path d="M148.95,596 L152.05,599.1 L148.95,602.2 L145.85,599.1 Z" fill="#d02020" stroke="#000" stroke-width="1.6"/>
<path d="M158,595.35 L161.1,600.77 L154.9,600.77 Z" fill="#e88080" stroke="#000" stroke-width="1.5" stroke-linejoin="miter"/>
<circle cx="167.05" cy="597.6" r="2.5" fill="#000" stroke="#000" stroke-width="0.4"/>
<circle cx="176.1" cy="600.8" r="3" fill="#000" stroke="#000" stroke-width="0.4"/>
<circle cx="185.15" cy="591.8" r="2.5" fill="#000" stroke="#000" stroke-width="0.4"/>
<path d="M194.2,591.6 L197.3,594.7 L194.2,597.8 L191.1,594.7 Z" fill="#d02020" stroke="#000" stroke-width="1.6"/>
<path d="M203.25,589.95 L206.35,595.37 L200.15,595.37 Z" fill="#e88080" stroke="#000" stroke-width="1.5" stroke-linejoin="miter"/>
<circle cx="212.3" cy="594.4" r="2.5" fill="#000" stroke="#000" stroke-width="0.4"/>
<circle cx="221.35" cy="594" r="3" fill="#000" stroke="#000" stroke-width="0.4"/>
<circle cx="230.4" cy="598.6" r="2.2" fill="#d42020" stroke="#000" stroke-width="1"/>
<path d="M239.45,612.8 L242.55,615.9 L239.45,619 L236.35,615.9 Z" fill="#d02020" stroke="#000" stroke-width="1.6"/>
<path d="M248.5,594.35 L251.6,599.77 L245.4,599.77 Z" fill="#e88080" stroke="#000" stroke-width="1.5" stroke-linejoin="miter"/>
<circle cx="257.55" cy="599.8" r="2.5" fill="#000" stroke="#000" stroke-width="0.4"/>
<circle cx="266.6" cy="598.4" r="3" fill="#000" stroke="#000" stroke-width="0.4"/>
<circle cx="275.65" cy="595" r="2.5" fill="#000" stroke="#000" stroke-width="0.4"/>
<path d="M284.7,609.6 L287.8,612.7 L284.7,615.8 L281.6,612.7 Z" fill="#d02020" stroke="#000" stroke-width="1.6"/>
<path d="M293.75,597.75 L296.85,603.17 L290.65,603.17 Z" fill="#e88080" stroke="#000" stroke-width="1.5" stroke-linejoin="miter"/>
<circle cx="302.8" cy="596.2" r="2.5" fill="#000" stroke="#000" stroke-width="0.4"/>
<circle cx="311.85" cy="601.7" r="3" fill="#000" stroke="#000" stroke-width="0.4"/>
<circle cx="320.9" cy="615.9" r="2.5" fill="#000" stroke="#000" stroke-width="0.4"/>
<path d="M329.95,608.8 L333.05,611.9 L329.95,615 L326.85,611.9 Z" fill="#d02020" stroke="#000" stroke-width="1.6"/>
<path d="M339,609.95 L342.1,615.37 L335.9,615.37 Z" fill="#e88080" stroke="#000" stroke-width="1.5" stroke-linejoin="miter"/>
<circle cx="348.05" cy="620.5" r="2.5" fill="#000" stroke="#000" stroke-width="0.4"/>
<circle cx="357.1" cy="617.3" r="3" fill="#000" stroke="#000" stroke-width="0.4"/>
<path d="M366.15,588.4 L369.15,591.4 L366.15,594.4 L363.15,591.4 Z" fill="#000" stroke="#000" stroke-width="0.6"/>
<path d="M375.2,591.2 L378.3,594.3 L375.2,597.4 L372.1,594.3 Z" fill="#d02020" stroke="#000" stroke-width="1.6"/>
<path d="M384.25,588.95 L387.35,594.37 L381.15,594.37 Z" fill="#e88080" stroke="#000" stroke-width="1.5" stroke-linejoin="miter"/>
<circle cx="393.3" cy="595" r="2.5" fill="#000" stroke="#000" stroke-width="0.4"/>
<circle cx="402.35" cy="593.7" r="3" fill="#000" stroke="#000" stroke-width="0.4"/>
<circle cx="411.4" cy="596.9" r="2.2" fill="#d42020" stroke="#000" stroke-width="1"/>
<path d="M420.45,602.3 L423.55,605.4 L420.45,608.5 L417.35,605.4 Z" fill="#d02020" stroke="#000" stroke-width="1.6"/>
<path d="M429.5,601.25 L432.6,606.67 L426.4,606.67 Z" fill="#e88080" stroke="#000" stroke-width="1.5" stroke-linejoin="miter"/>
<circle cx="438.55" cy="599.5" r="2.5" fill="#000" stroke="#000" stroke-width="0.4"/>
<circle cx="447.6" cy="596.6" r="3" fill="#000" stroke="#000" stroke-width="0.4"/>
<circle cx="456.65" cy="594.3" r="2.2" fill="#d42020" stroke="#000" stroke-width="1"/>
<path d="M465.7,599.2 L468.8,602.3 L465.7,605.4 L462.6,602.3 Z" fill="#d02020" stroke="#000" stroke-width="1.6"/>
<path d="M474.75,597.75 L477.85,603.17 L471.65,603.17 Z" fill="#fff" stroke="#000" stroke-width="1.5" stroke-linejoin="miter"/>
<circle cx="483.8" cy="603.2" r="2.5" fill="#000" stroke="#000" stroke-width="0.4"/>
<circle cx="492.85" cy="597.6" r="3" fill="#000" stroke="#000" stroke-width="0.4"/>
<circle cx="501.9" cy="601.3" r="2.2" fill="#d42020" stroke="#000" stroke-width="1"/>
<path d="M510.95,603.7 L514.05,606.8 L510.95,609.9 L507.85,606.8 Z" fill="#d02020" stroke="#000" stroke-width="1.6"/>
<path d="M520,601.35 L523.1,606.77 L516.9,606.77 Z" fill="#fff" stroke="#000" stroke-width="1.5" stroke-linejoin="miter"/>
<circle cx="529.05" cy="605.4" r="2.5" fill="#000" stroke="#000" stroke-width="0.4"/>
<circle cx="538.1" cy="603.8" r="3" fill="#000" stroke="#000" stroke-width="0.4"/>
<circle cx="547.15" cy="625.1" r="2.5" fill="#000" stroke="#000" stroke-width="0.4"/>
<path d="M556.2,625.4 L559.3,628.5 L556.2,631.6 L553.1,628.5 Z" fill="#d02020" stroke="#000" stroke-width="1.6"/>
<path d="M565.25,624.25 L568.35,629.67 L562.15,629.67 Z" fill="#e88080" stroke="#000" stroke-width="1.5" stroke-linejoin="miter"/>
<circle cx="574.3" cy="625.4" r="2.5" fill="#000" stroke="#000" stroke-width="0.4"/>
<circle cx="583.35" cy="622.6" r="3" fill="#000" stroke="#000" stroke-width="0.4"/>
<path d="M592.4,645.4 L595.4,648.4 L592.4,651.4 L589.4,648.4 Z" fill="#000" stroke="#000" stroke-width="0.6"/>
<path d="M601.45,645.3 L604.55,648.4 L601.45,651.5 L598.35,648.4 Z" fill="#fff" stroke="#000" stroke-width="1.6"/>
<path d="M610.5,645.14 L613.6,650.57 L607.4,650.57 Z" fill="#fff" stroke="#000" stroke-width="1.5" stroke-linejoin="miter"/>
<circle cx="619.55" cy="648.4" r="2.5" fill="#000" stroke="#000" stroke-width="0.4"/>
<circle cx="628.6" cy="618.8" r="3" fill="#000" stroke="#000" stroke-width="0.4"/>
<circle cx="68.3" cy="687.7" r="2.2" fill="#000" stroke="#000" stroke-width="0.4"/>
<text x="100" y="681.3" font-size="7.85" text-anchor="middle">HCV-1</text>
<text x="100" y="690.4" font-size="7.85" text-anchor="middle" fill="#222">sE1E2.Cut<tspan font-size="5" dy="1.6">1+2</tspan><tspan dy="-1.6">-</tspan></text>
<text x="100" y="699.7" font-size="7.85" text-anchor="middle" fill="#222">SPYΔN-His<tspan font-size="5" dy="1.6">6</tspan></text>
<path d="M165.5,684.7 L168.5,687.7 L165.5,690.7 L162.5,687.7 Z" fill="#fff" stroke="#000" stroke-width="1.2"/>
<text x="198" y="681.3" font-size="7.85" text-anchor="middle">HCV-1</text>
<text x="198" y="690.4" font-size="7.85" text-anchor="middle" fill="#222">sE1E2.Cut<tspan font-size="5" dy="1.6">1+2</tspan><tspan dy="-1.6">-</tspan></text>
<text x="198" y="699.7" font-size="7.85" text-anchor="middle" fill="#222">SPYΔN-V1-His<tspan font-size="5" dy="1.6">6</tspan></text>
<path d="M270.3,685.64 L273.5,691.24 L267.1,691.24 Z" fill="#fff" stroke="#000" stroke-width="1.2" stroke-linejoin="miter"/>
<text x="303.4" y="681.3" font-size="7.85" text-anchor="middle">HCV-1</text>
<text x="303.4" y="690.4" font-size="7.85" text-anchor="middle" fill="#222">sE1E2.Cut<tspan font-size="5" dy="1.6">1+2</tspan><tspan dy="-1.6">-</tspan></text>
<text x="303.4" y="699.7" font-size="7.85" text-anchor="middle" fill="#222">SPYΔN-V2-His<tspan font-size="5" dy="1.6">6</tspan></text>
<circle cx="375.1" cy="689.2" r="2.2" fill="#000" stroke="#000" stroke-width="0.4"/>
<text x="409.6" y="681.3" font-size="7.85" text-anchor="middle">HCV-1</text>
<text x="409.6" y="690.4" font-size="7.85" text-anchor="middle" fill="#222">sE1E2.Cut<tspan font-size="5" dy="1.6">1+2</tspan><tspan dy="-1.6">-</tspan></text>
<text x="409.6" y="699.7" font-size="7.85" text-anchor="middle" fill="#222">SPYΔN-V3-His<tspan font-size="5" dy="1.6">6</tspan></text>
<circle cx="481.1" cy="689.5" r="3" fill="#000" stroke="#000" stroke-width="0.4"/>
<text x="519.6" y="681.3" font-size="7.85" text-anchor="middle">HCV-1</text>
<text x="519.6" y="690.4" font-size="7.85" text-anchor="middle" fill="#222">sE1E2.Ext<tspan font-size="5" dy="1.6">1</tspan><tspan dy="-1.6">.Cut</tspan><tspan font-size="5" dy="1.6">2</tspan><tspan dy="-1.6">-</tspan></text>
<text x="519.6" y="699.7" font-size="7.85" text-anchor="middle" fill="#222">SPYΔN-His<tspan font-size="5" dy="1.6">6</tspan></text>
</g></svg></body></html>
